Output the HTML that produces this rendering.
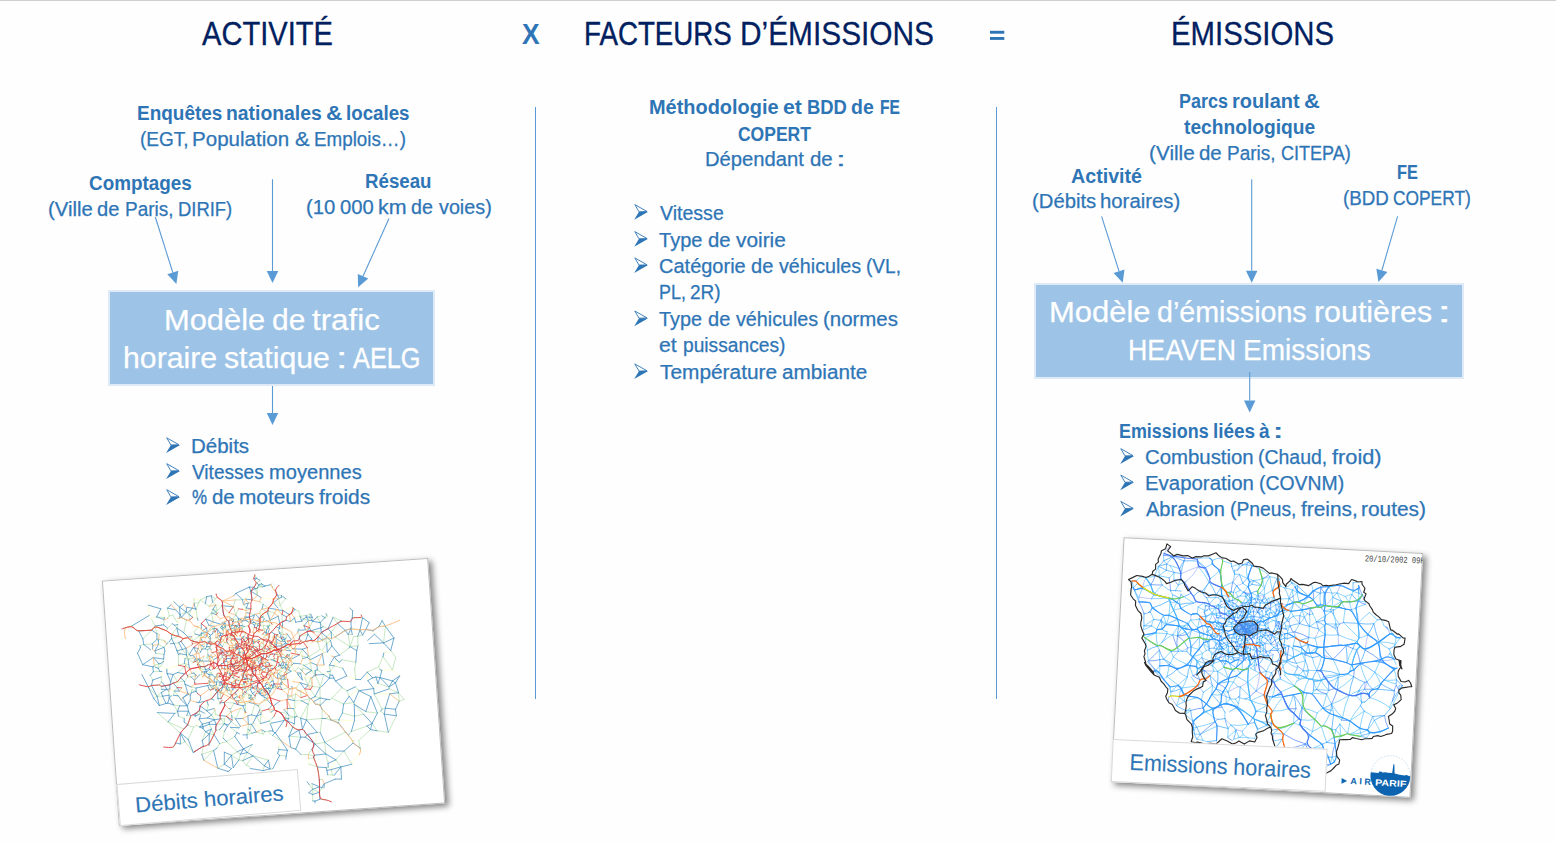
<!DOCTYPE html>
<html lang="fr"><head><meta charset="utf-8"><title>Activité x Facteurs d’émissions = Émissions</title>
<style>
html,body{margin:0;padding:0;}
body{width:1556px;height:844px;overflow:hidden;background:#fefefe;position:relative;font-family:"Liberation Sans",sans-serif;}
.t{position:absolute;white-space:nowrap;transform-origin:0 0;font-weight:400;-webkit-text-stroke:0.25px currentColor;}
.t.b{font-weight:700;-webkit-text-stroke:0;}
.box{position:absolute;background:#9dc3e6;border:2px solid #deebf7;}
.vl{position:absolute;width:1px;background:#5b9bd5;top:106.5px;height:592.5px;}
#topline{position:absolute;left:0;top:0;width:1556px;height:1px;background:#cfcfcf;}
svg.ov{position:absolute;left:0;top:0;}
</style></head><body>
<div id="topline"></div>
<div class="vl" style="left:535px"></div>
<div class="vl" style="left:996px"></div>
<style>
.card{position:absolute;background:#fff;box-sizing:border-box;outline:1px solid #bdbdbd;outline-offset:-1px;
 box-shadow:3.5px 3px 6px rgba(0,0,0,0.48);transform-origin:50% 50%;overflow:visible;}
.card svg{position:absolute;left:0;top:0;overflow:hidden;}
.lab{position:absolute;background:#fff;border:1px solid #d9d9d9;box-sizing:border-box;transform-origin:0 100%;}
.lab span{position:absolute;white-space:nowrap;color:#2e75b6;transform-origin:0 0;-webkit-text-stroke:0.12px #2e75b6;}
</style><div class="card" style="left:109.6px;top:569.0px;width:327.4px;height:246.1px;transform:rotate(-3.97deg);"><svg width="327.4" height="246.1" viewBox="0 0 327.4 246.1"><g fill="none" stroke-linecap="round" stroke-linejoin="round" opacity="0.85"><path d="M139.6,67.0L139.9,70.1M113.4,121.8L117.4,119.6M140.9,80.7L143.9,80.9M111.6,97.0L113.8,96.3M129.9,105.9L131.0,108.3M101.5,62.4L100.9,62.1M132.7,94.2L131.2,95.0M109.0,74.2L110.2,73.1M171.3,107.5L170.4,109.7M79.8,82.2L83.3,81.1M159.0,79.6L159.4,82.1M131.5,90.1L129.3,89.3M100.8,112.3L99.5,115.9M147.7,91.9L148.9,90.5M131.1,64.4L128.1,64.6M128.1,65.6L125.3,67.3M139.8,95.7L139.3,95.7M134.4,105.4L135.0,101.9M90.6,24.3L96.8,26.2M142.9,77.8L142.4,75.5M179.7,86.8L175.4,85.9M140.4,89.8L140.5,89.3M141.8,64.4L144.2,61.8M154.0,110.2L154.2,110.9M178.3,71.8L176.5,73.1M104.0,65.8L103.1,63.6M123.9,80.8L125.1,80.6M239.3,179.4L239.2,177.3M135.4,92.1L135.5,90.7M93.2,98.0L91.1,95.3M184.3,79.3L183.2,83.1M128.8,66.4L131.1,64.4M153.4,102.4L150.9,100.8M170.8,85.9L170.5,87.8M145.3,42.7L144.6,46.6M103.8,52.2L107.2,55.7M184.3,79.3L182.6,78.4M118.8,107.9L120.0,106.7M172.4,115.8L174.0,115.5M192.4,63.1L192.5,61.8M147.7,63.4L146.9,61.8M117.3,107.9L116.6,110.5M91.4,34.9L88.0,42.8M211.1,76.3L207.7,74.6M75.6,109.1L72.2,112.5M97.5,131.6L93.9,127.6M243.7,45.5L245.5,44.5M172.5,151.3L172.7,149.8M138.9,96.0L138.3,96.2M183.6,97.5L180.1,99.1M162.7,118.6L161.3,116.7M157.3,55.7L158.0,56.7M109.5,59.1L110.1,61.3M157.9,79.2L156.7,78.3M148.6,95.4L147.2,97.4M135.4,87.1L136.7,87.1M167.1,80.6L163.9,79.6M224.1,75.8L219.4,73.2M102.3,64.2L99.3,64.1M180.3,102.0L178.0,105.7M135.3,71.1L135.5,71.7M141.6,79.1L141.3,79.5M178.5,111.2L183.6,113.9M158.7,110.6L154.3,109.7M147.5,78.4L148.0,79.6M75.6,74.3L72.7,78.3M225.9,101.1L231.5,97.9M174.6,73.4L174.6,74.8M170.2,74.6L168.4,74.1M127.6,90.3L128.4,91.3M134.9,123.3L138.5,124.2M162.7,118.6L162.8,119.4M84.3,151.0L87.5,145.3M104.0,151.4L109.3,146.1M154.6,73.1L153.2,71.5M201.1,65.1L193.6,68.6M122.7,73.4L122.1,75.3M115.9,55.4L115.4,55.6M183.6,97.5L185.2,103.1M174.9,73.0L175.1,70.3M186.5,120.4L186.7,121.9M56.9,32.2L59.8,41.1M140.4,87.7L141.3,87.5M138.7,79.2L137.6,77.6M125.5,103.3L128.5,102.1M153.5,94.1L151.4,94.5M138.2,73.8L139.0,73.4M101.2,125.7L96.5,126.9M104.3,141.4L102.6,146.6M211.9,121.0L210.7,120.7M107.7,69.0L107.2,70.6M92.9,68.7L93.7,68.3M279.3,132.9L263.9,132.0M153.2,71.5L155.0,69.0M142.2,28.4L147.7,20.6M114.9,66.6L116.1,67.3M112.9,101.3L114.3,102.9M138.3,83.7L139.0,83.3M126.6,89.2L127.6,89.4M160.9,60.5L158.8,62.4M132.2,77.3L134.4,75.8M143.1,74.7L144.8,77.5M128.6,96.8L127.4,94.3M139.0,83.3L140.4,84.6M115.1,115.1L116.6,114.4M132.0,134.6L128.3,129.4M139.2,99.9L138.7,99.1M194.3,88.7L191.9,87.7M52.5,100.2L53.5,94.8M141.8,42.0L141.6,40.0M119.6,54.0L118.7,51.8M167.7,172.2L164.8,177.9M173.6,83.5L169.5,83.7M142.5,95.3L141.1,95.0M139.4,71.5L138.6,70.8M92.9,68.7L93.7,71.1M140.9,117.1L139.6,116.7M88.0,42.8L92.6,44.1M146.3,86.9L145.9,87.2M199.8,74.9L200.4,81.1M116.6,117.7L111.6,118.2M102.2,97.2L100.9,98.8M133.4,126.0L138.6,127.5M105.7,103.6L107.0,104.1M198.6,58.9L194.7,61.4M122.2,77.1L122.6,76.3M171.6,115.8L170.5,117.6M139.6,67.0L137.6,68.5M151.3,60.9L153.0,61.3M190.5,133.5L183.8,140.4M152.0,91.2L153.9,90.2M194.3,101.2L195.5,98.4M131.4,80.6L132.2,79.9M182.2,77.4L180.9,76.5M115.8,96.4L115.3,96.5M119.5,64.6L120.9,66.1M169.3,90.3L170.9,94.1M79.8,82.2L81.9,79.8M144.9,53.1L143.0,55.2M169.3,90.3L174.6,91.8M143.7,85.3L143.5,87.9M118.3,33.4L111.9,32.1M197.2,137.6L203.0,135.4M166.3,92.0L166.4,93.0M116.1,67.3L117.3,67.3M144.1,94.2L145.4,96.2M47.2,90.0L51.2,86.9M114.0,86.3L114.3,89.4M154.0,110.2L150.0,110.7M150.6,79.0L152.3,78.9M151.4,85.3L149.2,81.3M123.7,147.1L120.3,148.2M114.4,60.4L117.5,57.9M95.5,137.0L93.2,139.4M111.3,68.3L113.0,66.9M157.9,67.7L159.6,66.1M159.8,100.8L160.9,101.1M166.8,68.2L163.1,67.8M158.3,58.7L159.3,59.0M130.6,77.0L132.2,77.3M131.0,108.3L130.8,105.7M130.6,77.0L130.6,76.7M132.2,127.1L129.5,126.7M144.3,58.8L148.9,57.2M144.2,91.8L144.7,91.1M142.7,50.9L143.9,51.3M123.8,65.7L124.0,65.3M48.7,128.6L52.5,119.5M118.7,87.7L118.0,86.9M152.3,96.7L152.1,95.3M153.3,88.6L153.4,89.6M92.6,92.4L92.0,91.2M126.6,89.2L126.9,88.8M159.3,59.0L160.9,60.5M181.4,75.1L183.4,73.1M90.5,125.0L90.3,124.1M129.5,77.6L130.6,78.1M125.3,62.3L126.3,60.3M160.8,113.2L158.7,110.6M190.4,54.9L185.5,54.0M89.3,140.9L87.7,140.3M125.4,121.0L121.7,123.2M128.9,56.4L129.3,55.6M176.0,104.6L173.3,102.9M171.9,41.6L171.9,40.7M206.6,104.5L207.1,108.9M131.0,108.3L129.8,109.0M146.4,74.7L146.3,73.9M163.3,105.5L164.8,105.4M133.0,88.8L131.5,90.1M75.4,140.4L72.6,143.1M134.1,88.6L133.0,88.8M157.2,60.7L158.8,62.4M160.8,113.2L161.9,115.7M151.2,104.5L152.9,104.2M167.7,92.4L169.3,90.3M221.0,195.0L215.8,204.4M131.1,64.4L131.8,61.5M146.8,75.2L149.0,77.1M141.6,113.1L144.7,111.2M127.8,118.5L130.1,116.4M145.2,119.0L145.1,121.4M150.1,87.0L151.0,87.1M134.4,37.6L129.3,35.1M223.8,91.1L220.0,86.9M114.1,129.6L111.7,127.6M162.3,99.2L162.1,96.9M101.8,87.7L99.7,91.4M158.0,96.0L154.8,96.0M139.1,89.4L138.4,88.3M157.5,89.5L157.0,89.2M136.5,103.3L137.9,102.9M115.0,113.6L116.6,114.4M140.9,80.7L139.0,83.3M146.9,71.3L148.1,69.7M103.0,88.0L103.7,87.3M105.7,103.6L105.5,105.2M53.7,88.9L58.6,92.8M103.7,75.9L103.3,75.7M159.8,83.1L159.4,82.1M160.8,113.2L159.5,113.6M162.2,147.6L159.5,143.1M190.2,100.3L185.7,95.8M104.2,112.8L104.8,109.0M68.5,106.3L71.7,102.4M215.1,84.5L214.9,88.1M183.4,85.2L183.7,85.4M107.0,111.7L108.3,115.0M103.8,52.2L101.2,54.5M152.3,10.5L154.4,12.8M131.4,94.0L131.4,93.0M196.6,54.3L198.6,58.9M120.6,59.6L117.5,61.4M166.4,93.0L166.3,97.1M127.8,118.5L129.6,123.9M150.5,113.1L149.9,111.6M161.0,93.5L160.2,91.1M146.0,156.5L148.3,153.6M169.7,104.5L168.5,104.2M174.9,91.8L175.0,93.4M192.7,166.4L192.1,170.3M114.1,129.6L119.7,125.7M139.4,110.9L140.3,108.5M138.9,95.0L137.1,94.0M176.0,104.6L178.0,105.7M124.2,89.3L126.2,89.5M133.9,64.8L131.8,61.5M193.7,191.8L193.7,197.3M72.7,46.9L72.7,49.1M141.1,125.1L140.9,125.4M174.3,64.5L176.2,64.0M139.0,79.2L139.9,79.1M236.6,200.5L246.3,188.3M149.8,99.5L148.6,99.7M143.1,74.7L142.5,75.2M143.2,84.1L143.7,85.3M178.4,88.6L178.2,90.0M196.9,108.3L201.5,111.6M127.8,68.9L128.9,72.7M156.2,40.8L158.4,44.3M150.4,53.3L150.3,53.0M93.5,87.2L92.0,91.2M176.9,109.0L175.2,107.2M214.8,109.0L217.7,106.1M147.4,82.7L146.3,84.7M258.4,109.6L258.4,118.2M131.1,54.0L130.7,54.7M163.7,56.1L162.2,56.7M140.0,144.2L140.7,153.1M93.2,98.0L92.1,94.7M111.1,100.7L111.7,100.4M90.3,150.1L95.9,144.3M179.3,72.7L178.3,71.8M193.2,112.9L195.7,110.7M140.4,84.6L141.8,85.3M97.5,72.9L97.9,70.3M153.3,59.6L151.3,60.9M199.8,63.1L201.1,65.1M100.4,109.4L98.8,109.9M139.5,47.5L140.9,49.8M108.2,101.3L109.0,100.4M157.8,105.6L155.9,106.8M72.2,112.5L78.0,118.7M147.4,121.2L146.5,122.8M127.8,118.5L132.4,122.3M152.1,118.5L153.2,117.0M102.1,70.1L100.6,71.1M121.2,104.9L121.2,103.5M91.3,74.4L95.0,75.3M189.4,107.8L183.6,113.9M173.5,99.9L174.2,102.1M91.7,79.1L92.9,78.5M154.9,52.0L153.4,49.3M140.4,87.7L140.0,88.4M132.0,134.6L130.3,128.5M105.3,86.9L103.7,87.3M125.6,115.1L129.3,115.3M145.3,42.7L147.0,38.4M157.2,151.7L149.4,144.4M47.1,42.4L47.0,40.7M181.7,48.9L184.6,46.7M118.6,98.6L118.1,96.6M109.0,53.4L107.2,55.7M144.5,103.4L143.0,103.6M203.6,96.5L203.0,93.1M135.4,87.1L135.4,88.0M169.0,105.2L168.5,104.2M195.7,110.7L201.5,111.6M116.2,196.5L118.1,195.6M148.3,52.2L149.3,55.2M134.2,58.1L133.9,57.0M71.7,34.3L75.6,31.8M114.7,143.9L113.0,146.4M119.7,136.9L119.2,138.9M99.7,68.8L98.6,67.9M162.3,101.5L161.9,101.0M129.6,123.9L132.4,122.3M110.7,118.5L109.9,118.0M121.3,102.5L121.8,102.1M144.1,70.0L145.6,71.2M95.8,54.8L96.6,56.9M155.4,89.7L153.9,90.2M156.6,64.6L153.3,62.8M107.1,156.9L111.8,159.0M98.7,109.8L98.8,109.9M167.5,101.3L162.3,101.5M204.2,166.3L201.5,177.9M85.5,98.7L91.1,95.3M181.7,90.9L181.4,88.3M194.3,88.7L195.3,82.3M206.5,108.9L206.6,109.7M283.3,89.8L276.3,91.6M79.8,82.2L80.6,84.1M151.5,120.7L151.6,123.6M156.6,64.6L157.9,67.7M161.9,119.4L162.8,119.4M144.6,46.6L140.9,49.8M132.6,84.2L130.9,81.9M215.1,84.5L212.9,84.0M192.9,71.8L191.7,73.7M158.9,113.5L158.0,115.0M149.2,97.5L150.0,97.6M135.9,121.7L135.8,122.1M145.6,97.5L147.0,100.1M148.8,110.0L146.4,104.8M124.0,78.3L122.9,78.7M118.6,98.6L117.5,96.9M108.7,36.6L105.4,33.1M268.2,121.7L263.7,126.5M178.0,94.5L176.1,94.2M166.8,55.3L170.5,58.0M136.4,51.2L137.7,50.0M64.7,115.2L60.3,112.8M131.5,90.1L130.0,91.2M161.0,90.3L162.3,90.8M179.3,121.2L178.7,119.6M183.4,85.2L182.1,86.8M93.1,52.8L96.2,49.6M172.8,80.9L173.1,81.9M170.2,74.8L174.3,73.1M171.2,106.5L175.2,107.2M188.1,39.4L178.5,42.5M144.5,83.0L144.9,81.5M109.0,78.7L110.6,77.6M119.5,98.7L119.5,96.3M174.6,73.4L174.3,73.1M173.5,41.2L173.5,47.7M158.7,110.6L159.3,110.0M124.7,40.8L122.4,44.5M115.0,109.7L117.3,107.9M70.1,75.1L72.5,67.3M107.6,125.7L110.2,119.9M125.0,105.3L124.6,106.1M139.4,110.9L137.3,112.5M120.2,143.6L114.7,143.9M212.9,201.7L215.8,204.4M175.0,93.4L170.9,94.1M225.9,101.1L228.6,95.2M96.6,93.2L92.1,94.7M131.4,80.6L130.6,78.1M109.7,64.8L104.7,65.6M182.5,103.5L185.2,103.1M110.5,93.2L109.3,92.5M108.7,117.8L107.0,116.6M265.7,151.2L269.1,149.5M125.0,56.9L126.3,60.3M169.0,105.2L169.7,104.5M245.6,58.6L236.0,56.6M138.0,86.6L138.4,86.5M156.7,118.7L156.6,118.0M162.4,42.3L158.4,44.3M163.7,59.3L162.7,59.1M182.1,118.6L179.3,121.2M111.9,63.3L111.6,64.8M131.9,81.4L131.4,80.6M143.3,83.9L143.2,84.1M167.1,80.6L167.1,78.5M136.9,111.9L134.6,113.0M121.0,82.1L119.2,83.6M127.0,107.9L125.1,106.5M155.5,53.1L154.5,53.3M170.2,74.8L170.2,74.6M155.2,43.4L158.4,44.3M108.2,48.9L109.0,53.4M205.4,76.5L200.4,81.1M127.8,81.8L126.8,81.5M147.2,89.7L146.3,90.3M163.9,76.4L163.2,76.6M215.7,74.9L211.1,76.3M142.0,105.2L143.3,107.0M70.5,89.7L58.6,92.8M169.7,33.9L176.1,36.9M148.1,71.9L148.1,69.7M141.1,125.1L144.8,125.4M120.5,96.4L121.4,94.6M108.8,117.7L108.9,117.4M160.8,97.0L159.9,99.0M220.3,71.9L225.1,74.1M80.6,84.1L77.9,89.0M134.9,80.6L135.9,81.4M96.6,56.9L95.7,59.3M113.5,62.9L113.6,63.3M109.0,78.7L108.3,82.5M162.3,99.2L159.9,99.0M121.0,82.1L118.7,82.8M135.6,117.4L133.2,113.3M121.8,48.5L120.3,44.5M127.6,89.4L126.9,88.8M139.9,127.3L138.5,124.2M123.0,90.2L123.0,88.7M89.5,90.3L88.0,86.9M109.7,64.8L110.0,68.7M115.3,96.5L114.8,95.9M126.0,104.1L125.5,103.3M182.4,76.8L184.3,75.7M145.7,115.9L143.1,116.8M80.6,84.1L83.3,81.1M132.7,118.6L134.7,120.7M155.4,56.1L157.3,55.7M116.2,64.0L117.3,67.3M173.0,114.1L175.2,111.6M156.7,78.3L158.7,75.8M192.4,102.3L194.3,101.2M125.0,56.9L128.6,57.9M110.5,93.2L109.7,95.4M283.7,109.1L290.5,115.7M169.0,105.2L170.7,106.0M195.3,49.3L189.6,50.4M158.2,112.6L158.7,110.6M179.3,72.7L180.9,73.1M120.3,148.2L119.2,149.5M124.9,128.9L123.3,131.4M138.1,87.3L139.0,87.3M126.2,94.6L124.6,93.6M149.9,71.5L150.7,70.4M169.1,101.6L167.5,101.3M174.7,81.6L173.1,81.9M157.2,82.0L156.8,83.3M187.6,122.7L185.6,126.3M165.2,142.1L169.4,143.9M181.1,52.4L181.2,50.9M95.8,54.8L93.1,52.8M132.2,77.3L130.6,78.1M137.3,82.4L136.4,84.2M122.5,91.9L123.2,91.0M160.2,122.1L156.5,121.1M126.2,97.8L128.6,101.2M156.4,113.9L154.2,110.9M139.9,79.1L139.9,79.3M163.6,94.8L161.4,94.9M139.0,61.9L137.1,59.7M108.2,48.9L111.7,41.8M170.2,74.6L174.3,73.1M143.2,102.8L144.0,101.4M123.0,114.0L124.7,115.7M128.6,50.0L127.7,50.0M118.4,84.5L116.5,85.9M85.7,62.0L89.3,59.8M224.9,81.0L219.9,78.1M145.6,50.8L145.7,51.1M156.4,69.6L157.1,70.6M72.7,122.5L68.1,120.2M83.4,65.0L82.1,62.4M145.2,128.2L144.7,126.7M146.0,156.5L140.7,153.1M157.0,115.0L158.0,115.0M93.7,68.3L96.4,68.3M132.2,79.9L130.6,78.1M137.1,59.7L136.4,60.6M142.9,103.2L143.2,102.8M120.3,44.5L119.8,49.1M100.9,116.7L102.1,114.6M144.1,94.2L143.0,94.5M162.5,58.4L162.6,58.0M124.7,45.1L124.7,40.8M100.9,116.7L101.2,125.7M152.3,10.5L151.4,8.2M157.8,98.2L157.7,97.3M162.7,118.6L161.9,119.4M169.5,30.2L157.7,28.0M113.4,121.8L119.7,125.7M134.4,105.4L137.1,104.8M120.3,68.5L117.1,68.0M57.8,64.0L52.0,67.5M190.8,124.3L194.9,122.0M207.1,108.9L206.5,108.9M135.0,101.9L135.9,101.8M118.2,63.0L120.1,63.5M112.0,87.2L114.0,86.3M205.1,221.9L207.2,222.2M137.3,82.4L135.9,81.8M52.1,40.0L47.0,40.7M141.6,111.2L141.1,110.9M68.5,106.3L67.8,111.9M70.3,25.9L67.5,28.7M157.3,55.7L155.5,53.1M170.2,70.1L172.6,68.5M136.5,90.6L136.2,91.5M134.4,75.8L135.4,73.7M208.8,104.0L215.8,99.5M137.2,75.6L134.4,75.8M154.4,56.1L154.5,53.3M92.3,62.7L94.4,63.6M142.2,37.3L138.4,38.4M79.3,80.0L81.9,79.8M169.5,19.4L171.6,21.2M139.9,70.1L142.5,71.8M139.8,73.1L139.0,72.2M144.7,80.8L147.1,80.5M139.0,79.2L138.7,79.2M130.0,60.2L128.5,59.2M77.6,83.5L72.7,78.3M153.2,5.5L151.4,8.2M238.7,132.6L248.1,126.5M120.6,59.6L120.5,58.4M166.0,73.5L168.4,74.1M173.6,86.5L173.2,88.4M117.3,93.3L118.1,96.6M133.3,85.5L135.6,82.9M138.2,76.9L137.6,77.6M118.6,98.6L116.4,100.5M165.2,73.0L166.8,71.2M149.0,159.8L146.0,156.5M283.7,109.1L273.1,108.9M131.3,147.2L133.5,142.0M118.1,96.6L119.5,96.3M69.3,96.9L71.7,102.4M203.0,135.4L204.6,130.5M44.5,27.6L44.9,38.0M237.7,112.0L246.4,116.2M157.9,79.2L157.6,79.7M120.5,69.6L122.4,71.7M170.4,115.6L171.2,114.4M268.3,72.4L266.9,68.9M101.5,62.4L102.3,64.2M142.4,86.6L143.7,85.3M242.3,157.2L226.9,155.6M163.7,60.4L165.6,62.9M160.4,63.7L162.0,63.6M146.4,104.8L147.0,100.1M129.9,105.9L128.4,108.8M74.9,42.6L72.7,46.9M141.3,107.0L142.4,107.5M118.9,56.1L117.8,55.3M206.6,104.5L203.1,104.2M173.3,102.9L170.7,106.0" stroke="#ffffbf" stroke-width="0.75"/><path d="M154.4,119.5L156.5,121.1M158.3,55.9L162.2,56.7M126.8,48.6L125.1,48.4M128.0,189.4L124.3,188.3M113.0,146.4L112.3,151.2M259.7,161.2L264.2,168.9M150.5,118.8L148.3,118.0M176.1,36.9L175.2,30.1M134.9,123.3L133.4,126.0M185.6,126.3L181.3,128.4M176.4,98.7L174.9,97.1M156.2,46.2L155.2,43.4M119.4,79.6L116.4,76.5M129.7,113.4L129.8,109.0M172.5,151.3L176.8,150.4M124.5,63.3L124.0,65.3M175.1,70.3L174.0,68.7M135.1,77.0L136.1,78.7M210.2,121.5L202.6,120.1M85.5,87.9L80.6,84.1M135.6,117.4L139.6,116.7M137.3,53.3L136.5,54.5M232.2,59.1L225.2,67.4M176.1,36.9L178.5,42.5M56.1,52.3L61.2,54.3M130.0,60.2L130.9,57.9M99.5,83.9L101.8,87.7M140.4,87.7L140.5,88.6M163.7,56.1L163.7,56.8M137.1,94.0L135.9,93.5M75.2,164.5L81.4,152.6M71.5,52.4L69.4,49.6M268.2,121.7L279.2,125.9M108.7,117.8L108.8,117.7M220.2,52.6L219.9,52.3M159.5,75.1L160.8,72.5M183.6,97.5L181.3,100.3M127.8,125.9L123.6,126.8M283.3,89.8L287.9,97.1M109.0,53.4L109.3,55.4M103.1,63.6L102.3,64.2M131.3,194.2L134.9,196.2M195.3,49.3L201.3,48.9M185.2,103.1L186.7,103.6M71.5,52.4L72.7,49.1M221.4,106.2L221.2,100.0M99.7,177.2L87.7,180.1M224.1,75.8L219.9,78.1M137.7,65.5L139.5,63.0M183.2,83.1L185.8,81.1M153.8,121.0L151.6,123.6M177.7,97.3L176.4,98.7M113.3,40.3L111.9,39.5M137.1,77.8L136.1,78.7M202.1,93.1L202.1,89.8M134.4,37.6L131.2,43.7M142.2,28.4L138.9,28.8M147.3,89.8L148.9,90.5M75.6,74.3L79.3,80.0M134.4,105.4L136.2,108.0M120.6,59.6L122.4,59.8M126.6,89.2L126.2,89.5M118.3,33.4L112.9,37.8M56.9,77.8L48.7,76.3M78.5,119.4L80.3,120.5M145.3,42.7L150.0,44.8M140.2,77.4L139.9,79.1M61.2,54.3L62.3,52.1M154.8,199.5L157.4,199.6M98.6,67.9L97.9,70.3M182.2,77.4L184.4,77.4M136.8,110.7L135.9,108.4M134.5,90.8L132.0,92.2M91.0,100.8L93.0,100.5M134.1,163.8L137.2,159.7M121.8,164.6L117.9,166.8M99.1,75.5L100.6,76.2M138.4,104.0L137.9,102.9M163.9,76.4L164.7,74.8M132.8,97.1L133.2,98.1M149.7,142.3L151.4,141.0M150.7,70.4L148.1,69.7M184.4,76.7L184.4,77.4M198.9,191.4L193.7,191.8M177.3,99.0L180.1,99.1M139.2,91.8L139.2,90.7M115.9,55.4L116.5,53.6M195.3,49.3L194.3,44.1M101.1,73.2L102.0,73.3M136.4,51.2L137.3,53.3M113.5,112.7L114.5,111.5M96.8,26.2L101.7,30.0M138.9,95.0L139.5,93.9M70.3,43.5L68.5,39.3M148.0,79.6L150.3,80.5M122.8,126.3L123.6,126.8M51.8,112.6L51.8,109.7M154.6,73.1L157.1,70.6M125.0,56.9L127.4,59.3M166.8,55.3L164.8,56.7M178.4,101.6L178.0,105.7M144.6,79.1L147.1,80.5M119.6,54.0L117.8,55.3M111.0,102.9L108.2,101.3M149.2,195.9L147.7,200.7M165.3,186.6L171.7,187.8M220.3,71.9L225.2,67.4M196.9,108.3L203.1,104.2M118.1,114.2L116.9,111.8M128.8,53.7L130.1,54.2M45.8,66.7L37.4,66.7M107.1,119.0L108.1,118.6M160.6,104.4L162.4,103.0M164.0,104.2L165.8,103.9M132.2,127.1L130.3,128.5M194.7,61.4L193.4,62.5M183.6,97.5L179.3,96.8M135.4,88.0L136.7,87.1M63.3,42.4L63.1,41.4M177.2,147.6L176.8,150.4M147.3,73.4L148.1,71.9M151.3,60.9L149.5,62.4M183.0,93.0L181.3,91.3M109.0,117.2L108.9,117.4M152.4,50.8L150.3,53.0M156.7,128.9L157.0,129.6M128.0,47.0L128.4,47.9M217.1,150.7L211.0,143.9M100.8,112.3L100.4,111.3M149.0,159.8L150.3,164.3M156.3,15.3L157.7,17.1M99.7,68.8L102.1,68.5M103.6,157.2L107.1,156.9M169.1,101.6L173.3,102.9M206.4,213.7L203.2,213.4M95.5,171.8L101.1,161.1M272.5,152.7L269.1,149.5M175.9,168.2L187.6,169.9M100.4,109.4L100.4,111.3M101.5,59.1L96.6,56.9M190.8,115.6L190.4,115.5M104.3,141.4L107.9,142.6M155.8,32.0L159.3,34.8M246.1,105.7L247.7,99.0M78.1,57.7L81.7,45.3M206.6,104.5L205.8,108.7M225.5,202.4L221.0,195.0M163.7,56.1L164.0,56.8M146.6,87.4L145.9,87.2M97.5,72.9L95.0,75.3M161.3,116.7L160.5,119.1M162.4,42.3L157.7,39.5M138.3,110.4L138.0,108.6M124.3,160.8L118.0,155.3M222.3,63.6L217.5,61.3M127.4,94.3L128.9,91.6M153.2,5.5L154.3,8.3M170.8,85.9L172.9,86.5M129.9,105.9L127.0,107.9M165.7,75.3L164.7,74.8M159.9,128.6L158.1,124.2M142.6,79.0L141.6,79.1M134.4,105.4L136.5,103.3M129.6,85.8L133.0,88.8M92.1,35.0L95.3,28.4M135.5,158.5L134.1,163.8M109.3,146.1L112.3,151.2M80.8,89.8L77.9,89.0M169.7,104.5L173.3,102.9M103.0,74.8L102.0,73.3M98.9,155.7L97.2,150.7M107.0,39.9L101.0,45.6M265.7,151.2L254.3,149.0M112.9,37.8L111.9,39.5M178.5,111.2L177.3,110.6M186.5,187.1L193.9,187.8M115.9,55.4L116.3,56.0M118.4,84.5L116.4,83.0M100.1,141.6L102.6,146.6M148.5,51.7L148.3,52.1M159.4,17.4L157.7,17.1M211.8,50.3L212.6,51.1M141.3,107.0L142.0,105.2M198.9,191.4L202.4,200.9M79.3,177.8L71.7,166.4M163.2,76.6L162.4,79.8M176.4,98.7L177.3,99.0M264.2,168.9L275.3,171.2M65.8,58.9L71.5,52.4M65.5,62.6L72.9,61.0M112.2,79.6L110.6,77.6M142.9,129.2L145.2,128.2M126.0,54.2L123.8,53.6M130.6,77.0L129.5,77.6M166.2,90.1L166.4,91.6M104.3,141.4L103.8,137.0M132.9,108.6L131.9,109.2M134.2,58.1L136.3,57.0M125.0,105.3L122.8,103.5M139.1,162.7L134.1,163.8M132.8,97.1L131.2,97.9M178.1,29.0L179.6,28.5M147.6,135.9L148.7,137.4M107.6,109.2L110.6,109.5M248.1,126.5L249.0,127.6M283.7,109.1L287.9,97.1M131.3,194.2L128.0,189.4M156.6,64.6L159.6,66.1M88.4,136.5L87.7,140.3M110.6,109.5L111.5,109.4M86.2,66.7L92.3,62.7M115.0,109.7L116.6,110.5M155.7,162.2L156.6,161.4M139.2,91.8L141.4,93.7M151.7,119.6L151.5,120.7M176.2,111.2L177.3,110.6M94.7,86.8L95.1,87.3M128.6,57.9L128.9,56.4M199.8,74.9L198.9,74.3M246.1,71.1L242.1,70.8M139.9,127.3L140.0,128.9M142.5,75.2L142.4,75.5M96.8,26.2L103.4,23.3M198.6,52.2L195.3,49.3M78.9,102.1L75.4,106.3M51.2,86.9L50.1,91.3M208.6,234.1L202.3,233.3M208.8,104.0L214.8,109.0M64.8,40.1L68.5,39.3M219.4,73.2L219.9,78.1M214.8,109.0L210.7,120.7M137.0,88.6L137.4,88.1M75.4,140.4L79.2,140.9M112.1,26.0L109.0,29.1M139.1,162.7L137.2,159.7M154.3,18.4L157.7,17.1M137.0,99.6L136.6,98.7M155.5,122.8L156.5,121.1M135.5,90.7L134.8,90.7M99.7,73.4L98.8,75.2M202.6,120.1L201.5,111.6M232.2,123.2L236.8,126.9M119.8,117.4L117.6,117.7M172.3,87.8L172.9,86.5M108.7,117.8L108.8,118.1M128.4,47.9L133.9,47.4M128.8,76.5L129.5,77.6M87.0,85.8L88.0,86.9M178.1,80.9L181.2,79.9M155.7,162.2L158.3,165.6M130.9,57.9L128.9,56.4M153.0,93.1L152.0,91.2M107.0,111.7L110.6,112.8M170.4,109.7L171.0,110.4M167.1,78.5L164.2,77.1M220.2,52.6L222.7,51.2M143.8,97.9L143.7,98.3M288.3,140.9L293.2,139.5M180.1,128.2L177.6,126.8M195.5,217.1L195.8,222.7M159.0,14.2L157.7,17.1M147.5,78.4L146.2,75.9M103.9,81.9L103.2,81.8M176.2,111.2L175.2,111.6M191.9,87.7L195.3,82.3M152.3,96.7L154.8,96.0M165.0,180.8L164.8,177.9M64.7,115.2L67.8,111.9M175.0,65.8L177.6,66.2M176.0,145.3L176.2,140.5M136.3,57.0L139.1,55.8M182.2,77.4L182.4,76.8M102.9,99.5L103.4,101.5M109.3,146.1L107.9,142.6M175.0,65.8L174.3,64.5M163.7,56.1L165.5,53.3M142.2,93.2L143.7,92.1M141.5,89.1L140.5,89.3M75.6,109.1L76.0,109.2M149.4,144.4L148.3,153.6M70.1,75.1L72.7,78.3M150.7,70.4L151.5,70.1M112.2,79.6L114.1,80.3M207.3,166.6L204.2,166.3M90.4,29.0L95.3,28.4M102.2,97.2L102.8,96.9M141.0,127.6L139.9,127.3M167.0,99.5L170.3,97.9M119.4,79.6L122.9,78.7M77.4,90.8L77.9,89.0M232.6,139.9L242.9,139.0M159.2,117.9L160.1,116.4M117.2,183.2L123.1,180.1M133.2,113.3L134.6,113.0M165.7,75.3L163.9,76.4M111.8,159.0L110.0,165.4M124.0,78.3L125.4,75.8M130.3,96.0L131.2,97.9M202.4,226.2L205.1,221.9M100.9,98.8L102.9,99.5M142.2,37.3L141.6,40.0M119.2,118.6L121.7,119.2M145.3,94.2L144.1,94.2M52.7,62.5L50.9,62.4M153.7,81.5L157.2,82.0M156.7,78.3L156.4,74.1M238.7,132.6L236.8,126.9M159.0,14.2L159.4,17.4M41.6,98.0L43.9,102.7M142.4,86.6L141.5,86.3M49.9,49.0L46.5,52.7M121.7,123.2L121.7,119.2M86.2,66.7L85.7,62.0M245.6,123.5L248.1,126.5M135.9,92.8L137.4,91.9M147.1,50.4L145.7,51.1M112.1,26.0L113.4,24.6M283.7,109.1L275.2,95.3M230.1,138.5L221.3,133.3M120.3,63.4L120.1,63.5M242.1,70.8L243.0,83.0M126.2,182.8L123.1,180.1M135.6,117.4L134.6,113.0M171.6,66.5L171.3,66.2M118.7,87.7L118.7,89.0M184.0,133.1L183.8,140.4M158.3,58.7L158.0,56.7M100.9,103.2L103.4,101.5M100.9,108.7L99.5,107.5M163.8,96.4L166.3,97.1M177.0,59.4L173.9,59.8M175.0,77.6L177.7,78.6M229.8,186.8L236.6,200.5M139.5,153.7L137.2,159.7M119.8,55.3L121.7,58.1M107.0,39.9L111.9,39.5M218.8,154.9L226.8,155.2M81.7,117.9L81.9,115.6M118.7,51.8L120.1,53.8M75.8,150.1L81.4,152.6M129.9,83.2L130.9,81.9M166.7,118.3L167.4,119.7M148.8,88.4L148.9,90.5M173.0,114.1L174.0,115.5M131.0,70.8L135.2,68.1M143.3,83.9L144.5,83.0M125.3,62.3L129.2,62.5M109.2,70.0L107.7,69.0M211.3,188.4L213.0,197.9M131.2,43.7L128.0,47.0M125.3,109.2L125.1,106.5M39.1,109.6L42.2,107.9M71.4,153.6L56.2,145.6M120.1,122.5L117.4,119.6M178.4,88.6L175.4,85.9M111.7,41.8L111.9,39.5M115.4,79.9L114.1,80.3M50.5,107.9L47.6,108.2M148.8,110.0L150.0,110.7M104.8,79.6L108.3,82.5M211.2,176.7L201.5,177.9M109.9,118.0L108.9,117.4M167.1,78.5L163.9,79.6M163.2,64.6L163.1,67.8M143.8,90.3L144.9,90.5M245.3,105.6L246.1,105.7M180.1,128.2L181.3,128.4M112.9,37.8L111.9,32.1M242.9,139.0L243.2,140.8M132.2,124.5L133.4,126.0M95.5,137.0L97.5,131.6M157.2,82.0L159.4,82.1M197.4,183.2L193.9,187.8M251.8,151.4L243.2,140.8M247.4,73.1L243.0,83.0M166.7,118.3L163.7,116.2M228.1,52.6L232.2,59.1M121.1,101.6L121.2,100.5M187.6,122.7L186.7,121.9M279.2,125.9L279.1,127.8M129.6,85.8L133.3,85.5M82.0,37.2L83.2,38.1M275.3,171.2L284.4,155.2M115.9,55.4L115.3,54.8M113.1,113.0L113.1,114.4M171.3,107.5L171.2,106.5M154.4,119.5L152.4,119.8M126.3,123.0L127.1,124.7M47.0,119.2L51.6,115.7M103.4,175.0L106.2,170.7M182.8,90.6L184.7,91.0M138.7,91.3L139.2,90.7M52.7,62.5L57.8,64.0M159.7,101.2L160.9,101.1M144.9,146.0L148.3,153.6M138.5,185.2L153.8,190.7M104.9,84.0L105.0,85.6M288.2,132.4L293.2,139.5M53.7,88.9L50.1,91.3M81.7,117.9L78.5,119.4M141.0,127.6L140.9,125.4M239.2,177.3L240.7,177.1M145.6,50.8L143.9,51.3M163.7,41.9L165.1,51.1M118.8,115.5L119.8,117.4M215.3,50.6L212.6,51.1M154.9,52.0L155.5,53.1M99.7,177.2L89.2,186.3M84.7,138.8L87.7,140.3M146.8,32.4L144.6,32.4M202.4,226.2L195.8,222.7M226.2,158.2L226.9,155.6M216.5,209.9L215.8,204.4M119.6,93.2L119.7,89.9M127.1,124.7L127.8,125.9M115.0,113.6L113.1,114.4M142.6,109.5L144.7,111.2M173.2,62.5L173.3,63.1M111.6,97.0L109.7,95.4M136.2,108.0L138.0,108.6M137.0,99.6L138.7,101.3M211.2,176.7L211.3,188.4M177.4,46.3L177.3,53.4M209.6,132.2L204.6,130.5M171.6,66.5L173.5,64.9M202.3,96.7L195.5,98.4M143.1,74.7L146.2,75.9M139.0,73.4L137.7,72.7M203.6,96.5L202.3,96.7M89.0,166.4L92.9,157.9M186.5,120.4L190.4,115.5M159.8,115.6L158.2,115.1M213.9,153.2L218.8,154.9M154.3,18.4L154.3,25.5M153.3,86.8L153.3,88.6M184.0,133.1L190.5,133.5M238.4,167.9L236.2,170.4M128.8,66.4L128.1,65.6M137.9,102.8L137.9,102.9M152.9,75.7L149.0,77.1M232.2,123.2L221.3,133.3M115.6,74.2L118.0,70.3M156.2,46.2L155.0,48.4M65.8,58.9L72.9,61.0M150.3,164.3L143.7,161.6M123.9,57.9L123.5,57.8M119.7,136.9L123.3,131.4M137.0,88.8L136.8,89.0M132.6,84.2L133.5,81.1M144.3,133.5L140.0,144.2M221.5,194.3L221.0,195.0M166.7,118.3L163.4,118.8M180.2,159.6L175.5,153.0M159.8,115.6L161.9,115.7M123.8,65.7L125.3,67.3M206.0,47.9L204.5,50.9M201.9,68.0L193.6,68.6M56.2,145.6L67.7,157.5M138.1,87.7L138.4,88.3M137.7,65.5L137.6,68.5M205.8,108.7L206.5,108.9M242.7,152.8L251.8,151.4M89.8,172.0L87.7,180.1M136.6,119.9L135.6,117.4M59.0,118.9L61.3,119.9M228.7,72.4L243.0,83.0M163.0,73.6L162.1,70.4M68.5,106.3L64.5,98.6M124.9,68.8L124.6,70.0M288.2,132.4L288.3,140.9M168.3,66.5L168.4,65.3M82.0,102.0L86.8,101.5M134.5,90.8L132.1,90.6M190.2,100.3L186.7,103.6M69.5,115.5L72.2,112.5M127.4,94.3L126.2,94.6M279.7,65.3L276.7,81.6M133.3,85.5L132.6,84.2M93.6,61.3L94.4,63.6M245.1,177.4L246.3,185.1M170.8,85.9L169.6,85.8M251.4,73.3L251.0,82.8M140.1,46.0L140.1,47.1M190.8,124.3L190.5,130.5M120.2,143.6L123.7,147.1M160.6,83.9L162.5,83.3M193.7,197.3L202.4,200.9M52.3,63.5L50.9,62.4M162.1,70.4L163.1,67.8M158.7,75.8L156.4,74.1M120.2,143.6L119.9,140.0M113.5,112.7L115.0,113.6M177.0,69.0L179.6,70.2M144.4,105.5L144.5,105.1M186.2,81.2L191.9,87.7M204.6,130.5L200.6,123.0M134.4,105.4L133.3,104.8M125.8,74.4L127.1,73.6M80.6,84.1L77.6,83.5M192.4,96.7L195.5,98.4M144.1,70.0L142.5,71.8M88.0,86.9L92.4,86.1M156.7,78.3L152.9,75.7M123.4,105.7L122.8,103.5M172.4,115.8L173.0,114.1M154.3,48.4L153.4,49.3M46.3,88.1L51.2,86.9M275.2,95.3L270.1,105.1M150.3,164.3L152.3,161.9M113.4,169.2L117.9,166.8M132.7,94.2L135.5,92.6M146.5,52.9L145.7,51.1M156.7,78.3L154.8,79.8M212.9,84.0L211.1,76.3M109.3,146.1L113.0,146.4M160.5,119.1L161.9,119.4M93.2,98.0L93.0,100.5M47.0,119.2L52.5,119.5M131.7,54.5L131.7,54.9M159.8,115.6L159.5,113.6M174.5,79.4L173.4,77.5M88.0,86.9L90.3,89.8M124.5,95.6L124.7,95.6M95.3,61.3L94.5,61.2M132.7,118.6L133.2,113.3M233.9,95.5L247.7,99.0M178.0,94.5L178.2,90.0M129.3,35.1L131.2,43.7M180.2,159.6L182.1,156.2M173.6,83.5L175.7,82.2M53.7,88.9L55.9,85.0M210.7,202.0L212.9,201.7M94.7,86.8L96.7,82.3M112.1,26.0L108.2,22.7M66.5,135.5L63.1,129.0M156.2,46.2L157.6,47.4M133.3,181.5L138.7,173.9M142.0,89.1L143.5,87.9M128.1,64.6L124.0,65.3M157.6,52.6L155.5,53.1M129.5,77.6L127.6,78.6M172.8,80.9L174.5,79.4M182.2,77.4L182.6,78.4M151.7,119.6L152.4,119.8M176.3,68.6L177.6,66.2M166.2,90.1L163.1,90.5M178.5,73.4L178.3,71.8M154.4,99.6L152.5,100.0M246.3,185.1L246.3,188.3M180.3,102.0L181.3,100.3M215.3,66.8L204.8,64.5M102.8,106.6L100.9,108.7M94.3,101.7L95.3,101.8M182.1,30.6L183.3,31.1M180.2,159.6L186.1,162.9M113.5,62.9L114.5,62.8M258.4,109.6L270.1,105.1M153.8,121.0L152.4,119.8M124.7,85.5L126.7,83.8M105.4,33.1L109.0,29.1M124.5,95.6L124.6,93.6M185.7,95.8L183.0,93.0M153.3,88.6L151.0,87.1M167.1,80.6L169.0,78.7M52.1,40.0L59.8,41.1M86.3,117.0L82.4,115.1M118.7,82.8L119.2,83.6M117.2,183.2L124.3,188.3M167.9,15.7L169.8,18.1M151.2,104.5L152.0,106.9M138.5,124.2L138.6,127.5M214.9,57.0L212.6,51.1M131.4,94.0L132.7,94.2M43.5,121.1L47.0,119.2M206.0,47.9L201.3,48.9M119.8,81.3L118.7,82.8M171.6,115.8L170.4,115.6M63.9,107.1L68.5,106.3M147.3,73.4L146.3,73.9M110.6,126.1L110.2,119.9M55.9,85.0L56.2,82.5M210.0,152.7L211.0,143.9M134.4,105.4L132.9,108.6M206.7,54.3L204.5,50.9M139.8,73.1L139.9,73.2M141.1,125.1L140.9,124.9M246.1,105.7L246.4,116.2M184.0,133.1L181.3,128.4M217.5,61.3L214.9,57.0M84.6,39.6L83.2,38.1M64.8,40.1L63.1,41.4M121.2,104.9L122.8,103.5M95.3,61.3L95.1,61.9M157.3,55.7L158.3,55.9M96.8,26.2L95.3,28.4M177.7,78.6L174.5,79.4M153.3,59.6L150.9,57.6M104.2,112.8L103.9,115.7M36.8,60.9L46.4,52.9M147.7,63.4L147.6,65.0M84.3,151.0L81.4,152.6M137.9,88.2L137.4,88.1M145.6,97.5L144.8,97.9M160.5,148.9L157.2,151.7M160.4,63.7L161.5,64.8M123.8,53.6L120.1,53.8M198.6,52.2L203.2,54.0M195.1,234.4L195.5,228.0M132.2,79.9L133.5,81.1M33.2,52.8L30.7,51.8M126.2,182.8L124.3,188.3M230.1,138.5L232.6,139.9M46.2,88.8L47.2,90.0M138.1,87.7L137.0,87.2M143.7,85.3L141.8,85.3M188.8,151.0L197.2,137.6M162.2,56.7L163.7,56.8M115.0,109.7L114.0,108.2M146.7,117.7L145.2,119.0M203.2,213.4L202.4,200.9M123.9,80.1L122.9,78.7M96.6,160.4L101.1,161.1M115.3,54.8L115.4,55.6M114.1,70.9L116.1,67.3M132.2,127.1L131.9,124.7M144.7,104.2L144.5,103.4M78.8,100.7L83.2,98.6M182.4,76.8L184.4,77.4M279.7,65.3L273.5,64.7M173.5,99.9L174.9,97.1M139.9,79.3L141.3,79.5M103.9,63.0L104.5,62.0M142.9,77.8L142.6,79.0M146.8,67.3L145.9,68.3M113.4,169.2L123.1,180.1M121.3,102.5L121.1,101.6M163.6,111.7L164.8,105.4M230.8,148.7L242.7,152.8M102.9,99.5L100.2,101.0M100.6,80.8L100.6,76.2M132.2,77.3L130.6,76.7M157.6,79.7L154.8,79.8M42.2,107.9L47.6,108.2M134.7,73.1L135.4,73.7M134.0,140.5L129.9,136.8M184.4,76.7L184.3,75.7M210.0,152.7L194.5,153.2M121.7,123.2L119.7,125.7M165.5,53.3L165.1,51.1M221.1,110.0L218.6,106.4M79.2,73.3L81.9,79.8M95.1,61.9L99.3,64.1M89.3,59.8L88.6,57.5M154.8,79.8L152.9,79.6M159.9,128.6L159.3,123.8M91.1,95.3L90.8,93.2M154.4,119.5L154.3,121.1M84.3,151.0L87.6,152.8M39.1,109.6L47.0,119.2M109.4,130.2L108.5,131.7M46.2,135.5L56.2,145.6M76.5,88.5L77.9,89.0M199.7,90.8L194.8,89.1M159.6,166.4L167.7,172.2M195.7,110.7L198.6,118.7M135.5,158.5L136.2,153.5M271.4,108.2L270.1,105.1M158.3,58.7L157.2,60.7M238.4,167.9L254.6,163.4M135.9,99.3L136.6,98.7M104.2,76.3L104.1,77.2M198.6,118.7L201.5,111.6M191.5,163.6L189.8,162.1M157.5,89.5L159.9,87.3M112.9,37.8L108.7,36.6M175.5,153.0L172.1,152.2M98.9,155.7L101.1,161.1M47.1,42.4L49.9,49.0M164.1,38.9L159.3,34.8M133.3,181.5L128.0,189.4M190.5,133.5L199.5,132.2M193.8,104.5L191.8,106.1M95.7,59.3L100.9,62.1M194.5,153.2L197.2,137.6M138.3,110.4L140.3,108.5M273.9,146.8L270.6,147.5M144.2,96.8L145.2,97.1M81.8,112.3L86.5,113.7M105.0,69.1L104.0,67.7M159.3,59.0L158.8,62.4M203.1,104.2L205.8,108.7M67.1,47.8L62.3,52.1M106.3,95.6L109.7,95.4M109.0,117.2L113.1,114.4M156.8,130.6L153.5,129.7M26.9,47.2L18.3,49.1M30.7,51.8L26.9,47.2M148.7,137.4L148.5,139.8M107.6,125.7L109.4,130.2M131.3,194.2L138.5,185.2M92.0,91.2L90.8,93.2M118.8,115.5L117.6,117.7M190.2,100.3L192.4,102.3M219.9,78.1L215.1,84.5M67.7,67.7L72.5,67.3M57.3,70.8L52.0,67.5M154.5,53.3L152.6,55.5M150.9,100.8L151.1,98.7M129.3,55.6L130.7,54.7M131.4,94.0L130.8,94.0M166.8,68.2L168.3,66.5M101.7,30.0L105.4,33.1M103.8,137.0L100.1,141.6M84.6,39.6L84.8,45.4M183.1,149.4L177.2,147.6M239.2,177.3L235.2,171.7M117.5,57.9L117.8,55.3M112.8,112.4L110.6,112.8M107.6,109.2L108.1,106.6M90.6,24.3L90.4,29.0M193.8,104.5L194.3,101.2M102.7,195.2L109.4,191.7M50.5,107.9L52.5,105.2M82.0,37.2L75.6,39.3M64.7,115.2L68.1,120.2M124.9,68.8L127.8,68.9M151.4,141.0L148.5,139.8M80.6,84.1L85.7,83.4M228.7,72.4L225.2,67.4M71.2,79.1L70.5,89.7M75.4,106.3L68.5,106.3M157.8,10.8L154.4,12.8M189.4,107.8L191.8,106.1M141.8,113.5L141.2,113.5M143.0,94.5L142.0,93.7M247.3,54.0L257.5,55.1M144.7,104.2L146.4,104.8M170.9,94.1L174.6,91.8M79.8,82.2L77.6,83.5M251.4,73.3L247.4,73.1M59.7,171.9L62.3,167.0M191.9,65.0L193.6,68.6M241.9,84.3L232.0,90.8M196.8,75.6L198.9,74.3M119.6,93.2L122.5,91.9M153.8,121.0L154.4,119.5M171.7,110.2L171.0,110.4M113.5,130.0L114.1,129.6M146.5,122.8L149.2,123.7M202.6,120.1L198.6,118.7M162.8,85.4L162.5,83.3M219.1,134.6L221.3,133.3M136.5,79.3L136.1,78.7M163.3,105.5L160.6,104.4M199.8,74.9L203.4,74.0M130.1,54.2L130.7,54.7M158.1,154.5L159.6,153.9M134.5,90.8L133.0,88.8M51.2,56.8L49.9,49.0M139.1,55.8L143.0,55.2M173.5,99.9L176.9,100.9M181.7,48.9L181.2,50.9M141.6,111.2L141.3,112.6M288.2,132.4L279.1,127.8M159.3,49.0L161.3,51.5M107.1,119.0L106.1,117.6M92.1,94.7L97.2,96.1M195.0,91.6L194.8,89.1M121.0,82.1L122.0,82.3M123.7,147.1L129.9,136.8M176.0,145.3L169.4,143.9M57.3,70.8L60.1,68.0M118.6,98.6L119.1,99.3M174.3,64.5L173.3,63.1M184.0,133.1L185.6,126.3M135.6,48.1L132.9,50.6M99.5,83.9L100.6,80.8M108.2,106.3L108.1,106.6M207.3,166.6L210.0,152.7M148.4,84.9L146.3,84.7M138.2,84.7L140.4,84.6M156.0,115.3L157.0,115.0M142.2,37.3L139.6,33.7M153.9,101.1L152.5,100.0M49.9,49.0L56.1,52.3M63.5,32.0L64.8,40.1M138.7,123.6L135.8,122.1M57.8,64.0L61.3,66.7M126.4,156.3L119.2,149.5M107.0,39.9L108.2,48.9M121.0,82.1L119.8,81.3M138.5,131.7L134.3,132.4M113.4,169.2L106.2,170.7M202.8,111.6L206.6,109.7M118.9,56.1L117.5,57.9M86.8,101.5L85.5,98.7M108.6,56.8L109.3,55.4M157.2,151.7L159.6,153.9M81.9,115.6L82.4,115.1M104.9,84.0L105.5,83.8M153.8,109.4L150.4,108.8M257.7,167.2L245.1,177.4M119.2,70.4L120.5,69.6M179.3,72.7L178.5,73.4M225.9,101.1L221.4,106.2M157.3,92.9L157.5,89.5M256.3,72.3L251.4,73.3M191.7,76.2L193.2,77.0M178.2,27.2L174.4,26.7M155.7,116.6L156.6,118.0M151.4,17.2L147.7,20.6M128.1,64.6L128.1,65.6M121.8,83.7L122.0,82.3M169.3,90.3L170.5,87.8M160.6,148.7L162.2,147.6M174.9,73.0L176.5,73.1M51.2,56.8L53.4,57.8M59.0,118.9L59.2,115.0M145.9,87.2L143.7,85.3M200.7,89.3L202.1,89.8M163.1,67.8L160.3,66.0M97.7,99.2L96.3,98.1M207.2,55.2L203.9,61.2M79.2,140.9L75.8,150.1M216.5,209.9L218.3,210.2M197.2,137.6L199.5,132.2M121.8,83.7L123.2,83.2M109.7,104.1L108.5,104.1M140.9,124.9L138.7,123.6M107.0,39.9L108.7,36.6M108.0,70.8L107.7,69.0M124.2,101.2L121.8,102.1M199.4,189.6L193.9,187.8M182.1,86.8L179.7,86.8M142.4,107.5L143.3,107.0M119.1,99.3L121.2,100.5M66.5,135.5L63.5,137.5M152.9,98.1L152.5,100.0M107.8,119.5L108.1,118.6M181.2,79.9L183.2,83.1M110.2,119.7L110.7,118.5M129.4,83.4L129.3,83.9M211.8,209.3L216.5,209.9M139.4,71.5L139.0,72.2M130.6,92.5L130.0,91.2M154.2,128.0L154.5,126.0M134.5,134.0L134.0,140.5M58.5,48.4L59.4,43.2M158.2,47.3L158.4,44.3M155.7,162.2L152.3,161.9M67.0,140.5L72.6,143.1M98.6,67.9L98.2,67.7M144.7,80.8L144.6,79.1M125.1,80.6L123.9,80.1M145.4,84.6L145.8,84.3M144.5,103.4L144.0,101.4M203.2,54.0L204.5,50.9M125.0,56.9L126.0,54.2M202.1,93.1L203.0,93.1M212.9,84.0L202.1,89.8M148.3,52.2L150.3,53.0M168.3,66.5L169.7,67.8M127.4,59.3L128.5,59.2M194.3,44.1L190.6,42.0M156.7,128.9L158.1,124.2M159.2,117.9L160.5,119.1M174.2,111.2L175.2,110.6M204.6,138.4L206.1,138.1M183.1,149.4L182.6,141.0M68.8,130.3L63.1,129.0M203.1,104.2L202.3,96.7M93.1,52.8L88.6,57.5M146.9,71.3L148.1,71.9M91.3,74.4L93.4,78.2M210.2,121.5L209.6,132.2M131.7,54.5L132.8,53.6M181.7,90.9L181.3,91.3M76.6,91.4L69.3,96.9M107.5,58.5L108.9,58.9M133.9,140.7L133.5,142.0M104.0,151.4L112.3,151.2M172.1,121.2L178.7,119.6M131.7,28.5L138.9,28.8M225.9,101.1L234.2,104.1M92.3,62.7L93.6,61.3M123.3,131.4L114.1,129.6M192.8,217.9L195.8,222.7M108.6,56.8L107.2,55.7M245.3,65.1L254.1,67.1M157.6,52.6L161.3,51.5M92.4,85.0L92.3,84.7M111.3,85.4L114.0,86.3M103.1,90.7L99.7,91.4M151.9,54.1L152.6,55.5M137.4,74.2L136.6,73.9M114.7,85.0L116.5,85.9M176.1,36.9L182.1,30.6M157.3,68.1L156.4,69.6M175.2,110.6L175.2,111.6M71.7,166.4L67.0,168.4M37.4,66.7L33.5,67.5M156.2,46.2L158.4,44.3M214.9,88.1L218.2,86.6M210.7,120.7L206.6,109.7M140.9,124.9L142.4,123.0M111.1,100.7L111.4,102.1M170.1,44.3L163.7,41.9M119.2,70.4L118.0,70.3M111.9,32.1L109.0,29.1M119.2,105.0L120.0,104.9M119.2,118.6L117.6,117.7M178.1,80.9L177.7,78.6M251.0,82.8L243.0,83.0M211.2,176.7L232.7,168.1M121.8,102.1L122.8,103.5M213.9,153.2L217.1,150.7M134.5,134.0L134.3,132.4M188.1,39.4L189.1,40.8M72.7,46.9L70.3,43.5M125.9,92.9L126.4,92.6M151.4,17.2L154.4,12.8M143.0,103.6L142.4,104.0M263.9,132.0L270.6,147.5M131.7,54.5L131.1,54.0M176.0,145.3L172.7,149.8M215.3,66.8L216.4,74.2M129.7,72.3L127.8,68.9M122.8,126.3L119.7,125.7M131.7,28.5L129.3,35.1M176.2,64.0L177.6,66.2M221.5,194.3L229.8,186.8M45.0,94.4L51.6,94.6M136.6,119.9L140.6,118.7M254.1,67.1L260.1,66.9M236.0,56.6L228.1,52.6M52.5,105.2L52.5,100.2M155.2,43.4L156.2,40.8M134.3,132.4L130.3,128.5M135.9,81.4L135.9,81.8M219.9,52.3L221.9,50.0M130.0,60.2L129.3,61.6M70.5,89.7L76.5,88.5M101.5,59.1L107.2,55.7M64.7,115.2L63.4,119.3M147.6,135.9L153.5,129.7M166.9,89.3L169.3,90.3M122.1,58.8L123.5,57.8M87.0,85.8L85.5,87.9M185.3,149.0L182.6,141.0M130.9,57.9L130.9,56.2M157.6,79.7L157.2,82.0M128.4,47.9L127.7,50.0M158.0,56.7L158.3,55.9M128.6,50.0L132.9,50.6M203.1,104.2L194.3,101.2M143.6,74.0L144.0,73.6M177.0,59.4L176.2,64.0M178.5,73.4L179.0,74.6M183.1,149.4L176.8,150.4M128.9,72.7L128.4,73.8M107.0,111.7L105.5,115.7M209.6,132.2L209.2,139.5M152.4,18.7L154.3,25.5M84.6,39.6L88.4,33.7M219.9,78.1L216.4,74.2M141.0,127.6L140.0,128.9M156.7,118.7L156.5,121.1M129.5,67.6L129.1,67.5M165.5,53.3L163.2,52.0M128.2,108.8L127.1,108.4M173.6,86.5L175.0,86.2M163.6,111.7L159.3,110.0M188.8,151.0L185.3,149.0M153.7,81.5L154.8,79.8M124.2,101.2L125.0,102.1M117.0,50.9L116.1,51.4M100.8,112.3L102.1,114.6M221.1,110.0L221.4,106.2M181.1,66.0L179.6,70.2M173.5,99.9L170.3,97.9M195.8,222.7L195.5,228.0M104.2,112.8L102.1,114.6M222.7,51.2L221.9,50.0M140.4,129.2L140.0,128.9M159.3,49.0L158.2,47.3M136.3,57.0L136.5,54.5M127.8,118.5L125.4,116.1M177.7,97.3L174.9,97.1M92.1,35.0L92.6,44.1M158.0,96.0L160.8,97.0M99.5,83.9L101.9,83.3" stroke="#abdda4" stroke-width="0.75"/><path d="M128.8,76.5L128.4,73.8M119.4,95.2L119.5,96.3M112.9,81.5L111.7,80.6M276.3,91.6L275.2,95.3M56.2,127.0L57.2,126.7M84.7,138.8L81.8,140.1M288.2,132.4L279.3,132.9M144.3,133.5L147.3,136.0M247.3,54.0L248.1,47.4M226.2,158.2L232.7,168.1M154.3,8.3L157.8,10.8M90.3,150.1L87.5,145.3M62.3,167.0L67.0,168.4M141.8,68.5L139.6,67.0M200.4,81.1L195.3,82.3M87.8,144.6L87.5,145.3M161.2,136.1L157.5,139.7M146.7,117.7L148.1,115.3M192.9,71.8L193.6,68.6M221.4,186.2L211.2,176.7M183.6,97.5L185.7,95.8M162.4,102.5L162.4,103.0M143.7,51.9L142.7,50.9M162.6,58.0L163.7,56.8M122.3,110.9L120.0,109.6M55.5,127.0L48.7,128.6M26.9,47.2L44.9,38.0M108.6,56.8L108.9,58.9M96.6,93.2L99.7,91.4M129.6,177.7L126.2,182.8M104.0,65.8L104.0,67.7M164.1,38.9L171.9,40.7M63.5,32.0L67.5,28.7M145.6,50.8L145.2,49.5M177.6,126.8L177.6,129.8M165.3,186.6L157.4,199.6M133.3,85.5L133.0,88.8M125.6,115.1L125.4,116.1M115.4,111.7L114.9,111.8M146.9,71.3L146.2,68.9M171.6,115.8L172.4,115.8M144.9,146.0L149.4,144.4M163.0,140.8L165.2,142.1M162.7,118.6L163.7,116.2M177.3,99.0L178.1,100.7M162.6,58.0L162.2,56.7M58.6,94.5L58.6,97.2M103.0,88.0L101.8,87.7M113.5,112.7L112.8,112.4M124.7,95.6L124.6,93.6M49.9,49.0L56.3,48.5M259.7,161.2L254.6,163.4M159.6,166.4L162.0,163.8M163.7,60.4L162.0,63.6M169.8,18.1L169.6,18.6M101.2,125.7L107.1,119.0M138.2,73.8L137.4,74.2M114.9,66.6L113.4,63.6M178.5,42.5L184.6,46.7M116.4,83.0L114.5,81.3M158.1,119.2L156.7,118.7M163.2,64.6L165.6,62.9M175.2,107.2L175.2,110.6M215.7,74.9L216.4,74.2M124.3,160.8L121.8,164.6M75.6,39.3L75.6,31.8M179.7,86.8L181.4,88.3M176.2,111.2L175.2,110.6M175.9,168.2L176.9,179.6M152.9,98.1L154.8,96.0M93.9,127.6L88.2,128.4M124.2,101.2L124.5,99.5M245.3,65.1L245.5,63.9M173.4,182.1L165.0,180.8M108.2,101.3L107.0,104.1M285.8,122.3L279.2,125.9M194.3,167.8L201.5,177.9M69.3,96.9L64.5,98.6M219.9,52.3L214.9,57.0M119.3,49.7L119.9,51.3M197.2,137.6L190.5,133.5M215.3,66.8L215.2,62.3M152.3,10.5L154.3,8.3M100.4,109.4L100.9,108.7M109.4,191.7L110.3,179.7M104.0,151.4L97.2,150.7M158.2,47.3L157.6,47.4M221.1,110.0L223.7,110.3M128.2,155.0L126.4,156.3M114.0,108.2L111.5,109.4M134.0,167.7L134.1,163.8M165.0,180.8L163.3,184.6M34.9,86.6L30.5,74.8M124.3,93.1L124.6,93.6M95.8,54.8L96.2,49.6M156.8,130.6L161.2,136.1M126.0,54.2L127.5,52.5M156.3,15.3L154.4,12.8M46.5,68.2L45.7,71.7M181.3,91.3L179.5,89.0M112.3,199.0L113.5,198.9M131.9,81.4L133.5,81.1M74.1,66.2L72.5,67.3M75.9,98.8L69.3,96.9M114.9,66.6L113.0,66.9M114.4,60.4L112.1,56.9M140.9,117.1L143.1,116.8M171.6,115.8L171.2,114.4M141.6,109.4L140.3,108.5M139.5,47.5L137.7,50.0M273.1,108.9L270.8,116.0M139.4,110.9L138.3,110.4M153.3,88.6L154.0,88.9M225.3,214.5L225.5,202.4M186.1,162.9L187.6,169.9M89.8,172.0L79.3,177.8M103.0,75.2L100.6,76.2M154.3,25.5L147.7,20.6M109.4,191.7L117.2,183.2M68.1,120.2L63.4,119.3M93.4,78.2L95.0,75.3M113.9,81.0L114.1,80.3M137.7,65.5L135.5,66.4M134.5,134.0L132.0,134.6M137.3,82.4L135.6,82.9M205.1,221.9L207.8,218.0M95.5,137.0L103.5,135.3M117.2,183.2L118.1,195.6M46.5,52.7L46.4,52.9M74.9,42.6L76.8,42.1M201.1,65.1L201.9,68.0M124.7,45.1L126.9,47.2M182.1,30.6L179.6,28.5M58.6,94.5L58.6,92.8M132.9,21.9L146.7,16.6M221.4,48.5L221.9,50.0M76.8,42.1L81.7,45.3M144.9,146.0L140.0,144.2M203.2,54.0L201.5,50.5M182.5,103.5L178.0,105.7M154.3,8.3L151.4,8.2M104.9,84.0L101.9,83.3M104.0,151.4L103.3,155.8M162.7,118.6L163.4,118.8M147.6,135.9L147.3,136.0M162.7,136.8L169.3,132.5M174.7,81.6L174.5,79.4M171.7,110.2L175.2,107.2M192.5,61.8L193.4,62.5M125.1,48.4L124.1,48.6M189.8,162.1L194.5,153.2M113.1,113.0L112.8,112.4M44.9,89.6L34.9,86.6M265.7,151.2L260.3,134.3M135.9,99.3L135.9,101.8M181.2,79.9L177.7,78.6M113.5,91.0L116.2,90.6M242.3,157.2L242.7,152.8M169.0,77.6L173.4,77.5M230.8,148.7L232.6,139.9M154.3,18.4L156.3,15.3M147.3,89.8L147.2,89.7M163.9,111.9L164.6,114.9M176.8,150.4L172.7,149.8M125.1,92.5L125.9,92.9M225.5,202.4L215.8,204.4M71.5,52.4L72.9,61.0M157.8,98.2L159.9,99.0M48.0,73.8L48.7,76.3M119.7,136.9L117.9,136.5M59.1,121.8L61.3,119.9M263.4,115.7L258.4,118.2M199.8,63.1L194.1,63.3M85.7,80.9L83.3,81.1M149.2,123.7L151.6,123.6M129.6,85.8L129.3,83.9M138.6,70.7L138.6,70.8M72.7,122.5L78.5,119.4M144.6,46.6L145.2,48.9M173.5,64.9L173.3,63.1M167.9,15.7L162.4,16.7M88.4,33.7L83.2,38.1M130.9,56.2L131.7,54.9M100.9,108.7L100.0,107.0M219.0,214.2L207.8,218.0M141.5,89.1L140.5,88.6M107.0,39.9L111.7,41.8M167.1,85.3L169.6,85.8M74.9,42.6L75.6,39.3M136.2,153.5L136.3,145.0M151.1,125.4L154.5,126.0M176.1,94.2L174.9,97.1M67.7,157.5L67.0,168.4M272.5,152.7L273.9,146.8M119.1,42.9L120.3,44.5M125.2,80.8L125.1,80.6M83.3,81.1L81.9,79.8M130.9,57.9L129.2,58.4M219.1,134.6L215.9,133.9M175.1,76.4L173.4,77.5M158.4,92.8L161.0,93.5M214.8,109.0L220.2,113.1M116.1,152.8L112.3,151.2M85.5,98.7L83.2,98.6M89.5,90.3L90.3,89.8M147.4,82.7L145.1,83.5M98.4,112.0L99.5,115.9M117.6,117.7L116.6,114.4M90.5,125.0L88.2,128.4M155.5,122.8L158.1,124.2M66.5,135.5L77.4,136.3M206.6,104.5L206.5,108.9M181.1,52.4L185.5,54.0M149.2,81.3L147.1,80.5M140.4,89.8L140.6,89.8M65.8,58.9L65.5,62.6M222.3,63.6L225.2,67.4M51.6,115.7L57.2,113.0M139.1,162.7L143.7,161.6M92.6,92.4L92.1,94.7M236.0,56.6L232.2,59.1M119.0,86.4L118.7,87.7M95.3,61.3L95.7,59.3M163.7,116.2L163.4,118.8M142.7,96.2L143.0,97.3M134.4,105.4L135.6,108.5M242.7,152.8L243.2,140.8M170.5,117.6L167.4,119.7M133.3,181.5L138.5,185.2M154.2,128.0L151.1,125.4M116.2,196.5L113.5,198.9M147.3,73.4L146.9,71.3M102.6,68.2L103.2,68.8M194.5,153.2L188.8,151.0M219.9,78.1L220.0,86.9M138.1,108.0L136.2,108.0M138.8,107.5L140.3,108.5M118.3,33.4L129.3,35.1M167.3,75.7L168.4,74.1M139.6,33.7L138.9,28.8M171.7,110.2L173.0,114.1M140.2,77.4L141.6,79.1M72.7,122.5L78.0,118.7M67.7,157.5L71.7,166.4M189.8,162.1L186.1,162.9M75.8,150.1L71.4,153.6M126.0,79.9L126.8,81.5M108.7,36.6L111.9,39.5M215.9,133.9L209.2,139.5M219.9,52.3L216.9,50.3M283.3,89.8L276.7,81.6M149.0,77.1L146.2,75.9M135.1,77.0L132.2,77.3M190.8,115.6L194.9,122.0M114.4,60.4L117.5,61.4M174.0,68.7L173.2,68.9M153.2,117.0L152.6,114.7M159.2,117.9L158.1,119.2M154.5,53.3L151.9,54.1M125.4,75.8L126.4,76.2M147.7,100.2L147.0,100.1M202.9,220.7L205.1,221.9M177.8,96.4L178.0,94.5M137.0,87.2L137.4,88.1M75.4,140.4L77.4,136.3M90.7,154.6L90.8,152.8M132.9,50.6L133.8,52.2M160.9,60.5L162.7,59.1M176.4,131.4L177.2,131.1M132.4,122.3L133.4,122.7M115.4,79.9L114.5,81.3M79.9,125.5L80.3,120.5M170.2,74.8L167.7,77.0M120.5,69.6L121.8,72.2M145.3,94.2L145.4,96.2M273.5,64.7L276.8,59.3M149.9,71.5L151.7,72.3M109.3,55.4L107.2,55.7M159.0,79.6L162.4,79.8M137.0,87.2L136.7,87.1M163.2,52.0L161.3,51.5M266.9,68.9L260.1,66.9M101.9,83.0L100.6,80.8M160.2,122.1L159.3,123.8M78.1,57.7L82.1,62.4M238.4,167.9L242.3,157.2M142.7,50.9L140.9,49.8M60.6,108.8L63.9,107.1M100.8,112.3L104.2,112.8M144.9,146.0L140.7,153.1M179.3,140.5L182.6,141.0M181.1,52.4L177.3,53.4M142.0,93.7L141.4,93.7M211.8,209.3L211.4,204.9M131.5,98.4L131.2,97.9M71.2,79.1L72.7,78.3M162.5,163.9L172.1,152.2M192.4,96.7L185.7,95.8M103.7,75.9L104.2,76.3M193.2,112.9L189.4,107.8M102.1,70.1L104.9,71.1M114.4,60.4L114.5,62.8M108.2,48.9L101.0,45.6M149.7,142.3L149.4,144.4M132.2,79.9L132.2,77.3M103.4,23.3L101.7,30.0M132.7,118.6L135.6,117.4M168.4,68.6L170.2,70.1M150.5,113.1L148.3,112.8M153.0,93.1L153.9,90.2M146.7,16.6L147.7,20.6M154.8,199.5L149.2,195.9M116.3,56.0L117.5,57.9M169.4,143.9L172.7,149.8M162.3,99.2L166.7,99.5M144.8,125.4L142.4,123.0M160.2,105.6L157.8,105.6M185.5,54.0L189.6,50.4M177.2,147.6L176.0,145.3M190.8,214.9L192.8,217.9M137.7,65.5L136.1,67.3M275.3,171.2L272.5,152.7M86.0,69.4L85.1,70.7M133.3,181.5L126.2,182.8M116.3,101.9L114.3,102.9M290.5,115.7L283.0,120.2M100.9,95.0L97.2,96.1M226.6,92.3L228.6,95.2M92.1,35.0L91.4,34.9M119.7,89.9L118.7,89.0M79.2,73.3L79.3,80.0M64.1,67.7L67.7,67.7M139.9,127.3L138.6,127.5M100.9,103.2L100.2,101.0M90.8,152.8L87.6,152.8M107.1,156.9L112.3,151.2M88.4,136.5L93.2,139.4M101.5,59.1L101.2,54.5M39.1,109.6L43.5,121.1M72.3,146.7L75.8,150.1M86.8,82.1L87.7,83.7M122.5,91.9L122.7,94.9M114.5,62.8L113.6,63.3M191.5,163.6L192.7,166.4M98.4,112.0L100.4,111.3M110.6,84.7L109.4,84.8M172.7,61.8L173.9,59.8M121.7,58.1L123.5,57.8M124.3,160.8L126.7,162.4M128.8,76.5L126.4,76.2M235.1,171.2L236.2,170.4M152.4,119.8L151.5,120.7M90.3,150.1L90.8,152.8M61.7,105.4L58.6,97.2M154.8,199.5L153.8,190.7M211.3,188.4L201.5,177.9M115.2,153.8L112.3,151.2M220.3,71.9L215.3,66.8M207.2,55.2L212.6,51.1M155.0,48.4L154.3,48.4M251.4,73.3L254.1,67.1M105.7,103.6L103.4,101.5M183.1,149.4L185.3,149.0M103.9,63.0L104.7,65.6M104.8,109.0L107.6,109.2M100.9,62.1L99.3,64.1M151.5,96.2L152.3,96.7M263.7,60.3L260.1,66.9M249.4,87.5L247.7,99.0M215.8,99.5L214.9,88.1M195.0,91.6L199.7,90.8M285.8,122.3L283.0,120.2M127.0,133.1L123.3,131.4M270.8,116.0L283.0,120.2M283.3,89.8L287.4,77.5M202.4,226.2L195.5,228.0M222.3,63.6L228.1,52.6M202.3,233.3L197.2,234.7M136.3,57.0L137.1,59.7M146.5,52.9L149.3,55.2M208.8,104.0L208.7,99.2M140.6,118.7L143.1,117.7M179.3,140.5L176.2,140.5M207.2,55.2L214.9,57.0M56.2,145.6L63.5,137.5M207.2,51.0L204.5,50.9M193.2,77.0L196.5,75.2M47.2,90.0L50.1,91.3M175.2,30.1L174.4,26.7M64.7,115.2L69.5,115.5M52.0,67.5L48.0,73.8M224.7,113.3L223.7,110.3M108.3,115.0L107.0,116.6M129.7,72.3L130.2,74.9M101.9,83.3L101.9,83.0M157.2,151.7L148.3,153.6M99.7,68.8L100.6,71.1M119.8,55.3L118.9,56.1M177.8,96.4L179.3,96.8M166.3,92.0L167.7,92.4M153.4,89.6L154.0,88.9M103.2,73.5L104.9,71.1M136.2,108.0L137.9,105.9M160.3,162.0L159.9,160.1M144.8,125.4L144.7,126.7M114.9,111.8L115.0,113.6M147.7,63.4L149.5,62.4M175.9,168.2L180.2,159.6M178.1,29.0L178.2,27.2M72.7,122.5L76.5,130.8M95.5,171.8L96.6,160.4M99.7,177.2L103.4,175.0M149.1,122.1L151.6,123.6M200.7,89.3L199.7,90.8M155.4,56.1L154.5,53.3M206.7,54.3L207.2,55.2M162.5,163.9L162.0,163.8M101.5,59.1L104.5,62.0M111.9,61.0L112.1,56.9M124.2,89.3L123.0,90.2M102.1,70.1L102.1,68.5M170.4,109.7L168.5,109.7M239.3,179.4L229.8,186.8M80.6,84.1L80.9,89.5M118.2,50.7L117.6,50.1M77.4,136.3L76.5,130.8M95.1,87.3L101.8,87.7M144.9,53.1L145.7,51.1M124.9,128.9L128.3,129.4M203.0,93.1L214.9,88.1M87.7,101.0L85.5,98.7M151.1,125.4L149.2,123.7M202.9,220.7L195.8,222.7M142.1,127.7L141.0,127.6M201.3,48.9L201.5,50.5M91.4,34.9L90.4,29.0M161.0,90.3L160.2,91.1M86.9,73.1L91.3,74.4M251.3,116.6L246.4,116.2M175.1,70.3L176.5,73.1M180.3,102.0L178.4,101.6M150.6,79.0L150.3,80.5M148.7,29.7L147.7,20.6M180.9,76.5L182.4,76.8M151.4,17.2L146.7,16.6M85.5,108.2L85.6,105.8M143.1,116.8L143.1,117.7M207.2,51.0L206.7,54.3M57.3,70.8L48.0,73.8M105.5,115.7L106.1,117.6M196.8,75.6L196.5,75.2M121.8,48.5L120.8,49.6M206.7,54.3L203.2,54.0M184.8,72.0L183.4,73.1M150.6,91.3L151.4,94.5M130.1,54.2L131.1,54.0M90.4,121.7L90.3,124.1M268.2,121.7L270.8,116.0M174.4,55.0L173.5,47.7M166.4,91.6L163.1,90.5M204.6,130.5L200.2,132.3M135.9,81.4L137.4,81.0M151.0,44.1L154.3,48.4M205.3,72.6L205.6,74.5M192.4,63.1L191.9,65.0M142.2,37.3L144.6,32.4M123.4,105.7L124.6,106.1M119.2,138.9L119.9,140.0M158.2,115.1L158.0,115.0M153.2,117.0L155.7,116.6M144.5,89.1L144.8,88.3M75.9,98.8L71.7,102.4M75.6,39.3L76.8,42.1M102.2,97.2L101.4,96.0M101.1,73.2L99.7,73.4M123.8,53.6L124.1,48.6M138.7,173.9L129.6,177.7M192.1,170.3L187.6,169.9M145.7,115.9L148.1,115.3M68.8,130.3L76.5,130.8M55.9,85.0L52.5,86.9M79.2,140.9L77.4,136.3M259.7,161.2L265.7,151.2M113.5,93.0L110.5,93.2M165.1,84.9L167.1,85.3M198.9,74.3L201.9,68.0M118.7,89.0L115.8,89.9M42.2,107.9L43.9,102.7M129.7,113.4L129.3,115.3M140.6,118.7L142.4,123.0M172.2,96.8L175.0,93.4M105.7,86.9L109.4,84.8M124.8,81.3L125.2,80.8M203.9,61.2L204.8,64.5M238.7,132.6L232.6,139.9M94.4,63.6L96.4,68.3M128.6,96.8L130.1,98.7M158.1,124.2L156.5,121.1M167.4,109.8L168.5,109.7M212.9,201.7L213.0,197.9M86.9,73.1L81.9,79.8M119.6,54.0L120.1,53.8M254.3,149.0L243.2,140.8M173.2,88.4L174.6,91.8M263.9,132.0L263.7,126.5M158.1,119.2L160.5,119.1M134.1,88.6L134.8,90.7M98.3,98.0L97.2,96.1M124.6,115.9L122.9,118.4M271.4,108.2L273.1,108.9M132.9,50.6L133.9,47.4M170.5,58.0L173.9,59.8M141.8,68.5L142.5,71.8M118.4,84.5L119.1,84.4M138.3,83.7L137.3,82.4M107.6,125.7L107.8,119.5M94.5,61.2L93.6,61.3M128.6,68.1L127.8,68.9M98.3,98.0L101.4,96.0M108.7,36.6L111.9,32.1M175.5,153.0L182.1,156.2M88.4,33.7L82.7,32.5M59.1,121.8L63.1,129.0M100.9,103.2L98.3,103.9M97.7,99.2L100.2,101.0M110.6,109.5L110.6,112.8M181.7,181.6L187.6,169.9M75.4,106.3L71.7,102.4M104.0,151.4L102.6,146.6M139.1,55.8L136.5,54.5M245.6,58.6L245.5,63.9M204.6,138.4L203.0,135.4M174.4,55.0L173.9,59.8M117.2,183.2L110.3,179.7M219.4,73.2L216.4,74.2M107.0,111.7L107.6,109.2M182.1,86.8L181.4,88.3M45.8,66.7L46.5,68.2M127.0,133.1L132.0,134.6M160.4,63.7L160.9,60.5M177.7,78.6L179.0,74.6M121.1,101.6L121.8,102.1M117.3,93.3L115.8,96.4M121.3,102.5L121.2,103.5M98.3,103.9L101.6,105.7M131.2,95.0L130.8,94.0M175.1,70.3L178.3,71.8M142.1,127.7L141.7,129.3M144.3,133.5L138.5,131.7M122.9,118.4L122.1,115.2M261.1,78.0L268.3,72.4M154.9,52.0L152.4,50.8M116.3,56.0L117.8,55.3M203.2,54.0L198.6,58.9M118.3,33.4L119.1,42.9M107.1,119.0L107.8,119.5M202.4,226.2L202.3,233.3M162.4,79.8L163.4,83.1M158.1,154.5L159.9,160.1M135.4,92.1L134.8,90.7M56.9,32.2L44.5,27.6M77.4,90.8L76.6,91.4M137.6,68.5L138.6,70.7M55.5,127.0L52.5,119.5M116.6,117.7L116.6,114.4M119.0,86.4L124.1,86.5M151.5,96.2L148.6,95.4M89.3,59.8L93.6,61.3M91.3,74.4L89.6,78.9M287.4,77.5L276.7,81.6M139.0,87.3L138.4,88.3M116.1,152.8L119.2,149.5M226.8,155.2L226.9,155.6M249.4,87.5L243.0,83.0M203.1,104.2L195.5,98.4M86.5,113.7L86.3,117.0M109.7,64.8L111.6,64.8M135.2,68.1L129.5,67.6M178.5,73.4L176.5,73.1M51.6,94.6L50.1,91.3M173.4,182.1L167.7,172.2M131.3,147.2L123.7,147.1M87.6,119.2L86.3,117.0M52.5,119.5L51.6,115.7M156.0,115.3L155.7,116.6M140.9,80.7L141.3,79.5M90.7,154.6L87.6,152.8M171.1,96.4L170.3,97.9M195.1,234.4L197.2,234.7M159.7,101.2L159.0,103.4M256.3,72.3L260.1,66.9M144.3,105.6L143.3,107.0M242.9,139.0L249.0,127.6M198.6,118.7L194.9,122.0M191.9,87.7L184.7,91.0M196.9,108.3L196.5,107.7M46.0,80.3L56.2,82.5M165.3,186.6L163.3,184.6M115.4,79.9L113.7,76.7M116.6,117.7L117.6,117.7M232.7,168.1L235.1,171.2M121.4,94.6L119.4,95.2M128.8,76.5L130.1,75.7M60.1,68.0L61.3,66.7M103.8,52.2L109.0,53.4M92.4,86.1L90.3,89.8M136.3,145.0L140.0,144.2M198.6,52.2L201.5,50.5M82.1,62.4L85.7,62.0M246.1,71.1L245.3,65.1M221.0,195.0L211.3,188.4M237.7,112.0L234.2,104.1M199.8,63.1L198.6,58.9M83.8,141.6L81.8,140.1M81.8,112.3L76.0,109.2M221.0,195.0L213.0,197.9M180.9,76.5L181.4,75.1M59.0,118.9L59.1,121.8M151.4,17.2L152.4,18.7M101.2,125.7L103.7,127.0M134.9,111.0L134.6,113.0M55.5,127.0L56.2,127.0M104.0,67.7L102.6,68.2M193.2,112.9L191.8,106.1M127.8,118.5L125.4,121.0M175.0,77.6L175.1,76.4M114.7,143.9L119.2,149.5M56.9,32.2L52.1,40.0M144.0,117.6L145.7,115.9M162.0,163.8L160.3,162.0M131.2,43.7L133.9,47.4M71.7,34.3L75.6,39.3M175.1,70.3L174.7,68.5M58.5,48.4L62.3,52.1M132.9,21.9L138.9,28.8M46.2,135.5L63.5,137.5M211.9,121.0L220.2,113.1M47.0,119.2L48.7,128.6M160.8,97.0L161.4,94.9M88.0,42.8L84.6,39.6M118.7,51.8L119.9,51.3M125.5,103.3L125.0,102.1M110.2,119.9L112.8,121.1M171.7,187.8L171.2,190.9M201.5,177.9L192.1,170.3M51.2,56.8L50.9,62.4M66.5,135.5L68.8,130.3M89.0,166.4L89.8,172.0M257.7,167.2L254.6,163.4M148.9,57.2L149.3,55.2M81.7,117.9L80.3,120.5M98.4,112.0L86.5,113.7M103.9,63.0L103.1,63.6M144.7,104.2L144.5,105.1M44.9,89.6L46.2,88.8M163.0,140.8L159.5,143.1M171.3,107.5L175.2,107.2M60.6,108.8L55.6,109.1M158.1,119.2L160.2,122.1M97.3,148.8L102.6,146.6M140.0,128.9L138.6,127.5M204.5,50.9L201.5,50.5M112.8,112.4L111.5,109.4M74.8,66.1L74.1,66.2M78.9,102.1L78.8,100.7M64.5,98.6L58.6,97.2M210.7,202.0L211.4,204.9M82.0,102.0L85.6,105.8M105.5,105.2L107.0,104.1M145.6,97.5L147.2,97.4M138.2,84.7L138.4,86.5M162.5,163.9L167.7,172.2M204.2,166.3L194.5,153.2M149.9,90.1L151.0,87.1M203.0,135.4L200.2,132.3M241.9,84.3L243.0,83.0M95.9,144.3L102.6,146.6M90.3,150.1L87.6,152.8M202.1,93.1L199.7,90.8M132.8,53.6L134.3,54.6M118.2,50.7L117.0,50.9M149.9,111.6L148.3,112.8M247.3,54.0L245.6,58.6M120.1,53.8L119.9,51.3M182.8,90.6L181.7,90.9M86.9,73.1L89.6,78.9M226.1,116.3L224.7,113.3M44.9,89.6L45.0,94.4M148.7,29.7L142.2,28.4M94.2,60.6L95.7,59.3M124.9,128.9L123.6,126.8M154.8,199.5L147.7,200.7M92.4,86.1L93.5,87.2M263.4,115.7L258.4,109.6M177.7,97.3L177.8,96.4M187.6,122.7L190.8,124.3M115.4,79.9L116.4,76.5M103.6,157.2L103.3,155.8M159.4,17.4L162.4,16.7M118.8,101.1L119.1,99.3M142.1,67.4L143.9,68.0M126.9,47.2L126.8,48.6M81.7,117.9L86.3,117.0M225.3,214.5L219.0,214.2M59.1,121.8L57.2,126.7M146.1,92.1L147.7,91.9M89.0,102.5L85.6,105.8M181.1,66.0L184.8,72.0M210.7,143.5L209.2,139.5M225.5,202.4L218.3,210.2M96.6,93.2L97.2,96.1M164.1,38.9L163.7,41.9M75.2,164.5L79.3,177.8M117.9,111.6L118.1,114.2M115.3,54.8L116.5,53.6M148.3,52.1L148.3,52.2M86.2,66.7L92.9,68.7M67.0,140.5L66.5,135.5M259.7,161.2L251.8,151.4M203.6,96.5L208.7,99.2M95.3,101.8L96.3,98.1M112.3,66.5L113.0,66.9M188.6,105.6L189.4,107.8M266.7,115.2L270.8,116.0M100.1,141.6L95.9,144.3M110.7,118.5L111.6,118.2M158.1,124.2L154.5,126.0M69.4,49.6L72.7,49.1M115.2,153.8L111.8,159.0M147.6,141.9L148.5,139.8M159.0,14.2L156.3,15.3M92.4,86.1L92.4,85.0M135.0,101.9L133.3,104.8M202.8,111.6L205.8,108.7M129.6,177.7L123.1,180.1M131.9,81.4L132.6,84.2M157.0,115.0L156.4,113.9M279.7,65.3L287.4,77.5M126.3,123.0L125.4,121.0M78.1,57.7L71.5,52.4M139.8,89.2L139.9,89.9M172.2,96.8L174.9,97.1M276.7,81.6L262.4,81.4M172.6,141.1L176.0,145.3M97.3,148.8L97.2,150.7M75.6,74.3L79.2,73.3M126.8,49.1L127.7,50.0M144.0,101.4L147.0,100.1M197.3,236.5L197.2,234.7M173.6,83.5L173.1,81.9M149.0,159.8L152.3,161.9M52.5,86.9L51.2,86.9M173.5,47.7L165.1,51.1M63.9,107.1L67.8,111.9M163.0,73.6L165.2,73.0M152.4,18.7L147.7,20.6M59.0,118.9L52.5,119.5M163.7,116.2L161.9,115.7M146.1,92.1L145.8,92.1M107.0,111.7L104.2,112.8M135.6,48.1L137.7,50.0M128.9,91.6L128.4,91.3M175.5,153.0L176.8,150.4M100.1,141.6L95.5,137.0M140.9,49.8L137.7,50.0M118.3,33.4L119.3,28.7M57.3,70.8L58.0,74.5M231.5,97.9L228.6,95.2M180.9,76.5L179.0,74.6M126.2,97.8L124.5,99.5M171.7,187.8L173.4,182.1M103.8,52.2L101.0,45.6M207.3,166.6L211.2,176.7M90.7,154.6L92.9,157.9M95.5,137.0L89.2,131.6M33.9,69.5L30.5,74.8M150.0,44.8L147.1,50.4M136.0,96.0L136.5,96.8M109.3,55.4L111.2,56.0M142.5,75.2L140.1,73.4M135.5,158.5L137.2,159.7M136.5,96.8L136.6,98.7M131.7,54.9L133.9,57.0M97.3,148.8L90.3,150.1M266.7,115.2L268.2,121.7M197.4,183.2L201.5,177.9M104.0,65.8L102.3,64.2M89.0,166.4L96.6,160.4M52.5,105.2L55.6,109.1M132.2,124.5L133.4,122.7M260.3,134.3L249.0,127.6M151.7,119.6L150.5,118.8M59.2,115.0L57.2,113.0M162.4,79.8L163.9,79.6M101.5,59.1L95.7,59.3M105.5,105.2L104.8,109.0M157.7,39.5L159.3,34.8M106.8,60.6L104.5,62.0M119.2,118.6L119.8,117.4M159.0,14.2L162.4,16.7M162.8,85.4L161.0,88.5M96.6,160.4L92.9,157.9M132.8,97.1L133.0,95.3M192.4,102.3L193.8,104.5M202.9,220.7L195.5,217.1M141.6,97.1L139.6,99.7M51.2,56.8L46.4,52.9M125.1,92.5L124.3,93.1M144.9,90.5L144.5,89.1M146.5,52.9L148.3,52.2M221.4,106.2L218.6,106.4M151.6,72.7L151.7,72.3M120.2,143.6L120.3,148.2M140.4,129.2L141.7,129.3M162.4,42.3L165.1,51.1M61.7,105.4L64.5,98.6M114.4,132.8L113.5,130.0M127.6,90.3L126.9,91.7M152.6,55.5L150.9,57.6M142.7,96.2L144.2,96.8M198.6,52.2L196.6,54.3M251.3,116.6L258.4,109.6M43.5,121.1L48.7,128.6M139.9,127.3L140.9,125.4M82.0,37.2L82.7,32.5M158.0,96.0L157.4,93.3M149.1,122.1L149.2,123.7M263.7,126.5L249.0,127.6M257.7,167.2L259.7,161.2M132.9,72.6L131.7,72.7M105.0,69.1L107.2,70.6M284.4,155.2L284.0,148.7M88.4,136.5L89.2,131.6M60.3,112.8L57.2,113.0M169.7,104.5L170.7,106.0M115.1,115.1L113.1,114.4M173.5,41.2L178.5,42.5M87.8,144.6L89.3,140.9M68.1,120.2L70.6,124.1M80.8,89.8L81.5,94.0M268.3,72.4L276.7,81.6M209.6,132.2L203.0,135.4M191.8,225.9L195.8,222.7M65.5,62.6L62.7,65.9M173.5,99.9L176.4,98.7M106.1,117.6L107.0,116.6M182.1,118.6L182.6,120.7M169.5,83.7L168.2,81.4M41.6,98.0L45.0,94.4M279.7,65.3L276.8,59.3M176.0,104.6L178.4,101.6M163.6,111.7L163.9,111.9M239.3,179.4L246.3,185.1M173.0,114.1L171.2,114.4M169.7,33.9L173.7,39.4M182.5,103.5L180.3,102.0M213.9,153.2L210.0,152.7M159.6,153.9L172.1,152.2M225.2,67.4L225.1,74.1M113.5,130.0L109.4,130.2M224.9,81.0L232.0,90.8M136.6,119.9L135.9,121.7M36.8,60.9L37.4,66.7M173.5,64.9L174.3,64.5M132.9,21.9L130.9,24.1M138.4,86.5L139.0,87.3M55.6,109.1L51.8,109.7M118.1,195.6L124.3,188.3M168.4,65.3L165.9,63.1M98.8,75.2L95.0,75.3M245.6,123.5L236.8,126.9M102.0,73.3L103.2,73.5M125.3,109.2L126.3,110.5M82.0,37.2L76.8,42.1M109.3,146.1L102.6,146.6M266.7,115.2L263.4,115.7M98.3,98.0L97.7,99.2M176.9,179.6L181.7,181.6M269.1,149.5L270.6,147.5M108.2,48.9L115.6,51.8M156.9,84.0L156.8,83.3M221.1,110.0L220.2,113.1M98.9,155.7L92.9,157.9M128.8,66.4L128.5,67.2M108.2,22.7L109.0,29.1M233.9,95.5L231.5,97.9M136.0,96.0L137.1,94.0M139.6,67.0L141.7,66.9M207.2,222.2L207.8,218.0M130.8,94.0L131.4,93.0M200.7,89.3L195.3,82.3M59.8,41.1L59.4,43.2M76.0,109.2L78.0,118.7M150.4,53.3L149.3,55.2M107.6,125.7L110.6,126.1M130.0,163.7L134.1,163.8M69.5,115.5L67.8,111.9M172.1,121.2L170.5,117.6M89.0,102.5L91.0,100.8M135.0,101.9L134.1,99.2M175.8,76.6L179.0,74.6M127.4,94.3L126.4,92.6M88.0,86.9L91.9,84.8M33.2,52.8L46.4,52.9M154.3,25.5L157.7,28.0M177.0,69.0L178.3,71.8M129.6,177.7L121.8,164.6M47.0,119.2L42.2,107.9M144.8,77.5L144.6,79.1M150.3,80.5L152.6,80.1M199.4,189.6L200.3,188.9M33.2,52.8L36.8,60.9M228.7,72.4L239.3,66.5M114.7,143.9L107.9,142.6M79.9,125.5L76.5,130.8M39.1,109.6L33.4,96.5M131.4,74.6L130.2,74.9M145.8,84.3L146.3,84.7M181.7,48.9L177.4,46.3M155.0,48.4L157.6,47.4M150.1,87.0L150.8,85.7M160.1,65.5L160.4,63.7M154.3,18.4L152.4,18.7M142.2,37.3L147.0,38.4M174.9,73.0L174.6,73.4M137.3,82.4L137.4,81.0M139.3,88.2L138.4,88.3M189.1,40.8L190.6,42.0M130.0,98.8L130.1,98.7M115.6,74.2L114.1,72.1M52.7,62.5L52.3,63.5M239.3,66.5L232.2,59.1M106.2,170.7L101.1,161.1M115.3,63.3L117.5,61.4M248.1,47.4L245.5,44.5M134.7,120.7L133.4,122.7M125.0,56.9L128.9,56.4M186.4,73.2L184.3,75.7M70.3,25.9L75.6,31.8M133.3,181.5L129.6,177.7M136.2,108.0L135.9,108.4M114.9,83.4L114.7,85.0M144.6,46.6L140.1,46.0M172.2,96.8L173.5,99.9M284.0,148.7L288.3,140.9M215.9,133.9L209.6,132.2M285.8,122.3L290.5,115.7M124.7,85.5L125.0,82.3M182.6,120.7L179.3,121.2M135.6,48.1L136.4,51.2M157.8,98.2L154.4,99.6M105.8,89.2L109.0,91.0M211.4,204.9L215.8,204.4M198.9,191.4L199.4,189.6M239.3,66.5L242.1,70.8M226.2,158.2L218.8,154.9M196.6,54.3L190.4,54.9M103.4,101.5L100.2,101.0M164.6,114.9L163.7,116.2M126.3,110.5L126.2,111.6M108.3,115.0L109.0,117.2M116.5,53.6L117.8,55.3M183.1,149.4L182.1,156.2M148.5,51.7L150.3,53.0M194.3,167.8L192.1,170.3M136.2,153.5L139.5,153.7M206.1,138.1L209.2,139.5M169.7,67.8L171.3,66.2M238.7,132.6L242.9,139.0M70.1,75.1L67.7,67.7M97.5,131.6L96.5,126.9M207.2,51.0L206.0,47.9M206.6,104.5L208.8,104.0M119.4,79.6L119.8,81.3M115.3,63.3L114.5,62.8M150.5,113.1L152.6,114.7M210.7,202.0L202.4,200.9M145.1,121.4L142.4,123.0M75.4,106.3L75.6,109.1M131.7,54.5L130.7,54.7M130.1,100.8L128.6,101.2M226.1,116.3L237.7,112.0M222.3,63.6L215.3,66.8M273.5,64.7L266.9,68.9M128.2,155.0L123.7,147.1M226.1,116.3L232.2,123.2M220.3,71.9L224.1,75.8M256.3,72.3L254.1,67.1M149.2,195.9L138.5,185.2M125.9,92.9L124.6,93.6M58.0,74.5L56.9,77.8M148.4,113.8L148.3,112.8M82.0,37.2L75.6,31.8M131.9,81.4L130.9,81.9M257.5,55.1L263.7,60.3M156.7,128.9L154.2,128.0M92.6,92.4L96.6,93.2M225.5,202.4L236.6,200.5M58.5,48.4L56.3,48.5M214.8,109.0L207.1,108.9M288.2,132.4L285.8,122.3M215.7,74.9L211.9,71.1M170.2,74.8L169.0,77.6M179.6,88.8L179.5,89.0M91.4,34.9L88.4,33.7M56.9,77.8L56.2,82.5M67.7,157.5L75.2,164.5M249.4,87.5L251.0,82.8M210.2,121.5L204.6,130.5M119.0,86.4L118.0,86.9M175.0,77.6L174.5,79.4M186.5,187.1L181.7,181.6M188.6,105.6L191.8,106.1M125.8,96.7L126.2,94.6M144.6,46.6L150.0,44.8M142.9,129.2L142.1,127.7M190.4,54.9L189.6,50.4M224.1,75.8L224.9,81.0M129.4,83.4L127.8,81.8M196.6,54.3L195.3,49.3M90.3,89.8L92.0,91.2M96.6,160.4L98.9,155.7M218.8,154.9L217.1,150.7M260.3,134.3L254.3,149.0M112.1,97.7L111.6,97.0M279.1,127.8L263.9,132.0M79.7,29.3L75.6,31.8M99.1,75.5L98.8,75.2M245.3,65.1L242.1,70.8M170.2,74.6L170.2,70.1M138.5,185.2L128.0,189.4M46.0,80.3L51.2,86.9M52.1,40.0L59.4,43.2M118.8,115.5L119.9,115.6M136.3,93.2L135.9,92.8M86.8,101.5L87.7,101.0M148.5,99.8L147.7,100.2M147.6,141.9L144.9,146.0M99.7,73.4L100.6,71.1M76.5,88.5L77.6,83.5M189.8,162.1L188.8,151.0M224.9,81.0L220.0,86.9M160.3,162.0L156.6,161.4M111.9,63.3L113.5,62.9M113.9,81.0L112.9,81.5M87.0,85.8L87.7,84.7M154.4,56.1L152.6,55.5M70.1,75.1L75.6,74.3M174.2,111.2L171.7,110.2M205.6,74.5L207.7,74.6M160.4,63.7L158.8,62.4M72.7,78.3L79.3,80.0M230.8,148.7L226.8,155.2M110.6,109.5L108.1,106.6M134.4,111.0L134.6,113.0M134.3,54.6L136.5,54.5M129.8,109.0L128.4,108.8M130.6,77.0L130.6,78.1M33.5,67.5L33.9,69.5M141.8,113.5L143.1,116.8M119.6,54.0L119.8,55.3M114.3,102.9L114.9,103.7M229.8,186.8L221.4,186.2M122.5,91.9L124.3,93.1M84.7,138.8L88.4,136.5M79.8,82.2L79.3,80.0M149.2,195.9L153.8,190.7M154.4,119.5L156.7,118.7M146.7,117.7L147.4,121.2M127.0,133.1L128.3,129.4M126.2,94.6L125.9,92.9M171.6,66.5L169.7,67.8M102.7,195.2L99.7,177.2M43.9,102.7L52.5,100.2M145.4,84.6L145.1,83.5M179.3,96.8L180.1,99.1M111.3,104.0L109.7,104.1M220.3,71.9L219.4,73.2M136.3,93.2L137.3,93.6M221.2,100.0L226.6,92.3M140.9,124.9L138.5,124.2M141.6,111.2L144.7,111.2M134.4,98.8L134.1,99.2M102.1,114.6L103.9,115.7M146.2,68.9L145.6,71.2M109.4,191.7L116.2,196.5M134.3,54.6L133.9,57.0M211.9,71.1L211.1,76.3M279.2,125.9L283.0,120.2M107.5,58.5L106.8,60.6M186.9,46.0L190.6,42.0M138.2,73.8L137.7,72.7M61.7,105.4L60.6,108.8M225.9,101.1L221.2,100.0M100.9,116.7L99.5,115.9M139.5,153.7L143.7,161.6M257.7,167.2L264.2,168.9M110.2,73.1L114.1,72.1M71.2,79.1L70.1,75.1M51.6,94.6L53.5,94.8M127.1,124.7L123.6,126.8M75.6,74.3L72.5,67.3M129.9,83.2L129.4,83.4M67.7,67.7L65.5,62.6M204.8,64.5L215.2,62.3M166.3,92.0L166.4,91.6M175.0,65.8L174.7,68.5M60.6,108.8L60.3,112.8M181.3,100.3L180.1,99.1M87.8,144.6L95.9,144.3M45.8,66.7L50.9,62.4M83.8,141.6L87.7,140.3M90.8,152.8L97.2,150.7M173.2,88.4L178.2,90.0M159.3,86.8L159.9,87.3M34.9,86.6L46.0,80.3M204.2,166.3L194.3,167.8M136.5,103.3L137.1,104.8M156.9,84.0L155.5,88.1M153.9,101.1L154.4,99.6M51.8,112.6L57.2,113.0M186.2,81.2L195.3,82.3M184.0,133.1L177.2,131.1M93.3,46.4L92.6,44.1M202.9,220.7L203.2,213.4M55.6,109.1L57.2,113.0M284.4,155.2L272.5,152.7M72.3,146.7L72.6,143.1M178.3,71.8L179.6,70.2M74.8,66.1L79.2,73.3M52.3,63.5L52.0,67.5M171.1,96.4L170.9,94.1M143.9,89.0L143.8,90.3M132.0,134.6L134.0,140.5M84.7,138.8L83.8,141.6M160.2,122.1L161.9,119.4M203.1,104.2L196.5,107.7M144.6,32.4L139.6,33.7M120.1,122.5L121.7,123.2M156.3,102.6L159.0,103.4M121.6,63.9L121.0,66.1M152.0,91.2L153.4,89.6M149.1,122.1L151.5,120.7M144.6,46.6L140.1,47.1M131.4,74.6L131.7,72.7M169.7,33.9L175.2,30.1M163.9,76.4L164.2,77.1M263.7,126.5L258.4,118.2M139.6,86.6L141.5,86.3M211.3,188.4L200.3,188.9M144.5,103.4L143.2,102.8M140.1,47.1L140.9,49.8M160.8,113.2L163.6,111.7M115.6,74.2L114.5,75.4M224.7,113.3L220.2,113.1M159.3,49.0L157.6,52.6M202.9,220.7L202.4,226.2M179.2,82.4L183.2,83.1M164.7,74.8L163.0,73.6M257.5,55.1L254.1,67.1M97.5,72.9L93.7,71.1M85.7,80.9L86.8,82.1M174.3,73.1L170.2,70.1M111.6,118.2L113.1,114.4M102.7,195.2L112.3,199.0M205.3,72.6L203.4,74.0M154.3,121.1L156.5,121.1M135.6,48.1L133.9,47.4M160.5,148.9L160.6,148.7M151.5,70.1L155.0,69.0M113.4,169.2L110.0,165.4M122.4,112.5L126.2,111.6M210.7,143.5L211.0,143.9M63.1,129.0L57.2,126.7M93.2,98.0L96.3,98.1M190.8,115.6L198.6,118.7M108.8,117.7L109.9,118.0M169.0,105.2L168.5,109.7M143.7,100.8L143.7,98.3M118.7,51.8L116.5,53.6M135.9,93.5L133.3,95.1M226.6,92.3L232.0,90.8M154.9,52.0L154.5,53.3M144.8,97.9L145.2,97.1M175.9,168.2L186.1,162.9M141.6,97.1L143.0,97.3M174.8,75.3L175.1,76.4M162.5,58.4L162.7,59.1M111.3,68.3L114.1,70.9M130.3,96.0L131.2,95.0M126.0,54.2L128.8,53.7M128.5,67.2L128.6,68.1M191.8,225.9L195.5,228.0M85.9,127.8L88.2,128.4M37.4,66.7L43.8,72.3M92.9,78.5L93.4,78.2M171.6,21.2L174.4,26.7M145.3,42.7L141.8,42.0M118.0,155.3L126.4,156.3M143.9,80.9L144.7,80.8M214.9,57.0L215.2,62.3M178.1,29.0L175.2,30.1M192.9,71.8L194.6,74.0M177.0,59.4L177.3,53.4M217.5,61.3L215.2,62.3M98.3,98.0L96.3,98.1M279.2,125.9L270.8,116.0M63.5,32.0L71.7,34.3M155.5,88.1L154.0,88.9M201.1,65.1L203.9,61.2M127.4,59.3L126.3,60.3M87.7,84.7L91.9,84.8M96.6,56.9L101.2,54.5M120.7,67.4L120.3,68.5M279.3,132.9L273.9,146.8M121.1,101.6L120.4,101.6M177.3,99.0L176.9,100.9M284.0,148.7L273.9,146.8M166.7,118.3L164.6,114.9M70.6,124.1L76.5,130.8M147.4,121.2L150.5,118.8M169.7,67.8L170.2,70.1M199.5,132.2L197.2,128.7M205.3,72.6L201.9,68.0M135.1,197.7L147.7,200.7M94.7,86.8L93.5,87.2M89.2,186.3L87.7,180.1M128.6,50.0L128.4,47.9M178.2,90.0L179.5,89.0M245.3,65.1L239.3,66.5M103.4,23.3L108.2,22.7M69.4,49.6L67.1,47.8" stroke="#2b83ba" stroke-width="0.75"/><path d="M119.2,105.0L117.1,106.5M131.0,70.8L129.5,67.6M168.4,68.6L166.8,68.2M137.2,75.6L137.4,74.2M163.0,73.6L163.2,76.6M100.9,103.2L101.6,105.7M115.0,113.6L115.1,115.1M157.0,129.6L159.9,128.6M157.5,139.7L159.5,143.1M93.7,71.1L95.0,75.3M162.4,79.8L162.5,83.3M128.0,86.5L127.4,87.3M208.7,99.2L215.8,99.5M138.0,93.2L137.4,91.9M124.6,115.9L124.7,115.7M148.0,79.6L147.1,80.5M166.8,71.2L170.2,70.1M141.6,109.4L141.1,110.9M136.5,90.6L135.5,90.7M157.3,68.1L157.9,67.7M108.5,104.1L107.0,104.1M136.3,57.0L133.9,57.0M117.9,111.6L120.0,109.6M104.2,112.8L105.5,115.7M134.9,80.6L133.5,81.1M138.3,96.4L138.3,96.2M119.8,117.4L121.7,119.2M156.9,84.0L159.3,84.2M128.6,57.9L128.5,59.2M139.4,71.5L142.4,72.2M132.0,60.7L133.5,60.4M119.6,93.2L117.6,93.2M112.3,66.5L111.3,68.3M160.6,83.9L162.8,85.4M153.7,81.5L152.8,83.1M144.6,32.4L142.2,28.4M102.1,70.1L103.2,68.8M162.0,63.6L161.5,64.8M135.9,90.1L135.4,88.0M174.4,55.0L177.3,53.4M135.9,90.1L136.5,90.6M144.8,97.9L143.8,97.9M140.5,89.3L140.6,89.8M116.5,85.9L118.0,86.9M158.7,110.6L154.2,110.9M124.2,89.3L123.3,88.4M175.7,82.2L174.7,81.6M174.9,73.0L174.3,73.1M95.1,87.3L96.6,93.2M116.4,100.5L119.1,99.3M195.0,91.6L192.4,96.7M143.7,100.8L139.6,99.7M181.4,88.3L179.6,88.8M127.4,94.3L125.9,92.9M124.5,63.3L122.0,62.9M158.2,112.6L157.5,112.9M148.8,88.4L148.9,86.1M147.3,93.0L148.6,95.4M175.0,93.4L174.6,91.8M136.6,98.7L137.9,98.4M112.3,66.5L111.6,64.8M123.8,65.7L121.0,66.1M183.4,73.1L184.3,75.7M124.5,99.5L121.2,100.5M119.7,89.9L119.9,89.4M125.0,82.3L123.2,83.2M118.0,70.3L117.1,68.0M108.8,117.7L107.0,116.6M117.6,102.2L118.8,101.1M121.9,97.7L121.2,100.5M189.6,50.4L186.9,46.0M154.0,110.2L154.3,109.7M83.2,98.6L81.5,94.0M79.7,29.3L82.7,32.5M122.3,60.6L125.3,62.3M194.3,88.7L194.8,89.1M158.4,92.8L157.5,89.5M155.5,122.8L151.6,123.6M155.8,32.0L157.7,28.0M102.8,106.6L101.6,105.7M160.1,65.5L160.3,66.0M162.7,136.8L161.2,136.1M157.3,92.9L156.0,93.6M148.0,79.6L149.2,81.3M164.1,38.9L169.7,33.9M165.7,75.3L167.3,75.7M129.7,113.4L131.9,109.2M134.1,88.6L134.5,90.8M130.6,92.5L131.4,93.0M159.8,83.1L159.3,84.2M134.1,88.6L135.4,88.0M131.5,98.4L133.2,98.1M144.0,117.6L143.1,117.7M128.6,57.9L129.2,58.4M157.7,108.1L159.3,110.0M163.1,67.8L161.5,64.8M138.1,87.7L138.1,87.3M175.8,76.6L175.1,76.4M122.8,103.5L125.0,102.1M111.0,102.9L109.7,104.1M139.3,76.8L138.2,76.9M139.0,73.4L139.0,72.2M142.0,89.1L143.2,90.5M91.7,79.1L92.3,84.7M98.7,109.8L99.5,107.5M148.1,97.9L147.2,97.4M142.5,71.8L142.4,72.2M140.9,117.1L141.8,113.5M117.6,93.2L119.4,95.2M154.4,106.7L155.9,106.8M163.0,140.8L157.5,139.7M152.1,95.3L153.5,94.1M186.2,81.2L191.7,76.2M135.1,77.0L134.4,75.8M151.0,44.1L150.0,44.8M114.5,75.4L113.7,76.7M143.9,89.0L143.5,87.9M165.1,51.1L163.2,52.0M141.3,107.0L140.3,108.5M142.9,77.8L144.8,77.5M150.5,118.8L151.9,118.5M130.0,60.2L132.0,60.7M117.3,104.6L117.1,106.5M193.7,191.8L193.9,187.8M137.1,77.8L137.6,77.6M157.7,108.1L154.3,109.7M166.8,68.2L166.8,71.2M118.6,98.6L119.5,96.3M129.1,54.8L128.8,53.7M128.4,73.8L130.0,75.0M119.3,49.7L119.8,49.1M165.7,75.3L166.0,73.5M164.7,74.8L166.0,73.5M72.7,122.5L70.6,124.1M162.8,85.4L159.9,87.3M130.9,24.1L119.3,28.7M177.6,126.8L172.1,121.2M137.1,94.0L137.3,93.6M127.4,94.3L130.3,96.0M139.8,89.2L140.0,88.4M101.9,83.3L103.7,87.3M115.3,46.5L120.3,44.5M124.8,81.3L125.0,82.3M120.5,58.4L118.9,56.1M149.9,71.5L149.9,71.5M124.7,45.1L122.4,44.5M113.4,63.6L111.9,63.3M153.3,62.8L153.0,61.3M154.6,73.1L156.4,74.1M124.9,68.8L125.3,67.3M154.5,126.0L151.6,123.6M223.8,91.1L226.6,92.3M178.0,94.5L181.3,91.3M128.6,101.2L128.5,102.1M122.3,60.6L122.0,62.9M96.7,82.3L92.3,84.7M151.5,70.1L151.7,72.3M124.2,101.2L122.8,103.5M105.5,115.7L103.9,115.7M127.4,87.3L126.9,88.8M126.2,97.8L125.8,96.7M125.0,56.9L123.9,57.9M186.5,120.4L182.6,120.7M176.4,131.4L169.3,132.5M120.5,58.4L121.7,58.1M181.1,66.0L177.6,66.2M148.8,88.4L149.9,90.1M107.2,70.6L104.9,71.1M114.9,83.4L114.5,81.3M170.1,44.3L173.5,47.7M134.2,58.1L137.1,59.7M211.9,71.1L204.8,64.5M103.8,52.2L108.2,48.9M145.4,72.9L144.0,73.6M108.3,82.5L109.4,84.8M122.6,110.7L126.2,111.6M152.8,83.1L153.8,84.1M141.4,93.7L141.1,95.0M130.6,92.5L128.9,91.6M136.4,60.6L133.5,60.4M167.1,78.5L169.0,78.7M108.2,106.3L108.5,104.1M141.6,97.1L142.7,96.2M125.4,80.8L125.2,80.8M141.5,89.1L141.3,87.5M125.0,82.3L126.7,83.8M126.9,91.7L126.4,92.6M193.8,104.5L196.5,107.7M150.0,98.3L151.1,98.7M149.8,99.5L150.0,98.3M165.8,103.9L168.5,104.2M194.6,74.0L196.5,75.2M137.9,102.8L138.7,101.3M119.9,140.0L129.9,136.8M125.8,96.7L124.7,95.6M122.1,58.8L121.7,58.1M190.8,124.3L197.2,128.7M156.9,84.0L153.8,84.1M150.4,53.3L151.9,54.1M173.2,68.9L172.6,68.5M122.1,75.3L122.6,76.3M95.3,101.8L97.7,99.2M108.0,70.8L110.2,73.1M146.6,87.4L147.2,89.7M124.7,40.8L131.2,43.7M135.5,90.7L136.2,91.5M139.5,47.5L136.3,47.2M203.2,54.0L203.9,61.2M184.3,79.3L185.8,81.1M101.9,83.3L101.8,87.7M141.6,97.1L139.8,95.7M125.8,74.4L122.7,73.4M176.9,109.0L175.2,110.6M155.4,89.7L155.5,88.1M117.1,68.0L117.3,67.3M167.7,77.0L167.3,75.7M166.8,71.2L168.4,74.1M129.3,89.3L127.6,89.4M63.3,42.4L59.4,43.2M162.3,90.8L163.1,90.5M139.6,116.5L137.3,112.5M153.1,84.7L153.8,84.1M90.3,89.8L93.5,87.2M122.8,75.4L122.1,75.3M178.7,119.6L174.0,115.5M145.4,84.6L143.7,85.3M129.6,85.8L128.0,86.5M125.4,75.8L123.1,75.4M136.4,84.2L136.7,87.1M113.3,91.8L113.5,93.0M112.1,97.7L113.8,96.3M149.1,122.1L150.5,118.8M162.1,70.4L160.8,72.5M157.7,39.5L156.2,40.8M183.0,93.0L184.7,91.0M138.3,96.4L136.5,96.8M173.9,84.0L175.4,85.9M94.4,63.6L99.3,64.1M46.3,88.1L46.0,80.3M144.7,91.1L145.8,92.1M199.8,63.1L203.9,61.2M135.9,90.1L135.5,90.7M128.3,129.4L130.3,128.5M158.9,113.5L159.5,113.6M178.1,80.9L177.9,81.4M206.4,213.7L207.8,218.0M146.8,75.2L146.4,74.7M118.2,63.0L119.5,64.6M158.0,96.0L157.7,97.3M93.7,71.1L97.9,70.3M180.1,128.2L177.6,129.8M174.9,91.8L178.2,90.0M153.8,109.4L154.3,109.7M153.0,93.1L153.5,94.1M198.6,118.7L200.6,123.0M156.4,69.6L155.0,69.0M138.7,123.6L138.5,124.2M151.5,96.2L151.3,97.2M139.8,89.2L139.1,89.4M130.1,116.4L129.3,115.3M129.0,125.4L129.6,123.9M126.9,47.2L125.1,48.4M173.5,41.2L171.9,40.7M180.9,73.1L181.4,75.1M112.1,97.7L111.7,100.4M130.9,56.2L129.3,55.6M146.7,117.7L145.7,115.9M133.3,104.8L132.4,103.1M138.0,86.6L138.1,87.3M151.1,98.7L152.5,100.0M142.7,91.1L142.2,93.2M125.3,109.2L126.6,109.0M139.8,103.9L138.7,101.3M141.2,113.5L137.3,112.5M77.5,98.0L81.5,94.0M118.2,63.0L116.2,64.0M161.8,106.4L160.2,105.6M158.0,96.0L161.4,94.9M129.0,125.4L127.8,125.9M148.8,88.4L150.1,87.0M125.3,109.2L122.6,110.7M123.3,88.4L124.4,87.0M168.4,74.1L170.2,70.1M137.9,98.4L138.7,99.1M117.3,93.3L117.6,93.2M162.3,101.5L166.7,99.5M160.1,65.5L161.5,64.8M129.7,113.4L133.2,113.3M173.5,41.2L177.4,46.3M131.0,108.3L131.9,109.2M139.5,47.5L140.1,47.1M139.6,86.6L140.4,84.6M117.9,111.6L116.9,111.8M117.3,104.6L119.2,105.0M171.6,66.5L172.0,67.5M126.3,77.8L126.4,76.2M139.5,93.9L139.2,91.8M162.3,99.2L161.9,101.0M143.8,90.3L144.7,91.1M45.7,71.7L48.0,73.8M82.1,62.4L76.5,63.9M183.6,97.5L183.0,93.0M139.5,93.9L141.1,95.0M103.0,74.8L103.2,73.5M117.6,50.1L117.0,50.9M178.4,88.6L179.5,89.0M140.1,73.4L139.3,76.8M138.5,131.7L140.0,128.9M172.6,141.1L176.2,140.5M113.8,96.3L114.8,95.9M176.5,81.8L177.1,82.0M125.0,82.3L126.8,81.5M166.2,87.7L166.9,89.3M151.5,70.1L153.2,71.5M125.4,80.8L126.0,79.9M159.9,128.6L161.2,136.1M142.0,89.1L143.9,89.0M181.2,79.9L182.6,78.4M126.3,77.8L127.6,78.6M142.9,129.2L144.3,133.5M145.4,96.2L144.2,96.8M132.2,127.1L133.4,126.0M142.9,103.2L143.0,103.6M178.0,105.7L176.9,109.0M131.3,147.2L136.3,145.0M160.2,91.1L159.9,90.9M167.5,101.3L165.8,103.9M113.0,66.9L114.1,70.9M167.4,81.1L163.4,83.1M104.8,109.0L102.8,106.6M128.5,59.2L129.2,58.4M116.2,90.6L115.8,89.9M131.5,98.4L132.8,97.1M149.9,90.1L150.6,91.3M141.8,68.5L144.1,70.0M140.9,80.7L142.4,84.0M148.4,84.9L148.9,86.1M170.1,44.3L165.1,51.1M174.4,55.0L170.5,58.0M108.5,104.1L108.2,101.3M144.9,81.5L144.7,80.8M169.5,83.7L169.6,85.8M146.6,87.4L146.3,86.9M157.0,129.6L156.8,130.6M114.4,132.8L117.9,136.5M135.5,66.4L136.1,67.3M124.7,85.5L124.1,86.5M156.3,102.6L157.8,98.2M139.6,86.6L139.0,87.3M129.3,83.9L126.7,83.8M147.0,38.4L141.6,40.0M152.1,118.5L151.9,118.5M124.5,95.6L121.9,97.7M197.2,128.7L194.9,122.0M138.4,104.0L139.8,103.9M152.4,50.8L153.4,49.3M120.1,122.5L121.7,119.2M173.6,86.5L173.9,84.0M79.9,125.5L85.9,127.8M175.0,77.6L173.4,77.5M154.5,94.0L156.0,93.6M126.3,123.0L121.7,123.2M132.1,57.8L133.5,60.4M125.8,74.4L124.6,70.0M170.2,74.8L174.6,74.8M139.9,89.9L139.2,90.7M120.7,67.4L124.9,68.8M157.4,93.3L156.0,93.6M164.0,104.2L162.4,103.0M152.8,74.8L152.9,75.7M143.9,89.0L144.5,89.1M75.5,62.2L72.9,61.0M117.5,57.9L117.5,61.4M104.8,79.6L104.1,77.2M158.7,75.8L160.6,77.1M132.7,118.6L132.4,122.3M152.9,98.1L151.6,98.2M154.2,110.9L152.6,114.7M129.3,61.6L131.8,61.5M116.6,117.7L115.1,115.1M157.1,70.6L156.4,74.1M155.4,89.7L156.0,93.6M102.7,195.2L89.2,186.3M142.9,84.0L142.4,84.0M142.4,86.6L141.8,85.3M69.5,115.5L78.0,118.7M121.8,83.7L124.1,86.5M143.7,51.9L143.9,51.3M138.8,107.5L137.9,105.9M143.2,73.5L143.6,74.0M118.8,107.9L120.0,109.6M158.4,92.8L159.9,90.9M139.0,73.4L139.8,73.1M109.0,78.7L111.7,80.6M167.4,109.8L164.8,105.4M85.7,83.4L87.7,83.7M144.8,88.3L143.5,87.9M162.1,96.9L160.8,97.0M57.8,64.0L60.1,68.0M132.0,92.2L131.4,93.0M140.5,88.6L140.0,88.4M139.6,86.6L138.4,86.5M103.9,81.9L104.9,84.0M173.5,41.2L171.9,41.6M144.5,68.5L143.9,68.0M117.9,111.6L122.4,112.5M142.4,107.5L141.6,109.4M143.0,97.3L144.2,96.8M173.2,88.4L172.3,87.8M146.9,61.8L148.9,57.2M168.4,68.6L169.7,67.8M124.6,70.0L127.1,73.6M123.1,75.4L122.8,75.4M145.3,94.2L148.6,95.4M115.0,109.7L114.5,111.5M142.4,86.6L143.5,87.9M170.1,44.3L171.9,41.6M142.4,84.0L141.8,85.3M132.2,127.1L134.3,132.4M142.5,95.3L142.7,96.2M142.0,89.1L141.5,89.1M184.3,79.3L184.4,77.4M142.7,91.1L140.6,89.8M200.7,89.3L200.4,81.1M111.0,102.9L111.4,102.1M147.4,82.7L145.8,84.3M135.0,101.9L132.4,103.1M142.7,91.1L143.2,90.5M136.2,153.5L131.3,147.2M133.9,64.8L135.5,66.4M157.7,108.1L157.8,105.6M129.6,123.9L131.9,124.7M148.7,29.7L155.8,32.0M136.6,119.9L139.6,116.7M147.5,78.4L149.0,77.1M120.5,96.4L121.9,97.7M124.7,45.1L125.1,48.4M116.6,117.7L112.8,121.1M136.2,153.5L128.2,155.0M134.4,111.0L132.9,108.6M173.2,62.5L172.7,61.8M108.3,82.5L105.5,83.8M149.7,142.3L147.6,141.9M91.7,79.1L89.6,78.9M111.9,63.3L112.2,62.4M155.4,89.7L157.0,89.2M132.8,97.1L130.3,96.0M158.2,112.6L158.9,113.5M179.2,82.4L177.9,81.4M120.5,96.4L119.5,98.7M144.5,83.0L145.1,83.5M167.7,77.0L169.0,77.6M119.2,70.4L121.8,72.2M164.1,38.9L157.7,39.5M132.0,60.7L132.1,57.8M138.4,104.0L137.1,104.8M103.1,90.7L104.4,96.2M160.1,116.4L161.3,116.7M110.6,84.7L111.7,80.6M139.3,88.2L139.0,87.3M151.7,119.6L151.9,118.5M52.7,62.5L53.4,57.8M135.5,71.7L137.7,72.7M159.7,101.2L159.8,100.8M126.9,47.2L128.0,47.0M88.4,33.7L90.4,29.0M137.0,88.8L137.0,88.6M139.1,70.6L139.9,70.1M139.3,76.8L139.6,77.5M129.3,61.6L126.3,60.3M138.7,79.2L137.0,79.8M105.8,89.2L105.7,86.9M138.2,84.7L137.4,84.2M108.9,58.9L109.5,59.1M139.0,61.9L136.4,60.6M148.8,88.4L147.7,86.9M86.8,101.5L85.6,105.8M145.1,83.5L145.8,84.3M134.9,123.3L133.4,122.7M122.5,91.9L119.7,89.9M127.8,68.9L125.3,67.3M149.5,62.4L146.9,61.8M134.2,58.1L136.4,60.6M128.2,108.8L128.4,108.8M126.0,79.9L127.6,78.6M121.4,94.6L122.5,91.9M151.2,104.5L146.4,104.8M138.3,83.7L138.2,84.7M157.9,67.7L162.1,70.4M136.0,96.0L132.8,97.1M112.8,121.1L111.6,118.2M85.1,70.7L79.2,73.3M88.6,51.8L93.1,52.8M151.0,44.1L155.2,43.4M145.6,97.5L145.2,97.1M95.3,101.8L98.3,103.9M123.9,80.8L123.9,80.1M185.5,54.0L184.6,46.7M116.4,100.5L115.8,96.4M152.8,74.8L154.6,73.1M136.3,93.2L137.4,91.9M142.4,104.0L139.8,103.9M108.6,56.8L107.5,58.5M130.1,75.7L130.6,76.7M122.3,60.6L122.4,59.8M71.7,34.3L67.5,28.7M105.9,95.3L106.3,95.6M140.1,46.0L141.8,42.0M111.9,61.0L112.2,62.4M137.9,88.2L138.1,87.7M147.7,91.9L147.3,93.0M162.4,102.5L162.3,101.5M125.2,103.5L122.8,103.5M144.9,90.5L144.7,91.1M140.4,84.6L142.4,84.0M116.6,117.7L117.4,119.6M139.3,88.2L140.0,88.4M153.7,81.5L152.6,80.1M120.0,106.7L120.0,104.9M126.1,113.7L129.3,115.3M148.7,29.7L154.3,25.5M172.3,87.8L170.5,87.8M148.5,99.8L148.6,99.7M139.6,116.5L139.6,116.7M142.9,77.8L144.6,79.1M174.8,75.3L174.6,74.8M89.0,102.5L87.7,101.0M149.2,71.8L149.9,71.5M142.1,66.1L141.7,66.9M124.0,78.3L126.3,77.8M101.6,105.7L100.0,107.0M121.8,48.5L122.4,44.5M128.8,76.5L127.6,78.6M140.2,77.4L139.6,77.5M147.7,91.9L146.3,90.3M139.2,99.9L138.7,101.3M135.9,92.8L135.9,93.5M142.5,95.3L143.0,94.5M125.6,115.1L124.7,115.7M177.2,131.1L177.6,129.8M136.3,57.0L134.3,54.6M114.4,60.4L111.9,61.0M279.3,132.9L288.3,140.9M86.0,69.4L92.9,68.7M176.4,131.4L179.3,140.5M120.8,49.6L119.8,49.1M131.7,28.5L119.3,28.7M202.8,111.6L201.5,111.6M190.4,115.5L183.6,113.9M191.9,65.0L184.8,72.0M122.1,58.8L120.6,59.6M119.9,115.6L122.1,115.2M145.1,62.0L144.2,61.8M134.4,98.8L135.9,99.3M52.0,67.5L46.5,68.2M94.2,103.0L93.5,103.0M202.1,93.1L202.3,96.7M128.5,67.2L129.1,67.5M77.4,90.8L81.5,94.0M136.4,51.2L133.8,52.2M142.2,28.4L139.6,33.7M163.6,111.7L161.8,106.4M188.6,105.6L186.7,103.6M60.3,112.8L59.2,115.0M143.9,80.9L142.6,79.0M179.3,96.8L183.0,93.0M125.4,86.8L126.9,88.8M81.7,45.3L84.8,45.4M153.3,86.8L151.0,87.1M185.6,126.3L190.5,130.5M135.6,48.1L136.3,47.2M125.8,74.4L125.4,75.8M137.3,112.5L135.6,117.4M111.3,85.4L112.0,87.2M153.8,121.0L154.3,121.1M138.9,95.0L139.3,95.7M176.0,104.6L175.2,107.2M132.1,57.8L133.9,57.0M146.4,104.8L144.5,105.1M132.1,90.6L133.0,88.8M115.4,111.7L116.6,110.5M131.4,94.0L131.2,95.0M126.6,109.0L127.1,108.4M116.3,101.9L117.6,102.2M175.2,30.1L169.5,30.2M103.2,81.8L101.9,83.0M155.5,122.8L154.5,126.0M119.5,98.7L118.6,98.6M169.7,33.9L169.5,30.2M170.5,87.8L169.6,85.8M136.5,103.3L135.9,101.8M133.8,52.2L132.8,53.6M134.2,58.1L132.1,57.8M114.5,75.4L110.2,73.1M136.0,96.0L135.9,93.5M92.1,94.7L90.8,93.2M149.2,97.5L148.6,95.4M182.6,120.7L181.3,128.4M147.4,121.2L148.3,118.0M119.3,28.7L129.3,35.1M138.0,86.6L137.0,87.2M142.1,127.7L144.7,126.7M150.8,85.7L151.0,87.1M137.0,99.6L138.7,99.1M176.9,179.6L167.7,172.2M145.2,48.9L145.2,49.5M128.8,76.5L130.6,77.0M143.1,74.7L143.6,74.0M134.6,141.7L133.5,142.0M169.7,67.8L172.0,67.5M140.4,87.7L139.0,87.3M99.5,115.9L90.4,121.7M122.3,60.6L120.6,59.6M132.0,60.7L130.9,57.9M148.3,112.8L144.7,111.2M208.7,99.2L214.9,88.1M125.0,56.9L123.8,53.6M167.0,99.5L167.1,97.5M138.3,110.4L136.8,110.7M152.3,78.9L152.9,79.6M157.3,92.9L157.4,93.3M148.1,97.9L148.6,99.7M104.8,109.0L100.9,108.7M182.8,90.6L181.4,88.3M137.4,91.9L136.5,90.6M139.1,89.4L139.3,88.2M144.2,91.8L145.8,92.1M153.0,61.3L157.2,60.7M122.0,62.9L121.5,63.7M131.0,70.8L129.7,72.3M114.9,66.6L116.2,64.0M142.9,129.2L141.7,129.3M160.6,104.4L160.2,105.6M94.2,60.6L94.5,61.2M116.9,111.8L116.6,114.4M163.3,105.5L161.8,106.4M126.8,48.6L128.4,47.9M141.6,111.2L142.6,109.5M131.2,95.0L133.0,95.3M93.7,68.3L94.4,63.6M141.5,86.3L141.8,85.3M81.8,112.3L85.7,109.7M114.1,70.9L117.1,68.0M194.6,74.0L191.7,73.7M105.8,89.2L103.7,87.3M85.7,80.9L89.6,78.9M137.1,94.0L138.3,96.2M118.2,50.7L119.3,49.7M175.4,85.9L175.0,86.2M151.2,104.5L150.9,100.8M119.9,89.4L123.0,90.2M83.4,65.0L85.7,62.0M130.0,60.2L131.8,61.5M140.9,80.7L139.9,79.3M163.9,79.6L163.4,83.1M136.5,79.3L134.9,80.6M109.7,64.8L110.1,61.3M138.7,91.3L137.4,91.9M141.7,129.3L141.0,127.6M150.4,108.8L152.0,106.9M128.1,64.6L129.2,62.5M131.9,124.7L129.5,126.7M111.9,32.1L105.4,33.1M129.7,72.3L131.7,72.7M118.3,33.4L124.7,40.8M167.1,80.6L163.4,83.1M173.6,83.5L173.9,84.0M136.9,111.9L136.8,110.7M128.6,96.8L125.8,96.7M173.5,99.9L169.1,101.6M189.1,40.8L186.9,46.0M163.3,105.5L164.0,104.2M157.9,79.2L159.0,79.6M146.5,52.9L144.9,53.1M177.3,110.6L176.9,109.0M141.5,86.3L141.3,87.5M137.7,65.5L139.6,67.0M94.3,101.8L94.2,103.0M128.6,68.1L129.1,67.5M146.2,68.9L148.1,69.7M166.7,118.3L170.5,117.6M119.5,64.6L117.3,67.3M126.0,104.1L128.5,102.1M126.1,113.7L126.2,111.6M103.8,137.0L103.5,135.3M153.3,86.8L151.4,85.3M128.4,73.8L127.1,73.6M149.0,159.8L143.7,161.6M169.5,83.7L167.1,85.3M146.2,68.9L145.9,68.3M121.8,72.2L122.4,71.7M113.4,24.6L119.3,28.7M205.6,74.5L205.4,76.5M169.1,101.6L168.5,104.2M163.9,79.6L164.2,77.1M130.1,100.8L130.0,98.8M111.7,41.8L115.3,46.5M135.4,88.0L136.8,89.0M178.4,101.6L178.1,100.7M177.6,126.8L179.3,121.2M202.8,111.6L202.6,120.1M134.4,111.0L131.9,109.2M122.0,82.3L123.2,83.2M143.7,51.9L144.9,53.1M163.7,60.4L163.7,59.3M105.5,105.2L108.2,106.3M160.1,65.5L159.6,66.1M146.8,75.2L146.2,75.9M99.7,68.8L102.1,70.1M118.1,96.6L117.5,96.9M136.9,111.9L137.3,112.5M114.7,143.9L119.9,140.0M121.8,72.2L122.7,73.4M131.0,70.8L131.7,72.7M122.9,118.4L121.7,119.2M130.9,56.2L132.1,57.8M159.5,75.1L160.6,77.1M143.2,90.5L144.2,91.8M110.6,77.6L113.7,76.7M152.1,118.5L152.4,119.8M140.9,117.1L141.2,113.5M78.9,102.1L82.0,102.0M139.5,63.0L139.0,61.9M163.2,76.6L160.6,77.1M163.8,96.1L163.8,96.4M137.4,84.2L136.4,84.2M141.6,40.0L138.4,38.4" stroke="#fdae61" stroke-width="0.75"/><path d="M152.8,74.8L151.6,72.7M160.9,101.1L161.9,101.0M78.5,119.4L78.0,118.7M180.9,73.1L183.4,73.1M141.6,109.4L142.6,109.5M109.0,91.0L109.3,92.5M164.8,105.4L165.8,103.9M138.8,107.5L138.1,108.0M122.1,58.8L122.4,59.8M122.8,126.3L121.7,123.2M100.9,116.7L103.9,115.7M90.4,121.7L87.6,119.2M159.9,128.6L169.3,132.5M151.4,141.0L157.5,139.7M144.8,97.9L144.2,96.8M146.3,93.0L145.3,94.2M139.1,70.6L138.6,70.7M112.9,101.3L111.7,100.4M77.5,98.0L76.6,91.4M137.2,75.6L138.2,76.9M137.9,105.9L138.4,104.0M136.4,84.2L135.6,82.9M137.6,68.5L136.1,67.3M85.5,108.2L85.7,109.7M154.5,94.0L153.5,94.1M142.4,107.5L142.6,109.5M146.1,92.1L146.3,90.3M125.4,86.8L127.4,87.3M172.2,96.8L171.1,96.4M115.8,96.4L117.5,96.9M151.6,98.2L151.1,98.7M144.5,68.5L145.9,68.3M169.5,83.7L173.1,81.9M105.9,95.3L104.4,96.2M166.2,90.1L166.9,89.3M162.4,42.3L163.7,41.9M155.4,89.7L154.0,88.9M109.0,91.0L112.0,87.2M165.1,84.9L163.4,83.1M207.1,108.9L206.6,109.7M116.5,85.9L115.8,89.9M101.2,54.5L96.2,49.6M146.6,87.4L147.7,86.9M130.0,75.0L130.1,75.7M114.9,103.7L112.4,107.1M172.1,121.2L167.4,119.7M137.9,105.9L137.1,104.8M131.4,80.6L130.9,81.9M154.2,110.9L150.5,113.1M115.4,79.9L117.8,82.3M136.3,93.2L135.9,93.5M125.4,86.8L124.4,87.0M164.6,114.9L170.4,115.6M120.3,63.4L121.5,63.7M114.7,143.9L120.3,148.2M137.3,82.4L137.4,84.2M101.0,45.6L96.2,49.6M109.2,70.0L108.0,70.8M153.3,86.8L155.5,88.1M137.0,99.6L137.9,98.4M134.9,111.0L136.8,110.7M129.9,83.2L132.6,84.2M112.9,81.5L110.6,84.7M123.9,80.8L123.2,83.2M134.4,37.6L138.4,38.4M144.0,117.6L145.2,119.0M119.8,81.3L122.9,78.7M119.6,93.2L119.4,95.2M103.1,90.7L100.9,95.0M196.8,75.6L200.4,81.1M151.3,60.9L150.7,57.7M124.6,115.9L122.1,115.2M119.0,86.4L118.4,84.5M167.1,85.3L166.2,87.7M147.4,82.7L144.9,81.5M120.5,106.7L120.0,106.7M148.4,84.9L147.4,82.7M140.5,88.6L140.5,89.3M117.3,104.6L114.9,103.7M167.4,81.1L167.1,80.6M127.5,52.5L127.7,50.0M159.8,100.8L159.9,99.0M86.9,73.1L92.9,68.7M203.9,61.2L198.6,58.9M128.6,96.8L130.3,96.0M123.3,88.4L123.0,88.7M150.6,79.0L148.0,79.6M109.0,74.2L109.5,75.1M124.0,78.3L123.9,80.1M162.4,79.8L160.6,77.1M186.2,81.2L185.8,81.1M135.1,77.0L137.2,75.6M153.8,109.4L152.0,106.9M165.1,84.9L162.8,85.4M172.8,80.9L168.2,81.4M88.0,42.8L84.8,45.4M116.3,101.9L116.4,100.5M138.6,70.7L135.3,71.1M130.1,116.4L132.7,118.6M148.4,113.8L148.1,115.3M101.5,59.1L100.9,62.1M131.4,74.6L134.4,75.8M167.7,92.4L170.9,94.1M142.2,93.2L142.0,93.7M67.8,111.9L72.2,112.5M136.1,67.3L135.2,68.1M142.4,104.0L142.0,105.2M134.1,99.2L133.2,98.1M141.6,113.1L141.3,112.6M149.1,122.1L147.4,121.2M139.1,89.4L139.2,90.7M150.7,57.7L148.9,57.2M178.5,42.5L177.4,46.3M153.8,109.4L154.4,106.7M134.2,58.1L133.5,60.4M149.2,81.3L150.3,80.5M166.8,55.3L165.5,53.3M115.4,111.7L116.9,111.8M114.3,102.9L111.3,104.0M134.9,111.0L134.4,111.0M123.2,91.0L124.3,93.1M127.0,133.1L124.9,128.9M153.3,59.6L153.0,61.3M132.0,92.2L132.1,90.6M142.0,105.2L144.3,105.6M141.6,97.1L141.1,95.0M124.7,115.7L125.4,116.1M129.6,85.8L129.3,89.3M120.5,96.4L119.5,96.3M184.4,76.7L182.4,76.8M156.6,64.6L158.8,62.4M124.6,115.9L125.4,116.1M157.0,89.2L155.5,88.1M163.2,64.6L161.5,64.8M131.0,70.8L128.6,68.1M122.2,77.1L122.9,78.7M142.9,77.8L140.2,77.4M150.9,100.8L152.5,100.0M128.8,76.5L130.6,76.7M201.1,65.1L204.8,64.5M133.9,140.7L134.6,141.7M169.0,77.6L169.0,78.7M126.6,109.0L126.3,110.5M142.7,91.1L143.7,92.1M117.3,104.6L117.6,102.2M157.9,79.2L158.7,75.8M141.8,68.5L139.9,70.1M114.9,111.8L114.5,111.5M132.0,60.7L131.8,61.5M120.6,59.6L120.3,63.4M202.6,120.1L200.6,123.0M146.3,93.0L147.3,93.0M123.9,80.8L124.8,81.3M178.0,105.7L175.2,107.2M125.2,103.5L125.4,104.2M116.4,83.0L117.8,82.3M122.8,75.4L122.6,76.3M153.9,101.1L156.3,102.6M152.1,95.3L151.4,94.5M119.5,64.6L120.1,63.5M145.3,94.2L144.2,91.8M77.5,98.0L78.8,100.7M139.9,79.1L139.6,77.5M124.5,63.3L125.3,62.3M121.4,94.6L122.7,94.9M105.8,89.2L103.1,90.7M142.1,67.4L141.8,68.5M107.0,116.6L108.1,118.6M109.2,70.0L110.2,73.1M110.2,119.9L110.2,119.7M130.1,98.7L131.2,97.9M128.0,86.5L126.7,83.8M119.2,83.6L119.1,84.4M159.3,86.8L159.3,84.2M128.5,102.1L125.0,102.1M111.1,100.7L109.0,100.4M153.2,71.5L151.7,72.3M157.5,89.5L159.9,90.9M156.4,113.9L157.5,112.9M136.5,79.3L137.0,79.8M141.5,89.1L140.6,89.8M168.4,68.6L166.8,71.2M153.3,59.6L157.2,60.7M172.8,80.9L169.0,78.7M178.5,111.2L178.7,119.6M138.9,96.0L139.3,95.7M152.8,83.1L153.1,84.7M121.9,97.7L122.7,94.9M132.9,108.6L135.6,108.5M117.3,107.9L117.1,106.5M120.0,106.7L119.2,105.0M173.6,83.5L174.7,81.6M153.4,102.4L152.9,104.2M160.8,97.0L157.7,97.3M118.7,82.8L117.8,82.3M111.3,68.3L110.0,68.7M157.5,89.5L159.3,86.8M148.4,113.8L150.5,113.1M111.0,102.9L111.3,104.0M114.5,111.5L111.5,109.4M159.0,103.4L157.8,105.6M112.9,101.3L111.4,102.1M129.1,54.8L130.1,54.2M113.3,91.8L110.5,93.2M135.4,92.1L136.2,91.5M162.1,96.9L163.8,96.4M128.4,91.3L126.9,91.7M144.6,79.1L142.6,79.0M191.9,87.7L183.7,85.4M137.9,88.2L138.4,88.3M155.0,48.4L154.9,52.0M127.6,90.3L127.6,89.4M131.1,64.4L129.2,62.5M135.9,92.8L135.5,92.6M197.2,128.7L190.5,130.5M161.8,106.4L159.3,110.0M81.5,94.0L90.8,93.2M135.4,87.1L133.3,85.5M161.3,116.7L161.9,115.7M127.0,107.9L127.1,108.4M130.0,75.0L130.2,74.9M145.9,87.2L144.8,88.3M122.3,110.9L122.4,112.5M117.3,93.3L116.2,90.6M105.8,89.2L105.9,95.3M129.3,35.1L124.7,40.8M128.5,67.2L125.3,67.3M142.1,66.1L141.8,64.4M134.9,111.0L136.9,111.9M123.0,114.0L122.1,115.2M153.0,93.1L151.4,94.5M109.0,78.7L104.8,79.6M154.8,96.0L157.7,97.3M142.4,86.6L141.3,87.5M156.3,102.6L153.4,102.4M157.2,82.0L154.8,79.8M137.6,68.5L135.3,71.1M125.1,92.5L123.2,91.0M113.9,81.0L114.1,80.3M85.7,109.7L98.7,109.8M89.5,90.3L90.8,93.2M124.7,85.5L125.4,86.8M124.6,106.1L125.1,106.5M113.5,93.0L113.8,96.3M113.7,76.7L114.1,80.3M86.0,69.4L85.8,68.2M141.8,68.5L143.9,68.0M129.7,72.3L128.9,72.7M135.9,108.4L135.6,108.5M130.0,60.2L129.2,58.4M160.8,72.5L157.1,70.6M147.7,86.9L148.9,86.1M125.4,80.8L126.8,81.5M129.7,113.4L126.2,111.6M137.4,91.9L136.2,91.5M167.0,99.5L167.5,101.3M144.3,58.8L143.0,55.2M120.5,69.6L120.3,68.5M140.2,77.4L142.4,75.5M129.9,105.9L126.0,104.1M142.9,84.0L143.2,84.1M74.8,66.1L76.5,63.9M175.0,93.4L176.1,94.2M115.8,89.9L118.0,86.9M133.3,85.5L136.4,84.2M134.4,98.8L133.2,98.1M128.6,101.2L124.5,99.5M111.3,85.4L110.6,84.7M147.0,100.1L147.2,97.4M161.2,94.3L161.4,94.9M167.1,78.5L169.0,77.6M137.0,88.6L135.4,88.0M112.2,79.6L111.7,80.6M151.4,85.3L153.1,84.7M137.0,99.6L135.9,101.8M130.0,91.2L129.3,89.3M114.4,132.8L107.9,142.6M116.3,101.9L114.9,103.7M133.3,95.1L133.0,95.3M211.9,71.1L207.7,74.6M120.5,106.7L121.2,104.9M152.6,80.1L152.9,79.6M150.6,79.0L149.0,77.1M182.6,78.4L184.4,77.4M145.4,72.9L146.3,73.9M119.4,79.6L115.4,79.9M118.8,101.1L116.4,100.5M129.3,61.6L129.2,62.5M143.8,97.9L144.2,96.8M129.0,125.4L129.5,126.7M194.9,122.0L200.6,123.0M176.3,68.6L175.1,70.3M148.3,118.0L148.1,115.3M109.5,59.1L111.2,56.0M146.2,75.9L145.2,77.3M133.8,52.2L134.3,54.6M121.6,63.9L121.5,63.7M121.8,83.7L119.2,83.6M146.4,104.8L147.7,100.2M145.4,96.2L148.6,95.4M126.2,94.6L124.7,95.6M162.4,79.8L159.4,82.1M126.1,113.7L123.0,114.0M129.9,105.9L130.8,105.7M150.0,110.7L149.9,111.6M150.1,87.0L148.9,86.1M132.1,90.6L131.5,90.1M151.3,97.2L150.0,97.6M123.0,114.0L122.4,112.5M140.4,89.8L139.9,89.9M120.7,67.4L120.9,66.1M134.7,73.1L135.5,71.7M105.0,69.1L103.2,68.8M157.7,108.1L155.9,106.8M135.3,71.1L135.2,68.1M115.4,111.7L115.0,109.7M160.6,83.9L159.8,83.1M164.7,74.8L165.2,73.0M149.2,71.8L148.1,71.9M135.1,77.0L137.1,77.8M178.4,88.6L179.7,86.8M114.0,108.2L117.1,106.5M184.6,46.7L186.9,46.0M88.0,86.9L85.5,87.9M109.4,130.2L111.7,127.6M103.0,88.0L103.1,90.7M105.9,95.3L103.1,90.7M124.0,78.3L126.0,79.9M114.0,108.2L114.9,103.7M166.0,73.5L166.8,71.2M135.4,92.1L135.5,92.6M113.3,40.3L111.7,41.8M125.3,62.3L128.1,64.6M144.1,94.2L144.2,96.8M144.3,58.8L144.2,61.8M113.9,81.0L114.5,81.3M131.5,98.4L130.1,98.7M174.4,55.0L177.0,59.4M110.6,77.6L109.5,75.1M135.9,90.1L136.8,89.0M114.0,108.2L117.3,107.9M139.8,95.7L141.1,95.0M122.8,103.5L121.2,103.5M155.5,122.8L154.3,121.1M191.7,76.2L194.6,74.0M150.8,85.7L148.9,86.1M143.7,100.8L144.0,101.4M138.1,108.0L138.0,108.6M140.1,73.4L139.9,73.2M132.9,72.6L134.7,73.1M142.0,105.2L139.8,103.9M146.8,67.3L147.6,65.0M124.5,63.3L128.1,64.6M162.2,147.6L165.2,142.1M148.8,110.0L144.7,111.2M122.7,94.9L124.6,93.6M146.5,122.8L144.8,125.4M168.4,65.3L171.3,66.2M120.7,67.4L121.0,66.1M144.9,81.5L147.1,80.5M117.3,93.3L113.5,93.0M149.8,99.5L151.1,98.7M138.3,96.4L137.9,98.4M127.4,94.3L130.8,94.0M176.4,131.4L176.2,140.5M118.8,107.9L117.3,107.9M137.7,72.7L139.0,72.2M151.5,96.2L152.1,95.3M132.7,94.2L133.3,95.1M167.7,77.0L167.1,78.5M109.2,70.0L110.0,68.7M144.0,117.6L143.1,116.8M126.0,79.9L126.3,77.8M121.9,97.7L124.5,99.5M134.4,98.8L136.5,96.8M162.1,96.9L161.4,94.9M70.5,89.7L76.6,91.4M135.4,87.1L136.4,84.2M178.1,100.7L180.1,99.1M113.9,81.0L113.9,81.0M162.1,70.4L165.2,73.0M151.3,97.2L151.6,98.2M154.4,106.7L152.9,104.2M138.0,93.2L139.5,93.9M133.9,64.8L136.4,60.6M154.5,94.0L154.8,96.0M168.4,68.6L168.3,66.5M139.4,71.5L139.1,70.6M134.7,120.7L135.9,121.7M126.1,113.7L129.7,113.4M152.8,83.1L150.3,80.5M146.4,104.8L150.4,108.8M152.9,75.7L152.3,78.9M110.6,126.1L113.4,121.8M143.8,90.3L143.2,90.5M128.8,66.4L129.1,67.5M106.3,95.6L109.3,92.5" stroke="#d7191c" stroke-width="0.75"/><path d="M138.1,87.7Q137.0,87.2 136.8,87.2Q136.7,87.1 136.0,87.1Q135.4,87.1 134.3,86.3Q133.3,85.5 132.9,84.9Q132.6,84.2 131.2,83.7Q129.9,83.2 129.7,83.3Q129.4,83.4 128.6,82.6Q127.8,81.8 127.3,81.7Q126.8,81.5 126.1,81.2Q125.4,80.8 125.3,80.8Q125.2,80.8 125.1,80.7Q125.1,80.6 124.5,80.3Q123.9,80.1 123.4,79.4Q122.9,78.7 121.1,79.1Q119.4,79.6 117.9,78.1Q116.4,76.5 115.9,76.1Q115.5,75.8 115.0,75.6Q114.5,75.4 112.3,74.3Q110.2,73.1 109.1,72.0Q108.0,70.8 107.6,70.7Q107.2,70.6 106.1,70.9Q104.9,71.1 103.5,70.6Q102.1,70.1 100.9,69.5Q99.7,68.8 99.2,68.4Q98.6,67.9 98.4,67.8Q98.2,67.7 97.3,68.0Q96.4,68.3 95.1,68.3Q93.7,68.3 93.3,68.5Q92.9,68.7 89.5,67.7Q86.2,66.7 84.8,65.9Q83.4,65.0 82.7,63.7Q82.1,62.4 79.3,63.1Q76.5,63.9 76.0,63.0Q75.5,62.2 74.2,61.6Q72.9,61.0 69.3,59.9Q65.8,58.9 63.5,56.6Q61.2,54.3 58.6,53.3Q56.1,52.3 53.0,50.6Q49.9,49.0 48.2,50.8Q46.5,52.7 46.5,52.8Q46.4,52.9 39.8,52.8Q33.2,52.8 31.9,52.3Q30.7,51.8 28.8,49.5Q26.9,47.2 22.6,48.1Q18.3,49.1 18.9,54.3L19.4,59.5M138.1,87.7Q138.4,88.3 138.9,88.2Q139.3,88.2 139.7,88.3Q140.0,88.4 140.3,88.5Q140.5,88.6 141.0,88.9Q141.5,89.1 141.8,89.1Q142.0,89.1 142.6,89.8Q143.2,90.5 143.7,91.2Q144.2,91.8 144.8,93.0Q145.3,94.2 146.9,94.8Q148.6,95.4 148.9,96.4Q149.2,97.5 149.6,97.6Q150.0,97.6 150.0,98.0Q150.0,98.3 150.5,98.5Q151.1,98.7 151.8,99.3Q152.5,100.0 153.2,100.5Q153.9,101.1 155.1,101.9Q156.3,102.6 157.7,103.0Q159.0,103.4 159.8,103.9Q160.6,104.4 162.0,105.0Q163.3,105.5 164.0,105.4Q164.8,105.4 166.1,107.6Q167.4,109.8 168.0,109.7Q168.5,109.7 169.5,109.7Q170.4,109.7 170.7,110.0Q171.0,110.4 171.3,110.3Q171.7,110.2 172.3,112.2Q173.0,114.1 173.5,114.8Q174.0,115.5 176.3,117.5Q178.7,119.6 179.0,120.4Q179.3,121.2 180.9,121.0Q182.6,120.7 184.6,120.5Q186.5,120.4 186.6,121.1Q186.7,121.9 187.1,122.3Q187.6,122.7 189.2,123.5Q190.8,124.3 194.0,126.5Q197.2,128.7 198.4,130.4Q199.5,132.2 199.9,132.2Q200.2,132.3 201.6,133.8Q203.0,135.4 203.8,136.9Q204.6,138.4 205.4,138.3Q206.1,138.1 207.7,138.8Q209.2,139.5 210.0,141.5Q210.7,143.5 210.9,143.7Q211.0,143.9 214.1,147.3Q217.1,150.7 218.0,152.8Q218.8,154.9 222.5,156.5Q226.2,158.2 229.4,163.2Q232.7,168.1 233.9,169.7Q235.1,171.2 235.1,171.5Q235.2,171.7 237.2,174.5Q239.2,177.3 239.2,178.3Q239.3,179.4 242.8,182.3Q246.3,185.1 246.3,186.7Q246.3,188.3 245.6,189.9L244.9,191.5M138.1,87.7Q138.1,87.3 138.1,86.9Q138.0,86.6 138.2,86.5Q138.4,86.5 138.3,85.6Q138.2,84.7 138.2,84.2Q138.3,83.7 138.6,83.5Q139.0,83.3 139.9,82.0Q140.9,80.7 141.1,80.1Q141.3,79.5 141.4,79.3Q141.6,79.1 142.1,79.1Q142.6,79.0 142.8,78.4Q142.9,77.8 142.7,76.6Q142.4,75.5 142.4,75.3Q142.5,75.2 142.8,74.9Q143.1,74.7 143.4,74.4Q143.6,74.0 143.8,73.8Q144.0,73.6 144.7,73.3Q145.4,72.9 145.5,72.1Q145.6,71.2 145.9,70.0Q146.2,68.9 146.0,68.6Q145.9,68.3 146.3,67.8Q146.8,67.3 147.2,66.1Q147.6,65.0 147.7,64.2Q147.7,63.4 148.6,62.9Q149.5,62.4 150.4,61.7Q151.3,60.9 152.3,60.3Q153.3,59.6 153.8,57.8Q154.4,56.1 154.4,54.7Q154.5,53.3 154.7,52.7Q154.9,52.0 155.0,50.2Q155.0,48.4 155.6,47.3Q156.2,46.2 157.3,45.3Q158.4,44.3 160.4,43.3Q162.4,42.3 163.1,42.1Q163.7,41.9 163.9,40.4Q164.1,38.9 166.9,36.4Q169.7,33.9 169.6,32.1Q169.5,30.2 171.9,28.4Q174.4,26.7 173.0,23.9Q171.6,21.2 170.6,20.3Q169.5,19.4 169.6,19.0Q169.6,18.6 169.7,18.4Q169.8,18.1 168.9,16.9Q167.9,15.7 168.8,15.2L169.6,14.6M138.1,87.7Q138.1,87.3 138.6,87.3Q139.0,87.3 139.7,87.5Q140.4,87.7 140.9,87.6Q141.3,87.5 142.4,87.7Q143.5,87.9 144.2,88.1Q144.8,88.3 145.3,87.7Q145.9,87.2 146.2,87.3Q146.6,87.4 147.2,87.1Q147.7,86.9 148.3,86.5Q148.9,86.1 149.8,85.9Q150.8,85.7 151.1,85.5Q151.4,85.3 152.3,85.0Q153.1,84.7 153.4,84.4Q153.8,84.1 155.3,84.0Q156.9,84.0 158.1,84.1Q159.3,84.2 159.9,84.0Q160.6,83.9 161.5,83.6Q162.5,83.3 162.9,83.2Q163.4,83.1 165.4,82.1Q167.4,81.1 167.8,81.3Q168.2,81.4 170.5,81.2Q172.8,80.9 173.7,80.1Q174.5,79.4 176.1,79.0Q177.7,78.6 179.3,77.5Q180.9,76.5 181.6,76.6Q182.4,76.8 183.4,76.8Q184.4,76.7 188.1,76.5Q191.7,76.2 192.4,76.6Q193.2,77.0 194.8,76.1Q196.5,75.2 196.7,75.4Q196.8,75.6 197.8,75.0Q198.9,74.3 199.3,74.6Q199.8,74.9 201.6,74.5Q203.4,74.0 204.5,74.2Q205.6,74.5 206.7,74.6Q207.7,74.6 209.4,75.5Q211.1,76.3 213.4,75.6Q215.7,74.9 216.0,74.5Q216.4,74.2 217.9,73.7Q219.4,73.2 219.9,72.6Q220.3,71.9 222.7,73.0Q225.1,74.1 226.9,73.2Q228.7,72.4 234.0,69.5Q239.3,66.5 242.3,65.8Q245.3,65.1 249.7,66.1Q254.1,67.1 257.1,67.0Q260.1,66.9 263.5,67.9Q266.9,68.9 270.2,66.8Q273.5,64.7 276.6,65.0Q279.7,65.3 287.0,62.7L294.3,60.1M138.1,87.7Q137.0,87.2 136.8,87.2Q136.7,87.1 136.0,87.1Q135.4,87.1 134.3,86.3Q133.3,85.5 132.9,84.9Q132.6,84.2 131.2,83.7Q129.9,83.2 129.7,83.3Q129.4,83.4 128.6,82.6Q127.8,81.8 127.3,81.7Q126.8,81.5 126.1,81.2Q125.4,80.8 125.3,80.8Q125.2,80.8 125.1,80.7Q125.1,80.6 124.5,80.3Q123.9,80.1 123.4,79.4Q122.9,78.7 121.1,79.1Q119.4,79.6 117.9,78.1Q116.4,76.5 115.9,76.1Q115.5,75.8 115.0,75.6Q114.5,75.4 112.3,74.3Q110.2,73.1 109.1,72.0Q108.0,70.8 107.6,70.7Q107.2,70.6 106.1,69.8Q105.0,69.1 104.5,68.4Q104.0,67.7 104.0,66.7Q104.0,65.8 103.2,65.0Q102.3,64.2 101.9,63.3Q101.5,62.4 101.2,62.2Q100.9,62.1 101.2,60.6Q101.5,59.1 99.1,58.0Q96.6,56.9 96.2,55.9Q95.8,54.8 94.4,53.8Q93.1,52.8 90.8,52.3Q88.6,51.8 86.7,48.6Q84.8,45.4 83.3,45.3Q81.7,45.3 79.3,43.7Q76.8,42.1 75.8,42.4Q74.9,42.6 74.0,42.8L73.1,43.0M185.3,87.8 L180.5,94.2 L179.2,100.7 L175.1,106.3 L169.4,110.5 L167.3,117.8 L162.8,124.7 L156.0,130.1 L147.7,134.2 L138.3,130.4 L129.4,131.3 L121.8,127.1 L115.2,122.5 L108.7,118.4 L105.8,111.5 L101.3,106.3 L96.0,101.1 L91.4,94.9 L89.9,87.8 L88.8,80.2 L91.9,73.1 L94.0,65.5 L100.7,60.3 L105.9,54.2 L114.6,52.1 L123.9,53.3 L130.8,50.8 L138.3,49.0 L146.2,48.8 L153.6,51.2 L161.8,52.3 L170.6,54.3 L177.4,59.2 L185.5,64.1 L187.9,72.1 L188.5,80.1 L187.5,87.8" stroke="#fdae61" stroke-width="0.85"/><path d="M138.1,87.7Q137.0,87.2 136.8,87.2Q136.7,87.1 136.0,87.1Q135.4,87.1 134.3,86.3Q133.3,85.5 132.9,84.9Q132.6,84.2 131.2,83.7Q129.9,83.2 129.7,83.3Q129.4,83.4 128.6,82.6Q127.8,81.8 127.3,81.7Q126.8,81.5 126.1,81.2Q125.4,80.8 125.3,80.8Q125.2,80.8 125.1,80.7Q125.1,80.6 124.5,80.3Q123.9,80.1 123.4,79.4Q122.9,78.7 121.1,79.1Q119.4,79.6 117.9,78.1Q116.4,76.5 115.9,76.1Q115.5,75.8 115.0,75.6Q114.5,75.4 112.3,74.3Q110.2,73.1 109.1,72.0Q108.0,70.8 107.6,70.7Q107.2,70.6 106.1,70.9Q104.9,71.1 103.5,70.6Q102.1,70.1 100.9,69.5Q99.7,68.8 99.2,68.4Q98.6,67.9 98.4,67.8Q98.2,67.7 97.3,68.0Q96.4,68.3 95.1,68.3Q93.7,68.3 93.3,68.5Q92.9,68.7 89.5,67.7Q86.2,66.7 84.8,65.9Q83.4,65.0 82.7,63.7Q82.1,62.4 79.3,63.1Q76.5,63.9 76.0,63.0Q75.5,62.2 74.2,61.6Q72.9,61.0 69.3,59.9Q65.8,58.9 63.5,56.6Q61.2,54.3 58.6,53.3Q56.1,52.3 53.0,50.6Q49.9,49.0 48.2,50.8Q46.5,52.7 46.5,52.8Q46.4,52.9 39.8,52.8Q33.2,52.8 31.9,52.3Q30.7,51.8 28.8,49.5Q26.9,47.2 22.6,48.1Q18.3,49.1 17.4,49.3L16.6,49.5M138.1,87.7Q137.0,87.2 136.8,87.2Q136.7,87.1 136.0,87.6Q135.4,88.0 134.8,88.3Q134.1,88.6 133.6,88.7Q133.0,88.8 132.3,89.5Q131.5,90.1 130.8,90.6Q130.0,91.2 129.5,91.4Q128.9,91.6 128.7,91.5Q128.4,91.3 127.7,91.5Q126.9,91.7 126.6,92.2Q126.4,92.6 126.1,92.8Q125.9,92.9 125.5,92.7Q125.1,92.5 124.7,92.8Q124.3,93.1 123.4,92.5Q122.5,91.9 121.1,92.6Q119.6,93.2 118.6,93.2Q117.6,93.2 117.4,93.3Q117.3,93.3 115.4,93.1Q113.5,93.0 112.0,93.1Q110.5,93.2 109.9,92.9Q109.3,92.5 109.1,91.8Q109.0,91.0 107.4,90.1Q105.8,89.2 104.5,90.0Q103.1,90.7 101.4,91.1Q99.7,91.4 98.2,92.3Q96.6,93.2 94.6,92.8Q92.6,92.4 91.7,92.8Q90.8,93.2 86.2,93.6Q81.5,94.0 79.5,96.0Q77.5,98.0 76.7,98.4Q75.9,98.8 73.8,100.6Q71.7,102.4 70.1,104.4Q68.5,106.3 66.2,106.7Q63.9,107.1 62.3,108.0Q60.6,108.8 58.1,108.9Q55.6,109.1 53.7,109.4Q51.8,109.7 51.2,108.8Q50.5,107.9 49.1,108.0Q47.6,108.2 44.9,108.0Q42.2,107.9 40.6,108.7Q39.1,109.6 34.6,108.0L30.1,106.5M138.1,87.7Q137.9,88.2 137.6,88.1Q137.4,88.1 137.2,88.3Q137.0,88.6 137.0,88.7Q137.0,88.8 136.9,88.9Q136.8,89.0 136.4,89.6Q135.9,90.1 135.7,90.4Q135.5,90.7 135.4,91.4Q135.4,92.1 135.5,92.4Q135.5,92.6 134.1,93.4Q132.7,94.2 132.0,94.6Q131.2,95.0 130.8,95.5Q130.3,96.0 129.5,96.4Q128.6,96.8 127.4,97.3Q126.2,97.8 125.3,98.7Q124.5,99.5 124.3,100.3Q124.2,101.2 123.5,102.4Q122.8,103.5 122.0,104.2Q121.2,104.9 120.8,105.8Q120.5,106.7 120.2,106.7Q120.0,106.7 119.4,107.3Q118.8,107.9 118.1,107.9Q117.3,107.9 116.1,108.8Q115.0,109.7 114.7,110.6Q114.5,111.5 114.0,112.1Q113.5,112.7 113.3,112.8Q113.1,113.0 113.1,113.7Q113.1,114.4 111.1,115.8Q109.0,117.2 109.0,117.3Q108.9,117.4 108.8,117.5Q108.8,117.7 108.7,117.7Q108.7,117.8 108.7,117.9Q108.8,118.1 108.4,118.3Q108.1,118.6 107.6,118.8Q107.1,119.0 104.2,122.3Q101.2,125.7 98.9,126.3Q96.5,126.9 95.2,127.2Q93.9,127.6 91.5,129.6Q89.2,131.6 88.8,134.0Q88.4,136.5 86.6,137.6Q84.7,138.8 83.3,139.5Q81.8,140.1 80.5,140.5Q79.2,140.9 77.5,145.5Q75.8,150.1 73.6,151.8Q71.4,153.6 69.5,155.6Q67.7,157.5 65.0,162.3Q62.3,167.0 61.0,169.5Q59.7,171.9 55.0,171.1L50.2,170.3M138.1,87.7Q138.4,88.3 138.8,88.8Q139.1,89.4 139.2,90.0Q139.2,90.7 139.2,91.2Q139.2,91.8 139.3,92.8Q139.5,93.9 139.2,94.4Q138.9,95.0 139.1,95.4Q139.3,95.7 139.1,95.8Q138.9,96.0 138.6,96.1Q138.3,96.2 138.3,96.3Q138.3,96.4 138.1,97.4Q137.9,98.4 137.4,99.0Q137.0,99.6 136.5,100.7Q135.9,101.8 135.5,101.9Q135.0,101.9 134.7,103.7Q134.4,105.4 133.6,107.0Q132.9,108.6 132.4,108.9Q131.9,109.2 130.8,111.3Q129.7,113.4 129.5,114.3Q129.3,115.3 129.7,115.9Q130.1,116.4 129.0,117.5Q127.8,118.5 126.6,119.7Q125.4,121.0 123.5,122.1Q121.7,123.2 120.7,124.4Q119.7,125.7 116.9,127.6Q114.1,129.6 113.8,129.8Q113.5,130.0 114.0,131.4Q114.4,132.8 111.2,137.7Q107.9,142.6 108.6,144.4Q109.3,146.1 106.6,148.8Q104.0,151.4 103.6,153.6Q103.3,155.8 103.4,156.5Q103.6,157.2 102.4,159.2Q101.1,161.1 98.3,166.4Q95.5,171.8 92.6,171.9Q89.8,172.0 84.5,174.9Q79.3,177.8 80.3,177.2L81.3,176.6M138.1,87.7Q138.1,87.3 138.6,87.3Q139.0,87.3 139.7,87.5Q140.4,87.7 140.9,87.6Q141.3,87.5 142.4,87.7Q143.5,87.9 144.2,88.1Q144.8,88.3 145.3,87.7Q145.9,87.2 146.2,87.3Q146.6,87.4 147.2,87.1Q147.7,86.9 148.3,86.5Q148.9,86.1 149.8,85.9Q150.8,85.7 151.1,85.5Q151.4,85.3 152.3,85.0Q153.1,84.7 153.4,84.4Q153.8,84.1 155.3,84.0Q156.9,84.0 158.1,84.1Q159.3,84.2 159.9,84.0Q160.6,83.9 161.5,83.6Q162.5,83.3 162.9,83.2Q163.4,83.1 165.4,82.1Q167.4,81.1 167.8,81.3Q168.2,81.4 170.5,81.2Q172.8,80.9 173.7,80.1Q174.5,79.4 176.1,79.0Q177.7,78.6 179.3,77.5Q180.9,76.5 181.6,76.6Q182.4,76.8 183.4,76.8Q184.4,76.7 188.1,76.5Q191.7,76.2 192.4,76.6Q193.2,77.0 194.8,76.1Q196.5,75.2 196.7,75.4Q196.8,75.6 197.8,75.0Q198.9,74.3 199.3,74.6Q199.8,74.9 201.6,74.5Q203.4,74.0 204.5,74.2Q205.6,74.5 206.7,74.6Q207.7,74.6 209.8,72.9Q211.9,71.1 213.6,69.0Q215.3,66.8 218.8,65.2Q222.3,63.6 227.3,61.3Q232.2,59.1 234.1,57.8Q236.0,56.6 240.8,57.6Q245.6,58.6 246.4,56.3Q247.3,54.0 252.4,54.6Q257.5,55.1 256.9,53.6L256.3,52.2M138.1,87.7Q138.4,88.3 138.8,88.8Q139.1,89.4 139.2,90.0Q139.2,90.7 139.2,91.2Q139.2,91.8 139.3,92.8Q139.5,93.9 140.3,94.4Q141.1,95.0 141.3,96.0Q141.6,97.1 142.3,97.2Q143.0,97.3 143.4,97.6Q143.8,97.9 143.7,98.1Q143.7,98.3 143.7,99.6Q143.7,100.8 143.8,101.1Q144.0,101.4 144.3,102.4Q144.5,103.4 144.6,103.8Q144.7,104.2 145.6,104.5Q146.4,104.8 147.6,107.4Q148.8,110.0 149.4,110.3Q150.0,110.7 149.9,111.1Q149.9,111.6 150.2,112.4Q150.5,113.1 151.6,113.9Q152.6,114.7 152.9,115.9Q153.2,117.0 153.8,118.3Q154.4,119.5 155.5,120.3Q156.5,121.1 157.3,122.7Q158.1,124.2 159.0,126.4Q159.9,128.6 160.5,132.3Q161.2,136.1 162.0,136.5Q162.7,136.8 162.9,138.8Q163.0,140.8 164.1,141.5Q165.2,142.1 167.3,143.0Q169.4,143.9 171.0,146.9Q172.7,149.8 172.6,150.5Q172.5,151.3 174.0,152.1Q175.5,153.0 177.9,156.3Q180.2,159.6 183.1,161.3Q186.1,162.9 187.9,162.5Q189.8,162.1 190.6,162.8Q191.5,163.6 192.1,165.0Q192.7,166.4 193.5,167.1Q194.3,167.8 197.9,172.9Q201.5,177.9 199.4,180.6Q197.4,183.2 198.8,186.1Q200.3,188.9 199.8,189.2Q199.4,189.6 199.1,190.5Q198.9,191.4 200.6,196.2Q202.4,200.9 202.8,207.2Q203.2,213.4 203.1,217.0Q202.9,220.7 202.6,223.4Q202.4,226.2 202.4,229.7Q202.3,233.3 205.5,233.7Q208.6,234.1 211.2,235.3L213.7,236.6M138.1,87.7Q138.1,87.3 138.1,86.9Q138.0,86.6 138.2,86.5Q138.4,86.5 138.3,85.6Q138.2,84.7 138.2,84.2Q138.3,83.7 138.6,83.5Q139.0,83.3 139.9,82.0Q140.9,80.7 140.4,80.0Q139.9,79.3 139.9,79.2Q139.9,79.1 139.7,78.3Q139.6,77.5 139.4,77.1Q139.3,76.8 139.7,75.1Q140.1,73.4 141.2,72.8Q142.4,72.2 142.4,72.0Q142.5,71.8 142.1,70.1Q141.8,68.5 141.9,68.0Q142.1,67.4 141.9,67.1Q141.7,66.9 141.9,66.5Q142.1,66.1 142.0,65.3Q141.8,64.4 143.0,63.1Q144.2,61.8 144.2,60.3Q144.3,58.8 143.6,57.0Q143.0,55.2 143.9,54.2Q144.9,53.1 145.3,52.1Q145.7,51.1 145.7,51.0Q145.6,50.8 145.4,50.2Q145.2,49.5 145.2,49.2Q145.2,48.9 144.9,47.7Q144.6,46.6 144.9,44.6Q145.3,42.7 146.2,40.5Q147.0,38.4 146.9,35.4Q146.8,32.4 147.8,31.0Q148.7,29.7 148.2,25.1Q147.7,20.6 149.5,18.9Q151.4,17.2 152.9,15.0Q154.4,12.8 153.4,11.7Q152.3,10.5 151.9,9.4Q151.4,8.2 152.3,6.8Q153.2,5.5 153.0,5.1L152.8,4.7M138.1,87.7Q138.1,87.3 138.6,87.3Q139.0,87.3 139.3,86.9Q139.6,86.6 140.5,86.4Q141.5,86.3 141.9,86.4Q142.4,86.6 143.1,86.0Q143.7,85.3 144.6,85.0Q145.4,84.6 145.6,84.5Q145.8,84.3 146.6,83.5Q147.4,82.7 148.3,82.0Q149.2,81.3 149.8,80.9Q150.3,80.5 151.4,80.3Q152.6,80.1 152.8,79.9Q152.9,79.6 153.9,79.7Q154.8,79.8 155.8,79.0Q156.7,78.3 157.7,77.1Q158.7,75.8 159.1,75.5Q159.5,75.1 160.1,73.8Q160.8,72.5 161.4,71.5Q162.1,70.4 162.6,69.1Q163.1,67.8 163.2,66.2Q163.2,64.6 164.4,63.8Q165.6,62.9 165.7,63.0Q165.9,63.1 168.2,60.5Q170.5,58.0 172.5,56.5Q174.4,55.0 175.9,54.2Q177.3,53.4 179.2,52.9Q181.1,52.4 181.1,51.6Q181.2,50.9 181.5,49.9Q181.7,48.9 183.1,47.8Q184.6,46.7 185.7,46.4Q186.9,46.0 188.0,43.4Q189.1,40.8 189.0,40.6L188.8,40.5M138.1,87.7Q138.1,87.3 138.1,86.9Q138.0,86.6 138.2,86.5Q138.4,86.5 138.3,85.6Q138.2,84.7 138.2,84.2Q138.3,83.7 137.8,83.1Q137.3,82.4 137.3,81.7Q137.4,81.0 137.2,80.4Q137.0,79.8 136.8,79.6Q136.5,79.3 136.3,79.0Q136.1,78.7 135.6,77.9Q135.1,77.0 134.8,76.4Q134.4,75.8 132.9,75.2Q131.4,74.6 131.5,73.6Q131.7,72.7 131.3,71.7Q131.0,70.8 130.3,69.2Q129.5,67.6 129.3,67.5Q129.1,67.5 129.0,66.9Q128.8,66.4 128.5,66.0Q128.1,65.6 128.1,65.1Q128.1,64.6 126.7,63.4Q125.3,62.3 125.8,61.3Q126.3,60.3 125.6,58.6Q125.0,56.9 124.4,55.3Q123.8,53.6 123.9,51.1Q124.1,48.6 122.9,48.6Q121.8,48.5 121.0,46.5Q120.3,44.5 119.7,43.7Q119.1,42.9 118.7,38.1Q118.3,33.4 118.8,31.1Q119.3,28.7 116.4,26.6Q113.4,24.6 113.3,22.9L113.1,21.2M138.1,87.7Q138.1,87.3 138.1,86.9Q138.0,86.6 138.2,86.5Q138.4,86.5 138.3,85.6Q138.2,84.7 138.2,84.2Q138.3,83.7 138.6,83.5Q139.0,83.3 139.9,82.0Q140.9,80.7 141.1,80.1Q141.3,79.5 141.4,79.3Q141.6,79.1 142.1,79.1Q142.6,79.0 142.8,78.4Q142.9,77.8 142.7,76.6Q142.4,75.5 142.4,75.3Q142.5,75.2 142.8,74.9Q143.1,74.7 143.4,74.4Q143.6,74.0 143.8,73.8Q144.0,73.6 144.7,73.3Q145.4,72.9 145.5,72.1Q145.6,71.2 145.9,70.0Q146.2,68.9 146.0,68.6Q145.9,68.3 146.3,67.8Q146.8,67.3 147.2,66.1Q147.6,65.0 147.7,64.2Q147.7,63.4 148.6,62.9Q149.5,62.4 150.4,61.7Q151.3,60.9 152.3,60.3Q153.3,59.6 153.8,57.8Q154.4,56.1 154.4,54.7Q154.5,53.3 154.7,52.7Q154.9,52.0 155.0,50.2Q155.0,48.4 155.6,47.3Q156.2,46.2 157.3,45.3Q158.4,44.3 160.4,43.3Q162.4,42.3 163.1,42.1Q163.7,41.9 163.9,40.4Q164.1,38.9 166.9,36.4Q169.7,33.9 169.6,32.1Q169.5,30.2 171.9,28.4Q174.4,26.7 173.0,23.9Q171.6,21.2 174.1,19.0L176.5,16.9M138.1,87.7Q138.4,88.3 138.8,88.8Q139.1,89.4 139.2,90.0Q139.2,90.7 139.2,91.2Q139.2,91.8 139.3,92.8Q139.5,93.9 140.3,94.4Q141.1,95.0 141.3,96.0Q141.6,97.1 142.3,97.2Q143.0,97.3 143.4,97.6Q143.8,97.9 143.7,98.1Q143.7,98.3 143.7,99.6Q143.7,100.8 143.8,101.1Q144.0,101.4 144.3,102.4Q144.5,103.4 144.6,103.8Q144.7,104.2 145.6,104.5Q146.4,104.8 147.6,107.4Q148.8,110.0 149.4,110.3Q150.0,110.7 149.9,111.1Q149.9,111.6 150.2,112.4Q150.5,113.1 151.6,113.9Q152.6,114.7 152.9,115.9Q153.2,117.0 153.8,118.3Q154.4,119.5 155.5,120.3Q156.5,121.1 157.3,122.7Q158.1,124.2 159.0,126.4Q159.9,128.6 160.5,132.3Q161.2,136.1 162.0,136.5Q162.7,136.8 162.9,138.8Q163.0,140.8 164.1,141.5Q165.2,142.1 167.3,143.0Q169.4,143.9 171.0,146.9Q172.7,149.8 172.6,150.5Q172.5,151.3 174.0,152.1Q175.5,153.0 174.6,155.8L173.6,158.5M138.1,87.7Q138.1,87.3 138.6,87.3Q139.0,87.3 139.7,87.5Q140.4,87.7 140.9,87.6Q141.3,87.5 142.4,87.7Q143.5,87.9 144.2,88.1Q144.8,88.3 145.3,87.7Q145.9,87.2 146.2,87.3Q146.6,87.4 147.2,87.1Q147.7,86.9 148.3,86.5Q148.9,86.1 149.8,85.9Q150.8,85.7 151.1,85.5Q151.4,85.3 152.3,85.0Q153.1,84.7 153.4,84.4Q153.8,84.1 155.3,84.0Q156.9,84.0 158.1,84.1Q159.3,84.2 159.9,84.0Q160.6,83.9 161.5,83.6Q162.5,83.3 162.9,83.2Q163.4,83.1 165.4,82.1Q167.4,81.1 167.8,81.3Q168.2,81.4 170.5,81.2Q172.8,80.9 173.7,80.1Q174.5,79.4 176.1,79.0Q177.7,78.6 179.3,77.5Q180.9,76.5 181.6,76.6Q182.4,76.8 183.3,76.2Q184.3,75.7 185.4,74.5Q186.4,73.2 189.0,73.4Q191.7,73.7 192.3,72.7Q192.9,71.8 193.3,70.2Q193.6,68.6 197.3,66.9Q201.1,65.1 202.9,64.8Q204.8,64.5 206.4,65.4L208.1,66.3M154.4,87.8 L154.0,90.2 L154.2,92.8 L152.6,94.9 L149.7,96.1 L147.8,97.6 L145.5,98.7 L142.8,98.6 L140.5,98.7 L138.3,100.4 L135.9,99.6 L133.1,100.1 L130.5,99.4 L127.3,99.1 L126.0,96.7 L124.9,94.5 L123.2,92.5 L123.1,90.1 L123.3,87.8 L125.4,85.8 L126.2,83.9 L126.5,81.9 L127.8,80.1 L129.2,78.3 L130.8,76.5 L133.0,75.2 L135.4,73.8 L138.3,74.2 L140.9,74.9 L143.2,76.0 L145.6,76.7 L147.3,78.4 L148.4,80.4 L150.5,81.6 L150.7,83.8 L152.7,85.5 L154.6,87.8M170.6,87.8 L169.6,92.6 L168.0,97.2 L163.9,100.6 L159.1,102.9 L157.1,107.3 L152.8,109.7 L148.3,111.7 L143.5,113.5 L138.3,115.7 L132.5,116.3 L126.5,115.8 L121.6,112.9 L116.2,110.6 L113.9,105.5 L113.0,100.4 L110.9,96.4 L109.6,92.1 L110.2,87.8 L110.4,83.5 L109.6,78.7 L110.0,73.6 L113.6,69.8 L115.4,64.1 L121.4,62.4 L127.0,60.9 L132.7,60.5 L138.3,60.7 L143.1,64.2 L147.4,65.8 L152.3,66.6 L155.7,69.7 L161.3,70.9 L164.7,74.5 L168.5,78.2 L171.3,82.7 L173.8,87.8" stroke="#d7191c" stroke-width="0.85"/></g></svg><div class="lab" style="left:1.4px;top:204.4px;width:182px;height:41.7px;transform:rotate(-0.8deg);"><span style="left:16.16px;top:12.40px;font-size:21.5px;line-height:21.5px;transform:scaleX(1.0289)">Débits horaires</span></div></div><div class="card" style="left:1117.0px;top:544.7px;width:300.2px;height:244.8px;transform:rotate(3.0deg);"><svg width="300.2" height="244.8" viewBox="0 0 300.2 244.8"><clipPath id="idf"><path d="M7.1,41.9 L15.1,37.4 L24.4,38.9 L30.4,35.5 L36.0,22.9 L38.5,11.4 L43.6,4.3 L47.5,6.8 L44.6,11.1 L51.0,15.9 L60.3,15.4 L69.6,17.0 L78.8,15.5 L93.0,10.6 L99.4,15.4 L110.9,17.9 L116.2,20.7 L124.1,15.2 L131.7,22.0 L141.0,23.5 L147.5,28.4 L155.7,29.0 L161.3,36.9 L164.6,40.8 L169.3,32.4 L177.8,38.1 L187.1,38.6 L192.1,35.3 L201.5,37.9 L214.8,36.2 L227.1,34.5 L229.9,30.2 L240.3,31.7 L245.1,43.8 L243.3,49.1 L252.0,58.9 L261.8,68.7 L269.1,70.4 L271.6,78.5 L286.4,85.9 L285.7,92.2 L276.6,95.7 L276.0,103.0 L283.5,108.8 L284.9,116.9 L281.5,108.4 L283.9,114.6 L281.1,121.2 L284.7,129.5 L292.1,128.0 L295.6,134.2 L283.0,138.1 L285.7,147.5 L278.5,153.2 L279.9,159.5 L273.8,165.1 L278.6,174.4 L277.9,181.9 L264.2,184.7 L251.7,188.5 L238.9,188.1 L226.3,190.9 L223.8,202.7 L227.4,211.1 L221.5,219.9 L215.4,224.4 L200.9,231.6 L179.2,224.2 L163.6,210.1 L156.8,181.8 L153.7,183.1 L144.4,187.8 L141.7,197.5 L136.4,196.7 L131.3,200.2 L125.8,197.3 L119.6,200.8 L114.1,197.9 L108.7,196.0 L102.7,201.7 L93.2,203.2 L78.2,200.8 L78.8,191.2 L77.3,182.8 L72.8,178.8 L70.3,172.6 L65.1,172.8 L59.5,167.8 L53.9,162.8 L50.4,156.6 L52.1,149.1 L47.6,144.0 L43.0,137.9 L37.6,136.0 L33.1,131.0 L27.4,123.8 L37.8,136.0 L29.0,126.2 L26.5,118.1 L28.1,107.7 L23.5,99.7 L25.4,95.5 L21.8,87.5 L22.4,79.2 L18.0,72.2 L15.4,63.1 L10.0,57.2 L10.6,48.9 Z"/></clipPath><g clip-path="url(#idf)" fill="none" stroke-linecap="round" stroke-linejoin="round"><path d="M91.4,82.7Q90.5,82.4 89.7,82.0M134.0,91.7Q135.0,90.9 136.2,90.2M111.7,135.3Q115.8,133.7 120.1,132.8M105.9,49.5Q105.5,49.9 105.4,50.3M145.7,66.5Q145.7,64.5 145.4,62.6M212.1,49.0Q208.8,53.4 205.2,57.5M151.4,111.1Q153.5,110.3 155.5,109.3M95.5,79.6Q95.5,79.5 95.6,79.5M125.7,92.8Q126.7,90.7 128.0,88.8M105.7,110.9Q105.7,108.4 105.4,106.0M117.9,64.8Q117.3,67.0 117.1,69.4M88.9,167.2Q89.6,168.8 89.6,170.5M137.2,54.4Q137.2,52.9 136.8,51.4M146.9,93.5Q145.4,93.0 144.1,92.4M188.7,96.3Q186.0,98.3 183.3,100.3M55.2,155.5Q58.1,160.6 61.5,165.3M286.1,133.4Q284.6,135.7 282.7,137.6M140.7,72.7Q142.0,71.9 143.4,71.5M141.2,76.2Q140.9,76.5 140.7,76.9M158.8,60.8Q157.0,60.1 155.2,59.3M125.7,98.8Q126.2,99.9 126.9,100.9M171.4,43.8Q172.7,42.0 173.8,40.2M139.8,64.1Q139.3,66.3 138.6,68.4M119.0,103.1Q119.6,104.1 120.2,105.1M237.9,37.7Q237.7,36.8 237.2,36.0M85.3,101.0Q83.1,104.4 81.1,107.9M145.3,106.2Q145.6,105.3 146.2,104.6M136.5,88.2Q137.5,88.1 138.4,88.0M101.9,115.5Q102.7,113.3 103.3,111.0M142.7,97.8Q144.8,97.8 146.8,98.5M146.8,98.5Q148.1,97.0 149.0,95.1M93.1,81.0Q94.5,83.7 96.1,86.2M130.7,68.2Q130.6,68.0 130.5,67.8M158.5,57.8Q157.0,56.3 155.1,55.2M90.8,169.9Q90.0,168.5 88.9,167.2M185.3,178.2Q190.0,184.5 196.6,188.6M145.9,112.8Q143.4,114.0 140.7,114.2M158.8,123.6Q157.0,125.6 154.9,127.4M159.1,140.2Q158.8,138.6 158.1,137.0M64.7,110.7Q67.4,109.0 69.9,107.0M112.1,80.9Q112.0,80.3 111.7,79.6M83.2,84.1Q84.0,88.2 85.3,92.1M163.0,89.0Q164.5,88.8 165.8,88.2M142.2,66.4Q144.0,64.7 145.4,62.6M107.8,112.7Q109.2,113.3 110.6,113.4M102.0,105.8Q101.5,106.5 101.1,107.2M119.9,63.9Q121.2,65.9 121.8,68.3M142.4,76.9Q142.7,76.9 142.9,76.7M126.6,86.9Q126.9,86.7 127.1,86.4M87.0,149.7Q85.0,146.7 82.3,144.4M118.0,62.9Q119.5,62.3 121.0,62.0M248.5,139.0Q246.5,140.9 245.1,143.3M118.4,74.5Q119.6,75.5 120.9,76.3M99.9,70.5Q99.8,69.8 99.6,69.0M166.3,59.3Q163.9,58.9 161.6,57.9M98.7,106.7Q97.0,108.9 95.2,111.0M165.7,98.5Q165.2,100.2 164.7,102.0M68.6,154.8Q75.5,149.6 82.3,144.4M128.3,50.7Q130.0,51.9 131.3,53.5M104.3,80.8Q103.4,81.1 102.4,81.2M136.5,88.2Q135.9,87.2 135.3,86.1M133.3,120.9Q132.6,121.3 132.0,121.8M76.3,25.5Q67.4,28.8 59.2,33.4M120.0,87.1Q119.0,86.7 118.0,86.5M88.9,93.3Q90.5,93.6 92.0,93.4M152.9,90.0Q152.8,91.0 152.9,92.1M200.1,82.5Q198.2,86.6 196.4,90.8M112.6,69.3Q111.0,68.3 109.2,67.8M242.8,113.3Q252.8,111.3 262.8,109.5M144.3,100.2Q143.1,100.6 141.8,101.0M122.7,186.4Q125.6,187.2 128.7,187.3M160.2,57.7Q160.6,58.8 161.0,60.0M100.8,73.6Q102.9,72.3 105.0,71.3M207.7,160.3Q201.9,153.3 196.6,145.9M218.9,58.5Q215.4,59.0 211.9,58.3M90.2,84.4Q92.1,86.3 94.6,87.3M176.0,88.8Q176.2,87.1 176.0,85.5M105.7,110.9Q106.8,111.7 107.8,112.7M115.4,42.4Q118.6,41.6 121.5,39.8M101.8,117.3Q100.0,116.9 98.3,116.2M148.5,78.3Q147.3,78.4 146.2,78.1M160.9,92.9Q161.4,93.3 161.7,93.9M93.7,97.4Q93.1,95.3 92.0,93.4M220.8,188.5Q220.9,191.8 222.0,194.9M136.2,90.2Q135.9,91.2 135.8,92.1M102.2,83.9Q102.6,82.6 102.4,81.2M148.2,150.0Q144.2,148.5 140.4,146.6M71.5,74.1Q71.1,76.6 71.4,79.0M152.2,107.2Q153.7,108.5 155.5,109.3M135.1,62.7Q134.4,65.0 133.6,67.3M47.7,25.8Q46.1,25.1 44.5,24.4M146.8,98.5Q147.9,101.9 147.8,105.5M148.6,132.5Q150.8,132.6 152.7,133.3M113.7,69.3Q113.4,69.8 112.9,70.3M143.1,128.2Q142.9,137.6 140.4,146.6M121.4,116.0Q123.1,117.3 124.9,118.6M171.0,79.8Q170.0,77.8 169.5,75.6M92.8,72.0Q94.5,74.9 95.9,77.9M166.3,59.3Q165.9,61.4 165.5,63.5M128.4,37.6Q126.8,36.2 125.8,34.4M218.1,79.2Q217.0,79.4 215.9,79.7M125.7,98.8Q124.8,97.4 123.7,96.3M81.1,95.6Q82.8,96.7 84.7,97.5M150.1,63.8Q148.6,61.8 147.3,59.7M96.9,75.0Q96.5,76.4 95.9,77.9M103.4,176.9Q101.5,176.3 99.7,175.7M69.9,107.0Q71.6,106.5 73.2,106.0M18.4,59.0Q18.5,61.4 18.8,63.7M126.4,115.8Q124.1,114.7 121.5,114.4M136.1,80.3Q136.5,81.0 136.5,81.8M136.0,94.1Q135.9,93.1 135.8,92.1M97.0,128.9Q92.3,129.2 87.6,128.9M168.1,108.7Q165.5,110.0 162.7,110.7M88.7,36.8Q88.0,38.5 87.8,40.4M182.5,57.8Q186.4,58.8 189.7,61.1M145.6,110.8Q147.2,109.3 148.2,107.3M127.0,72.9Q128.0,71.9 128.5,70.6M163.8,61.7Q162.4,60.9 161.0,60.0M116.9,89.6Q118.3,90.3 119.8,90.6M130.1,49.1Q129.3,50.0 128.3,50.7M110.7,66.0Q111.7,64.7 112.6,63.3M247.2,100.1Q247.4,92.4 248.8,84.8M127.9,100.4Q128.1,100.6 128.3,100.8M98.8,79.2Q98.1,79.9 97.3,80.5M117.0,181.9Q113.2,179.3 110.6,175.6M37.5,129.6Q34.1,126.1 31.4,122.0M108.9,93.1Q108.7,91.8 108.7,90.5M21.7,48.8Q22.2,43.9 24.2,39.4M157.0,64.3Q158.2,62.6 158.8,60.8M124.8,59.7Q123.6,59.8 122.4,59.4M90.7,99.3Q90.7,98.6 90.8,97.9M145.6,110.8Q148.1,110.7 150.7,110.5M114.4,67.2Q114.6,66.2 114.4,65.2M170.3,72.6Q170.0,74.1 169.5,75.6M145.3,106.2Q146.8,106.6 148.2,107.3M148.5,106.5Q150.4,106.9 152.2,107.2M159.9,87.8Q156.7,88.4 153.8,89.9M139.2,89.6Q138.3,90.4 137.2,91.0M210.9,63.5Q210.7,62.4 210.6,61.3M247.2,100.1Q244.5,98.5 242.1,96.5M122.7,186.4Q120.2,183.7 117.0,181.9M248.4,132.2Q249.0,135.6 248.5,139.0M95.3,55.2Q96.6,55.2 97.8,55.5M120.3,95.3Q119.2,95.6 118.2,96.1M215.6,110.8Q210.9,108.8 206.1,107.3M115.6,127.0Q114.0,131.3 111.7,135.3M216.4,208.9Q212.2,213.2 207.9,217.4M101.0,61.9Q103.9,60.9 106.9,60.5M270.8,82.1Q269.8,79.6 268.2,77.4M151.5,87.2Q149.0,87.4 146.6,88.2M220.4,96.4Q212.8,97.5 205.5,99.6M118.1,56.6Q115.9,56.9 113.8,56.7M98.3,101.6Q99.8,100.8 101.5,100.4M159.1,140.2Q154.2,145.8 148.2,150.0M99.6,16.8Q98.4,16.1 97.1,15.7M117.9,64.8Q116.0,65.8 114.4,67.2M112.3,149.3Q116.8,145.7 122.0,143.2M83.2,84.1Q81.3,81.0 79.9,77.6M132.7,117.6Q132.8,119.3 133.3,120.9M220.4,96.4Q219.6,91.4 219.5,86.2M114.8,105.4Q116.5,105.6 118.1,105.9M76.3,25.5Q72.2,34.1 65.2,40.5M144.7,105.8Q142.9,104.1 141.7,102.0M91.4,82.7Q90.8,83.6 90.2,84.4M89.2,64.5Q88.8,66.3 87.8,68.0M106.3,80.3Q105.3,80.5 104.3,80.8M286.1,133.4Q284.5,133.4 283.0,133.9M143.4,51.3Q140.6,51.2 137.8,51.3M18.4,59.0Q15.6,56.1 13.7,52.6M126.8,51.7Q126.0,52.1 125.2,52.5M250.5,131.6Q250.2,135.5 248.5,139.0M104.2,57.9Q102.5,58.7 100.6,59.1M128.4,84.7Q128.5,84.8 128.6,85.0M188.1,105.9Q186.1,106.5 184.1,106.4M103.7,183.4Q102.2,190.7 103.4,198.2M141.1,96.3Q141.4,97.3 142.0,98.2M121.2,93.4Q121.3,94.1 121.6,94.6M100.9,44.7Q103.5,47.0 105.9,49.5M127.9,102.3Q127.2,102.1 126.6,101.9M111.7,135.3Q112.3,137.0 112.6,138.7M203.3,44.6Q207.1,44.1 210.8,44.7M142.4,86.5Q142.4,86.1 142.4,85.6M124.9,118.6Q121.6,121.0 119.2,124.3M141.4,87.6Q142.9,88.9 144.6,89.9M124.3,143.4Q128.0,141.1 131.3,138.3M159.4,65.4Q157.9,65.5 156.4,65.6M148.2,150.0Q150.2,143.3 152.0,136.6M99.2,105.7Q100.1,106.5 101.1,107.2M118.1,56.6Q117.5,55.0 117.5,53.3M41.3,14.0Q43.3,10.1 46.1,6.8M111.3,39.2Q113.9,34.7 117.5,30.9M31.1,59.9Q24.8,59.5 18.4,59.0M123.2,112.3Q123.6,112.2 124.0,112.3M216.5,75.5Q215.1,77.1 213.6,78.6M131.5,86.9Q131.2,87.0 130.9,87.1M148.5,78.3Q149.1,75.6 149.8,73.0M105.8,152.2Q108.4,152.8 110.8,153.9M262.8,109.5Q270.0,109.7 276.8,107.7M135.1,62.7Q135.4,60.7 135.3,58.6M187.2,107.9Q189.6,107.3 191.9,106.1M117.6,20.9Q118.8,21.4 120.0,21.5M71.5,74.1Q72.2,73.3 73.2,72.7M128.6,94.5Q127.0,93.9 125.7,92.8M136.5,88.2Q136.3,89.2 136.2,90.2M96.5,143.4Q93.0,140.4 89.2,137.9M138.1,126.2Q138.3,123.2 139.4,120.4M164.7,102.0Q163.8,103.5 163.2,105.2M175.6,210.9Q175.8,214.6 176.0,218.2M144.9,53.5Q144.8,53.1 144.7,52.6M111.0,66.5Q112.7,67.0 114.4,67.2M106.9,87.8Q108.5,87.8 109.9,88.4M81.1,49.8Q81.9,50.8 82.5,52.1M124.5,85.4Q124.4,85.3 124.3,85.3M108.8,118.0Q109.9,116.4 111.3,115.0M216.2,44.3Q217.3,39.9 219.3,35.9M152.9,98.9Q156.1,99.1 159.2,100.1M120.1,68.2Q120.9,68.1 121.8,68.3M136.3,82.9Q136.5,82.4 136.5,81.8" stroke="#9fb0ff" stroke-width="0.75" opacity="0.9"/><path d="M136.1,80.3Q135.2,77.9 135.1,75.4M112.3,79.6Q112.0,79.6 111.7,79.6M114.5,76.2Q112.2,76.1 110.1,75.2M169.5,115.9Q174.5,119.6 180.4,121.3M96.7,71.7Q98.2,70.5 99.6,69.0M237.8,43.6Q234.9,42.8 232.0,41.9M69.2,83.3Q68.3,85.8 67.5,88.4M53.2,111.5Q55.0,114.0 55.9,116.9M148.5,78.3Q151.2,76.6 154.0,75.2M142.9,91.5Q142.4,91.4 141.8,91.4M138.1,78.1Q138.1,77.1 137.8,76.2M138.9,88.7Q139.5,88.0 140.2,87.4M137.8,76.2Q136.5,75.7 135.1,75.4M89.2,89.8Q88.3,90.1 87.6,90.6M118.7,82.5Q120.7,82.5 122.7,82.4M102.1,93.6Q101.7,96.0 100.8,98.3M112.5,120.6Q112.0,119.9 111.4,119.2M125.6,84.5Q125.9,85.2 126.0,86.1M215.9,79.7Q215.9,77.5 216.5,75.5M101.7,102.1Q102.0,101.3 102.1,100.5M123.5,77.4Q122.8,76.8 122.1,76.1M132.2,85.8Q133.4,86.6 134.6,87.6M207.5,178.7Q203.3,181.6 198.8,184.0M104.2,57.9Q106.4,58.0 108.5,58.6M127.6,107.2Q128.7,105.3 130.1,103.6M136.1,80.3Q137.0,80.4 137.9,80.7M105.8,152.2Q101.0,153.1 96.1,152.2M124.2,108.3Q122.3,107.1 120.1,106.5M112.1,80.9Q114.3,80.8 116.4,81.2M189.7,61.1Q185.9,62.3 182.0,63.3M147.5,57.4Q146.5,58.4 145.9,59.7M224.4,47.5Q227.5,45.7 230.9,45.1M105.6,71.2Q107.3,70.0 108.5,68.3M211.7,133.7Q217.1,132.0 221.5,128.5M57.6,28.7Q53.4,22.7 50.6,16.0M134.1,93.2Q133.5,93.7 133.0,94.2M216.2,162.0Q215.9,163.7 215.1,165.2M124.1,82.3Q124.4,82.7 124.8,83.1M179.5,176.9Q182.5,177.0 185.3,178.2M138.8,86.5Q138.8,86.7 138.9,87.0M102.0,105.8Q100.6,105.7 99.2,105.7M123.5,103.4Q121.6,103.9 120.2,105.1M155.3,33.0Q151.7,31.9 148.0,31.7M91.4,106.8Q89.9,103.3 88.9,99.6M105.4,50.3Q106.3,52.1 107.9,53.5M165.9,147.7Q161.3,149.8 156.7,151.8M215.6,110.8Q219.7,118.1 223.2,125.7M160.9,92.9Q162.3,91.1 163.0,89.0M121.2,93.4Q120.9,94.4 120.3,95.3M63.4,41.9Q60.0,42.8 57.2,44.8M122.6,72.8Q122.4,73.6 122.0,74.3M246.8,186.4Q247.4,185.9 248.0,185.4M171.4,43.8Q167.5,42.5 163.5,42.2M165.8,119.7Q164.7,118.1 163.8,116.4M84.0,125.8Q82.3,122.6 80.3,119.6M55.2,151.8Q54.9,149.5 54.4,147.2M95.5,94.2Q97.1,93.6 98.9,93.6M97.3,80.5Q96.5,80.0 95.6,79.5M123.7,96.3Q121.5,97.3 119.2,98.1M118.7,82.5Q117.7,83.0 116.7,83.4M108.2,102.2Q108.5,103.4 108.5,104.6M175.1,99.7Q175.6,95.5 176.7,91.3M233.4,146.3Q237.0,146.5 240.5,146.1M107.8,112.7Q106.2,115.3 104.8,118.1M117.2,138.8Q119.8,140.8 122.0,143.2M138.1,126.2Q140.4,127.7 143.1,128.2M128.0,68.3Q128.5,69.4 128.5,70.6M145.4,62.6Q145.4,61.1 145.9,59.7M180.9,93.9Q178.4,91.4 176.0,88.8M91.2,108.2Q92.9,110.0 94.1,112.2M154.2,86.6Q155.9,86.1 157.3,85.2M125.6,87.9Q125.8,88.6 126.1,89.4M130.0,89.4Q130.2,90.5 130.7,91.7M188.0,49.3Q182.0,47.8 176.2,46.0M134.7,87.8Q135.6,88.1 136.5,88.2M274.4,155.9Q274.8,156.6 275.3,157.2M168.9,193.2Q164.7,194.8 160.2,195.5M89.7,79.6Q87.8,79.7 85.9,79.6M157.4,80.0Q157.0,80.2 156.6,80.5M105.7,110.9Q104.5,110.9 103.3,111.0M144.6,76.4Q147.3,74.9 149.8,73.0M149.4,83.0Q151.0,85.4 153.1,87.1M169.5,75.6Q168.5,74.9 167.7,74.0M204.7,132.7Q208.0,138.0 212.9,142.1M118.1,56.6Q116.9,58.9 115.0,60.7M264.6,74.6Q265.4,75.3 266.3,75.8M59.3,57.8Q55.5,58.9 51.6,59.1M145.7,66.5Q145.9,66.7 146.0,67.0M154.1,116.6Q151.9,115.0 149.3,114.2M114.8,49.2Q116.0,51.4 117.5,53.3M199.1,201.2Q195.8,199.2 192.6,196.9M233.4,146.3Q229.2,157.2 228.0,168.7M187.1,161.0Q186.4,153.1 188.1,145.4M57.6,28.7Q58.3,31.1 59.2,33.4M68.6,154.8Q69.3,157.8 69.5,160.9M168.7,64.4Q171.9,60.6 173.5,56.0M245.9,178.8Q241.2,182.8 235.6,185.1M156.6,80.5Q157.6,82.1 158.5,83.7M157.6,69.9Q157.7,70.1 157.8,70.3M89.7,198.5Q86.7,198.2 83.7,197.8M207.5,178.7Q208.5,178.1 209.4,177.4M99.9,63.3Q99.2,64.8 98.6,66.4M233.4,146.3Q237.7,142.9 242.9,141.0M227.8,96.5Q232.3,94.8 236.9,93.5M153.3,57.2Q154.1,58.4 155.2,59.3M82.7,156.1Q84.3,157.2 86.0,158.2M85.8,55.8Q90.6,56.0 95.3,55.2M224.4,47.5Q226.2,50.5 228.9,52.8M92.0,64.0Q92.8,64.1 93.7,64.1M161.6,57.9Q160.9,57.9 160.2,57.7M171.2,37.6Q172.5,39.0 173.8,40.2M109.6,145.2Q108.6,146.7 107.8,148.2M132.2,63.3Q131.1,65.5 130.5,67.8M94.1,119.6Q89.3,117.8 84.4,116.1M235.5,58.4Q240.0,56.0 244.8,54.4M98.2,62.1Q99.5,60.6 100.6,59.1M120.0,47.0Q121.0,48.0 122.2,48.9M112.6,86.9Q112.4,85.2 112.3,83.5M112.7,103.2Q111.5,103.0 110.3,103.3M216.2,44.3Q213.5,44.6 210.8,44.7M87.8,150.6Q92.3,147.2 96.5,143.4M14.8,42.7Q12.8,43.3 10.7,43.2M127.1,50.6Q127.7,50.7 128.3,50.7M140.7,76.9Q139.2,76.6 137.8,76.2M89.4,67.4Q92.3,66.2 95.3,65.5M137.1,121.0Q137.0,118.3 137.7,115.7M88.0,166.3Q89.6,164.1 91.6,162.2M37.6,93.9Q37.6,92.0 37.8,90.1M104.7,87.4Q105.1,86.6 105.2,85.8M125.2,52.5Q122.3,52.4 119.3,52.6M123.5,103.4Q124.2,105.8 124.2,108.3M137.7,115.7Q136.7,115.2 135.6,114.9M97.0,128.9Q96.2,126.3 95.7,123.7M148.0,93.8Q148.6,94.4 149.0,95.1M112.3,149.3Q110.0,148.8 107.8,148.2M138.1,78.1Q139.3,79.1 140.4,80.3M148.5,78.3Q147.1,79.4 146.0,80.8M257.9,121.6Q263.2,124.7 267.6,128.9M171.4,43.8Q173.8,44.8 176.2,46.0M131.5,124.6Q131.3,131.5 131.3,138.3M155.7,102.1Q157.8,103.2 159.5,105.0M216.5,75.5Q215.8,70.2 213.4,65.4M69.5,160.9Q75.9,158.0 82.7,156.1M78.7,86.5Q79.5,82.1 79.9,77.6M205.3,77.5Q205.9,76.6 206.5,75.7M188.1,105.9Q189.6,101.7 189.9,97.3M127.2,87.3Q127.1,86.9 127.1,86.4M116.8,118.0Q117.2,117.6 117.6,117.2M253.8,179.5Q257.7,175.1 260.0,169.7M115.7,83.8Q114.4,83.4 113.2,83.1M126.2,70.9Q124.8,71.5 123.3,72.0M99.0,81.7Q98.9,81.3 98.9,80.9M210.9,63.5Q208.4,65.7 205.7,67.6M157.5,36.2Q157.7,34.7 157.9,33.1M37.6,36.8Q37.6,31.9 36.2,27.2M31.1,59.9Q39.6,59.5 48.0,58.2M97.2,100.7Q97.5,100.8 97.9,101.0M43.2,90.0Q44.8,88.3 45.9,86.3M59.0,95.7Q56.7,94.8 54.1,94.7M199.9,122.9Q202.7,116.1 203.9,108.9M132.7,117.6Q134.2,116.3 135.6,114.9M135.0,193.8Q138.2,193.3 141.3,194.1M127.1,86.4Q128.2,86.6 129.3,86.9M225.8,175.1Q229.5,180.0 234.0,184.1M121.7,76.3Q121.3,76.3 120.9,76.3M146.9,93.5Q148.1,94.1 149.0,95.1M63.3,132.4Q62.0,130.5 60.1,129.2M140.9,100.9Q141.3,99.5 142.0,98.2M103.0,106.5Q103.4,106.5 103.7,106.6M111.7,135.3Q109.7,129.7 107.1,124.4M122.3,112.2Q120.6,111.5 119.2,110.2M186.3,123.7Q187.5,118.8 187.9,113.7M88.4,108.8Q89.8,108.3 91.2,108.2M120.5,195.9Q123.2,195.1 125.8,193.9M142.2,66.4Q143.3,68.8 143.4,71.5M85.3,64.1Q87.2,63.0 89.3,62.1M144.7,105.8Q145.0,106.0 145.3,106.2M142.9,76.7Q143.4,77.0 144.0,77.3M59.4,107.5Q63.3,104.7 66.1,100.9M118.4,74.5Q116.9,74.0 115.3,73.9M115.6,127.0Q113.6,124.0 112.5,120.6M33.1,55.8Q36.8,50.5 41.0,45.6M120.1,68.2Q118.5,68.6 117.1,69.4M129.9,85.9Q129.9,85.8 130.0,85.7M43.0,133.4Q41.1,132.2 39.3,130.9M156.1,168.7Q155.2,173.0 153.0,176.6M168.7,64.4Q167.1,64.1 165.5,63.5M105.1,76.0Q104.8,73.6 105.0,71.3M286.1,133.4Q281.3,145.6 275.3,157.2M171.0,65.2Q170.3,68.2 169.1,71.1M126.8,96.0Q126.1,94.4 125.7,92.8M130.5,93.5Q129.5,93.9 128.6,94.5M199.9,122.9Q196.4,117.0 194.8,110.3M112.8,59.8Q112.4,58.6 112.0,57.3M126.9,100.9Q124.8,100.4 122.6,100.6M143.4,43.4Q143.3,46.8 143.5,50.2M137.9,80.7Q137.1,81.2 136.5,81.8M218.9,58.5Q220.1,55.5 221.0,52.4M238.3,91.8Q238.9,93.2 239.9,94.3M200.2,56.8Q198.8,51.3 199.3,45.6M150.1,63.8Q152.3,65.2 154.4,66.8M59.4,107.5Q61.7,109.6 64.7,110.7M228.0,168.7Q223.4,167.6 219.0,166.3M89.3,62.1Q89.9,62.7 90.3,63.5M134.4,152.5Q132.9,145.4 131.3,138.3M139.9,58.5Q140.3,61.3 139.8,64.1M141.4,87.6Q141.7,87.0 142.1,86.5M137.5,106.4Q137.5,108.4 136.8,110.3M33.3,37.0Q34.1,31.9 36.2,27.2M126.8,96.0Q125.2,95.9 123.7,96.3M102.2,83.9Q100.8,84.0 99.6,84.5M260.9,91.1Q268.8,90.3 276.4,92.4M110.1,75.2Q110.0,74.4 109.6,73.8M159.9,87.8Q161.4,88.6 163.0,89.0M103.0,106.5Q102.0,106.7 101.1,107.2M204.8,72.3Q205.6,74.0 206.5,75.7M210.9,63.5Q207.4,63.7 203.8,63.2M274.4,155.9Q275.6,152.7 277.0,149.5M43.7,102.9Q48.5,98.3 54.1,94.7M134.9,156.1Q134.8,154.3 134.4,152.5M154.5,91.1Q153.7,91.6 152.9,92.1M126.9,100.9Q127.4,100.7 127.9,100.4M233.0,121.8Q235.1,121.3 237.2,120.6M128.7,187.3Q131.9,184.0 134.2,180.0M114.3,185.4Q114.7,189.9 114.5,194.5M83.5,138.1Q85.4,137.8 87.2,136.9M223.2,125.7Q215.2,126.8 207.3,128.4M267.6,128.9Q273.8,129.3 280.0,128.1M94.6,87.3Q91.9,87.5 89.4,88.7M128.4,82.0Q129.1,81.1 129.6,80.0M73.4,61.9Q74.4,61.3 75.5,61.0M169.5,115.9Q166.4,115.5 163.6,114.1M117.5,98.4Q118.0,97.3 118.2,96.1M97.2,113.2Q97.6,113.6 98.0,114.1M138.8,86.5Q138.2,85.4 137.5,84.3M228.0,168.7Q221.3,163.0 216.4,155.7M149.7,67.9Q149.6,70.4 149.9,72.8M117.2,99.4Q117.4,98.9 117.5,98.4M228.9,52.8Q229.9,56.7 231.4,60.4M149.5,126.4Q152.2,126.9 154.9,127.4M152.3,105.4Q152.4,106.3 152.2,107.2M121.0,77.4Q121.3,77.5 121.7,77.5M117.1,81.6Q116.7,81.5 116.4,81.2M149.8,73.0Q152.0,73.8 154.0,75.2M126.1,58.5Q124.5,58.9 122.9,58.9M146.1,69.8Q144.9,70.9 143.4,71.5M168.7,64.4Q166.0,66.2 163.1,67.6M90.8,169.9Q94.0,168.2 97.5,167.0M29.7,45.8Q27.2,42.4 24.2,39.4M108.9,49.8Q108.7,51.8 107.9,53.5M133.3,88.9Q134.8,89.4 136.2,90.2M159.6,96.8Q159.2,98.4 159.2,100.1M130.5,88.2Q130.5,88.3 130.5,88.3M111.3,39.2Q105.8,41.6 100.9,44.7M130.5,88.3Q130.3,88.9 130.0,89.4M92.3,70.8Q94.5,71.4 96.7,71.7M30.7,73.4Q33.1,76.6 34.3,80.4M113.0,99.7Q113.5,101.3 113.8,102.9M177.5,128.4Q180.0,128.1 182.4,128.2M88.7,36.8Q94.0,32.8 98.2,27.6M95.4,52.4Q98.1,52.3 100.8,52.8M190.2,90.3Q190.5,84.7 190.1,79.1M86.0,158.2Q88.7,160.3 91.6,162.2M138.6,93.9Q139.7,94.8 141.0,95.2M126.9,100.9Q127.6,100.8 128.3,100.8M144.6,76.4Q143.3,74.7 141.6,73.2M155.7,102.1Q154.1,100.6 152.9,98.9M84.8,111.9Q84.5,114.0 84.4,116.1M121.7,102.8Q120.7,103.8 120.2,105.1M47.7,25.8Q52.9,26.6 57.6,28.7M183.3,100.3Q186.5,98.5 189.9,97.3M105.2,89.2Q106.0,88.4 106.9,87.8M177.8,148.2Q183.2,147.6 188.1,145.4M84.8,68.7Q84.7,69.6 84.4,70.5M110.3,169.3Q110.5,172.4 110.6,175.6M129.2,59.4Q128.1,58.4 127.2,57.2M119.1,109.1Q119.2,109.6 119.2,110.2M211.7,133.7Q215.6,136.3 218.3,140.1M154.9,71.1Q156.2,70.4 157.6,69.9M95.3,55.2Q95.3,53.8 95.4,52.4M128.0,68.3Q126.9,68.9 125.6,69.0M212.9,142.1Q206.7,142.0 200.6,141.9M123.7,96.3Q122.9,98.4 122.6,100.6M96.6,97.1Q96.6,96.4 96.8,95.8M106.8,83.8Q105.0,83.7 103.2,84.1M62.3,144.7Q56.4,140.9 50.6,136.7M146.0,80.8Q143.2,80.7 140.4,80.3M99.9,70.5Q102.5,71.1 105.0,71.3M210.6,61.3Q207.1,62.0 203.8,63.2M131.5,71.0Q130.7,70.5 129.9,70.1M140.0,111.7Q141.8,109.8 142.7,107.4M48.3,94.0Q51.2,94.8 54.1,94.7M115.5,98.3Q114.3,97.8 113.2,97.3M137.1,121.0Q138.2,120.7 139.4,120.4M132.0,36.6Q131.5,38.5 130.7,40.3M97.0,91.0Q96.0,92.5 95.5,94.2M130.9,87.1Q131.2,86.9 131.5,86.7M165.9,147.7Q166.8,149.3 167.5,150.9M158.1,137.0Q155.1,136.7 152.0,136.6M128.3,100.8Q130.4,100.7 132.4,100.2M97.2,100.7Q95.2,99.3 93.7,97.4M155.7,102.1Q157.6,101.3 159.2,100.1M216.5,75.5Q218.2,75.5 220.0,75.5M179.5,176.9Q175.0,182.5 170.4,188.1M144.6,76.4Q145.3,77.3 146.2,78.1M114.0,73.9Q113.4,72.1 112.9,70.3M78.7,87.7Q80.0,89.3 81.0,91.1M75.2,115.5Q74.0,114.7 72.7,113.9M97.2,113.2Q97.1,112.6 97.1,112.1M150.1,63.8Q152.3,61.1 155.2,59.3M77.5,72.3Q75.6,72.7 73.7,73.1M132.6,81.1Q131.3,81.2 130.0,81.7M119.7,90.8Q118.7,91.8 117.9,93.0M128.6,85.0Q129.3,85.4 129.9,85.9M118.6,88.1Q118.0,87.4 117.3,86.9M246.8,183.1Q250.4,181.5 253.8,179.5M145.9,112.8Q145.8,112.0 145.7,111.2M167.7,74.0Q168.2,72.4 169.1,71.1M128.6,85.0Q129.0,85.9 129.3,86.9M135.9,94.3Q135.1,93.7 134.1,93.2M76.6,134.7Q74.3,129.9 72.9,124.8M78.7,87.7Q79.6,89.7 80.9,91.4M188.0,49.3Q184.5,53.1 182.5,57.8M157.8,70.3Q157.0,72.8 157.2,75.5M107.1,124.4Q107.3,122.8 107.8,121.2M141.1,96.3Q141.0,95.7 141.0,95.2M222.3,213.6Q220.4,214.5 218.6,215.8M111.3,109.6Q109.4,110.9 107.8,112.7M274.3,176.7Q270.7,179.2 266.7,181.0M115.5,114.3Q114.4,115.1 113.6,116.2M168.7,87.1Q168.6,90.0 168.6,92.9M113.6,116.2Q115.4,116.8 116.8,118.0M134.1,93.2Q134.9,92.6 135.8,92.1M139.9,58.5Q141.5,58.4 143.0,58.2M142.1,86.5Q142.2,86.0 142.4,85.6M84.8,111.9Q80.3,114.6 75.2,115.5M125.4,77.4Q127.1,78.1 128.6,79.0M131.5,86.9Q133.0,87.5 134.6,87.6M127.3,80.4Q127.6,80.3 127.9,80.2M141.1,96.3Q142.0,96.1 143.0,96.2M246.8,183.1Q247.5,184.2 248.0,185.4M34.3,80.4Q32.8,83.5 32.6,87.0M149.8,73.0Q149.9,72.9 149.9,72.8M127.0,72.9Q129.1,73.8 131.3,74.1M92.8,72.0Q94.8,72.6 96.8,73.3M115.7,83.8Q115.8,84.9 115.5,85.9M88.4,97.3Q88.9,98.4 88.9,99.6M159.8,40.6Q155.2,42.3 151.3,45.2M188.1,145.4Q189.1,138.3 192.5,131.9M105.2,89.2Q105.0,88.3 104.7,87.4M180.4,134.5Q179.7,137.1 178.3,139.4M199.1,99.6Q198.3,95.0 196.4,90.8M124.8,59.7Q123.5,60.8 122.2,61.8M127.1,50.6Q126.9,51.2 126.8,51.7M126.8,88.4Q127.0,88.1 127.2,87.9M130.6,87.2Q130.2,87.2 129.9,87.2M160.1,103.6Q157.9,102.8 155.7,102.1M43.0,105.9Q41.2,106.2 39.6,107.0M224.4,47.5Q220.3,46.0 216.2,44.3M120.1,106.5Q119.1,106.2 118.3,105.6M115.4,42.4Q117.7,44.7 120.0,47.0M89.7,79.6Q90.4,79.9 91.2,79.9M118.1,56.6Q116.3,55.7 114.3,55.3M109.2,70.6Q107.4,70.8 105.6,71.2M43.0,133.4Q40.2,133.1 37.6,131.8M248.5,139.0Q245.8,140.2 242.9,141.0M97.8,55.5Q99.1,53.9 100.8,52.8M100.4,91.4Q100.9,92.5 101.7,93.5M192.8,52.6Q195.5,48.5 199.3,45.6M130.5,88.2Q130.1,87.8 129.9,87.2M47.6,38.1Q42.7,36.8 37.6,36.8M42.8,126.5Q41.2,128.8 39.3,130.9M101.7,93.5Q100.3,93.5 98.9,93.6M97.8,55.5Q99.5,57.1 100.6,59.1M257.9,121.6Q260.4,115.5 262.8,109.5M114.0,73.9Q111.8,74.1 109.6,73.8M63.3,132.4Q66.9,134.7 70.9,136.1M123.8,68.2Q123.8,70.1 123.3,72.0M168.4,108.0Q165.9,106.4 163.2,105.2M81.1,95.6Q76.1,96.5 71.0,97.6M171.0,79.8Q168.7,79.9 166.4,80.1M213.4,65.4Q215.7,71.1 220.0,75.5M112.6,63.3Q113.4,64.4 114.4,65.2M87.6,128.9Q84.2,128.1 80.7,127.4M196.1,131.7Q200.4,132.4 204.7,132.7M129.5,63.0Q130.8,63.4 132.2,63.3M114.5,76.2Q114.8,75.7 115.0,75.1M123.5,103.4Q121.7,104.9 120.1,106.5M281.6,85.9Q278.2,89.8 276.2,94.6M63.9,156.2Q63.5,161.0 61.5,165.3M60.5,68.2Q56.9,68.8 53.7,70.3M97.8,102.3Q98.3,104.1 99.2,105.7M137.1,24.3Q142.5,26.2 146.8,30.1M142.9,91.5Q142.9,91.4 142.9,91.3M141.5,120.3Q140.5,117.4 140.7,114.2M81.0,91.1Q83.1,92.0 85.3,92.1M165.5,63.5Q163.3,64.3 161.6,65.9M270.8,82.1Q274.4,83.5 277.3,86.1M104.7,81.8Q105.6,81.1 106.3,80.3M122.1,76.1Q121.9,76.3 121.7,76.3M115.5,85.9Q113.9,84.8 112.3,83.5M149.5,126.4Q146.3,127.3 143.1,128.2M124.3,143.4Q129.6,147.7 134.4,152.5M207.9,217.4Q203.9,215.8 200.5,213.2M142.4,85.6Q144.6,84.9 146.8,84.2M182.4,128.2Q182.1,130.2 182.1,132.2M90.8,169.9Q90.2,170.3 89.6,170.5M63.4,41.9Q64.2,41.1 65.2,40.5M152.1,94.5Q150.6,95.0 149.0,95.1M141.5,120.3Q140.4,120.2 139.4,120.4M122.3,112.2Q121.8,113.3 121.5,114.4M142.7,97.8Q142.4,98.1 142.0,98.2M124.1,82.3Q123.4,81.7 122.7,81.1M87.8,40.4Q82.9,32.3 76.3,25.5M89.6,22.2Q86.4,23.8 83.5,25.9M96.5,121.2Q96.1,122.4 95.7,123.7M148.8,57.5Q149.3,57.4 149.8,57.0M136.8,85.1Q136.1,85.7 135.3,86.1M120.2,155.8Q117.6,156.0 114.9,155.6M79.5,186.8Q81.1,186.0 83.0,185.8M96.5,143.4Q96.7,147.8 96.1,152.2M37.8,90.1Q35.3,88.4 32.6,87.0M277.3,86.1Q277.3,89.3 276.4,92.4M109.2,70.6Q108.8,69.5 108.5,68.3M235.7,171.4Q240.5,175.5 245.9,178.8M124.5,20.9Q123.8,27.8 125.8,34.4M89.2,137.9Q85.8,141.2 82.3,144.4M116.8,118.0Q114.8,119.5 112.5,120.6M115.5,114.3Q116.3,116.1 116.8,118.0M140.0,40.7Q138.3,43.9 136.3,46.9M126.4,115.8Q126.1,116.7 125.6,117.6M49.3,75.0Q51.7,72.8 53.7,70.3M152.1,160.1Q143.8,159.6 136.0,156.6M161.8,81.3Q160.5,81.3 159.3,80.7M125.1,102.9Q125.0,103.4 125.0,103.8M83.0,185.8Q81.5,187.2 80.2,188.7M143.4,43.4Q140.9,45.8 139.1,48.7M119.7,90.8Q120.0,90.8 120.3,90.7M117.9,64.8Q116.2,65.3 114.4,65.2M109.7,76.5Q108.0,77.4 106.7,78.8M100.9,44.7Q103.2,47.4 105.4,50.3M78.7,86.5Q74.4,83.4 71.4,79.0M125.8,34.4Q129.1,34.9 132.0,36.6M160.1,103.6Q159.8,104.3 159.5,105.0M156.6,76.2Q156.6,78.1 157.4,80.0M101.0,129.0Q106.5,131.9 111.7,135.3M89.7,79.6Q88.2,80.5 87.2,82.0M18.8,63.7Q15.9,58.3 13.7,52.6M117.9,64.8Q119.0,66.5 120.1,68.2M98.8,79.2Q98.7,77.4 98.6,75.5M200.2,56.8Q200.5,58.4 201.0,59.9M115.6,127.0Q117.3,125.5 119.2,124.3M56.6,62.2Q53.2,62.3 49.9,62.3M154.4,66.8Q152.8,66.9 151.3,67.6M60.5,68.2Q66.1,70.9 71.5,74.1M173.8,40.2Q175.1,39.8 176.3,39.5M134.4,72.3Q133.0,71.6 131.5,71.0M178.7,55.2Q176.8,50.8 176.2,46.0M71.0,124.0Q72.8,119.6 75.2,115.5M52.3,125.0Q52.9,124.2 53.3,123.2M220.8,188.5Q224.1,188.0 227.5,187.3M154.1,116.6Q155.1,113.0 155.5,109.3M104.7,64.2Q106.3,66.5 108.5,68.3M184.8,70.3Q186.3,68.5 187.5,66.6M200.7,172.0Q193.9,173.8 186.8,172.9M101.5,64.7Q100.0,65.4 98.6,66.4M108.5,58.6Q108.6,57.9 108.8,57.3M134.0,91.7Q134.9,91.9 135.8,92.1M198.8,184.0Q192.4,180.3 185.3,178.2M91.4,82.7Q93.1,84.9 94.6,87.3M222.3,213.6Q222.9,210.3 224.4,207.3M100.8,108.9Q102.1,109.8 103.3,111.0M91.2,79.9Q93.3,79.4 95.5,79.6M228.0,168.7Q232.0,169.5 235.7,171.4M128.4,37.6Q129.8,38.7 130.7,40.3M24.2,39.4Q28.9,38.7 33.3,37.0M240.7,88.2Q239.8,90.2 238.3,91.8M131.3,138.3Q136.4,141.9 140.4,146.6M168.7,87.1Q171.4,86.4 174.3,85.8M103.7,104.0Q102.7,104.8 102.0,105.8M122.3,186.8Q124.2,190.3 125.8,193.9M172.3,202.7Q167.2,202.5 162.0,202.8M144.1,58.2Q145.7,57.5 147.5,57.4M110.5,71.0Q112.3,72.4 114.0,73.9M137.5,106.4Q138.2,106.4 138.8,106.6M87.5,85.1Q88.1,86.2 88.7,87.2M135.0,193.8Q130.4,193.1 125.8,193.9M152.1,160.1Q154.7,156.1 156.7,151.8M170.8,99.9Q168.9,100.6 167.2,101.8M141.6,56.2Q142.3,57.2 143.0,58.2M142.4,76.9Q141.5,78.6 140.4,80.3M86.0,158.2Q87.4,154.5 87.8,150.6M158.9,58.7Q159.5,58.1 160.2,57.7M90.8,169.9Q95.7,172.1 99.7,175.7M153.3,51.6Q151.5,54.3 149.8,57.0M122.7,163.4Q118.1,160.2 114.9,155.6M87.2,74.4Q85.5,72.6 84.4,70.5M139.8,83.5Q140.4,84.0 141.1,84.4M122.7,163.4Q131.2,167.6 138.4,173.6M145.6,110.8Q145.4,108.5 145.3,106.2M100.8,18.6Q104.9,19.7 109.1,20.6M139.9,58.5Q138.1,58.7 136.4,58.3M162.3,93.9Q162.5,91.5 163.0,89.0M141.2,33.9Q136.7,35.7 132.0,36.6M113.8,102.9Q113.7,101.3 113.6,99.7M43.7,102.9Q42.1,105.3 39.6,107.0M182.1,132.2Q185.9,130.8 189.9,130.7M254.4,73.3Q256.1,71.3 257.8,69.2M21.7,48.8Q27.2,52.6 33.1,55.8M125.1,102.9Q125.9,102.5 126.6,101.9M122.4,133.8Q126.8,136.2 131.3,138.3M237.8,43.6Q238.2,47.5 237.7,51.3M202.6,165.3Q195.2,161.8 187.1,161.0M131.2,72.4Q131.3,71.6 131.5,71.0M71.0,124.0Q62.9,121.5 55.9,116.9M128.6,85.0Q129.3,85.4 130.0,85.7M212.1,49.0Q213.9,46.4 216.2,44.3M105.1,76.0Q107.4,75.1 109.6,73.8M117.9,93.0Q117.2,91.7 116.6,90.3M153.3,57.2Q151.8,57.9 150.4,58.9M164.8,183.4Q162.2,186.2 159.2,188.4M39.3,130.9Q38.5,130.2 37.5,129.6M168.7,87.1Q172.1,88.3 175.1,90.4M197.0,74.2Q195.3,70.3 193.0,66.6M90.2,84.4Q88.8,84.9 87.5,85.1M95.5,94.2Q94.3,93.4 93.4,92.2M140.0,111.7Q141.7,110.4 143.6,109.4M127.6,88.2Q127.9,88.5 128.0,88.8M103.3,111.0Q103.6,108.8 103.7,106.6M140.7,72.7Q141.1,73.0 141.6,73.2M30.9,65.7Q31.4,67.5 32.2,69.1M124.5,85.4Q124.4,86.4 124.4,87.4M253.8,179.5Q254.6,181.2 255.8,182.8M129.1,96.7Q129.0,97.7 129.0,98.8M119.4,98.9Q120.5,99.5 121.2,100.5M128.5,70.6Q129.2,70.4 129.9,70.1M213.6,61.6Q212.1,61.4 210.6,61.3M166.0,72.6Q167.6,72.0 169.1,71.1M118.0,62.9Q117.3,62.6 116.8,62.2M206.5,86.8Q201.2,88.2 196.4,90.8M112.8,59.8Q110.7,58.9 108.5,58.6M100.8,102.6Q100.9,103.3 100.8,103.9M111.3,109.6Q109.5,107.3 108.5,104.6M128.4,82.0Q129.3,81.9 130.0,81.7M127.9,80.2Q128.2,79.6 128.6,79.0M220.8,188.5Q219.6,184.5 217.9,180.7M99.9,63.3Q99.0,62.7 98.2,62.1M141.7,102.0Q144.0,103.2 146.2,104.6M78.0,65.7Q81.4,67.3 84.8,68.7M227.3,171.1Q223.4,168.2 219.0,166.3M218.1,79.2Q219.0,77.3 220.0,75.5M53.2,111.5Q50.0,115.7 46.3,119.6M103.7,86.1Q104.4,85.9 105.2,85.8M158.9,58.7Q157.0,58.9 155.2,59.3M83.2,84.1Q81.5,85.2 79.9,86.2M104.2,57.9Q106.5,57.6 108.8,57.3M195.7,229.1Q194.2,227.9 193.0,226.3M146.9,93.5Q147.4,93.7 148.0,93.8M136.1,80.3Q134.7,79.8 133.2,79.3M73.2,106.0Q77.0,107.6 81.1,107.9M258.1,166.0Q259.3,167.7 260.0,169.7M276.9,117.6Q279.3,122.6 280.0,128.1M62.7,87.3Q64.1,86.3 65.4,85.3M71.0,124.0Q65.5,126.6 60.1,129.2M101.0,129.0Q104.2,126.9 107.1,124.4M75.2,115.5Q78.4,111.9 81.1,107.9M135.6,114.9Q135.7,113.8 135.6,112.8M124.4,154.1Q127.0,155.1 129.7,155.1M175.1,99.7Q174.9,100.9 174.6,102.1M168.4,52.7Q162.3,52.7 156.4,54.1M107.4,149.2Q107.5,148.7 107.8,148.2M54.4,50.6Q55.6,47.7 57.2,44.8M101.9,115.5Q100.2,116.0 98.3,116.2M122.4,59.4Q122.7,59.2 122.9,58.9M149.9,57.3Q149.9,57.1 149.8,57.0M238.5,100.1Q236.7,99.4 234.8,99.1M95.9,117.6Q96.0,119.4 96.5,121.2M129.5,63.0Q128.3,62.0 127.0,61.1M162.3,93.9Q162.0,93.9 161.7,93.9M242.1,96.5Q240.2,98.2 238.5,100.1M84.8,111.9Q86.5,110.2 88.4,108.8M134.4,72.3Q134.8,73.8 135.1,75.4M64.7,110.7Q62.7,111.1 60.8,111.0M120.3,90.7Q120.4,89.6 120.9,88.6M104.5,101.6Q103.8,101.2 103.1,100.9M121.7,102.8Q122.6,103.1 123.5,103.4M126.0,86.1Q126.5,85.5 127.0,85.0M141.2,76.2Q142.1,76.3 142.9,76.7M134.6,120.3Q133.6,119.0 132.7,117.6M188.7,96.3Q189.2,96.9 189.9,97.3M173.4,162.7Q176.0,165.3 179.3,166.7M136.8,85.1Q137.7,86.0 138.8,86.5M166.4,80.1Q167.0,81.5 167.0,83.0M148.6,132.5Q145.7,130.6 143.1,128.2M150.4,58.9Q150.1,58.1 149.9,57.3M120.1,106.5Q119.1,106.1 118.1,105.9M125.6,84.5Q124.7,84.5 123.9,84.5M187.9,113.7Q185.7,110.2 184.1,106.4M112.8,31.0Q112.5,35.2 111.3,39.2M250.5,131.6Q254.9,127.2 257.9,121.6M68.6,154.8Q66.3,155.5 63.9,156.2M158.9,58.7Q158.9,59.7 158.8,60.8M138.6,68.4Q138.9,68.5 139.1,68.6M204.0,211.4Q202.3,212.4 200.5,213.2M129.3,53.8Q128.9,52.2 128.3,50.7M114.5,76.2Q113.1,77.7 112.3,79.6M166.2,121.3Q165.9,120.6 165.8,119.7M98.1,116.6Q98.2,116.4 98.3,116.2M95.2,111.0Q96.2,111.5 97.1,112.1M121.4,116.0Q123.7,116.4 125.6,117.6M156.4,54.1Q155.7,54.6 155.1,55.2M146.3,54.6Q145.5,56.6 144.1,58.2M124.8,59.7Q125.4,59.0 126.1,58.5M207.9,217.4Q203.7,219.6 199.4,221.4M134.7,87.8Q134.7,87.7 134.6,87.6M102.8,87.1Q103.3,86.6 103.7,86.1M187.5,66.6Q184.9,64.8 182.0,63.3M170.8,99.9Q172.8,100.9 174.6,102.1M37.6,93.9Q43.0,93.7 48.3,94.0M207.5,178.7Q204.8,174.7 200.7,172.0M52.5,40.0Q51.8,36.3 52.4,32.5M207.9,217.4Q204.6,221.2 201.4,225.0M112.8,31.0Q115.1,31.3 117.5,30.9M172.4,50.0Q171.5,47.0 171.4,43.8M163.9,131.8Q160.5,133.8 158.1,137.0M60.5,68.2Q66.5,64.1 73.4,61.9M163.8,123.8Q162.9,124.9 161.7,125.6M276.4,92.4Q276.1,93.5 276.2,94.6M153.3,57.2Q153.7,54.4 153.3,51.6M110.7,66.0Q108.5,63.5 106.9,60.5M188.0,49.3Q190.0,46.4 192.1,43.4M250.5,131.6Q245.6,122.9 242.8,113.3M117.1,81.6Q116.8,82.5 116.7,83.4M170.4,37.0Q170.3,36.6 170.4,36.3M190.2,90.3Q193.3,90.9 196.4,90.8M253.3,187.5Q254.7,185.2 255.8,182.8M137.9,80.7Q137.8,81.2 137.7,81.8M56.6,62.2Q58.2,62.9 59.6,64.0M173.6,70.0Q177.2,73.2 180.3,76.9M137.7,68.0Q135.9,70.0 134.4,72.3M62.3,144.7Q64.4,146.3 66.7,147.3M96.1,152.2Q98.7,149.7 100.5,146.6M42.8,126.5Q43.3,129.9 43.0,133.4M145.9,90.7Q147.6,90.8 149.4,90.5M270.8,82.1Q272.5,82.6 274.2,82.5M111.3,109.6Q108.8,109.9 106.5,111.0M249.5,151.9Q247.8,151.9 246.2,152.0M134.3,54.6Q135.4,53.0 136.8,51.4M238.3,91.8Q228.6,89.8 219.5,86.2M94.1,119.6Q94.9,121.7 95.7,123.7M123.3,160.0Q124.1,157.1 124.4,154.1M85.4,101.8Q88.7,104.0 91.4,106.8M118.0,62.9Q118.7,63.4 119.5,63.7M75.0,167.3Q73.7,168.9 72.0,169.9M187.2,107.9Q187.4,110.8 187.9,113.7M138.5,63.9Q139.2,63.9 139.8,64.1M135.0,193.8Q132.1,192.6 129.6,190.7M125.7,98.8Q124.3,99.9 122.6,100.6M170.4,188.1Q164.8,188.0 159.2,188.4M18.9,38.6Q17.2,41.1 14.8,42.7M257.9,121.6Q261.7,126.9 264.4,132.9M115.0,76.6Q115.6,77.0 116.2,77.3M89.2,89.8Q90.7,91.2 92.1,92.7M152.9,90.0Q152.7,88.6 153.1,87.1M146.6,88.2Q146.3,86.2 146.8,84.2M154.9,71.1Q154.6,69.0 154.4,66.8M145.7,111.2Q148.2,110.6 150.7,110.5M132.7,117.6Q131.9,119.6 132.0,121.8M165.2,146.2Q171.7,142.8 178.3,139.4M199.4,221.4Q196.6,224.4 193.0,226.3M119.0,103.1Q119.1,101.0 119.4,98.9M101.7,102.1Q103.1,102.0 104.5,101.6M215.1,165.2Q217.0,165.8 219.0,166.3M110.5,71.0Q110.2,72.4 109.6,73.8M152.9,90.0Q153.3,90.0 153.8,89.9M137.3,49.4Q136.8,48.1 136.3,46.9M80.3,119.6Q84.7,120.6 88.8,122.2M122.7,186.4Q122.5,186.6 122.3,186.8M222.0,194.9Q221.9,195.3 221.9,195.7M184.6,172.2Q182.1,169.3 179.3,166.7M261.2,68.3Q263.5,71.2 264.6,74.6M39.3,130.9Q38.5,131.4 37.6,131.8M131.9,89.1Q131.1,90.3 130.7,91.7M232.0,41.9Q225.5,39.2 219.3,35.9M69.5,160.9Q65.3,162.8 61.5,165.3M141.8,91.4Q142.3,91.2 142.9,91.3M115.7,83.8Q116.2,83.6 116.7,83.4M122.7,81.1Q124.4,80.8 126.1,80.2M252.7,143.3Q253.5,145.2 254.1,147.2M148.8,57.5Q148.2,57.4 147.5,57.4M138.9,88.7Q137.5,89.4 136.2,90.2M279.7,132.2Q273.6,130.8 267.6,128.9M80.9,75.5Q83.4,77.5 85.9,79.6M246.8,183.1Q241.2,184.2 235.6,185.1M169.8,108.4Q173.1,109.3 176.1,110.9M49.6,50.9Q50.7,53.0 52.1,54.9M18.9,38.6Q21.6,38.6 24.2,39.4M184.6,221.3Q184.8,215.2 185.1,209.2M142.3,84.0Q141.7,84.3 141.1,84.4M115.5,85.9Q116.5,86.2 117.3,86.9M130.6,87.2Q130.1,86.6 129.9,85.9M93.7,64.1Q94.5,64.8 95.3,65.5M114.7,110.1Q116.7,108.2 118.1,105.9M86.8,192.8Q85.2,195.3 83.7,197.8M173.6,70.0Q172.4,67.5 171.0,65.2M117.5,53.3Q118.4,53.0 119.3,52.6M132.7,117.6Q132.2,116.8 131.7,116.0M194.3,60.1Q195.6,59.8 196.6,59.1M55.2,155.5Q59.6,155.4 63.9,156.2M129.3,107.8Q129.3,105.6 130.1,103.6M240.7,88.2Q232.1,81.1 224.0,73.6M123.8,68.2Q122.0,65.9 119.9,63.9M212.1,49.0Q211.2,46.9 210.8,44.7M108.5,68.3Q106.6,69.6 105.0,71.3M195.7,229.1Q198.7,227.2 201.4,225.0M153.3,57.2Q154.2,56.2 155.1,55.2M144.1,92.4Q142.6,93.9 141.0,95.2M88.9,167.2Q88.5,166.7 88.0,166.3M94.7,96.6Q93.2,95.2 92.0,93.4M184.8,70.3Q182.5,69.5 180.1,69.0M112.2,53.5Q110.0,53.5 107.9,53.5M62.3,144.7Q66.5,140.3 70.9,136.1M96.8,73.3Q96.7,72.5 96.7,71.7M125.6,87.9Q125.0,87.7 124.4,87.4M59.0,38.8Q58.2,41.9 57.2,44.8M141.9,166.8Q139.7,161.2 136.0,156.6M204.0,211.4Q200.4,207.8 195.8,205.8M149.5,126.4Q151.5,121.3 154.1,116.6M128.4,37.6Q127.3,40.1 126.6,42.8M209.3,196.2Q203.3,191.8 196.6,188.6M110.9,160.5Q108.5,161.3 106.1,162.2M77.5,72.3Q78.9,73.6 80.4,74.8M218.3,140.1Q219.5,134.2 221.5,128.5M112.6,69.3Q113.4,68.2 114.4,67.2M93.7,97.4Q94.3,97.0 94.7,96.6M97.2,100.7Q96.8,98.9 96.6,97.1M81.1,95.6Q83.6,94.2 85.3,92.1M145.7,66.5Q146.9,66.0 148.1,65.6M134.1,124.4Q133.1,123.0 132.0,121.8M98.6,66.4Q96.9,66.0 95.3,65.5M105.9,49.5Q105.9,49.7 105.9,49.8M157.6,178.1Q155.4,179.5 152.9,180.1M47.2,84.6Q45.6,80.4 43.9,76.3M141.1,96.3Q139.8,97.3 138.6,98.4M144.7,105.8Q143.7,106.6 142.7,107.4M186.3,123.7Q184.7,126.3 182.4,128.2M74.9,136.0Q78.0,140.7 82.3,144.4M131.0,82.1Q130.8,82.6 130.4,83.1M97.5,167.0Q94.9,164.2 91.6,162.2M130.9,57.7Q133.0,58.6 135.3,58.6M47.7,25.8Q50.2,29.1 52.4,32.5M184.9,206.0Q190.3,205.5 195.8,205.8M205.3,77.5Q206.4,82.1 206.5,86.8M179.5,176.9Q179.9,171.8 179.3,166.7M245.5,51.7Q241.6,51.6 237.7,51.3M142.4,86.5Q143.6,88.2 144.6,89.9M117.2,138.8Q118.5,135.7 120.1,132.8M245.1,143.3Q244.2,142.0 242.9,141.0M189.8,67.6Q191.1,73.3 190.1,79.1M97.0,91.0Q95.7,89.2 94.6,87.3M122.5,85.6Q123.6,86.3 124.4,87.4M130.1,49.1Q133.6,49.8 136.8,51.4M136.1,103.3Q135.0,102.1 134.3,100.7M108.2,102.2Q109.1,102.5 110.0,103.0M47.6,38.1Q50.4,35.7 52.4,32.5M110.8,153.9Q109.3,151.4 107.4,149.2M120.2,155.8Q121.8,154.9 122.9,153.4M151.2,89.6Q151.8,91.0 152.9,92.1M111.0,66.5Q112.8,66.1 114.4,65.2M110.9,160.5Q111.1,157.2 110.8,153.9M112.4,54.0Q112.2,55.7 112.0,57.3M126.6,42.8Q124.0,41.3 121.5,39.8M145.6,110.8Q145.7,111.0 145.7,111.2M133.0,94.2Q131.6,93.1 130.7,91.7M115.5,85.9Q116.2,84.7 116.7,83.4M207.9,217.4Q208.9,220.0 209.7,222.6M152.3,105.4Q150.4,105.8 148.5,106.5M98.8,79.2Q97.2,78.8 95.9,77.9M151.5,87.2Q152.3,87.2 153.1,87.1M32.2,69.1Q38.3,72.4 43.9,76.3M101.7,102.1Q102.5,101.5 103.1,100.9M105.1,76.0Q105.2,76.7 105.2,77.5M98.7,106.7Q98.9,106.2 99.2,105.7M108.5,104.6Q109.4,103.9 110.0,103.0M116.6,62.8Q115.6,64.0 114.4,65.2M151.3,45.2Q149.6,38.5 148.0,31.7M98.2,62.1Q96.8,63.8 95.3,65.5M166.2,121.3Q166.9,124.0 168.3,126.4M157.0,64.3Q158.3,64.7 159.4,65.4M92.1,92.7Q92.1,93.1 92.0,93.4M84.0,125.8Q86.1,123.6 88.8,122.2M152.1,160.1Q155.6,162.4 158.2,165.7M92.8,72.0Q91.7,76.0 89.7,79.6M126.8,88.4Q126.7,87.6 126.6,86.9M50.6,16.0Q56.6,15.8 62.3,17.5M37.8,90.1Q40.5,90.2 43.2,90.0M145.9,112.8Q147.7,113.3 149.3,114.2M118.4,74.5Q120.2,74.3 122.0,74.3M85.4,101.8Q86.2,105.6 88.4,108.8M49.6,50.9Q45.0,48.6 41.0,45.6M153.0,176.6Q150.7,177.1 148.3,177.3M129.2,59.4Q128.6,57.9 128.5,56.3M98.2,62.1Q96.0,63.3 93.7,64.1M137.7,115.7Q135.9,117.9 134.6,120.3M66.7,147.3Q74.5,145.9 82.3,144.4M105.7,95.5Q104.8,96.5 103.6,97.2M107.8,121.2Q109.7,120.4 111.4,119.2M88.7,36.8Q85.4,31.7 83.5,25.9M110.7,95.1Q110.5,97.5 109.4,99.6M128.6,85.0Q127.8,85.1 127.0,85.0M207.5,178.7Q210.4,186.5 213.5,194.2M76.1,169.4Q75.5,168.4 75.0,167.3M186.3,123.7Q188.3,127.1 189.9,130.7M131.3,74.1Q130.9,75.8 130.1,77.3M37.6,93.9Q31.4,95.0 25.3,96.2M100.1,87.0Q99.9,85.7 99.6,84.5M96.7,71.7Q96.2,68.6 95.3,65.5M137.3,112.3Q136.5,112.7 135.6,112.8M72.9,88.9Q75.8,88.1 78.7,87.7M110.3,103.3Q110.1,103.1 110.0,103.0M158.9,58.7Q158.7,58.2 158.5,57.8M210.8,44.7Q209.5,41.5 207.9,38.5M211.9,58.3Q216.8,55.8 221.0,52.4M77.5,72.3Q78.0,69.1 78.0,65.7M143.4,43.4Q141.7,42.1 140.0,40.7M151.2,89.6Q150.4,90.2 149.4,90.5M204.7,132.7Q203.0,127.5 199.9,122.9M197.4,133.8Q198.4,138.1 200.6,141.9M176.2,46.0Q175.0,43.1 173.8,40.2M104.2,57.9Q106.0,55.7 107.9,53.5M216.5,75.5Q211.5,75.9 206.5,75.7M222.0,194.9Q224.9,191.2 227.5,187.3M59.0,95.7Q63.1,93.9 66.7,91.0M132.5,112.6Q132.4,109.5 132.2,106.4M122.3,186.8Q118.1,190.4 114.5,194.5M134.9,156.1Q135.4,156.4 136.0,156.6M41.7,80.9Q43.8,83.6 45.9,86.3M50.6,136.7Q51.7,130.9 52.3,125.0M216.2,44.3Q217.9,48.7 221.0,52.4M133.6,67.3Q135.6,67.8 137.7,68.0M170.3,72.6Q169.1,73.4 167.7,74.0M158.2,165.7Q162.1,157.8 167.5,150.9M128.8,87.8Q129.3,88.6 130.0,89.4M44.5,24.4Q47.5,20.1 50.6,16.0M81.0,91.1Q80.9,91.3 80.9,91.4M127.0,72.9Q129.1,72.7 131.2,72.4M132.2,85.8Q131.9,86.3 131.5,86.7M144.7,52.6Q143.0,54.3 141.6,56.2M231.5,124.9Q234.3,126.1 237.0,127.2M129.3,53.8Q128.0,52.8 126.8,51.7M176.0,218.2Q179.6,219.2 182.8,221.1M147.3,59.7Q146.6,59.7 145.9,59.7M162.5,98.4Q162.2,98.9 161.9,99.4M211.7,133.7Q210.8,131.7 209.4,130.0M271.0,97.6Q265.5,95.2 260.9,91.1M193.0,66.6Q191.5,67.2 189.8,67.6M198.8,184.0Q198.0,186.4 196.6,188.6M148.0,31.7Q144.6,33.0 141.2,33.9M121.7,85.3Q122.1,85.6 122.5,85.6M106.9,87.8Q105.9,87.4 104.7,87.4M55.2,155.5Q55.6,153.6 55.2,151.8M51.6,59.1Q51.9,57.0 52.1,54.9M252.7,143.3Q248.9,143.2 245.1,143.3M100.8,108.9Q100.8,108.0 101.1,107.2M74.9,17.5Q80.8,15.9 87.0,16.2M146.2,104.6Q147.1,104.9 147.8,105.5M100.9,179.5Q102.3,178.3 103.4,176.9M123.3,160.0Q121.6,158.0 120.2,155.8M157.4,80.0Q157.9,78.3 158.7,76.8M58.3,79.0Q56.7,74.3 53.7,70.3M164.8,183.4Q168.0,185.3 170.4,188.1M119.7,90.8Q119.7,90.7 119.8,90.6M98.9,80.9Q98.0,80.8 97.3,80.5M113.5,94.9Q114.6,94.8 115.7,94.9M67.9,82.4Q68.6,82.8 69.2,83.3M175.6,210.9Q173.0,210.6 170.6,209.6M160.9,92.9Q158.0,92.5 155.2,91.6M83.5,138.1Q83.5,141.3 82.3,144.4M112.0,57.3Q110.4,57.5 108.8,57.3M237.9,37.7Q237.5,38.3 236.9,38.8M71.4,79.0Q75.8,79.2 79.9,77.6M129.5,63.0Q129.4,61.2 129.2,59.4M159.3,80.7Q159.2,82.3 158.5,83.7M115.3,73.9Q115.9,71.5 117.1,69.4M91.2,79.9Q90.6,81.1 89.7,82.0M66.0,147.8Q67.7,151.1 68.6,154.8M277.3,86.1Q279.5,86.4 281.6,85.9M197.0,74.2Q194.0,77.3 190.1,79.1M134.1,124.4Q135.7,122.8 137.1,121.0M108.5,104.6Q107.0,105.3 105.4,106.0M112.4,54.0Q113.3,54.7 114.3,55.3M130.1,92.3Q130.4,91.9 130.7,91.7M112.2,53.5Q110.4,51.7 108.9,49.8M123.5,77.4Q123.5,75.7 123.8,74.0M101.4,110.4Q102.4,110.6 103.3,111.0M191.4,146.1Q194.0,145.8 196.6,145.9M139.8,83.5Q140.3,81.9 140.4,80.3M197.6,142.6Q197.3,144.3 196.6,145.9M203.3,44.6Q201.2,44.7 199.3,45.6M115.6,127.0Q116.9,127.4 118.1,128.1M120.0,87.1Q120.5,87.8 120.9,88.6M132.5,104.7Q132.4,102.4 132.4,100.2M105.7,110.9Q106.1,111.0 106.5,111.0M98.3,101.6Q98.0,101.3 97.9,101.0M108.8,118.0Q110.0,118.8 111.4,119.2M122.7,78.4Q124.2,79.6 126.1,80.2M199.3,81.1Q199.6,81.9 200.1,82.5M127.0,80.4Q126.7,81.3 126.3,82.2M137.2,101.2Q136.9,102.4 136.1,103.3M221.9,181.1Q224.7,184.2 227.5,187.3M164.7,102.0Q166.0,102.1 167.2,101.8M137.7,81.8Q137.6,83.0 137.5,84.3M65.4,148.0Q63.9,152.0 63.9,156.2M175.1,99.7Q179.1,100.6 183.3,100.3M145.4,62.6Q147.0,63.9 148.1,65.6M172.4,50.0Q173.1,53.0 173.5,56.0M130.1,103.6Q131.0,101.7 132.4,100.2M144.1,58.2Q143.6,58.2 143.0,58.2M93.1,81.0Q95.4,82.4 97.8,83.6M126.1,58.5Q126.7,57.9 127.2,57.2M83.0,185.8Q92.3,183.5 100.9,179.5M211.0,145.9Q203.8,146.0 196.6,145.9M100.9,179.5Q100.4,177.5 99.7,175.7M80.3,119.6Q80.3,122.4 79.3,125.0M146.8,98.5Q144.9,97.3 143.0,96.2M31.4,122.0Q29.8,116.9 29.7,111.6M152.1,94.5Q152.6,94.1 153.0,93.5M119.9,63.9Q120.6,63.0 121.0,62.0M171.0,65.2Q176.5,63.9 182.0,63.3M34.3,80.4Q29.8,84.2 25.0,87.4M184.6,221.3Q189.2,223.1 193.0,226.3M262.2,138.4Q259.3,138.1 256.5,138.6M101.9,115.5Q100.1,114.5 98.0,114.1M125.6,84.5Q126.2,84.9 127.0,85.0M200.5,213.2Q199.8,217.2 199.4,221.4M93.4,133.6Q91.1,135.6 89.2,137.9M137.7,115.7Q139.1,114.8 140.7,114.2M114.8,113.1Q117.0,111.7 119.2,110.2M246.8,183.1Q246.7,180.9 245.9,178.8M146.2,104.6Q146.0,102.5 145.4,100.4M139.3,105.0Q137.5,104.4 136.1,103.3M70.5,97.1Q69.3,95.5 68.5,93.7M140.0,111.7Q139.9,109.1 138.8,106.6M108.2,102.2Q108.8,101.5 109.6,101.1M121.2,92.4Q119.6,92.9 117.9,93.0M130.4,56.3Q130.6,57.0 130.9,57.7M262.8,109.5Q261.4,100.3 260.9,91.1M129.5,21.7Q129.8,21.9 130.1,21.9M37.6,36.8Q40.4,33.1 44.3,30.7M126.4,111.4Q127.3,112.8 128.7,113.9M134.2,180.0Q125.8,182.6 117.0,181.9M135.3,99.7Q136.2,100.5 137.2,101.2M88.9,93.3Q89.0,95.3 88.4,97.3M131.5,86.9Q132.5,87.8 133.3,88.9M125.2,52.5Q126.2,54.9 127.2,57.2M125.8,34.4Q121.4,33.3 117.5,30.9M162.5,98.4Q164.1,98.2 165.7,98.5M270.8,82.1Q266.3,87.1 260.9,91.1M171.0,79.8Q169.3,81.8 167.0,83.0M233.0,121.8Q233.1,118.7 234.2,115.9M161.7,118.7Q160.6,117.3 159.5,116.0M128.0,68.3Q129.1,69.0 129.9,70.1M158.7,76.8Q159.0,76.4 159.3,76.0M105.1,76.0Q107.4,76.3 109.7,76.5M209.4,177.4Q213.0,171.7 215.1,165.2M71.5,74.1Q72.5,73.5 73.7,73.1M111.3,109.6Q111.7,109.7 112.2,109.7M69.2,83.3Q67.5,84.6 65.4,85.3M120.9,81.1Q121.8,81.1 122.7,81.1M114.6,154.8Q112.7,154.3 110.8,153.9M111.3,115.0Q111.1,117.1 111.4,119.2M138.9,87.0Q139.6,87.1 140.2,87.4M165.3,77.3Q162.4,76.4 159.3,76.0M159.5,105.0Q161.3,105.3 163.2,105.2M97.3,73.3Q97.0,72.5 96.7,71.7M215.9,79.7Q218.3,82.6 219.5,86.2M131.0,112.9Q131.4,114.4 131.7,116.0M148.5,78.3Q148.6,80.7 149.4,83.0M112.1,80.9Q109.2,81.7 106.9,83.5M170.4,36.3Q169.3,35.0 168.0,33.9M89.6,170.5Q83.9,174.9 78.7,179.9M120.7,58.7Q119.4,57.7 118.1,56.6M167.7,74.0Q166.9,73.3 166.0,72.6M228.9,52.8Q229.3,48.8 230.9,45.1M100.8,98.3Q100.9,99.4 101.5,100.4M131.5,86.9Q131.7,88.0 131.9,89.1M105.2,89.2Q103.5,91.3 102.1,93.6M100.0,45.0Q100.8,48.8 100.8,52.8M106.1,162.2Q106.6,163.2 107.0,164.2M95.2,111.0Q93.3,109.4 91.2,108.2M130.1,21.9Q133.8,22.4 137.1,24.3M216.4,155.7Q213.4,151.0 211.0,145.9M114.8,74.6Q114.4,74.2 114.0,73.9M119.0,103.1Q118.7,104.3 118.3,105.6M140.9,100.9Q141.3,100.9 141.8,101.0M206.5,86.8Q203.6,84.3 200.1,82.5M97.0,128.9Q95.4,131.4 93.4,133.6M191.3,124.7Q188.8,124.4 186.3,123.7M62.3,144.7Q58.7,148.2 55.2,151.8M136.0,156.6Q141.8,152.8 148.2,150.0M155.3,33.0Q156.4,34.6 157.5,36.2M120.3,90.7Q120.8,91.2 121.3,91.8M67.9,82.4Q66.7,83.9 65.4,85.3M29.7,111.6Q27.9,105.5 26.6,99.3M246.5,152.9Q247.9,152.2 249.5,151.9M148.2,107.3Q148.0,106.4 147.8,105.5M221.9,181.1Q219.9,181.0 217.9,180.7M101.4,110.4Q101.1,109.7 100.8,108.9M209.3,196.2Q204.2,198.6 199.1,201.2M71.1,174.0Q75.1,176.7 78.7,179.9M192.1,43.4Q191.3,40.0 190.1,36.8M131.3,74.1Q132.2,74.7 133.1,75.1M97.5,167.0Q98.2,171.5 99.7,175.7M236.9,93.5Q238.4,93.7 239.9,94.3M60.0,85.5Q61.3,86.6 62.7,87.3M206.1,107.3Q206.6,108.9 207.2,110.3M120.8,58.5Q120.7,58.6 120.7,58.7M175.1,90.4Q175.6,89.6 176.0,88.8M137.5,106.4Q136.8,106.0 136.2,105.5M144.3,100.2Q143.0,101.1 141.7,102.0M30.7,73.4Q31.6,71.3 32.2,69.1M96.5,143.4Q98.7,144.8 100.5,146.6M129.6,190.7Q127.8,192.4 125.8,193.9M63.1,56.0Q68.2,59.0 73.4,61.9M125.6,82.5Q126.0,82.3 126.3,82.2M202.6,165.3Q204.7,162.4 207.7,160.3M113.7,69.3Q114.1,68.2 114.4,67.2M119.7,90.8Q118.2,90.4 116.6,90.3M168.7,87.1Q167.3,87.6 165.8,88.2M235.0,33.0Q233.3,33.0 231.6,33.2M92.3,70.8Q93.7,68.1 95.3,65.5M157.0,64.3Q156.8,64.4 156.6,64.6M233.4,146.3Q225.3,151.8 216.4,155.7M102.1,100.5Q103.2,99.0 103.6,97.2M109.7,76.5Q109.8,77.7 109.8,79.0M103.2,85.2Q103.4,85.7 103.7,86.1M141.1,84.4Q141.7,85.0 142.4,85.6M115.5,26.7Q117.0,24.0 117.6,20.9M267.5,76.1Q271.3,78.8 274.2,82.5M160.9,92.9Q160.0,90.4 159.9,87.8M111.7,135.3Q106.1,137.3 101.5,141.2M124.0,92.2Q125.1,90.8 126.1,89.4M49.3,75.0Q53.7,77.2 58.3,79.0M167.5,150.9Q162.2,152.3 156.7,151.8M115.0,75.1Q114.9,75.9 115.0,76.6M97.2,113.2Q95.7,112.4 94.1,112.2M127.9,100.4Q128.5,99.6 129.0,98.8M123.5,103.4Q123.3,101.9 122.6,100.6M218.9,58.5Q216.3,60.1 213.6,61.6M143.4,43.4Q141.4,38.9 141.2,33.9M187.9,113.7Q183.6,115.5 179.2,116.8M168.1,108.7Q168.3,108.4 168.4,108.0M120.9,88.6Q122.7,88.0 124.4,87.4M158.9,58.7Q159.9,59.4 161.0,60.0M138.9,88.7Q138.7,88.3 138.4,88.0M108.8,118.0Q108.1,115.4 107.8,112.7M138.5,63.9Q136.9,63.2 135.1,62.7M144.6,76.4Q143.9,74.3 142.9,72.2M169.9,114.5Q169.4,111.5 168.1,108.7M146.3,54.6Q147.0,53.9 147.8,53.4M151.3,67.6Q150.5,67.8 149.7,67.9M113.0,99.7Q113.3,98.5 113.2,97.3M178.3,139.4Q173.0,134.7 168.2,129.6M252.7,143.3Q250.6,141.2 248.5,139.0M48.3,92.1Q48.3,93.1 48.3,94.0M139.3,105.0Q140.4,103.4 141.7,102.0M262.2,138.4Q263.4,135.7 264.4,132.9M86.8,192.8Q83.8,193.1 80.9,192.5M120.4,72.1Q121.9,72.0 123.3,72.0M97.0,91.0Q95.2,91.6 93.4,92.2M197.4,133.8Q196.8,132.7 196.1,131.7M101.0,129.0Q98.6,126.1 95.7,123.7M161.7,118.7Q163.0,117.7 163.8,116.4M100.8,52.8Q104.3,53.1 107.9,53.5M109.2,67.8Q109.7,69.5 110.5,71.0M159.9,87.8Q157.9,90.2 155.2,91.6M182.4,128.2Q186.0,130.1 189.9,130.7M104.8,118.1Q104.0,118.2 103.4,118.5M158.5,83.7Q157.9,84.4 157.3,85.2M151.3,45.2Q147.3,47.5 143.5,50.2M116.8,62.2Q116.7,62.5 116.6,62.8M67.5,88.4Q65.1,87.9 62.7,87.3M125.6,84.5Q125.0,83.8 124.8,83.1M238.8,73.6Q243.8,79.2 248.8,84.8M249.4,161.0Q242.5,166.1 235.7,171.4M110.2,48.9Q108.0,48.9 105.9,49.5M238.8,73.6Q235.6,66.7 231.4,60.4M123.9,84.5Q123.1,84.9 122.5,85.6M146.6,88.2Q145.6,89.0 144.6,89.9M225.8,175.1Q226.3,181.3 227.5,187.3M131.4,59.8Q131.0,58.8 130.9,57.7M184.8,70.3Q183.2,74.0 180.3,76.9M146.0,80.8Q146.6,82.5 146.8,84.2M117.2,138.8Q113.8,143.6 112.3,149.3M164.1,133.3Q161.2,135.3 158.1,137.0M123.3,160.0Q123.3,161.8 122.7,163.4M112.6,63.3Q110.9,60.7 108.5,58.6M110.5,71.0Q111.8,70.8 112.9,70.3M130.5,93.5Q130.4,92.9 130.1,92.3M84.8,68.7Q86.2,68.1 87.8,68.0M49.3,75.0Q49.1,80.0 47.2,84.6M78.7,86.5Q79.3,86.4 79.9,86.2M108.7,90.5Q109.5,89.6 109.9,88.4M159.8,40.6Q161.5,41.8 163.5,42.2M152.1,160.1Q147.0,163.4 141.9,166.8M161.7,93.9Q160.8,95.5 159.6,96.8M147.8,53.4Q148.6,55.3 149.8,57.0M148.3,177.3Q150.5,178.9 152.9,180.1M247.2,100.1Q254.7,96.7 260.9,91.1M125.7,76.0Q125.6,76.7 125.4,77.4M109.6,145.2Q111.3,147.0 112.3,149.3M62.7,87.3Q64.5,89.4 66.7,91.0M234.0,184.1Q231.0,186.1 227.5,187.3M105.8,152.2Q106.4,150.6 107.4,149.2M147.7,69.8Q146.9,68.4 146.0,67.0M114.8,74.6Q115.0,74.3 115.3,73.9M146.8,98.5Q149.8,98.8 152.9,98.9M120.1,106.5Q120.2,105.8 120.2,105.1M96.1,86.2Q95.3,86.7 94.6,87.3M203.3,57.6Q201.8,57.1 200.2,56.8M106.9,83.5Q109.6,83.7 112.3,83.5M164.1,133.3Q171.0,136.7 178.3,139.4M158.5,57.8Q159.4,57.9 160.2,57.7M80.2,188.7Q80.7,190.6 80.9,192.5M126.6,86.9Q126.4,86.9 126.2,86.9M240.5,146.1Q243.1,145.1 245.1,143.3M235.5,58.4Q233.5,59.6 231.4,60.4M191.9,106.1Q193.0,108.4 194.8,110.3M142.4,86.5Q144.7,87.1 146.6,88.2M104.3,106.1Q104.0,106.3 103.7,106.6M158.8,123.6Q160.1,124.9 161.7,125.6M234.8,99.1Q231.1,105.9 229.8,113.6M112.6,86.9Q114.0,87.9 115.6,88.7M237.8,43.6Q239.5,44.7 241.5,45.1M98.7,106.7Q99.8,107.2 101.1,107.2M37.6,36.8Q38.8,41.4 41.0,45.6M139.1,48.7Q138.2,49.0 137.3,49.4M144.3,100.2Q144.8,100.3 145.4,100.4M87.2,74.4Q89.8,72.9 92.8,72.0M146.3,54.6Q145.5,54.1 144.9,53.5M49.9,62.3Q49.5,61.5 49.2,60.7M130.5,88.2Q130.6,87.7 130.9,87.1M102.1,100.5Q101.8,100.4 101.5,100.4M66.0,147.8Q66.3,147.5 66.7,147.3M94.1,119.6Q91.6,121.2 88.8,122.2M75.2,115.5Q78.1,117.1 80.3,119.6M129.9,85.9Q130.0,86.5 129.9,87.2M129.1,96.7Q131.1,98.1 132.4,100.2M149.5,126.4Q149.5,129.5 148.6,132.5M163.8,123.8Q166.1,125.0 168.3,126.4M137.7,115.7Q137.5,114.0 137.3,112.3M95.9,77.9Q95.7,78.7 95.6,79.5M119.4,98.9Q119.3,98.5 119.2,98.1M215.9,79.7Q214.7,79.3 213.6,78.6M80.3,119.6Q82.5,118.0 84.4,116.1M175.6,210.9Q180.4,210.1 185.1,209.2M140.4,178.1Q140.5,176.5 140.3,174.9M141.4,87.6Q141.3,89.5 141.8,91.4M129.5,21.7Q128.1,19.7 126.0,18.2M103.2,84.1Q104.2,84.9 105.2,85.8M129.6,80.0Q129.7,80.9 130.0,81.7M122.3,90.6Q122.1,90.9 122.1,91.3M180.1,118.9Q180.1,120.1 180.4,121.3M137.3,49.4Q137.7,50.3 137.8,51.3M142.2,66.4Q140.6,67.4 139.1,68.6M143.4,51.3Q144.1,51.9 144.7,52.6M256.5,138.6Q260.4,135.7 264.4,132.9M204.5,122.6Q205.7,125.6 207.3,128.4M106.7,78.8Q108.3,78.9 109.8,79.0M88.8,122.2Q92.4,122.4 95.7,123.7M191.4,146.1Q189.2,153.6 187.1,161.0M103.7,183.4Q102.7,181.2 100.9,179.5M151.4,111.1Q150.6,112.8 149.3,114.2M156.1,168.7Q156.9,167.0 158.2,165.7M171.2,127.8Q174.3,128.4 177.5,128.4M114.3,185.4Q115.5,183.5 117.0,181.9M138.6,93.9Q138.5,96.2 138.6,98.4M169.8,108.4Q169.0,108.5 168.1,108.7M158.5,57.8Q156.9,58.7 155.2,59.3M145.9,90.7Q145.2,90.4 144.6,89.9M89.7,79.6Q89.9,80.8 89.7,82.0M188.1,145.4Q183.3,142.1 178.3,139.4M104.2,57.9Q102.1,55.6 100.8,52.8M147.8,53.4Q150.6,52.6 153.3,51.6M100.0,80.0Q99.4,80.4 98.9,80.9M165.7,98.5Q165.9,97.3 166.1,96.1M169.9,114.5Q166.7,114.9 163.6,114.1M266.7,181.0Q261.3,182.1 255.8,182.8M112.3,79.6Q114.2,80.7 116.4,81.2M84.0,125.8Q82.2,126.4 80.7,127.4M115.6,88.7Q116.2,89.4 116.6,90.3M41.3,14.0Q45.9,15.4 50.6,16.0M138.6,98.4Q139.8,99.6 140.9,100.9M41.4,21.3Q42.7,23.1 44.5,24.4M177.5,128.4Q179.4,130.7 182.1,132.2M125.7,92.8Q126.2,91.1 126.1,89.4M210.4,199.9Q204.6,199.5 199.1,201.2M106.9,87.8Q106.0,86.8 105.2,85.8M109.6,101.1Q109.5,100.3 109.4,99.6M111.3,109.6Q110.9,111.5 110.6,113.4M144.3,100.2Q145.4,102.4 146.2,104.6M149.4,83.0Q148.7,84.3 147.6,85.3M98.8,79.2Q98.8,80.1 98.9,80.9M115.6,88.7Q115.4,89.8 115.2,90.8M49.3,75.0Q49.6,68.7 49.9,62.3M128.7,187.3Q128.9,189.1 129.6,190.7M156.6,76.2Q155.3,75.7 154.0,75.2M115.7,94.9Q117.0,95.6 118.2,96.1M24.4,91.4Q28.8,89.7 32.6,87.0M96.5,121.2Q100.0,120.0 103.4,118.5M144.6,76.4Q144.3,76.9 144.0,77.3M94.1,119.6Q93.4,115.9 94.1,112.2M97.3,80.5Q97.4,82.1 97.8,83.6M127.6,107.2Q127.3,108.9 127.0,110.7M126.8,88.4Q126.4,88.8 126.1,89.4M64.7,110.7Q66.8,111.1 69.0,110.6M204.7,132.7Q206.2,130.7 207.3,128.4M59.3,57.8Q59.0,60.9 59.6,64.0M141.6,56.2Q139.9,53.6 137.8,51.3M138.5,63.9Q139.6,61.3 139.9,58.5M127.0,72.9Q126.4,72.0 126.2,70.9M212.9,142.1Q212.0,144.0 211.0,145.9M125.7,98.8Q126.0,97.3 126.8,96.0M144.1,92.4Q143.6,91.8 142.9,91.3M245.5,51.7Q245.2,53.1 244.8,54.4M245.9,178.8Q249.8,179.5 253.8,179.5M56.6,62.2Q54.4,66.0 53.7,70.3M137.2,101.2Q138.4,103.0 139.3,105.0M128.5,56.3Q127.8,56.8 127.2,57.2M84.7,97.5Q84.9,94.8 85.3,92.1M85.3,101.0Q85.3,99.2 84.7,97.5M131.5,124.6Q131.8,123.2 132.0,121.8M220.8,188.5Q221.7,184.9 221.9,181.1M118.4,79.6Q117.1,78.7 116.2,77.3M114.8,49.2Q116.9,48.0 119.2,47.1M278.7,112.6Q277.4,110.3 276.8,107.7M100.8,102.6Q99.6,101.9 98.3,101.6M240.5,146.1Q243.6,148.8 246.2,152.0M114.5,76.2Q114.8,76.4 115.0,76.6M37.6,93.9Q32.0,96.3 26.6,99.3M160.1,103.6Q162.3,102.3 164.7,102.0M156.2,64.0Q156.4,64.2 156.6,64.6M154.7,151.4Q152.1,151.9 149.5,152.1M16.3,45.3Q15.7,43.9 14.8,42.7M171.2,127.8Q169.8,127.1 168.3,126.4M92.8,72.0Q94.7,71.7 96.7,71.7M144.1,92.4Q143.3,94.3 143.0,96.2M100.9,44.7Q101.1,48.8 100.8,52.8M272.7,101.4Q272.2,102.0 271.5,102.4M165.3,77.3Q163.9,79.6 162.0,81.3M219.7,208.6Q218.8,212.2 218.6,215.8M201.0,59.9Q198.7,60.0 196.6,59.1M103.0,106.5Q102.5,106.2 102.0,105.8M203.3,44.6Q205.1,41.2 207.9,38.5M175.1,90.4Q175.9,90.8 176.7,91.3M177.8,148.2Q176.4,155.7 173.4,162.7M168.7,87.1Q168.5,85.9 168.8,84.8M60.0,85.5Q56.5,89.8 54.1,94.7M135.1,62.7Q134.5,61.2 133.6,59.9M141.8,101.0Q141.7,101.5 141.7,102.0M202.6,165.3Q201.6,168.6 200.7,172.0M87.8,40.4Q93.9,42.6 100.0,45.0M69.2,83.3Q70.3,81.2 71.4,79.0M165.5,63.5Q164.2,65.5 163.1,67.6M124.4,87.4Q124.3,86.4 124.3,85.3M142.9,91.5Q143.6,91.9 144.1,92.4M171.4,43.8Q169.0,47.9 168.4,52.7M206.5,86.8Q213.1,87.3 219.5,86.2M89.7,198.5Q91.9,199.3 94.2,199.7M141.4,87.6Q140.8,87.5 140.2,87.4M205.3,77.5Q202.5,79.8 200.1,82.5M180.4,134.5Q184.8,131.8 189.9,130.7M76.1,169.4Q73.2,171.3 71.1,174.0M123.4,129.6Q121.5,126.8 119.2,124.3M90.2,84.4Q89.4,85.8 88.7,87.2M162.5,98.4Q162.5,96.1 162.3,93.9M187.2,107.9Q185.5,107.4 184.1,106.4M101.5,64.7Q103.1,64.5 104.7,64.2M146.8,98.5Q145.7,99.6 144.3,100.2M112.6,63.3Q114.6,63.1 116.6,62.8M207.2,110.3Q205.5,109.8 203.9,108.9M138.1,126.2Q137.3,123.7 137.1,121.0M196.6,145.9Q198.4,143.7 200.6,141.9M100.4,91.4Q102.5,90.2 104.4,88.8M249.4,161.0Q246.8,169.7 245.9,178.8M238.5,100.1Q235.8,107.8 234.2,115.9M137.7,81.8Q137.1,81.9 136.5,81.8M106.5,95.3Q108.1,97.3 109.4,99.6M271.0,97.6Q271.6,99.6 272.7,101.4M128.0,68.3Q127.3,65.4 125.8,62.9M184.6,221.3Q183.7,221.1 182.8,221.1M240.7,88.2Q244.9,86.9 248.8,84.8M134.1,124.4Q136.0,125.5 138.1,126.2M204.7,132.7Q202.9,137.4 200.6,141.9M24.4,91.4Q25.1,89.5 25.0,87.4M67.9,82.4Q69.6,80.7 71.4,79.0M150.1,63.8Q150.4,65.8 151.3,67.6M184.8,70.3Q183.3,66.9 182.0,63.3M130.5,93.5Q131.8,93.7 133.0,94.2M120.0,87.1Q120.6,86.4 121.4,85.9M100.8,73.6Q99.1,73.3 97.3,73.3M55.9,116.9Q58.3,113.9 60.8,111.0M199.1,99.6Q195.3,102.7 191.9,106.1M165.9,147.7Q165.5,147.0 165.2,146.2M166.3,59.3Q167.9,56.1 168.4,52.7M120.4,72.1Q118.5,71.0 117.1,69.4M131.1,84.5Q131.3,84.8 131.5,85.0M89.2,137.9Q88.2,137.4 87.2,136.9M197.6,142.6Q199.1,142.5 200.6,141.9M95.3,55.2Q91.7,58.2 89.3,62.1M224.0,73.6Q224.1,66.9 225.1,60.2M234.0,184.1Q235.0,177.8 235.7,171.4M132.2,63.3Q133.0,61.7 133.6,59.9M87.8,40.4Q84.0,45.7 82.5,52.1M207.9,38.5Q213.4,36.4 219.3,35.9M42.5,120.3Q41.3,115.7 41.6,110.8M93.1,81.0Q94.2,80.1 95.5,79.6M167.5,74.9Q167.6,74.4 167.7,74.0M145.9,90.7Q144.8,91.4 144.1,92.4M126.8,88.4Q126.2,88.2 125.6,87.9M85.3,101.0Q87.2,100.5 88.9,99.6M159.8,40.6Q158.9,38.3 157.5,36.2M98.7,95.1Q98.7,94.4 98.9,93.6M81.1,95.6Q81.4,101.7 81.1,107.9M131.3,74.1Q131.3,73.2 131.2,72.4M127.6,88.2Q127.4,88.1 127.2,87.9M79.5,186.8Q79.5,187.3 79.4,187.7M144.9,53.5Q143.2,54.8 141.6,56.2M117.0,181.9Q119.9,184.0 122.3,186.8M124.0,92.2Q124.8,92.5 125.7,92.8M160.4,83.0Q162.7,86.0 165.8,88.2M63.4,41.9Q65.8,47.7 70.2,52.4M170.4,188.1Q169.7,190.7 168.9,193.2M63.4,41.9Q61.3,40.2 59.0,38.8M21.7,48.8Q25.6,46.9 29.7,45.8M123.9,84.5Q124.4,83.8 124.8,83.1M260.0,169.7Q263.5,175.2 266.7,181.0M100.2,87.4Q100.7,89.4 100.4,91.4M113.2,83.1Q112.7,83.2 112.3,83.5M97.0,91.0Q98.5,91.3 100.0,91.7M90.8,97.9Q91.7,95.8 92.0,93.4M246.5,152.9Q246.3,152.5 246.2,152.0M120.0,87.1Q119.7,87.8 119.1,88.3M134.3,54.6Q132.7,54.1 131.3,53.5M168.4,52.7Q166.7,47.1 163.5,42.2M123.4,129.6Q121.7,131.2 120.1,132.8M80.9,91.4Q83.1,91.9 85.3,92.1M144.7,105.8Q145.5,105.3 146.2,104.6M105.8,152.2Q106.4,157.2 106.1,162.2M108.2,102.2Q106.0,103.5 103.7,104.0M158.2,165.7Q166.1,165.7 173.4,162.7M103.7,183.4Q95.1,187.8 86.8,192.8M170.4,36.3Q173.5,37.6 176.3,39.5M150.1,63.8Q149.2,64.7 148.1,65.6M185.1,209.2Q185.0,215.4 182.8,221.1M114.8,113.1Q114.8,111.6 114.7,110.1M115.5,98.3Q116.5,98.4 117.5,98.4M107.8,112.7Q107.2,111.8 106.5,111.0M124.0,92.2Q123.6,94.2 123.7,96.3M99.6,84.5Q98.7,84.1 97.8,83.6M197.0,74.2Q201.1,70.6 205.7,67.6M59.3,57.8Q61.1,57.2 62.6,56.3M154.7,151.4Q155.7,151.7 156.7,151.8M249.4,62.3Q253.2,66.3 257.8,69.2M180.1,69.0Q176.8,69.0 173.6,70.0M39.6,107.0Q40.6,108.9 41.6,110.8M105.7,100.3Q107.6,100.3 109.4,99.6M183.3,100.3Q183.8,103.4 184.1,106.4M108.9,93.1Q109.7,94.2 110.7,95.1M106.9,83.5Q108.1,81.1 109.8,79.0M111.3,109.6Q108.5,107.6 105.4,106.0M156.6,184.8Q154.8,182.4 152.9,180.1M223.2,125.7Q222.4,127.1 221.5,128.5M53.1,145.6Q54.0,148.8 55.2,151.8M147.5,57.4Q147.2,58.5 147.3,59.7M99.2,105.7Q99.9,104.7 100.8,103.9M70.9,136.1Q69.4,141.9 66.7,147.3M43.0,133.4Q44.8,137.0 47.5,140.1M157.6,69.9Q158.7,67.8 159.9,65.9M143.1,128.2Q136.8,132.8 131.3,138.3M133.2,79.3Q133.0,80.2 132.6,81.1M222.3,213.6Q221.3,210.9 219.7,208.6M63.1,56.0Q62.9,56.2 62.6,56.3M98.6,63.1Q96.9,64.3 95.3,65.5M204.0,211.4Q210.0,209.0 216.4,208.9M125.7,98.8Q127.3,99.0 129.0,98.8M86.8,192.8Q88.6,195.5 89.7,198.5M157.2,75.5Q155.6,75.0 154.0,75.2M149.4,83.0Q147.6,82.2 146.0,80.8M87.2,74.4Q86.5,77.0 85.9,79.6M112.1,80.9Q112.8,81.9 113.2,83.1M207.7,160.3Q209.6,153.2 211.0,145.9M131.7,116.0Q131.5,116.1 131.3,116.2M200.7,172.0Q199.1,177.9 198.8,184.0M123.5,77.4Q124.5,77.4 125.4,77.4M274.4,155.9Q265.2,149.5 254.1,147.2M170.4,37.0Q167.4,40.2 163.5,42.2M125.7,126.7Q125.1,122.6 124.9,118.6M91.6,162.2Q94.7,157.6 96.1,152.2M130.0,89.4Q129.0,88.9 128.0,88.8M180.3,76.9Q178.3,81.3 176.0,85.5M37.6,93.9Q37.9,100.5 39.6,107.0M136.1,103.3Q136.4,104.4 136.2,105.5M119.1,88.3Q119.5,89.4 119.8,90.6M90.3,18.1Q93.5,16.2 97.1,15.7M219.7,208.6Q222.0,207.8 224.4,207.3M231.5,124.9Q232.5,123.5 233.0,121.8M60.1,129.2Q57.3,125.5 53.3,123.2M246.8,186.4Q241.2,185.8 235.6,185.1M102.0,105.8Q101.5,104.8 100.8,103.9M131.0,82.1Q131.0,82.8 131.0,83.5M131.3,74.1Q132.8,73.1 134.4,72.3M136.5,111.7Q136.0,112.2 135.6,112.8M143.4,51.3Q143.4,50.7 143.5,50.2M60.0,85.5Q62.7,85.2 65.4,85.3M41.4,21.3Q41.0,18.7 40.9,16.0M154.5,91.1Q154.3,90.4 153.8,89.9M182.5,57.8Q187.5,54.8 192.8,52.6M137.2,54.4Q137.1,56.4 136.4,58.3M160.9,92.9Q158.6,93.5 156.5,94.8M174.6,102.1Q179.7,103.6 184.1,106.4M231.5,124.9Q226.7,127.3 221.5,128.5M134.9,156.1Q132.4,155.2 129.7,155.1M122.9,58.9Q124.3,55.8 125.2,52.5M126.6,42.8Q125.4,45.7 123.2,47.8M114.8,105.4Q114.9,107.7 114.7,110.1M83.8,60.9Q81.0,63.4 78.0,65.7M55.9,116.9Q54.8,120.2 53.3,123.2M49.9,62.3Q51.5,66.4 53.7,70.3M121.7,77.5Q121.8,76.9 121.7,76.3M171.0,79.8Q169.4,82.1 168.8,84.8M152.1,160.1Q151.4,155.9 149.5,152.1M211.9,58.3Q212.1,53.6 212.1,49.0M115.5,26.7Q114.0,26.8 112.6,27.1M157.6,69.9Q156.6,68.8 155.7,67.6M238.8,73.6Q243.4,67.3 249.4,62.3M98.7,95.1Q97.8,95.5 96.8,95.8M88.9,93.3Q87.2,92.6 85.3,92.1M87.2,82.0Q86.5,80.8 85.9,79.6M88.4,97.3Q89.6,97.6 90.8,97.9M131.0,83.5Q130.7,83.3 130.4,83.1M151.5,87.2Q150.5,85.1 149.4,83.0M249.4,161.0Q254.2,162.8 258.1,166.0M210.4,199.9Q214.2,203.8 216.4,208.9M143.4,43.4Q144.6,37.1 148.0,31.7M73.2,72.7Q73.4,72.9 73.7,73.1M99.0,81.7Q99.4,80.8 100.0,80.0M143.9,184.7Q142.6,189.4 141.3,194.1M79.4,187.7Q79.7,188.3 80.2,188.7M92.3,70.8Q91.0,69.0 89.4,67.4M119.1,109.1Q120.7,109.8 121.9,110.9M112.1,80.9Q112.2,80.2 112.3,79.6M100.8,52.8Q100.3,55.9 100.6,59.1M129.3,107.8Q130.8,107.2 132.2,106.4M237.0,127.2Q230.0,134.9 221.5,141.0M102.8,87.1Q103.8,87.2 104.7,87.4M12.2,50.0Q16.8,56.3 18.8,63.7M117.6,20.9Q113.4,22.0 109.4,23.5M99.0,81.7Q100.8,81.8 102.4,81.2M139.9,58.5Q140.8,57.4 141.6,56.2M272.7,101.4Q274.5,104.7 276.8,107.7M159.1,140.2Q158.7,146.1 156.7,151.8M134.3,54.6Q135.7,54.7 137.2,54.4M114.8,113.1Q112.9,113.8 111.3,115.0M191.4,123.1Q195.7,123.3 199.9,122.9M162.0,81.3Q164.4,82.6 167.0,83.0M122.6,72.8Q123.1,73.5 123.8,74.0M139.1,48.7Q141.2,49.7 143.5,50.2M148.0,93.8Q148.7,92.2 149.4,90.5M106.9,60.5Q105.8,62.3 104.7,64.2M211.9,58.3Q208.5,58.3 205.2,57.5M165.3,77.3Q166.0,78.7 166.4,80.1M109.6,101.1Q109.9,102.0 110.0,103.0M135.3,99.7Q134.7,100.1 134.3,100.7M131.1,84.5Q131.1,84.0 131.0,83.5M144.1,58.2Q145.0,58.9 145.9,59.7M131.5,124.6Q128.6,125.5 125.7,126.7M124.1,82.3Q125.1,81.3 126.1,80.2M191.4,123.1Q191.2,123.9 191.3,124.7M113.5,94.9Q114.4,92.9 115.2,90.8M110.9,160.5Q113.3,158.4 114.9,155.6M86.0,83.8Q86.0,81.7 85.9,79.6M215.1,165.2Q211.0,163.4 207.7,160.3M50.6,136.7Q49.2,138.6 47.5,140.1M67.5,88.4Q66.5,86.8 65.4,85.3M152.2,107.2Q151.4,108.9 150.7,110.5M113.5,94.9Q113.5,96.1 113.2,97.3M230.9,45.1Q231.7,43.6 232.0,41.9M162.7,110.7Q162.5,107.9 163.2,105.2M130.5,88.3Q131.3,88.6 131.9,89.1M109.2,67.8Q110.2,67.2 111.0,66.5M49.3,75.0Q46.6,75.5 43.9,76.3M101.8,117.3Q102.7,117.8 103.4,118.5M204.8,72.3Q205.1,69.9 205.7,67.6M123.3,72.0Q122.5,70.1 121.8,68.3M79.4,187.7Q80.3,190.1 80.9,192.5M196.6,188.6Q194.4,192.6 192.6,196.9M118.4,74.5Q117.8,71.9 117.1,69.4M225.1,60.2Q222.3,56.7 221.0,52.4M21.7,48.8Q20.0,53.9 18.4,59.0M153.0,176.6Q152.7,178.4 152.9,180.1M156.1,168.7Q149.1,166.7 141.9,166.8M172.4,50.0Q174.2,47.9 176.2,46.0M125.2,52.5Q126.9,54.3 128.5,56.3M191.4,123.1Q188.9,123.6 186.3,123.7M112.6,86.9Q114.1,86.6 115.5,85.9M180.1,69.0Q180.9,66.1 182.0,63.3M140.9,100.9Q141.4,101.3 141.7,102.0M132.5,112.6Q132.0,114.3 131.7,116.0M121.9,110.9Q120.5,110.8 119.2,110.2M101.0,129.0Q99.0,129.3 97.0,128.9M98.3,101.6Q98.0,101.9 97.8,102.3M140.0,111.7Q140.5,112.9 140.7,114.2M117.2,138.8Q114.9,138.3 112.6,138.7M169.5,115.9Q167.7,117.9 165.8,119.7M168.2,129.6Q168.4,128.0 168.3,126.4M111.7,79.6Q110.7,79.4 109.8,79.0M83.8,60.9Q84.4,62.6 85.3,64.1M125.7,92.8Q124.7,94.6 123.7,96.3M163.0,89.0Q164.9,90.4 166.3,92.2M99.9,70.5Q98.3,71.2 96.7,71.7M122.9,153.4Q123.7,153.7 124.4,154.1M123.2,112.3Q122.7,112.2 122.3,112.2M154.1,116.6Q153.1,113.7 151.4,111.1M121.2,92.4Q121.2,92.9 121.2,93.4M204.0,211.4Q205.7,214.5 207.9,217.4M240.7,88.2Q239.2,81.0 238.8,73.6M126.1,58.5Q126.7,59.8 127.0,61.1M76.1,169.4Q74.1,169.5 72.0,169.9M131.0,82.1Q131.8,81.7 132.6,81.1M55.2,155.5Q54.6,156.4 53.7,157.0M245.4,155.8Q239.6,163.0 235.7,171.4M159.9,87.8Q158.7,86.4 157.3,85.2M84.8,111.9Q83.0,109.8 81.1,107.9" stroke="#5cc2ff" stroke-width="0.75" opacity="0.9"/><path d="M103.2,84.1Q102.7,82.6 102.4,81.2M130.0,85.7Q130.7,86.3 131.5,86.7M89.2,89.8Q89.2,89.2 89.4,88.7M60.1,129.2Q56.0,133.9 50.6,136.7M124.3,143.4Q123.9,148.0 124.3,152.5M72.9,88.9Q76.8,90.4 80.9,91.4M104.7,87.4Q104.3,86.6 103.7,86.1M182.5,57.8Q182.0,60.6 182.0,63.3M87.2,82.0Q88.5,81.8 89.7,82.0M121.3,91.8Q121.7,91.6 122.1,91.3M149.4,90.5Q147.8,89.6 146.6,88.2M43.9,76.3Q42.4,78.4 41.7,80.9M100.0,45.0Q97.9,48.8 95.4,52.4M81.1,49.8Q84.8,45.3 87.8,40.4M121.6,94.6Q121.0,95.0 120.3,95.3M136.1,80.3Q136.9,79.0 138.1,78.1M130.4,56.3Q131.0,54.9 131.3,53.5M145.9,90.7Q146.5,89.5 146.6,88.2M124.1,82.3Q123.4,82.3 122.7,82.4M138.8,86.5Q139.9,85.4 141.1,84.4M72.0,169.9Q66.4,168.5 61.5,165.3M128.8,87.8Q129.0,87.4 129.3,86.9M211.9,58.3Q211.2,59.8 210.6,61.3M41.4,21.3Q39.2,24.7 36.2,27.2M110.3,169.3Q108.5,166.9 107.0,164.2M134.3,54.6Q132.4,55.7 130.4,56.3M94.6,87.3Q93.6,89.7 93.4,92.2M121.4,116.0Q120.6,120.2 119.2,124.3M112.6,138.7Q107.0,139.7 101.5,141.2M65.4,148.0Q60.7,150.9 55.2,151.8M134.8,98.6Q133.8,99.6 132.4,100.2M220.8,188.5Q216.9,191.0 213.5,194.2M154.9,127.4Q156.1,132.3 158.1,137.0M157.6,69.9Q158.9,67.8 159.4,65.4M146.1,69.8Q146.9,69.8 147.7,69.8M128.4,37.6Q130.2,37.2 132.0,36.6M114.0,73.9Q112.0,74.2 110.1,75.2M117.9,93.0Q117.9,94.6 118.2,96.1M105.7,110.9Q104.7,108.7 103.7,106.6M104.7,64.2Q104.6,67.8 105.0,71.3M100.0,91.7Q100.8,92.6 101.7,93.5M117.5,53.3Q115.9,54.3 114.3,55.3M108.8,118.0Q106.8,117.9 104.8,118.1M41.4,21.3Q46.3,19.2 50.6,16.0M159.4,65.4Q160.2,62.7 161.0,60.0M97.3,73.3Q97.0,73.3 96.8,73.3M210.9,63.5Q212.3,62.6 213.6,61.6M130.6,87.2Q130.7,87.2 130.9,87.1M115.6,88.7Q116.3,87.7 117.3,86.9M158.8,60.8Q159.2,63.1 159.4,65.4M162.0,202.8Q160.7,199.3 160.2,195.5M188.0,49.3Q190.5,50.8 192.8,52.6M112.6,69.3Q111.8,67.9 111.0,66.5M175.1,90.4Q171.8,91.4 168.6,92.9M173.5,56.0Q172.7,60.7 171.0,65.2M143.4,71.5Q143.2,71.9 142.9,72.2M252.7,143.3Q254.6,141.0 256.5,138.6M279.7,132.2Q280.1,130.2 280.0,128.1M124.5,20.9Q127.0,21.2 129.5,21.7M188.7,96.3Q185.0,94.3 180.9,93.9M164.1,133.3Q163.8,132.5 163.9,131.8M134.6,120.3Q134.0,120.7 133.3,120.9M112.3,79.6Q114.4,78.6 116.2,77.3M119.1,88.3Q120.0,88.4 120.9,88.6M118.0,86.5Q117.4,84.9 116.7,83.4M159.9,65.9Q160.8,66.0 161.6,65.9M112.8,31.0Q111.3,27.2 109.4,23.5M76.1,169.4Q76.7,174.9 78.7,179.9M127.9,102.3Q127.9,101.5 128.3,100.8M126.0,86.1Q126.6,86.2 127.1,86.4M204.7,132.7Q207.3,131.7 209.4,130.0M138.8,106.6Q140.8,107.0 142.7,107.4M123.7,96.3Q122.7,95.4 121.6,94.6M81.1,95.6Q80.9,93.5 80.9,91.4M115.7,94.9Q115.1,92.9 115.2,90.8M188.1,105.9Q185.6,103.2 183.3,100.3M135.5,46.9Q135.9,46.8 136.3,46.9M154.9,71.1Q156.1,73.2 157.2,75.5M188.0,49.3Q182.2,44.3 176.3,39.5M128.0,68.3Q129.3,68.1 130.5,67.8M130.0,85.7Q130.4,86.4 130.9,87.1M134.0,91.7Q133.4,90.3 133.3,88.9M248.8,84.8Q254.8,88.0 260.9,91.1M135.3,58.6Q134.5,59.4 133.6,59.9M196.1,131.7Q194.3,132.0 192.5,131.9M167.2,101.8Q165.1,103.4 163.2,105.2M152.9,180.1Q148.4,182.5 143.9,184.7M87.8,40.4Q92.5,45.8 95.4,52.4M216.2,162.0Q216.1,158.9 216.4,155.7M61.6,20.4Q68.4,19.5 75.1,19.9M199.3,81.1Q198.1,77.7 197.0,74.2M141.8,91.4Q141.1,93.2 141.0,95.2M81.1,95.6Q77.2,100.8 73.2,106.0M130.0,89.4Q130.9,89.2 131.9,89.1M85.4,101.8Q83.2,104.8 81.1,107.9M87.6,128.9Q88.1,132.9 87.2,136.9M122.4,133.8Q121.3,133.2 120.1,132.8M108.8,118.0Q108.1,119.6 107.8,121.2M124.5,20.9Q122.3,21.2 120.0,21.5M184.9,206.0Q189.1,201.8 192.6,196.9M12.2,50.0Q11.9,46.5 10.7,43.2M194.3,60.1Q192.1,60.9 189.7,61.1M168.9,193.2Q166.1,198.4 162.0,202.8M205.5,99.6Q206.3,103.4 206.1,107.3M30.7,73.4Q29.9,73.7 29.0,73.8M101.7,93.5Q101.9,93.5 102.1,93.6M83.7,197.8Q82.1,195.2 80.9,192.5M83.5,138.1Q81.9,135.1 80.4,132.1M59.4,107.5Q60.3,109.1 60.8,111.0M118.0,86.5Q117.7,86.7 117.3,86.9M29.0,73.8Q26.8,74.9 24.4,75.5M146.8,98.5Q146.2,99.5 145.4,100.4M156.1,168.7Q157.3,173.4 157.6,178.1M114.8,74.6Q114.9,74.9 115.0,75.1M121.0,77.4Q118.6,77.2 116.2,77.3M112.6,63.3Q112.7,61.6 112.8,59.8M92.1,92.7Q92.8,92.6 93.4,92.2M129.1,96.7Q128.8,95.6 128.6,94.5M250.5,131.6Q252.8,135.7 256.5,138.6M152.1,94.5Q152.8,96.6 152.9,98.9M165.7,98.5Q166.7,100.0 167.2,101.8M134.8,98.6Q134.3,96.2 133.0,94.2M173.5,56.0Q177.4,60.1 182.0,63.3M146.2,78.1Q146.2,79.5 146.0,80.8M84.7,97.5Q86.5,97.1 88.4,97.3M75.2,115.5Q74.8,120.3 72.9,124.8M175.6,210.9Q174.7,206.5 172.3,202.7M178.7,55.2Q183.9,53.2 188.0,49.3M177.8,148.2Q172.6,149.2 167.5,150.9M123.5,77.4Q122.6,77.5 121.7,77.5M122.2,61.8Q123.7,62.4 125.3,62.6M48.3,92.1Q45.6,91.5 43.2,90.0M156.2,64.0Q156.2,64.8 156.4,65.6M161.9,99.4Q163.3,100.7 164.7,102.0M133.1,75.1Q131.7,76.4 130.1,77.3M48.0,58.2Q48.6,59.4 49.2,60.7M204.0,211.4Q208.1,206.2 210.4,199.9M12.2,50.0Q14.4,47.8 16.3,45.3M177.8,148.2Q183.1,154.1 187.1,161.0M37.6,36.8Q35.5,36.6 33.3,37.0M130.5,88.2Q130.4,87.7 130.6,87.2M44.5,24.4Q40.3,25.6 36.2,27.2M189.9,130.7Q191.3,131.1 192.5,131.9M123.2,47.8Q122.8,48.5 122.2,48.9M105.4,50.3Q105.7,50.1 105.9,49.8M166.3,92.2Q165.9,94.2 166.1,96.1M120.4,72.1Q121.5,72.5 122.6,72.8M159.5,116.0Q161.5,113.6 162.7,110.7M163.8,61.7Q162.5,63.7 161.6,65.9M120.8,58.5Q119.4,57.6 118.1,56.6M152.7,133.3Q152.5,135.0 152.0,136.6M123.8,74.0Q123.7,73.0 123.3,72.0M245.4,155.8Q245.8,154.3 246.5,152.9M126.4,111.4Q126.7,113.6 126.4,115.8M54.4,50.6Q51.9,50.3 49.6,50.9M87.2,74.4Q89.7,72.6 92.3,70.8M149.8,73.0Q148.3,75.8 146.2,78.1M176.1,110.9Q177.1,114.2 179.2,116.8M271.5,102.4Q274.5,104.8 276.8,107.7M137.3,49.4Q137.1,50.4 136.8,51.4M188.7,96.3Q189.0,95.4 189.3,94.5M97.9,101.0Q99.3,99.7 100.8,98.3M83.0,185.8Q80.8,182.8 78.7,179.9M80.4,74.8Q80.7,75.1 80.9,75.5M138.6,93.9Q140.1,92.5 141.8,91.4M184.6,172.2Q181.8,174.3 179.5,176.9M127.0,72.9Q128.5,75.2 130.1,77.3M126.9,100.9Q126.7,101.4 126.6,101.9M128.6,85.0Q128.0,85.8 127.1,86.4M249.4,161.0Q247.5,158.4 245.4,155.8M90.3,18.1Q89.6,20.1 89.6,22.2M116.8,62.2Q115.7,61.6 115.0,60.7M113.5,94.9Q112.1,95.2 110.7,95.1M131.0,83.5Q130.6,83.4 130.3,83.3M145.9,112.8Q144.4,116.9 141.5,120.3M100.8,98.3Q102.3,98.0 103.6,97.2M85.8,55.8Q87.7,58.9 89.3,62.1M96.5,121.2Q97.5,118.9 98.1,116.6M142.7,97.8Q143.7,98.9 144.3,100.2M138.6,98.4Q138.2,100.0 137.2,101.2M100.9,44.7Q99.0,36.2 98.2,27.6M105.7,95.5Q104.1,94.3 102.1,93.6M132.5,104.7Q132.7,105.5 132.6,106.3M233.4,146.3Q234.1,136.5 237.0,127.2M126.4,115.8Q127.4,114.7 128.7,113.9M129.3,107.8Q128.0,109.1 127.0,110.7M220.4,96.4Q224.1,96.1 227.8,96.5M112.6,69.3Q112.7,69.8 112.9,70.3M108.7,90.5Q109.5,91.3 110.4,92.0M129.1,96.7Q127.9,96.2 126.8,96.0M119.2,124.3Q116.0,122.3 112.5,120.6M105.7,100.3Q105.2,101.1 104.5,101.6M245.1,143.3Q245.2,147.7 246.2,152.0M93.1,81.0Q92.1,80.6 91.2,79.9M106.1,162.2Q102.1,165.1 97.5,167.0M132.4,100.2Q130.8,99.2 129.0,98.8M145.4,62.6Q142.7,63.6 139.8,64.1M187.2,107.9Q191.1,108.8 194.8,110.3M255.8,182.8Q252.0,184.5 248.0,185.4M42.5,120.3Q44.4,120.2 46.3,119.6M70.9,136.1Q71.0,130.3 72.9,124.8M103.0,106.5Q103.7,106.3 104.3,106.1M96.9,75.0Q97.0,74.1 96.8,73.3M222.0,194.9Q217.7,194.4 213.5,194.2M216.4,155.7Q212.4,158.7 207.7,160.3M126.2,70.9Q126.0,69.9 125.6,69.0M205.2,57.5Q204.5,60.4 203.8,63.2M258.1,166.0Q263.9,164.8 269.9,164.3M115.4,42.4Q117.1,45.0 119.2,47.1M237.0,127.2Q242.3,130.6 248.4,132.2M121.7,102.8Q121.5,101.6 121.2,100.5M221.9,181.1Q223.9,178.2 225.8,175.1M118.0,86.5Q118.5,84.5 118.7,82.5M238.8,73.6Q246.6,74.5 254.4,73.3M100.1,87.0Q101.3,85.5 102.2,83.9M140.3,174.9Q144.5,175.6 148.3,177.3M202.3,107.7Q200.3,106.0 197.9,105.0M87.6,90.6Q88.5,89.0 88.7,87.2M29.7,63.6Q24.2,63.1 18.8,63.7M80.9,75.5Q83.5,75.2 85.9,74.5M218.9,58.5Q222.1,58.9 225.1,60.2M111.3,115.0Q110.9,114.3 110.6,113.4M59.0,38.8Q58.7,36.1 59.2,33.4M184.9,206.0Q185.1,207.6 185.1,209.2M230.9,45.1Q233.8,48.8 237.7,51.3M105.6,71.2Q107.5,72.7 109.6,73.8M66.1,100.9Q67.7,104.1 69.9,107.0M218.1,79.2Q217.1,77.4 216.5,75.5M158.5,57.8Q157.6,55.8 156.4,54.1M133.6,67.3Q132.1,67.6 130.7,68.2M145.9,112.8Q148.4,111.9 150.7,110.5M146.1,69.8Q146.2,68.4 146.0,67.0M44.3,30.7Q44.4,27.6 44.5,24.4M159.5,116.0Q156.9,116.7 154.1,116.6M132.4,89.3Q133.0,90.6 134.0,91.7M32.2,69.1Q41.2,65.8 49.2,60.7M125.1,108.1Q126.4,107.7 127.6,107.2M124.2,49.2Q123.2,49.2 122.2,48.9M144.1,58.2Q142.9,57.2 141.6,56.2M124.8,59.7Q125.1,61.2 125.3,62.6M238.8,73.6Q231.4,73.8 224.0,73.6M123.2,112.3Q122.6,111.6 121.9,110.9M69.0,110.6Q70.7,112.4 72.7,113.9M75.1,19.9Q75.2,18.7 74.9,17.5M135.6,114.9Q133.7,115.6 131.7,116.0M197.4,133.8Q197.7,138.2 197.6,142.6M106.9,83.5Q106.7,81.9 106.3,80.3M126.8,51.7Q125.7,50.2 124.2,49.2M242.8,113.3Q250.8,116.7 257.9,121.6M163.1,67.6Q164.3,70.3 166.0,72.6M52.5,40.0Q55.8,39.5 59.0,38.8M79.4,49.3Q80.9,50.6 82.5,52.1M117.2,99.4Q118.3,101.1 119.0,103.1M151.3,45.2Q152.8,48.2 153.3,51.6M232.0,41.9Q231.5,37.6 231.6,33.2M205.3,77.5Q201.4,75.2 197.0,74.2M173.6,70.0Q171.8,71.1 170.3,72.6M123.9,84.5Q124.1,84.9 124.3,85.3M166.3,92.2Q166.3,90.2 165.8,88.2M105.1,76.0Q101.8,75.3 98.6,75.5M237.8,43.6Q237.4,40.7 237.9,37.7M69.0,110.6Q69.2,108.7 69.9,107.0M108.8,57.3Q108.0,55.5 107.9,53.5M105.7,100.3Q104.4,99.0 103.6,97.2M96.5,143.4Q94.6,138.6 93.4,133.6M134.1,93.2Q135.1,93.5 136.0,94.1M205.5,99.6Q202.3,99.8 199.1,99.6M142.2,66.4Q141.1,65.2 139.8,64.1M130.4,56.3Q129.8,55.1 129.3,53.8M128.6,79.0Q129.1,79.5 129.6,80.0M114.4,67.2Q115.7,68.3 117.1,69.4M127.2,87.3Q127.2,87.6 127.2,87.9M98.2,62.1Q98.5,62.6 98.6,63.1M70.5,97.1Q70.7,97.4 71.0,97.6M170.4,210.0Q169.4,211.1 168.5,212.1M103.2,85.2Q103.2,84.6 103.2,84.1M114.6,154.8Q113.3,152.1 112.3,149.3M120.4,72.1Q121.1,70.2 121.8,68.3M215.6,110.8Q211.4,109.9 207.2,110.3M112.8,31.0Q112.6,29.1 112.6,27.1M151.3,45.2Q153.1,39.0 155.3,33.0M117.5,98.4Q118.4,98.4 119.2,98.1M83.2,84.1Q84.6,83.9 86.0,83.8M104.3,106.1Q103.8,105.1 103.7,104.0M125.7,76.0Q126.1,74.3 127.0,72.9M138.9,88.7Q139.1,89.1 139.2,89.6M275.3,157.2Q272.5,160.7 269.9,164.3M136.1,80.3Q134.4,81.0 132.6,81.1M97.0,91.0Q98.6,89.2 100.2,87.4M120.4,72.1Q119.3,73.2 118.4,74.5M140.7,72.7Q137.5,72.9 134.4,72.3M122.3,112.2Q122.1,111.6 121.9,110.9M137.7,68.0Q138.5,65.9 139.8,64.1M142.4,86.5Q141.9,87.1 141.4,87.6M88.9,93.3Q89.2,91.6 89.2,89.8M204.8,72.3Q201.0,73.7 197.0,74.2M125.7,76.0Q124.9,74.8 123.8,74.0M146.3,54.6Q146.9,56.0 147.5,57.4M166.3,59.3Q170.1,58.0 173.5,56.0M78.7,86.5Q78.7,87.1 78.7,87.7M109.4,23.5Q109.1,22.1 109.1,20.6M173.4,162.7Q169.7,157.2 167.5,150.9M21.7,48.8Q17.4,50.1 13.7,52.6M166.3,59.3Q165.3,60.7 163.8,61.7M169.5,115.9Q169.6,115.2 169.9,114.5M133.2,79.3Q131.4,79.8 129.6,80.0M123.5,103.4Q124.2,103.5 125.0,103.8M105.9,49.5Q107.4,49.5 108.9,49.8M161.6,57.9Q161.3,58.9 161.0,60.0M238.3,91.8Q237.7,92.8 236.9,93.5M126.6,42.8Q128.9,45.6 130.1,49.1M209.3,196.2Q209.6,198.1 210.4,199.9M141.2,33.9Q138.6,29.4 137.1,24.3M227.3,171.1Q227.4,169.9 228.0,168.7M200.5,213.2Q192.9,218.0 184.6,221.3M264.4,132.9Q271.2,136.3 278.2,139.1M153.3,51.6Q154.1,53.4 155.1,55.2M59.3,57.8Q57.6,59.8 56.6,62.2M79.4,49.3Q75.8,51.7 73.0,55.1M120.0,21.5Q123.1,19.9 126.0,18.2M123.8,68.2Q124.7,68.7 125.6,69.0M157.4,80.0Q158.3,80.4 159.3,80.7M140.0,111.7Q138.7,112.2 137.3,112.3M128.4,82.0Q128.5,83.4 128.4,84.7M91.4,82.7Q91.5,81.3 91.2,79.9M120.9,81.1Q119.6,80.5 118.4,79.6M141.2,76.2Q141.6,74.7 141.6,73.2M132.2,106.4Q132.4,106.4 132.6,106.3M129.5,63.0Q130.2,65.4 130.5,67.8M144.3,100.2Q143.1,99.3 142.0,98.2M176.0,218.2Q175.5,218.6 175.0,218.9M132.2,63.3Q133.1,65.3 133.6,67.3M96.6,97.1Q98.8,97.3 100.8,98.3M154.9,71.1Q156.3,70.6 157.8,70.3M103.2,85.2Q102.6,84.6 102.2,83.9M61.6,20.4Q55.8,19.0 50.6,16.0M104.2,57.9Q105.7,59.1 106.9,60.5M43.2,90.0Q42.9,85.4 41.7,80.9M114.8,105.4Q114.1,104.2 113.8,102.9M85.3,101.0Q85.3,101.4 85.4,101.8M116.2,77.3Q116.4,79.3 116.4,81.2M173.5,56.0Q170.7,54.8 168.4,52.7M146.9,93.5Q146.5,92.0 145.9,90.7M123.5,77.4Q123.1,77.9 122.7,78.4M25.0,87.4Q24.4,81.5 24.4,75.5M51.6,59.1Q50.4,59.8 49.2,60.7M179.3,166.7Q179.9,164.4 181.1,162.2M87.0,149.7Q87.4,150.2 87.8,150.6M124.2,49.2Q125.0,50.8 125.2,52.5M77.5,72.3Q75.3,72.5 73.2,72.7M72.9,88.9Q71.4,93.1 71.0,97.6M184.6,172.2Q184.9,166.4 187.1,161.0M126.4,115.8Q127.1,116.2 127.8,116.7M271.0,97.6Q273.6,96.1 276.2,94.6M122.7,163.4Q118.9,166.0 115.1,168.6M75.1,19.9Q75.5,22.7 76.3,25.5M168.6,92.9Q167.5,92.7 166.3,92.2M100.8,108.9Q98.9,110.4 97.1,112.1M132.4,89.3Q132.8,89.1 133.3,88.9M125.1,108.1Q124.7,108.3 124.2,108.3M209.4,177.4Q213.9,178.6 217.9,180.7M177.5,128.4Q178.7,124.8 180.4,121.3M144.0,77.3Q144.9,79.1 146.0,80.8M119.3,52.6Q120.7,50.7 122.2,48.9M142.3,84.0Q142.5,84.8 142.4,85.6M61.6,20.4Q59.8,26.8 59.2,33.4M112.6,63.3Q109.6,62.3 106.9,60.5M124.2,108.3Q123.8,110.3 124.0,112.3M114.7,110.1Q113.5,109.7 112.2,109.7M170.8,99.9Q168.2,99.4 165.7,98.5M211.7,133.7Q212.9,137.8 212.9,142.1M110.7,66.0Q110.8,66.3 111.0,66.5M124.0,92.2Q123.0,91.8 122.1,91.3M140.3,174.9Q139.3,174.3 138.4,173.6M248.4,132.2Q244.8,136.1 242.9,141.0M82.5,52.1Q88.9,53.1 95.4,52.4M258.1,166.0Q255.5,172.6 253.8,179.5M137.9,80.7Q138.2,80.9 138.6,81.0M209.4,130.0Q216.7,129.2 223.2,125.7M136.8,85.1Q137.1,84.7 137.5,84.3M94.7,96.6Q95.8,96.1 96.8,95.8M92.0,64.0Q91.2,63.6 90.3,63.5M119.1,109.1Q119.7,107.9 120.1,106.5M209.7,222.6Q205.6,224.1 201.4,225.0M53.1,145.6Q53.7,146.4 54.4,147.2M137.2,54.4Q139.3,55.4 141.6,56.2M125.8,34.4Q123.1,36.7 121.5,39.8M126.6,42.8Q128.6,41.5 130.7,40.3M148.5,106.5Q148.1,106.0 147.8,105.5M44.3,30.7Q40.5,28.4 36.2,27.2M85.3,64.1Q87.3,64.0 89.2,64.5M137.5,84.3Q138.6,83.9 139.8,83.5M107.1,124.4Q105.7,121.2 103.4,118.5M189.7,61.1Q191.8,63.6 193.0,66.6M39.6,107.0Q34.2,108.3 29.7,111.6M192.1,43.4Q195.3,40.7 199.3,39.3M131.0,112.9Q131.8,112.9 132.5,112.6M60.0,85.5Q59.5,82.2 58.3,79.0M164.8,183.4Q160.8,184.5 156.6,184.8M131.1,84.5Q130.6,85.1 130.0,85.7M122.4,59.4Q122.5,60.6 122.2,61.8M132.5,104.7Q133.9,105.0 135.1,105.8M114.8,113.1Q112.7,113.3 110.6,113.4M75.5,61.0Q74.1,58.1 73.0,55.1M120.9,79.1Q121.7,78.7 122.7,78.4M165.3,77.3Q166.2,75.9 167.5,74.9M132.2,63.3Q133.7,63.1 135.1,62.7M109.7,76.5Q110.0,75.8 110.1,75.2M109.2,70.6Q109.5,72.2 109.6,73.8M191.9,106.1Q191.5,101.6 189.9,97.3M151.5,87.2Q149.6,86.1 147.6,85.3M157.6,178.1Q157.3,181.5 156.6,184.8M99.9,63.3Q100.8,63.9 101.5,64.7M169.9,114.5Q174.3,116.5 179.2,116.8M148.2,107.3Q149.1,109.1 150.7,110.5M128.4,82.0Q128.3,81.0 127.9,80.2M83.8,60.9Q86.6,61.3 89.3,62.1M100.8,73.6Q99.9,74.8 98.6,75.5M167.5,74.9Q168.5,75.3 169.5,75.6M155.7,67.6Q156.2,66.7 156.4,65.6M60.0,85.5Q53.6,85.3 47.2,84.6M278.6,143.0Q278.7,141.0 278.2,139.1M152.7,133.3Q155.8,134.7 158.1,137.0M126.6,86.9Q126.3,86.4 126.0,86.1M68.6,154.8Q66.7,151.5 65.4,148.0M137.2,54.4Q137.7,52.9 137.8,51.3M60.3,50.7Q57.4,50.3 54.4,50.6M140.4,178.1Q137.1,178.6 134.2,180.0M185.3,178.2Q185.9,175.5 186.8,172.9M141.8,101.0Q141.7,99.6 142.0,98.2M164.8,183.4Q161.5,180.3 157.6,178.1M215.6,110.8Q209.5,106.1 205.5,99.6M169.5,115.9Q166.6,116.4 163.8,116.4M212.1,49.0Q216.4,51.0 221.0,52.4M61.6,20.4Q58.8,24.2 57.6,28.7M110.2,48.9Q111.4,49.2 112.6,49.2M137.7,115.7Q138.8,117.9 139.4,120.4M113.8,56.7Q112.9,57.0 112.0,57.3M96.1,86.2Q98.2,86.7 100.2,87.4M282.7,137.6Q282.7,135.8 283.0,133.9M199.1,99.6Q198.6,102.3 197.9,105.0M286.1,133.4Q283.0,130.8 280.0,128.1M168.8,84.8Q167.8,84.1 167.0,83.0M118.4,79.6Q119.6,79.4 120.9,79.1M115.7,94.9Q116.6,93.8 117.9,93.0M219.7,208.6Q218.1,208.6 216.4,208.9M73.0,55.1Q71.7,53.7 70.2,52.4M114.3,185.4Q111.8,180.7 110.6,175.6M156.6,64.6Q156.5,65.1 156.4,65.6M161.8,81.3Q161.2,82.2 160.4,83.0M143.4,71.5Q141.1,70.2 139.1,68.6M204.5,122.6Q214.1,122.4 223.2,125.7M131.0,112.9Q130.3,110.3 129.3,107.8M68.6,154.8Q75.7,155.2 82.7,156.1M106.8,83.8Q106.8,83.7 106.9,83.5M134.4,152.5Q132.3,154.3 129.7,155.1M154.7,151.4Q151.4,150.7 148.2,150.0M153.0,93.5Q153.1,92.8 152.9,92.1M127.3,80.4Q127.2,80.4 127.0,80.4M147.6,85.3Q147.4,86.8 146.6,88.2M98.7,106.7Q97.4,109.2 97.1,112.1M100.5,146.6Q104.1,147.4 107.4,149.2M197.9,105.0Q195.0,106.0 191.9,106.1M190.1,79.1Q185.1,78.6 180.3,76.9M171.2,37.6Q170.8,37.3 170.4,37.0M254.4,73.3Q256.7,82.6 260.9,91.1M125.6,87.9Q125.9,87.4 126.2,86.9M160.4,83.0Q161.2,86.2 163.0,89.0M98.6,63.1Q98.5,64.7 98.6,66.4M232.0,41.9Q234.2,40.0 236.9,38.8M46.3,119.6Q50.0,121.0 53.3,123.2M104.8,118.1Q106.2,119.7 107.8,121.2M30.4,122.7Q33.6,126.5 37.5,129.6M203.3,57.6Q202.8,51.1 203.3,44.6M52.4,32.5Q55.9,32.5 59.2,33.4M129.5,21.7Q127.6,28.0 125.8,34.4M185.1,209.2Q190.7,208.3 195.8,205.8M176.1,110.9Q176.1,106.3 174.6,102.1M172.3,202.7Q178.9,203.2 184.9,206.0M209.3,196.2Q211.3,195.0 213.5,194.2M148.1,65.6Q146.9,66.1 146.0,67.0M60.3,53.7Q61.4,55.0 62.6,56.3M177.8,148.2Q180.8,154.9 181.1,162.2M204.5,122.6Q205.5,116.4 207.2,110.3M97.0,91.0Q97.9,92.3 98.9,93.6M133.2,79.3Q132.7,77.2 133.1,75.1M153.1,87.1Q153.7,88.5 153.8,89.9M46.3,119.6Q49.5,122.0 52.3,125.0M120.9,81.1Q121.7,81.8 122.7,82.4M122.7,163.4Q129.2,171.1 134.2,180.0M161.7,118.7Q160.4,120.1 159.3,121.5M121.7,77.5Q121.4,78.4 120.9,79.1M165.6,210.1Q164.3,206.2 162.0,202.8M196.1,131.7Q197.5,127.1 199.9,122.9M126.0,86.1Q125.1,86.6 124.4,87.4M83.0,185.8Q84.7,189.4 86.8,192.8M130.7,68.2Q130.4,69.2 129.9,70.1M101.4,110.4Q99.4,112.0 98.0,114.1M152.1,160.1Q152.7,155.6 154.7,151.4M137.2,91.0Q136.4,91.5 135.8,92.1M247.2,100.1Q245.6,106.9 242.8,113.3M68.5,93.7Q67.8,92.3 66.7,91.0M105.8,152.2Q103.4,149.2 100.5,146.6M240.5,146.1Q242.2,143.7 242.9,141.0M203.3,44.6Q204.0,51.1 205.2,57.5M199.3,81.1Q194.5,80.7 190.1,79.1M137.2,91.0Q136.8,90.5 136.2,90.2M141.6,73.2Q142.2,72.6 142.9,72.2M156.2,64.0Q155.8,61.6 155.2,59.3M72.9,88.9Q70.5,91.2 68.5,93.7M96.1,105.9Q97.3,106.5 98.7,106.7M127.1,50.6Q125.6,49.9 124.2,49.2M213.4,65.4Q213.2,63.5 213.6,61.6M34.3,80.4Q38.0,80.8 41.7,80.9M159.3,76.0Q160.9,78.5 162.0,81.3M191.4,123.1Q190.5,118.1 187.9,113.7M138.1,78.1Q139.3,77.2 140.7,76.9M93.4,133.6Q98.0,136.8 101.5,141.2M270.6,103.9Q271.1,103.2 271.5,102.4M150.1,63.8Q147.7,63.3 145.4,62.6M260.0,169.7Q264.5,166.1 269.9,164.3M152.7,133.3Q153.5,130.2 154.9,127.4M130.3,83.3Q130.4,83.2 130.4,83.1M122.2,61.8Q121.6,61.8 121.0,62.0M115.4,42.4Q113.6,45.7 112.6,49.2M118.6,88.1Q118.4,87.3 118.0,86.5M204.0,211.4Q201.5,206.4 199.1,201.2M149.7,67.9Q148.6,68.8 147.7,69.8M242.1,96.5Q240.9,95.5 239.9,94.3M53.2,111.5Q57.0,110.9 60.8,111.0M129.3,53.8Q130.3,53.5 131.3,53.5M130.1,21.9Q128.2,19.9 126.0,18.2M51.6,59.1Q49.8,58.6 48.0,58.2M136.3,82.9Q136.8,83.7 137.5,84.3M189.3,94.5Q189.6,92.3 190.2,90.3M106.9,60.5Q107.7,59.6 108.5,58.6M128.7,113.9Q130.0,115.0 131.3,116.2M191.4,146.1Q189.7,145.9 188.1,145.4M59.3,57.8Q55.8,56.2 52.1,54.9M114.5,76.2Q114.4,75.0 114.0,73.9M139.3,105.0Q140.9,106.2 142.7,107.4M99.0,81.7Q100.5,82.9 102.2,83.9M82.0,26.4Q84.8,31.9 88.7,36.8M120.5,195.9Q121.8,191.4 122.3,186.8M132.5,104.7Q132.2,105.5 132.2,106.4M85.9,74.5Q86.1,77.1 85.9,79.6M100.0,91.7Q100.2,91.5 100.4,91.4M168.7,64.4Q169.9,64.8 171.0,65.2M75.1,19.9Q79.5,22.6 83.5,25.9M115.6,127.0Q111.5,125.2 107.1,124.4M216.4,155.7Q218.2,160.9 219.0,166.3M80.4,132.1Q80.8,129.8 80.7,127.4M140.7,72.7Q139.8,70.7 139.1,68.6M158.8,60.8Q159.8,60.1 161.0,60.0M73.2,106.0Q72.5,101.7 71.0,97.6M133.1,75.1Q134.1,75.1 135.1,75.4M125.7,126.7Q129.2,124.7 132.0,121.8M159.1,140.2Q161.8,143.5 165.2,146.2M168.1,108.7Q165.6,107.0 163.2,105.2M125.7,76.0Q128.0,76.3 130.1,77.3M37.8,90.1Q39.9,85.6 41.7,80.9M156.6,80.5Q155.7,83.6 154.2,86.6M115.4,42.4Q113.6,40.5 111.3,39.2M206.5,86.8Q204.8,93.1 205.5,99.6M39.6,107.0Q32.8,103.6 26.6,99.3M96.1,105.9Q96.7,104.0 97.8,102.3M114.8,105.4Q113.7,107.7 112.2,109.7M112.6,69.3Q111.7,70.3 110.5,71.0M82.0,26.4Q82.7,26.0 83.5,25.9M197.4,133.8Q201.1,133.1 204.7,132.7M218.6,215.8Q213.6,218.4 209.7,222.6M170.4,37.0Q169.2,35.5 168.0,33.9M130.5,88.2Q129.6,88.1 128.8,87.8M103.4,198.2Q98.8,198.8 94.2,199.7M187.5,66.6Q188.7,66.9 189.8,67.6M115.5,98.3Q114.5,98.9 113.6,99.7M221.5,128.5Q222.2,134.7 221.5,141.0M132.0,36.6Q136.3,37.9 140.0,40.7M46.3,119.6Q43.4,115.5 41.6,110.8M106.1,162.2Q101.6,156.7 96.1,152.2M103.7,183.4Q109.0,184.6 114.3,185.4M52.4,32.5Q48.5,31.2 44.3,30.7M112.7,103.2Q113.2,103.0 113.8,102.9M163.1,67.6Q160.4,68.8 157.8,70.3M60.3,53.7Q59.7,55.8 59.3,57.8M125.6,69.0Q126.0,66.0 125.8,62.9M154.9,71.1Q152.8,69.7 151.3,67.6M80.9,75.5Q80.6,76.6 79.9,77.6M69.5,160.9Q66.4,159.0 63.9,156.2M43.7,102.9Q46.8,98.8 48.3,94.0M253.3,187.5Q250.1,186.7 246.8,186.4M200.7,172.0Q193.1,167.5 187.1,161.0M90.7,99.3Q90.7,103.1 91.4,106.8M191.3,124.7Q191.0,127.8 189.9,130.7M100.0,91.7Q99.5,92.6 98.9,93.6M122.7,81.1Q122.7,81.8 122.7,82.4M121.7,77.5Q122.3,77.9 122.7,78.4M204.5,122.6Q202.2,122.9 199.9,122.9M228.9,52.8Q233.2,51.5 237.7,51.3M127.0,72.9Q125.4,73.5 123.8,74.0M159.3,76.0Q158.9,76.1 158.5,76.2M156.5,94.8Q154.4,96.6 152.9,98.9M202.3,107.7Q203.1,108.3 203.9,108.9M126.3,82.2Q126.1,81.2 126.1,80.2M131.9,89.1Q132.6,89.1 133.3,88.9M163.6,114.1Q163.1,112.4 162.7,110.7M42.5,120.3Q43.0,123.4 42.8,126.5M147.7,69.8Q149.1,71.1 149.9,72.8M121.5,39.8Q119.8,35.2 117.5,30.9M180.9,93.9Q178.7,92.8 176.7,91.3M100.2,87.4Q101.5,87.3 102.8,87.1M117.9,64.8Q117.1,63.9 116.6,62.8M124.3,143.4Q123.2,143.5 122.0,143.2M196.8,58.3Q196.7,58.7 196.6,59.1M47.5,140.1Q42.3,136.2 37.6,131.8M120.7,58.7Q121.6,59.1 122.4,59.4M33.1,55.8Q31.9,57.8 31.1,59.9M183.3,100.3Q181.9,97.2 180.9,93.9M71.0,124.0Q72.0,124.3 72.9,124.8M159.4,65.4Q159.7,65.6 159.9,65.9M234.8,99.1Q235.8,96.3 236.9,93.5M123.9,84.5Q123.5,83.3 122.7,82.4M47.2,84.6Q52.7,81.6 58.3,79.0M53.2,111.5Q48.0,108.9 43.0,105.9M202.3,107.7Q198.8,109.7 194.8,110.3M122.7,81.1Q123.0,79.7 122.7,78.4M145.6,110.8Q144.5,110.2 143.6,109.4M124.9,118.6Q125.2,118.0 125.6,117.6M254.4,73.3Q252.2,79.4 248.8,84.8M105.2,89.2Q104.8,89.0 104.4,88.8M179.5,176.9Q172.6,181.2 164.8,183.4M254.1,147.2Q251.6,149.3 249.5,151.9M127.6,88.2Q128.2,88.1 128.8,87.8M60.5,68.2Q60.3,66.0 59.6,64.0M96.1,86.2Q96.7,84.8 97.8,83.6M129.1,96.7Q131.1,95.6 133.0,94.2M140.4,146.6Q145.5,140.8 152.0,136.6M176.2,46.0Q176.8,42.7 176.3,39.5M196.8,58.3Q194.9,55.4 192.8,52.6M126.4,115.8Q125.5,113.8 124.0,112.3M111.3,109.6Q110.3,106.5 110.3,103.3M71.1,174.0Q71.9,172.0 72.0,169.9M192.1,43.4Q195.6,44.8 199.3,45.6M286.1,133.4Q280.9,141.1 277.0,149.5M103.4,176.9Q107.1,176.8 110.6,175.6M140.0,40.7Q135.3,41.2 130.7,40.3M82.0,26.4Q78.5,23.2 75.1,19.9M213.4,65.4Q212.3,64.3 210.9,63.5M135.1,105.8Q135.6,105.6 136.2,105.5M152.9,90.0Q152.1,89.7 151.2,89.6M141.2,33.9Q141.2,37.4 140.0,40.7M110.7,95.1Q110.3,93.6 110.4,92.0M159.3,121.5Q159.2,122.6 158.8,123.6M261.2,68.3Q259.5,68.9 257.8,69.2M47.2,84.6Q44.5,82.8 41.7,80.9M137.7,81.8Q138.2,81.4 138.6,81.0M85.3,64.1Q85.4,66.4 84.8,68.7M115.5,114.3Q118.5,114.9 121.5,114.4M142.3,84.0Q144.5,83.8 146.8,84.2M90.7,99.3Q89.9,99.6 88.9,99.6M175.0,218.9Q172.2,215.0 168.5,212.1M129.3,53.8Q129.1,55.1 128.5,56.3M96.1,105.9Q93.7,106.0 91.4,106.8M135.5,46.9Q132.6,47.5 130.1,49.1M33.1,55.8Q31.0,50.9 29.7,45.8M122.3,90.6Q124.3,90.2 126.1,89.4M138.1,78.1Q138.5,79.5 138.6,81.0M118.0,62.9Q117.9,63.8 117.9,64.8M227.8,96.5Q229.6,105.0 229.8,113.6M118.7,82.5Q117.9,82.1 117.1,81.6M168.4,108.0Q167.7,104.9 167.2,101.8M119.2,98.1Q119.6,96.7 120.3,95.3M93.4,133.6Q90.4,135.4 87.2,136.9M176.1,110.9Q180.4,109.2 184.1,106.4M79.9,77.6Q83.0,78.3 85.9,79.6M178.7,55.2Q176.1,55.4 173.5,56.0M63.1,56.0Q66.9,54.7 70.2,52.4M103.7,104.0Q104.7,104.9 105.4,106.0M89.2,64.5Q89.3,65.9 89.4,67.4M138.6,98.4Q140.3,98.3 142.0,98.2M162.3,93.9Q164.3,93.1 166.3,92.2M190.2,90.3Q185.7,92.5 180.9,93.9M59.0,95.7Q60.5,91.4 62.7,87.3M149.8,73.0Q146.6,72.4 143.4,71.5M115.5,85.9Q115.7,87.3 115.6,88.7M216.2,162.0Q212.0,160.9 207.7,160.3M237.8,43.6Q237.3,41.2 236.9,38.8M130.4,83.1Q130.2,82.3 130.0,81.7M130.1,49.1Q131.1,51.2 131.3,53.5M42.8,126.5Q47.7,126.7 52.3,125.0M161.9,99.4Q160.6,98.3 159.6,96.8M98.6,66.4Q99.0,67.7 99.6,69.0M125.8,62.9Q125.6,62.8 125.3,62.6M73.4,61.9Q66.4,62.0 59.6,64.0M32.6,87.0Q28.8,87.0 25.0,87.4M101.0,129.0Q101.9,135.0 101.5,141.2M119.9,63.9Q119.6,66.1 120.1,68.2M101.7,102.1Q101.7,101.2 101.5,100.4M196.8,58.3Q198.5,57.7 200.2,56.8M184.6,172.2Q185.7,172.5 186.8,172.9M112.2,53.5Q112.6,51.4 112.6,49.2M184.8,70.3Q186.6,75.2 190.1,79.1M132.5,104.7Q131.3,104.1 130.1,103.6M98.8,79.2Q99.4,79.7 100.0,80.0M87.2,82.0Q86.5,82.8 86.0,83.8M135.3,99.7Q135.1,99.1 134.8,98.6M217.9,180.7Q218.5,173.5 219.0,166.3M121.4,116.0Q119.6,116.9 117.6,117.2M118.6,88.1Q117.8,89.0 116.9,89.6M171.0,79.8Q175.4,77.7 180.3,76.9M98.3,116.2Q97.9,115.2 98.0,114.1M59.0,95.7Q58.5,90.5 60.0,85.5M138.1,78.1Q136.4,76.9 135.1,75.4M131.0,112.9Q129.7,113.2 128.7,113.9M118.4,79.6Q118.8,81.0 118.7,82.5M213.6,78.6Q210.2,76.7 206.5,75.7M138.9,88.7Q137.8,89.7 137.2,91.0M84.4,70.5Q86.3,69.4 87.8,68.0M141.7,102.0Q142.1,104.7 142.7,107.4M155.7,102.1Q154.2,103.9 152.3,105.4M262.2,138.4Q258.9,143.4 254.1,147.2M262.2,138.4Q270.2,138.7 278.2,139.1M121.0,77.4Q120.9,78.3 120.9,79.1" stroke="#3aa2ff" stroke-width="0.75" opacity="0.9"/><path d="M139.9,58.5Q138.8,56.3 137.2,54.4M84.0,125.8Q86.0,127.1 87.6,128.9M112.8,59.8Q113.8,60.4 115.0,60.7M280.1,133.4Q278.8,136.1 278.2,139.1M238.5,100.1Q241.5,106.4 242.8,113.3M154.9,71.1Q155.6,69.4 155.7,67.6M105.1,76.0Q102.8,75.0 100.8,73.6M169.9,114.5Q169.6,111.5 169.8,108.4M122.9,153.4Q123.6,153.0 124.3,152.5M141.9,166.8Q140.8,170.6 138.4,173.6M136.8,110.3Q136.7,111.0 136.5,111.7M187.2,107.9Q187.7,106.9 188.1,105.9M201.0,59.9Q202.1,61.8 203.8,63.2M172.4,50.0Q170.6,51.7 168.4,52.7M212.9,142.1Q215.6,141.1 218.3,140.1M105.7,100.3Q106.9,101.3 108.2,102.2M149.4,83.0Q148.0,83.4 146.8,84.2M24.2,74.4Q21.8,68.9 18.8,63.7M199.1,99.6Q194.6,98.2 189.9,97.3M250.5,131.6Q249.5,132.0 248.4,132.2M88.8,122.2Q86.0,119.5 84.4,116.1M105.6,71.2Q105.3,71.3 105.0,71.3M189.7,61.1Q190.1,64.3 189.8,67.6M163.9,131.8Q162.4,128.8 161.7,125.6M40.9,16.0Q45.8,16.2 50.6,16.0M76.1,169.4Q81.9,167.3 88.0,166.3M83.0,53.9Q84.3,55.0 85.8,55.8M29.0,73.8Q30.9,71.7 32.2,69.1M127.0,85.0Q127.1,85.7 127.1,86.4M139.8,83.5Q139.0,82.3 138.6,81.0M134.1,93.2Q134.1,92.4 134.0,91.7M125.1,102.9Q124.3,103.3 123.5,103.4M130.9,57.7Q130.7,58.0 130.5,58.3M227.8,96.5Q222.0,103.9 215.6,110.8M148.5,106.5Q148.5,106.9 148.2,107.3M156.6,76.2Q156.3,78.3 156.6,80.5M87.6,128.9Q84.3,131.1 80.4,132.1M159.2,188.4Q160.0,191.9 160.2,195.5M121.2,92.4Q122.6,92.4 124.0,92.2M152.1,94.5Q150.7,92.5 149.4,90.5M128.8,87.8Q128.5,88.4 128.0,88.8M140.7,76.9Q140.4,78.6 140.4,80.3M105.0,71.3Q102.2,70.4 99.6,69.0M160.4,83.0Q159.4,83.2 158.5,83.7M238.8,73.6Q238.6,65.7 235.5,58.4M100.8,102.6Q101.2,102.3 101.7,102.1M59.4,107.5Q56.4,101.2 54.1,94.7M12.2,50.0Q12.8,51.4 13.7,52.6M131.4,59.8Q130.3,59.5 129.2,59.4M84.4,70.5Q84.9,72.6 85.9,74.5M242.8,113.3Q238.4,114.2 234.2,115.9M103.7,104.0Q102.2,104.1 100.8,103.9M82.0,26.4Q79.1,26.1 76.3,25.5M96.6,97.1Q95.7,96.8 94.7,96.6M53.2,161.3Q53.2,159.1 53.7,157.0M120.3,90.7Q120.0,90.7 119.8,90.6M131.2,72.4Q132.8,72.3 134.4,72.3M227.3,171.1Q231.5,171.2 235.7,171.4M115.5,114.3Q116.7,115.6 117.6,117.2M33.1,55.8Q40.7,56.1 48.0,58.2M237.7,51.3Q241.0,53.4 244.8,54.4M162.7,110.7Q161.6,107.5 159.5,105.0M130.1,49.1Q127.1,49.7 124.2,49.2M89.6,22.2Q93.5,25.5 98.2,27.6M119.0,103.1Q120.3,102.0 121.2,100.5M126.4,111.4Q125.3,112.0 124.0,112.3M152.3,105.4Q155.9,104.7 159.5,105.0M37.6,131.8Q37.7,130.7 37.5,129.6M88.0,166.3Q87.6,162.1 86.0,158.2M148.8,57.5Q149.5,58.4 150.4,58.9M180.1,118.9Q183.1,121.5 186.3,123.7M207.9,217.4Q213.2,216.2 218.6,215.8M125.4,77.4Q125.5,78.8 126.1,80.2M166.2,121.3Q165.1,122.6 163.8,123.8M125.7,126.7Q124.8,128.3 123.4,129.6M267.5,76.1Q268.0,76.7 268.2,77.4M134.3,54.6Q135.4,56.4 136.4,58.3M135.1,62.7Q136.6,65.3 137.7,68.0M96.9,75.0Q97.8,75.2 98.6,75.5M102.1,100.5Q102.7,100.6 103.1,100.9M72.7,113.9Q73.7,110.0 73.2,106.0M59.4,107.5Q58.1,101.7 59.0,95.7M91.4,106.8Q91.3,107.5 91.2,108.2M132.4,100.2Q133.3,100.5 134.3,100.7M108.9,49.8Q107.4,49.6 105.9,49.8M66.1,100.9Q68.1,98.8 70.5,97.1M132.2,85.8Q133.0,85.3 133.6,84.7M72.9,124.8Q76.1,125.2 79.3,125.0M79.5,186.8Q78.8,183.4 78.7,179.9M124.5,20.9Q125.3,19.6 126.0,18.2M61.6,20.4Q62.2,19.0 62.3,17.5M29.7,45.8Q32.3,41.7 33.3,37.0M199.3,45.6Q199.9,42.4 199.3,39.3M152.9,98.9Q150.8,97.1 149.0,95.1M160.4,83.0Q163.7,83.0 167.0,83.0M129.5,63.0Q128.6,65.6 128.0,68.3M119.5,63.7Q119.7,63.8 119.9,63.9M121.0,77.4Q120.9,76.9 120.9,76.3M269.9,164.3Q270.9,170.9 274.3,176.7M129.2,59.4Q127.6,59.0 126.1,58.5M160.1,103.6Q159.3,101.9 159.2,100.1M76.6,134.7Q78.5,133.5 80.4,132.1M129.9,87.2Q129.6,87.1 129.3,86.9M103.2,85.2Q104.3,85.3 105.2,85.8M171.0,79.8Q172.2,83.0 174.3,85.8M192.8,52.6Q192.9,48.0 192.1,43.4M111.3,39.2Q110.4,44.0 110.2,48.9M53.1,145.6Q50.5,142.7 47.5,140.1M115.5,98.3Q116.3,99.0 117.2,99.4M224.0,73.6Q222.0,74.5 220.0,75.5M138.5,63.9Q138.2,65.9 137.7,68.0M122.2,61.8Q123.6,64.9 123.8,68.2M248.5,139.0Q252.5,139.2 256.5,138.6M267.5,76.1Q266.9,76.0 266.3,75.8M100.9,179.5Q93.7,186.0 86.8,192.8M125.7,98.8Q126.9,99.4 127.9,100.4M137.7,68.0Q138.2,68.1 138.6,68.4M120.7,58.7Q121.0,60.3 121.0,62.0M119.1,88.3Q118.9,88.2 118.6,88.1M112.2,53.5Q112.3,53.8 112.4,54.0M102.1,93.6Q103.0,95.4 103.6,97.2M150.1,63.8Q150.7,61.4 150.4,58.9M234.0,184.1Q234.8,184.6 235.6,185.1M101.9,115.5Q105.0,114.4 107.8,112.7M112.6,69.3Q113.1,69.3 113.7,69.3M153.3,57.2Q151.6,57.2 149.9,57.3M87.5,85.1Q86.8,84.3 86.0,83.8M215.6,110.8Q222.7,112.1 229.8,113.6M127.6,107.2Q126.6,105.3 125.0,103.8M180.1,69.0Q180.0,73.0 180.3,76.9M136.4,58.3Q135.9,58.4 135.3,58.6M134.2,180.0Q136.8,177.1 138.4,173.6M121.7,102.8Q122.2,101.7 122.6,100.6M139.3,105.0Q139.1,105.8 138.8,106.6M132.4,89.3Q132.1,89.2 131.9,89.1M47.2,84.6Q46.6,85.5 45.9,86.3M112.2,109.7Q111.1,111.4 110.6,113.4M136.3,82.9Q135.1,84.1 133.6,84.7M199.3,39.3Q203.5,38.8 207.9,38.5M149.5,126.4Q145.8,122.9 141.5,120.3M119.0,103.1Q116.4,103.4 113.8,102.9M117.2,99.4Q118.3,99.0 119.4,98.9M79.4,49.3Q80.2,49.6 81.1,49.8M187.1,161.0Q187.5,167.0 186.8,172.9M109.6,101.1Q111.3,100.5 113.0,99.7M211.0,145.9Q205.5,144.9 200.6,141.9M118.1,105.9Q118.2,105.7 118.3,105.6M107.4,89.9Q108.1,90.1 108.7,90.5M169.8,108.4Q170.3,104.2 170.8,99.9M129.2,59.4Q128.2,60.4 127.0,61.1M84.7,97.5Q86.7,98.8 88.9,99.6M128.6,94.5Q127.7,95.3 126.8,96.0M151.4,111.1Q151.0,110.9 150.7,110.5M133.6,67.3Q133.5,69.9 134.4,72.3M133.1,75.1Q133.5,73.6 134.4,72.3M279.9,116.3Q278.5,117.2 276.9,117.6M110.2,48.9Q109.5,49.3 108.9,49.8M115.6,88.7Q116.2,89.1 116.9,89.6M192.6,196.9Q194.4,201.3 195.8,205.8M69.2,83.3Q70.7,86.3 72.9,88.9M109.2,67.8Q108.9,68.0 108.5,68.3M87.6,128.9Q91.0,130.7 93.4,133.6M123.8,74.0Q122.9,74.0 122.0,74.3M203.3,44.6Q200.8,42.3 199.3,39.3M115.5,26.7Q117.8,24.1 120.0,21.5M120.9,81.1Q120.7,80.1 120.9,79.1M158.7,76.8Q158.6,76.5 158.5,76.2M123.2,47.8Q123.7,48.5 124.2,49.2M173.4,162.7Q177.2,162.1 181.1,162.2M144.1,92.4Q144.3,91.2 144.6,89.9M101.7,93.5Q100.9,95.9 100.8,98.3M170.4,188.1Q180.7,194.4 192.6,196.9M99.9,63.3Q100.5,62.6 101.0,61.9M161.8,81.3Q160.1,78.9 159.3,76.0M116.9,89.6Q117.0,88.2 117.3,86.9M100.0,80.0Q101.3,80.4 102.4,81.2M42.5,120.3Q37.1,122.1 31.4,122.0M122.6,72.8Q123.0,72.4 123.3,72.0M137.2,101.2Q139.0,101.1 140.9,100.9M151.5,87.2Q151.6,88.4 151.2,89.6M115.3,73.9Q114.6,74.0 114.0,73.9M225.1,60.2Q228.2,60.2 231.4,60.4M209.4,130.0Q208.3,129.4 207.3,128.4M41.3,14.0Q41.1,15.0 40.9,16.0M128.4,82.0Q127.9,81.2 127.3,80.4M135.3,99.7Q136.9,98.9 138.6,98.4M141.2,33.9Q144.1,32.1 146.8,30.1M118.4,79.6Q117.8,80.6 117.1,81.6M154.2,86.6Q153.6,86.8 153.1,87.1M59.0,95.7Q63.8,95.1 68.5,93.7M219.7,208.6Q219.8,202.0 221.9,195.7M132.5,112.6Q134.0,112.7 135.6,112.8M170.4,210.0Q170.5,209.8 170.6,209.6M143.4,51.3Q142.5,53.7 141.6,56.2M138.6,93.9Q138.6,91.7 139.2,89.6M140.4,178.1Q142.8,181.1 143.9,184.7M122.3,90.6Q123.5,89.1 124.4,87.4M154.2,86.6Q153.9,88.2 153.8,89.9M247.2,100.1Q255.5,103.9 262.8,109.5M237.7,51.3Q236.9,55.0 235.5,58.4M169.9,114.5Q173.2,113.0 176.1,110.9M160.4,83.0Q159.8,81.8 159.3,80.7M134.4,152.5Q137.1,149.2 140.4,146.6M119.2,197.3Q116.6,196.3 114.5,194.5M108.5,58.6Q110.4,58.2 112.0,57.3M95.5,94.2Q93.7,94.0 92.0,93.4M136.8,85.1Q136.7,84.0 136.3,82.9M100.5,146.6Q100.8,143.9 101.5,141.2M128.7,113.9Q128.2,115.3 127.8,116.7M176.0,85.5Q175.1,85.6 174.3,85.8M131.0,82.1Q130.5,81.9 130.0,81.7M121.7,85.3Q122.1,83.9 122.7,82.4M148.6,132.5Q150.5,134.4 152.0,136.6M172.3,202.7Q182.9,201.2 192.6,196.9M127.6,107.2Q127.8,104.8 127.9,102.3M47.6,38.1Q49.3,44.4 49.6,50.9M114.6,154.8Q114.8,155.2 114.9,155.6M62.3,144.7Q64.1,146.2 65.4,148.0M113.6,99.7Q113.4,98.5 113.2,97.3M101.4,110.4Q99.3,111.3 97.1,112.1M105.7,95.5Q106.1,95.4 106.5,95.3M131.5,86.9Q131.5,86.8 131.5,86.7M153.0,176.6Q155.4,177.1 157.6,178.1M262.8,109.5Q270.2,112.8 276.9,117.6M161.8,81.3Q161.9,81.3 162.0,81.3M134.7,87.8Q134.1,88.4 133.3,88.9M138.8,86.5Q139.5,85.1 139.8,83.5M155.2,91.6Q155.7,93.3 156.5,94.8M124.5,85.4Q124.3,84.9 123.9,84.5M52.5,40.0Q54.5,42.8 57.2,44.8M24.2,74.4Q24.4,75.0 24.4,75.5M190.2,90.3Q183.4,87.1 176.0,85.5M278.6,143.0Q277.3,146.1 277.0,149.5M165.2,146.2Q161.5,149.8 156.7,151.8M121.9,110.9Q122.8,111.8 124.0,112.3M109.6,145.2Q105.8,142.6 101.5,141.2M127.0,80.4Q127.5,80.2 127.9,80.2M76.6,134.7Q79.8,136.9 83.5,138.1M137.3,112.3Q136.8,112.1 136.5,111.7M41.6,110.8Q36.7,116.5 31.4,122.0M97.5,167.0Q102.1,165.2 107.0,164.2M156.5,94.8Q157.7,97.5 159.2,100.1M267.6,128.9Q265.7,130.7 264.4,132.9M133.6,84.7Q134.5,85.3 135.3,86.1M227.8,96.5Q231.3,97.9 234.8,99.1M133.6,84.7Q133.2,82.9 132.6,81.1M245.5,51.7Q243.1,48.6 241.5,45.1M119.0,103.1Q120.4,103.1 121.7,102.8M115.2,90.8Q115.9,90.5 116.6,90.3M237.2,36.0Q238.8,40.8 241.5,45.1M89.2,64.5Q89.3,63.3 89.3,62.1M102.8,87.1Q103.7,87.9 104.4,88.8M216.4,155.7Q219.4,148.5 221.5,141.0M105.7,110.9Q103.6,113.0 101.9,115.5M60.1,129.2Q56.3,126.9 52.3,125.0M128.6,85.0Q129.3,84.0 130.3,83.3M29.7,45.8Q35.3,46.0 41.0,45.6M127.9,102.3Q129.1,102.8 130.1,103.6M110.9,160.5Q116.9,161.3 122.7,163.4M282.7,137.6Q281.2,135.7 280.1,133.4M218.1,79.2Q218.8,82.7 219.5,86.2M132.5,112.6Q134.4,111.8 136.5,111.7M140.7,72.7Q139.1,74.3 137.8,76.2M123.8,68.2Q122.8,68.2 121.8,68.3M158.7,76.8Q158.7,78.8 159.3,80.7M237.0,127.2Q237.3,123.9 237.2,120.6M112.6,86.9Q111.3,87.8 109.9,88.4M163.6,114.1Q161.4,114.6 159.5,116.0M66.1,100.9Q62.9,97.8 59.0,95.7M138.1,78.1Q138.0,79.4 137.9,80.7M100.8,73.6Q100.1,72.1 99.9,70.5" stroke="#4a84f6" stroke-width="0.75" opacity="0.9"/><path d="M192.1,43.4Q188.0,49.3 183.3,52.3Q178.7,55.2 176.1,55.6Q173.5,56.0 169.9,57.6Q166.3,59.3 165.1,60.5Q163.8,61.7 162.7,63.8Q161.6,65.9 160.8,65.9Q159.9,65.9 158.8,67.9Q157.6,69.9 156.2,70.5Q154.9,71.1 152.4,72.0Q149.9,72.8 149.8,72.9Q149.8,73.0 147.2,74.7Q144.6,76.4 144.3,76.9Q144.0,77.3 143.4,77.0Q142.9,76.7 142.7,76.8Q142.4,76.9 141.8,76.5Q141.2,76.2 140.9,76.5Q140.7,76.9 139.4,77.5Q138.1,78.1 137.1,79.2Q136.1,80.3 134.4,80.7Q132.6,81.1 131.8,81.6Q131.0,82.1 130.7,82.6Q130.4,83.1 130.3,83.2Q130.3,83.3 129.5,84.2Q128.6,85.0 128.5,84.9Q128.4,84.7 127.7,84.9L127.0,85.0M169.9,114.5Q176.1,110.9 180.1,108.7Q184.1,106.4 186.1,106.2Q188.1,105.9 190.0,106.0Q191.9,106.1 194.9,105.5Q197.9,105.0 198.5,102.3Q199.1,99.6 202.3,99.6Q205.5,99.6 212.9,98.0Q220.4,96.4 224.1,96.5Q227.8,96.5 232.4,95.0Q236.9,93.5 238.4,93.9Q239.9,94.3 241.0,95.4Q242.1,96.5 244.6,98.3Q247.2,100.1 254.0,95.6Q260.9,91.1 265.9,86.6Q270.8,82.1 272.5,82.3L274.2,82.5M241.5,45.1Q237.7,51.3 236.6,54.9Q235.5,58.4 237.1,66.0Q238.8,73.6 239.7,80.9Q240.7,88.2 239.5,90.0Q238.3,91.8 239.1,93.1Q239.9,94.3 241.0,95.4Q242.1,96.5 240.3,98.3Q238.5,100.1 236.3,108.0Q234.2,115.9 235.7,118.2L237.2,120.6M24.2,39.4Q29.7,45.8 31.4,50.8Q33.1,55.8 40.6,57.0Q48.0,58.2 48.6,59.4Q49.2,60.7 49.5,61.5Q49.9,62.3 51.8,66.3Q53.7,70.3 56.0,74.6Q58.3,79.0 59.2,82.2Q60.0,85.5 61.4,86.4Q62.7,87.3 64.7,89.2Q66.7,91.0 67.6,92.4Q68.5,93.7 69.5,95.4Q70.5,97.1 70.7,97.3Q71.0,97.6 72.1,101.8Q73.2,106.0 73.0,109.9Q72.7,113.9 74.0,114.7Q75.2,115.5 77.8,117.6Q80.3,119.6 79.8,122.3Q79.3,125.0 80.0,126.2Q80.7,127.4 80.6,129.7L80.4,132.1M254.1,147.2Q252.7,143.3 248.9,143.3Q245.1,143.3 242.8,144.7Q240.5,146.1 236.9,146.2Q233.4,146.3 227.4,143.7Q221.5,141.0 219.9,140.5Q218.3,140.1 215.0,136.9Q211.7,133.7 210.6,131.9Q209.4,130.0 207.1,131.4Q204.7,132.7 201.1,133.2Q197.4,133.8 196.8,132.7Q196.1,131.7 194.3,131.8Q192.5,131.9 191.2,131.3Q189.9,130.7 186.2,129.4Q182.4,128.2 180.0,128.3Q177.5,128.4 174.4,128.1Q171.2,127.8 169.8,127.1L168.3,126.4M143.9,184.7Q140.4,178.1 140.3,176.5Q140.3,174.9 139.4,174.2Q138.4,173.6 140.2,170.2Q141.9,166.8 138.9,161.7Q136.0,156.6 135.4,156.3Q134.9,156.1 134.6,154.3Q134.4,152.5 132.8,145.4Q131.3,138.3 131.4,131.5Q131.5,124.6 131.7,123.2Q132.0,121.8 132.6,121.3Q133.3,120.9 133.0,119.2Q132.7,117.6 132.2,116.8Q131.7,116.0 131.4,114.4Q131.0,112.9 130.1,110.3Q129.3,107.8 128.4,107.5Q127.6,107.2 127.8,104.8Q127.9,102.3 127.2,102.1Q126.6,101.9 126.7,101.4Q126.9,100.9 126.3,99.9Q125.7,98.8 126.2,97.4Q126.8,96.0 126.2,94.4Q125.7,92.8 125.9,91.1Q126.1,89.4 126.4,88.9Q126.8,88.4 127.0,88.1Q127.2,87.9 127.2,87.6Q127.2,87.3 127.2,86.9Q127.1,86.4 127.1,85.7L127.0,85.0M78.7,179.9Q89.6,170.5 90.2,170.2Q90.8,169.9 94.2,168.5Q97.5,167.0 101.8,164.6Q106.1,162.2 108.5,161.3Q110.9,160.5 116.8,161.9Q122.7,163.4 130.6,168.5Q138.4,173.6 139.4,174.2Q140.3,174.9 144.3,176.1Q148.3,177.3 150.6,178.7L152.9,180.1M253.8,179.5Q255.8,182.8 261.3,181.9Q266.7,181.0 270.5,178.8L274.3,176.7" stroke="#48b4ff" stroke-width="1.1"/><path d="M241.5,45.1Q237.7,51.3 233.3,52.0Q228.9,52.8 225.0,52.6Q221.0,52.4 220.0,55.4Q218.9,58.5 215.4,58.4Q211.9,58.3 208.5,57.9Q205.2,57.5 204.2,57.6Q203.3,57.6 202.1,58.8Q201.0,59.9 198.8,59.5Q196.6,59.1 195.5,59.6Q194.3,60.1 192.0,60.6Q189.7,61.1 185.9,62.2Q182.0,63.3 176.5,64.3Q171.0,65.2 169.9,64.8Q168.7,64.4 167.1,64.0Q165.5,63.5 163.6,64.7Q161.6,65.9 160.8,65.9Q159.9,65.9 158.8,67.9Q157.6,69.9 156.2,70.5Q154.9,71.1 152.4,72.0Q149.9,72.8 149.8,72.9Q149.8,73.0 147.2,74.7Q144.6,76.4 144.3,76.9Q144.0,77.3 143.4,77.0Q142.9,76.7 142.7,76.8Q142.4,76.9 141.8,76.5Q141.2,76.2 140.9,76.5Q140.7,76.9 139.4,77.5Q138.1,78.1 137.1,79.2Q136.1,80.3 134.4,80.7Q132.6,81.1 131.8,81.6Q131.0,82.1 130.7,82.6Q130.4,83.1 130.3,83.2Q130.3,83.3 129.5,84.2Q128.6,85.0 128.5,84.9Q128.4,84.7 127.7,84.9L127.0,85.0M276.8,107.7Q270.6,103.9 266.7,106.7Q262.8,109.5 252.8,111.4Q242.8,113.3 238.5,114.6Q234.2,115.9 232.0,114.7Q229.8,113.6 222.7,112.2Q215.6,110.8 211.4,110.5Q207.2,110.3 205.6,109.6Q203.9,108.9 203.1,108.3Q202.3,107.7 200.1,106.3Q197.9,105.0 194.9,105.5Q191.9,106.1 190.0,106.0Q188.1,105.9 185.7,103.1Q183.3,100.3 179.2,100.0L175.1,99.7M24.7,97.6Q25.3,96.2 31.4,95.1Q37.6,93.9 37.7,92.0Q37.8,90.1 40.5,90.1Q43.2,90.0 44.6,88.1Q45.9,86.3 46.5,85.5Q47.2,84.6 53.6,85.1Q60.0,85.5 61.4,86.4Q62.7,87.3 65.1,87.8Q67.5,88.4 70.2,88.6Q72.9,88.9 75.8,88.3Q78.7,87.7 78.7,87.1Q78.7,86.5 79.3,86.4Q79.9,86.2 81.5,85.2Q83.2,84.1 84.6,84.0Q86.0,83.8 86.7,84.5Q87.5,85.1 88.8,84.8Q90.2,84.4 92.4,85.9Q94.6,87.3 95.4,86.8Q96.1,86.2 98.1,86.6Q100.1,87.0 100.2,87.2Q100.2,87.4 101.5,87.2Q102.8,87.1 103.8,87.2Q104.7,87.4 105.8,87.6Q106.9,87.8 108.4,88.1Q109.9,88.4 111.2,87.7Q112.6,86.9 114.0,86.4Q115.5,85.9 116.4,86.4Q117.3,86.9 117.7,86.7Q118.0,86.5 119.0,86.8Q120.0,87.1 120.7,86.5Q121.4,85.9 121.6,85.6Q121.7,85.3 122.1,85.5Q122.5,85.6 123.4,85.5Q124.3,85.3 124.4,85.3Q124.5,85.4 125.0,84.9Q125.6,84.5 126.3,84.8L127.0,85.0M87.0,16.2Q90.3,18.1 89.9,20.2Q89.6,22.2 93.9,24.9Q98.2,27.6 99.5,36.2Q100.9,44.7 100.4,44.8Q100.0,45.0 100.4,48.9Q100.8,52.8 102.5,55.4Q104.2,57.9 105.6,59.2Q106.9,60.5 108.8,63.3Q110.7,66.0 110.9,66.3Q111.0,66.5 111.8,67.9Q112.6,69.3 112.7,69.8Q112.9,70.3 113.4,72.1Q114.0,73.9 114.4,74.3Q114.8,74.6 114.9,74.9Q115.0,75.1 114.7,75.7Q114.5,76.2 114.8,76.4Q115.0,76.6 115.6,77.0Q116.2,77.3 117.3,78.5Q118.4,79.6 119.7,80.4Q120.9,81.1 121.8,81.8Q122.7,82.4 123.3,83.4Q123.9,84.5 124.7,84.5Q125.6,84.5 126.3,84.8L127.0,85.0M237.2,36.0Q237.9,37.7 237.4,38.3Q236.9,38.8 234.5,40.4Q232.0,41.9 225.6,38.9Q219.3,35.9 213.6,37.2Q207.9,38.5 203.6,38.9Q199.3,39.3 195.7,41.4Q192.1,43.4 190.0,46.4Q188.0,49.3 183.3,52.3Q178.7,55.2 176.1,55.6Q173.5,56.0 169.9,57.6L166.3,59.3M281.6,85.9Q277.3,86.1 275.7,84.3Q274.2,82.5 272.5,82.3Q270.8,82.1 265.9,86.6Q260.9,91.1 254.0,95.6Q247.2,100.1 244.6,98.3Q242.1,96.5 241.0,95.4Q239.9,94.3 238.4,93.9Q236.9,93.5 232.4,95.0Q227.8,96.5 224.1,96.5Q220.4,96.4 212.9,98.0Q205.5,99.6 202.3,99.6Q199.1,99.6 194.5,98.5Q189.9,97.3 189.3,96.8Q188.7,96.3 184.8,95.1Q180.9,93.9 178.8,92.6Q176.7,91.3 175.9,90.9Q175.1,90.4 171.9,88.8Q168.7,87.1 167.3,87.6L165.8,88.2M12.2,50.0Q13.7,52.6 17.7,50.7Q21.7,48.8 27.4,52.3Q33.1,55.8 40.6,57.0Q48.0,58.2 49.8,58.6Q51.6,59.1 54.1,60.7Q56.6,62.2 58.1,63.1Q59.6,64.0 60.0,66.1Q60.5,68.2 66.0,71.2Q71.5,74.1 72.3,73.4Q73.2,72.7 73.4,72.9Q73.7,73.1 75.6,72.7Q77.5,72.3 79.0,73.6Q80.4,74.8 80.7,75.1Q80.9,75.5 83.4,77.5Q85.9,79.6 87.8,79.6Q89.7,79.6 90.5,79.8Q91.2,79.9 92.2,80.5Q93.1,81.0 94.3,80.3Q95.5,79.6 95.5,79.5Q95.6,79.5 96.4,80.0Q97.3,80.5 98.1,80.7Q98.9,80.9 99.5,80.4Q100.0,80.0 101.2,80.6Q102.4,81.2 103.4,81.0Q104.3,80.8 105.3,80.5L106.3,80.3M60.1,129.2Q71.0,124.0 73.1,119.7Q75.2,115.5 78.1,111.7Q81.1,107.9 83.2,104.8Q85.4,101.8 85.3,101.4Q85.3,101.0 87.1,100.3Q88.9,99.6 89.8,99.5Q90.7,99.3 90.7,98.6Q90.8,97.9 92.2,97.6Q93.7,97.4 94.2,97.0Q94.7,96.6 95.7,96.8Q96.6,97.1 98.7,97.7Q100.8,98.3 102.2,97.8Q103.6,97.2 104.7,96.4Q105.7,95.5 106.1,95.4Q106.5,95.3 107.7,94.2Q108.9,93.1 109.6,92.6Q110.4,92.0 112.8,91.4Q115.2,90.8 115.9,90.6Q116.6,90.3 116.7,90.0Q116.9,89.6 117.7,88.8Q118.6,88.1 118.9,88.2Q119.1,88.3 119.6,87.7Q120.0,87.1 120.7,86.5Q121.4,85.9 121.6,85.6Q121.7,85.3 122.1,85.5Q122.5,85.6 123.4,85.5Q124.3,85.3 124.4,85.3Q124.5,85.4 125.0,84.9Q125.6,84.5 126.3,84.8L127.0,85.0M18.8,63.7Q29.7,63.6 30.3,64.6Q30.9,65.7 31.6,67.4Q32.2,69.1 38.1,72.7Q43.9,76.3 46.6,75.7Q49.3,75.0 53.8,77.0Q58.3,79.0 63.1,80.7Q67.9,82.4 68.5,82.9Q69.2,83.3 71.1,86.1Q72.9,88.9 75.8,88.3Q78.7,87.7 79.8,89.4Q81.0,91.1 83.2,91.6Q85.3,92.1 87.1,92.7Q88.9,93.3 90.5,93.4Q92.0,93.4 93.4,95.0Q94.7,96.6 95.7,96.8Q96.6,97.1 98.7,97.7Q100.8,98.3 101.1,99.4Q101.5,100.4 101.6,101.2Q101.7,102.1 102.7,103.0Q103.7,104.0 104.0,105.1Q104.3,106.1 104.9,106.0L105.4,106.0M173.8,40.2Q176.2,46.0 182.1,47.6Q188.0,49.3 190.4,50.9Q192.8,52.6 194.8,55.5Q196.8,58.3 198.5,57.6Q200.2,56.8 201.8,57.2Q203.3,57.6 204.2,57.6Q205.2,57.5 208.5,57.9Q211.9,58.3 215.4,58.4Q218.9,58.5 222.0,59.4Q225.1,60.2 228.2,60.3Q231.4,60.4 235.1,67.0Q238.8,73.6 243.8,79.2Q248.8,84.8 254.8,88.0Q260.9,91.1 261.8,100.3Q262.8,109.5 269.8,113.5L276.9,117.6M42.8,126.5Q52.3,125.0 56.2,127.1Q60.1,129.2 65.5,126.6Q71.0,124.0 71.9,124.4Q72.9,124.8 76.1,124.9Q79.3,125.0 80.0,126.2Q80.7,127.4 82.4,126.6Q84.0,125.8 86.4,124.0Q88.8,122.2 91.4,120.9Q94.1,119.6 95.0,118.6Q95.9,117.6 97.0,117.1Q98.1,116.6 98.2,116.4Q98.3,116.2 100.0,116.7Q101.8,117.3 102.6,117.9Q103.4,118.5 104.1,118.3Q104.8,118.1 106.8,118.1Q108.8,118.0 110.1,118.6Q111.4,119.2 112.0,119.9Q112.5,120.6 114.7,119.3Q116.8,118.0 117.2,117.6Q117.6,117.2 119.5,116.6L121.4,116.0M130.1,21.9Q129.5,21.7 127.7,28.1Q125.8,34.4 127.1,36.0Q128.4,37.6 127.5,40.2Q126.6,42.8 128.3,46.0Q130.1,49.1 130.7,51.3Q131.3,53.5 130.8,54.9Q130.4,56.3 130.6,57.0Q130.9,57.7 130.7,58.0Q130.5,58.3 129.9,58.8Q129.2,59.4 129.3,61.2Q129.5,63.0 128.8,65.6Q128.0,68.3 128.3,69.4Q128.5,70.6 127.8,71.8Q127.0,72.9 126.4,74.5Q125.7,76.0 125.6,76.7Q125.4,77.4 125.8,78.8Q126.1,80.2 126.2,81.2Q126.3,82.2 126.0,82.3Q125.6,82.5 125.2,82.8Q124.8,83.1 125.2,83.8Q125.6,84.5 126.3,84.8L127.0,85.0M207.9,38.5Q203.3,44.6 204.3,51.1Q205.2,57.5 204.5,60.4Q203.8,63.2 204.8,65.4Q205.7,67.6 205.3,69.9Q204.8,72.3 205.7,74.0Q206.5,75.7 205.9,76.6Q205.3,77.5 205.9,82.2Q206.5,86.8 206.0,93.2Q205.5,99.6 205.8,103.5Q206.1,107.3 206.7,108.8Q207.2,110.3 205.9,116.5Q204.5,122.6 202.2,122.8L199.9,122.9M103.4,198.2Q103.7,183.4 102.3,181.4Q100.9,179.5 100.3,177.6Q99.7,175.7 98.6,171.4Q97.5,167.0 101.8,164.6Q106.1,162.2 106.0,157.2Q105.8,152.2 106.6,150.7Q107.4,149.2 107.6,148.7Q107.8,148.2 108.7,146.7Q109.6,145.2 111.1,142.0Q112.6,138.7 112.2,137.0Q111.7,135.3 113.6,131.1Q115.6,127.0 117.4,125.6Q119.2,124.3 122.0,121.4Q124.9,118.6 125.2,118.1Q125.6,117.6 126.0,116.7Q126.4,115.8 126.4,113.6Q126.4,111.4 126.7,111.0Q127.0,110.7 127.3,108.9Q127.6,107.2 127.8,104.8Q127.9,102.3 127.2,102.1Q126.6,101.9 126.7,101.4Q126.9,100.9 126.3,99.9Q125.7,98.8 126.2,97.4Q126.8,96.0 126.2,94.4Q125.7,92.8 125.9,91.1Q126.1,89.4 126.4,88.9Q126.8,88.4 127.0,88.1Q127.2,87.9 127.2,87.6Q127.2,87.3 127.2,86.9Q127.1,86.4 127.1,85.7L127.0,85.0M274.3,176.7Q266.7,181.0 261.3,181.9Q255.8,182.8 254.8,181.1Q253.8,179.5 249.8,179.1Q245.9,178.8 240.8,175.1Q235.7,171.4 231.8,170.1Q228.0,168.7 223.5,167.5Q219.0,166.3 217.0,165.8Q215.1,165.2 211.4,162.8Q207.7,160.3 202.1,153.1Q196.6,145.9 194.0,146.0Q191.4,146.1 189.7,145.8Q188.1,145.4 183.2,142.4L178.3,139.4M80.2,188.7Q79.4,187.7 79.5,187.3Q79.5,186.8 79.1,183.4Q78.7,179.9 84.2,175.2Q89.6,170.5 89.3,168.8Q88.9,167.2 88.4,166.7Q88.0,166.3 89.8,164.3Q91.6,162.2 93.9,157.2Q96.1,152.2 98.3,149.4Q100.5,146.6 101.0,143.9Q101.5,141.2 106.6,138.2Q111.7,135.3 115.9,134.0Q120.1,132.8 121.8,131.2Q123.4,129.6 124.6,128.1Q125.7,126.7 128.6,125.6L131.5,124.6M218.6,215.8Q216.4,208.9 213.4,204.4Q210.4,199.9 209.9,198.0Q209.3,196.2 203.0,192.4Q196.6,188.6 191.0,183.4Q185.3,178.2 186.1,175.6Q186.8,172.9 185.7,172.6Q184.6,172.2 181.9,169.5Q179.3,166.7 176.3,164.7Q173.4,162.7 170.4,156.8Q167.5,150.9 166.7,149.3Q165.9,147.7 161.3,149.8L156.7,151.8M37.6,131.8Q39.3,130.9 41.2,132.1Q43.0,133.4 45.3,136.8Q47.5,140.1 50.3,142.9Q53.1,145.6 53.7,146.4Q54.4,147.2 58.3,146.0Q62.3,144.7 63.9,146.4Q65.4,148.0 67.0,151.4Q68.6,154.8 75.6,155.5Q82.7,156.1 84.3,157.2Q86.0,158.2 88.8,160.2Q91.6,162.2 94.6,164.6Q97.5,167.0 101.8,164.6Q106.1,162.2 108.5,161.3Q110.9,160.5 116.8,161.9Q122.7,163.4 128.4,171.7L134.2,180.0M254.1,147.2Q252.7,143.3 254.6,140.9Q256.5,138.6 259.4,138.5Q262.2,138.4 263.3,135.6Q264.4,132.9 266.0,130.9Q267.6,128.9 272.2,123.2Q276.9,117.6 278.4,116.9L279.9,116.3M167.5,150.9Q177.8,148.2 182.9,146.8Q188.1,145.4 189.7,145.8Q191.4,146.1 194.0,146.0Q196.6,145.9 202.1,153.1Q207.7,160.3 211.4,162.8Q215.1,165.2 217.0,165.8Q219.0,166.3 223.5,167.5Q228.0,168.7 231.8,170.1Q235.7,171.4 240.8,175.1Q245.9,178.8 249.8,179.1L253.8,179.5M217.9,180.7Q220.8,188.5 221.4,191.7Q222.0,194.9 221.9,195.3Q221.9,195.7 223.2,201.5Q224.4,207.3 223.4,210.4Q222.3,213.6 220.5,214.7L218.6,215.8M279.9,116.3Q276.9,117.6 269.8,113.5Q262.8,109.5 252.8,111.4Q242.8,113.3 240.0,116.9Q237.2,120.6 235.1,121.2Q233.0,121.8 232.2,123.3Q231.5,124.9 227.3,125.3L223.2,125.7" stroke="#3398ff" stroke-width="1.1"/><path d="M41.3,14.0Q50.6,16.0 54.1,22.3Q57.6,28.7 58.4,31.1Q59.2,33.4 59.1,36.1Q59.0,38.8 61.2,40.3Q63.4,41.9 66.8,47.1Q70.2,52.4 71.6,53.8Q73.0,55.1 74.3,58.1Q75.5,61.0 79.7,60.9Q83.8,60.9 86.6,61.5Q89.3,62.1 89.8,62.8Q90.3,63.5 91.2,63.7Q92.0,64.0 92.9,64.0Q93.7,64.1 94.5,64.8Q95.3,65.5 96.9,65.9Q98.6,66.4 99.1,67.7Q99.6,69.0 99.8,69.8Q99.9,70.5 102.5,70.9Q105.0,71.3 105.3,71.3Q105.6,71.2 107.6,72.5Q109.6,73.8 109.9,74.5Q110.1,75.2 112.3,75.7Q114.5,76.2 114.8,76.4Q115.0,76.6 115.6,77.0Q116.2,77.3 117.3,78.5Q118.4,79.6 119.7,80.4Q120.9,81.1 121.8,81.8Q122.7,82.4 123.3,83.4Q123.9,84.5 124.7,84.5Q125.6,84.5 126.3,84.8L127.0,85.0M50.6,16.0Q62.3,17.5 68.6,17.5Q74.9,17.5 75.0,18.7Q75.1,19.9 75.7,22.7Q76.3,25.5 79.1,25.9Q82.0,26.4 82.7,26.1Q83.5,25.9 86.1,31.3Q88.7,36.8 88.3,38.6Q87.8,40.4 93.9,42.7Q100.0,45.0 100.4,44.8Q100.9,44.7 103.4,47.1Q105.9,49.5 105.9,49.7Q105.9,49.8 105.7,50.1Q105.4,50.3 106.6,51.9L107.9,53.5M199.1,201.2Q192.6,196.9 194.6,192.8Q196.6,188.6 191.0,183.4Q185.3,178.2 186.1,175.6Q186.8,172.9 185.7,172.6Q184.6,172.2 181.9,169.5Q179.3,166.7 176.3,164.7Q173.4,162.7 170.4,156.8Q167.5,150.9 166.7,149.3Q165.9,147.7 165.6,147.0Q165.2,146.2 162.1,143.2Q159.1,140.2 158.6,138.6Q158.1,137.0 155.4,135.2Q152.7,133.3 150.7,132.9Q148.6,132.5 145.9,130.3Q143.1,128.2 142.3,124.3Q141.5,120.3 141.1,117.3Q140.7,114.2 140.4,113.0Q140.0,111.7 139.4,109.2Q138.8,106.6 139.1,105.8Q139.3,105.0 138.2,103.1Q137.2,101.2 136.2,100.5Q135.3,99.7 135.0,99.1Q134.8,98.6 133.9,96.4Q133.0,94.2 131.7,93.9Q130.5,93.5 130.3,92.9Q130.1,92.3 130.4,92.0Q130.7,91.7 130.3,90.5Q130.0,89.4 129.0,89.1Q128.0,88.8 127.8,88.5Q127.6,88.2 127.4,88.0Q127.2,87.9 127.2,87.6Q127.2,87.3 127.2,86.9Q127.1,86.4 127.1,85.7L127.0,85.0M199.9,122.9Q204.5,122.6 205.9,125.5Q207.3,128.4 208.4,129.2Q209.4,130.0 210.6,131.9Q211.7,133.7 215.0,136.9Q218.3,140.1 219.9,140.5Q221.5,141.0 227.4,143.7Q233.4,146.3 236.9,146.2Q240.5,146.1 242.8,144.7Q245.1,143.3 248.9,143.3Q252.7,143.3 253.4,145.3L254.1,147.2" stroke="#4f78f2" stroke-width="1.15"/><path d="M99.6,16.8Q100.8,18.6 99.5,23.1Q98.2,27.6 99.5,36.2Q100.9,44.7 103.4,47.1Q105.9,49.5 105.9,49.7Q105.9,49.8 107.4,49.8Q108.9,49.8 110.5,51.7Q112.2,53.5 112.3,53.8Q112.4,54.0 113.4,54.7Q114.3,55.3 116.2,56.0Q118.1,56.6 119.4,57.6Q120.8,58.5 120.7,58.6L120.7,58.7M241.5,45.1Q237.7,51.3 233.3,52.0Q228.9,52.8 225.0,52.6Q221.0,52.4 220.0,55.4Q218.9,58.5 215.4,58.4Q211.9,58.3 208.5,57.9Q205.2,57.5 204.2,57.6Q203.3,57.6 202.1,58.8Q201.0,59.9 198.8,59.5Q196.6,59.1 195.5,59.6Q194.3,60.1 192.0,60.6L189.7,61.1M24.7,97.6Q26.6,99.3 33.1,103.1Q39.6,107.0 41.3,106.4Q43.0,105.9 48.1,108.7Q53.2,111.5 56.3,109.5Q59.4,107.5 62.7,104.2Q66.1,100.9 68.3,99.0Q70.5,97.1 70.7,97.3Q71.0,97.6 76.1,96.6Q81.1,95.6 82.9,96.6Q84.7,97.5 86.5,97.4Q88.4,97.3 89.6,97.6L90.8,97.9M16.3,45.3Q21.7,48.8 27.4,52.3Q33.1,55.8 40.6,57.0Q48.0,58.2 49.8,58.6Q51.6,59.1 55.5,58.5Q59.3,57.8 61.0,57.1L62.6,56.3M178.3,139.4Q188.1,145.4 187.6,153.2Q187.1,161.0 193.9,166.5Q200.7,172.0 204.1,175.3Q207.5,178.7 208.5,178.1Q209.4,177.4 213.7,179.0Q217.9,180.7 219.4,184.6L220.8,188.5M220.8,188.5Q227.5,187.3 230.7,185.7Q234.0,184.1 234.8,184.6Q235.6,185.1 241.2,185.7L246.8,186.4M156.1,168.7Q157.6,178.1 161.2,180.8Q164.8,183.4 172.2,180.1L179.5,176.9M173.5,56.0Q178.7,55.2 180.6,56.5Q182.5,57.8 187.7,55.2L192.8,52.6M137.1,24.3Q141.2,33.9 140.6,37.3Q140.0,40.7 138.1,43.8Q136.3,46.9 136.8,48.1L137.3,49.4M107.1,124.4Q115.6,127.0 117.4,125.6Q119.2,124.3 122.5,125.5Q125.7,126.7 128.6,125.6L131.5,124.6" stroke="#6fcf55" stroke-width="1.2"/><path d="M53.7,157.0Q55.2,155.5 59.6,155.9Q63.9,156.2 66.3,155.5L68.6,154.8M21.7,48.8Q33.1,55.8 40.6,57.0L48.0,58.2" stroke="#e8e020" stroke-width="1.2"/><path d="M10.7,43.2Q14.8,42.7 15.6,44.0Q16.3,45.3 19.0,47.0L21.7,48.8M80.4,74.8Q80.9,75.5 83.4,77.5Q85.9,79.6 86.6,80.8Q87.2,82.0 88.4,82.0Q89.7,82.0 90.5,82.4Q91.4,82.7 93.0,85.0Q94.6,87.3 95.8,89.1Q97.0,91.0 98.5,91.3Q100.0,91.7 100.2,91.5L100.4,91.4M100.0,45.0Q100.9,44.7 103.4,47.1Q105.9,49.5 105.9,49.7Q105.9,49.8 105.7,50.1Q105.4,50.3 106.6,51.9L107.9,53.5M157.5,36.2Q159.8,40.6 155.6,42.9Q151.3,45.2 152.3,48.4L153.3,51.6M161.6,57.9Q161.0,60.0 162.4,60.9Q163.8,61.7 164.7,62.6Q165.5,63.5 167.1,64.0L168.7,64.4M163.2,105.2Q162.7,110.7 163.1,112.4Q163.6,114.1 163.7,115.2Q163.8,116.4 162.7,117.5Q161.7,118.7 162.8,121.2L163.8,123.8M125.0,103.8Q125.1,102.9 125.8,102.4Q126.6,101.9 126.7,101.4Q126.9,100.9 127.4,100.7Q127.9,100.4 128.1,100.6Q128.3,100.8 130.4,100.5Q132.4,100.2 133.4,100.4Q134.3,100.7 134.8,100.2Q135.3,99.7 136.2,100.5Q137.2,101.2 139.0,101.1Q140.9,100.9 141.3,101.4L141.7,102.0M176.7,91.3Q180.9,93.9 184.8,95.1Q188.7,96.3 189.0,95.4L189.3,94.5M63.9,156.2Q68.6,154.8 75.5,149.6Q82.3,144.4 82.9,141.2Q83.5,138.1 85.3,137.5Q87.2,136.9 88.2,137.4Q89.2,137.9 91.3,135.7L93.4,133.6M143.1,128.2Q148.6,132.5 150.3,134.5Q152.0,136.6 150.1,143.3Q148.2,150.0 148.8,151.0Q149.5,152.1 150.8,156.1Q152.1,160.1 155.2,162.9Q158.2,165.7 157.2,167.2L156.1,168.7M156.1,168.7Q157.6,178.1 161.2,180.8Q164.8,183.4 167.6,185.8Q170.4,188.1 169.6,190.6Q168.9,193.2 170.6,197.9L172.3,202.7" stroke="#ff6a10" stroke-width="1.3"/><path d="M114.4,84.7 L118.3,80.3 L126.4,77.9 L134.6,77.0 L138.9,81.3 L138.2,87.5 L131.2,92.0 L123.0,91.4 L116.6,88.7 L114.4,84.7 Z" fill="#3f86e6" opacity="0.55" stroke="none"/></g><path d="M7.1,41.9 L11.0,39.8 L15.1,37.4 L21.0,38.0 L24.4,38.9 L27.5,37.5 L30.4,35.5 L30.9,32.4 L33.6,30.1 L33.4,25.4 L36.0,22.9 L35.6,20.0 L38.2,13.9 L38.5,11.4 L42.5,9.3 L43.6,4.3 L47.5,6.8 L44.6,11.1 L48.3,13.8 L51.0,15.9 L54.6,14.2 L60.3,15.4 L65.0,14.9 L69.6,17.0 L73.3,15.5 L78.8,15.5 L81.0,14.2 L85.7,14.1 L89.5,12.3 L93.0,10.6 L96.2,13.5 L99.4,15.4 L103.1,15.6 L108.5,18.6 L110.9,17.9 L116.2,20.7 L119.8,19.5 L120.9,16.2 L124.1,15.2 L126.0,16.1 L130.0,19.4 L131.7,22.0 L137.4,22.4 L141.0,23.5 L145.6,27.0 L147.5,28.4 L150.1,27.8 L155.7,29.0 L158.8,31.5 L160.9,33.9 L161.3,36.9 L164.6,40.8 L164.9,38.4 L168.6,34.5 L169.3,32.4 L170.9,33.8 L176.4,37.0 L177.8,38.1 L181.3,37.6 L187.1,38.6 L192.1,35.3 L194.0,34.8 L199.3,36.0 L201.5,37.9 L205.0,37.3 L207.2,37.7 L210.4,37.0 L214.8,36.2 L217.7,35.4 L222.1,34.3 L227.1,34.5 L229.9,30.2 L234.8,31.6 L236.3,32.4 L240.3,31.7 L240.6,34.4 L243.7,38.2 L242.7,42.3 L245.1,43.8 L243.3,49.1 L244.6,50.8 L248.5,53.5 L249.2,55.2 L252.0,58.9 L253.2,61.6 L256.1,64.1 L259.0,66.1 L261.8,68.7 L266.8,69.5 L269.1,70.4 L270.6,75.5 L271.6,78.5 L273.6,78.9 L278.7,82.4 L279.7,82.0 L284.2,85.8 L286.4,85.9 L285.7,92.2 L281.8,94.7 L280.8,94.8 L276.6,95.7 L276.0,98.2 L276.0,103.0 L278.3,107.2 L283.5,108.8 L283.4,113.4 L284.9,116.9 L282.5,113.6 L281.5,108.4 L283.0,110.9 L283.9,114.6 L281.5,118.6 L281.1,121.2 L281.6,124.5 L284.7,129.5 L288.6,129.8 L292.1,128.0 L294.2,130.5 L295.6,134.2 L293.7,134.3 L287.9,135.4 L286.0,135.8 L283.0,138.1 L282.9,140.8 L285.0,143.2 L285.7,147.5 L281.7,151.5 L278.5,153.2 L280.7,156.8 L279.9,159.5 L277.4,162.5 L273.8,165.1 L274.3,166.8 L275.5,172.5 L278.6,174.4 L278.8,179.5 L277.9,181.9 L273.0,183.0 L271.0,184.0 L267.1,185.5 L264.2,184.7 L259.8,185.8 L258.7,187.8 L255.5,188.2 L251.7,188.5 L248.3,189.7 L242.7,188.8 L238.9,188.1 L237.0,190.0 L232.4,190.4 L230.6,190.5 L226.3,190.9 L225.9,194.5 L224.9,199.1 L223.8,202.7 L224.3,207.3 L227.4,211.1 L226.9,215.1 L224.1,216.6 L221.5,219.9 L219.1,222.4 L215.4,224.4 L212.3,226.9 L208.3,228.0 L205.2,229.0 L203.7,229.3 L200.9,231.6 L198.4,230.5 L195.0,230.7 L190.9,226.9 L187.9,227.9 L184.5,225.3 L183.5,225.7 L179.2,224.2 L176.5,223.0 L173.5,220.0 L170.5,217.0 L169.8,216.1 L167.4,212.1 L163.6,210.1 L163.1,206.5 L161.0,203.8 L162.4,201.8 L161.3,198.9 L159.2,193.4 L159.0,190.6 L157.5,187.9 L158.0,185.0 L156.8,181.8 L153.7,183.1 L150.1,185.7 L149.0,186.1 L144.4,187.8 L142.2,189.6 L143.7,192.9 L141.7,197.5 L136.4,196.7 L131.3,200.2 L125.8,197.3 L123.3,199.2 L119.6,200.8 L114.1,197.9 L108.7,196.0 L105.1,199.7 L102.7,201.7 L98.1,201.1 L96.2,201.3 L93.2,203.2 L90.4,201.8 L84.6,200.7 L82.3,201.3 L78.2,200.8 L78.8,198.1 L79.5,195.8 L78.8,191.2 L78.6,186.1 L77.3,182.8 L72.8,178.8 L71.5,174.7 L70.3,172.6 L65.1,172.8 L60.8,170.2 L59.5,167.8 L57.3,164.4 L53.9,162.8 L51.5,159.2 L50.4,156.6 L51.9,152.9 L52.1,149.1 L50.2,147.3 L47.6,144.0 L45.0,141.8 L43.0,137.9 L37.6,136.0 L36.6,132.3 L33.1,131.0 L31.6,128.1 L27.4,123.8 L28.9,126.8 L33.0,131.2 L34.8,133.2 L37.8,136.0 L36.7,134.5 L34.7,131.0 L31.7,127.8 L29.0,126.2 L28.4,123.1 L26.5,118.1 L27.5,115.3 L26.7,112.4 L28.1,107.7 L27.2,105.2 L23.5,99.7 L25.4,95.5 L23.7,92.4 L21.8,87.5 L21.6,84.5 L22.4,79.2 L21.3,75.2 L18.0,72.2 L15.4,67.5 L15.4,63.1 L12.8,60.9 L10.0,57.2 L10.2,51.6 L10.6,48.9 L9.8,44.1 ZM30.4,35.5 L34.3,36.6 L37.8,38.0 L39.9,39.1 L43.6,41.8 L45.3,44.0 L49.5,42.4 L53.4,40.5 L59.5,39.1 L62.6,42.1 L63.9,45.1 L67.2,50.1 L71.1,45.7 L74.4,47.2 L76.4,48.6 L79.6,50.4 L84.9,51.3 L88.1,54.1 L92.6,52.7 L96.2,52.7 L101.5,54.4 L103.6,57.4 L104.9,60.4 L106.9,63.7 L109.2,65.4 L113.5,67.2 L118.6,64.6 L121.5,63.7M121.5,63.7 L124.3,62.5 L127.7,62.8 L131.7,61.1 L134.1,62.9 L137.9,62.8 L143.1,63.6 L145.3,60.1 L148.9,58.0 L152.0,55.9 L156.9,53.9 L160.0,52.4 L160.0,56.5 L161.6,61.6 L162.8,65.9 L164.0,69.7 L163.1,74.5 L162.4,78.0 L162.6,81.7 L161.8,86.3 L160.9,91.3 L161.2,94.6 L163.3,97.7 L163.6,100.6 L165.3,102.9 L166.0,106.7 L164.4,109.4 L163.2,113.0 L162.6,116.9 L161.6,121.3 L157.9,119.4 L155.3,118.6 L154.2,114.7 L151.9,112.6 L147.9,112.7 L142.6,112.0 L139.1,113.6 L134.5,114.5 L132.1,109.5 L126.0,110.8 L120.8,109.0 L117.4,106.4 L115.3,103.1 L112.4,99.9 L109.9,97.3 L107.5,93.4 L106.5,91.3 L105.8,88.0 L104.0,83.1 L106.4,79.3 L106.8,76.8 L111.2,72.7 L113.6,70.3 L116.5,69.2 L118.6,66.3 L121.5,63.7M114.4,84.7 L118.3,80.3 L121.5,79.2 L126.4,77.9 L129.7,77.0 L134.6,77.0 L138.9,81.3 L138.2,87.5 L135.3,89.0 L131.2,92.0 L127.1,90.7 L123.0,91.4 L120.4,90.9 L116.6,88.7 L114.4,84.7M155.7,29.0 L156.3,32.3 L156.4,36.9 L157.4,41.2 L158.6,45.6 L158.3,47.6 L160.0,52.4M121.5,63.7 L124.5,65.1 L126.9,67.5 L125.1,71.1 L124.1,73.9 L121.6,76.3 L118.3,80.3M139.2,86.5 L143.6,85.5 L147.3,85.0 L150.8,86.2 L155.8,88.7 L157.8,86.4 L161.8,86.3M127.1,92.2 L126.8,95.6 L126.5,100.5 L126.4,103.6 L125.4,107.5 L126.0,110.8M120.8,109.0 L115.3,111.2 L111.7,111.6 L107.9,111.3 L103.3,108.9 L99.8,110.5 L97.3,112.3 L95.6,115.9 L95.6,118.6 L92.5,118.9 L88.5,121.0 L87.2,124.3 L85.5,126.3 L83.8,129.5 L79.9,134.0M161.6,121.3 L163.7,125.7 L164.1,129.6M164.0,116.7 L161.5,121.4 L159.1,124.4 L159.0,127.9 L157.0,131.3 L155.4,134.1 L155.5,139.0 L153.7,142.7 L152.5,146.9 L151.0,151.3 L152.0,155.4 L152.5,159.8 L151.8,162.9 L152.2,166.8 L150.9,170.5 L152.3,174.3 L153.5,178.8 L156.8,181.8M97.2,118.1 L94.5,120.4 L91.1,123.4 L87.0,125.0 L85.1,128.6 L85.2,131.4 L86.6,134.8 L89.8,138.6 L87.1,140.2 L86.7,144.6 L83.8,146.4 L80.2,148.1 L77.7,149.9 L73.6,154.3 L71.8,157.7 L70.9,161.9 L71.4,164.9 L71.1,168.5 L70.3,172.6" stroke="#2b2b2b" stroke-width="1.15" fill="none" stroke-linejoin="round"/><text x="242.0" y="11.4" font-family="Liberation Mono, monospace" font-size="9" fill="#444" textLength="60" transform="rotate(-1.0 242 11.4)" lengthAdjust="spacingAndGlyphs">20/10/2002 09H</text><g><circle cx="279.0" cy="223.6" r="19.599999999999998" fill="none" stroke="#a9cbe8" stroke-width="0.6" stroke-dasharray="1.6 1.4"/><path d="M259.2,221.6 L267.0,221.9 L267.5,220.4 L270.0,220.6 L270.5,221.4 L274.0,220.8 L276.0,221.4 L280.6,221.4 L281.3,212.6 L282.3,212.6 L283.0,221.8 L288.0,222.6 L293.0,223.2 L295.0,222.6 L298.8,223.8 A19.9,19.9 0 1 1 259.2,221.6 Z" fill="#0c64b0"/><text x="264.1" y="234.6" font-family="Liberation Sans, sans-serif" font-weight="700" font-size="9" fill="#fff" textLength="31.2" lengthAdjust="spacingAndGlyphs">PARIF</text><text x="239.3" y="234.4" font-family="Liberation Sans, sans-serif" font-weight="700" font-size="9" fill="#0c64b0" textLength="20.6" lengthAdjust="spacing">AIR</text><polygon points="230.4,228.9 236.0,231.7 230.4,234.7" fill="#0c64b0"/></g></svg><div class="lab" style="left:0px;top:202.3px;width:214.5px;height:42.5px;transform:rotate(-0.4deg);"><span style="left:17.21px;top:10.30px;font-size:22.8px;line-height:22.8px;transform:scaleX(0.9421)">Emissions horaires</span></div></div>
<div class="box" style="left:108px;top:290px;width:323px;height:92px"></div>
<div class="box" style="left:1034px;top:283px;width:426px;height:92px"></div>
<svg class="ov" width="1556" height="844" viewBox="0 0 1556 844">
<line x1="155.30" y1="217.00" x2="172.80" y2="272.55" stroke="#5b9bd5" stroke-width="1.1"/>
<polygon points="176.40,284.00 167.31,274.28 178.28,270.83" fill="#5b9bd5"/>
<line x1="272.50" y1="179.20" x2="272.50" y2="271.10" stroke="#5b9bd5" stroke-width="1.1"/>
<polygon points="272.50,283.10 266.75,271.10 278.25,271.10" fill="#5b9bd5"/>
<line x1="389.00" y1="218.50" x2="363.02" y2="276.26" stroke="#5b9bd5" stroke-width="1.1"/>
<polygon points="358.10,287.20 357.78,273.90 368.27,278.61" fill="#5b9bd5"/>
<line x1="272.50" y1="386.00" x2="272.50" y2="413.00" stroke="#5b9bd5" stroke-width="1.1"/>
<polygon points="272.50,425.00 266.75,413.00 278.25,413.00" fill="#5b9bd5"/>
<line x1="1101.60" y1="216.40" x2="1119.07" y2="271.36" stroke="#5b9bd5" stroke-width="1.1"/>
<polygon points="1122.70,282.80 1113.59,273.10 1124.55,269.62" fill="#5b9bd5"/>
<line x1="1251.70" y1="179.20" x2="1251.70" y2="270.80" stroke="#5b9bd5" stroke-width="1.1"/>
<polygon points="1251.70,282.80 1245.95,270.80 1257.45,270.80" fill="#5b9bd5"/>
<line x1="1397.60" y1="216.40" x2="1381.85" y2="270.48" stroke="#5b9bd5" stroke-width="1.1"/>
<polygon points="1378.50,282.00 1376.33,268.87 1387.38,272.09" fill="#5b9bd5"/>
<path d="M166.10,453.00 L180.10,445.00 L170.90,445.00 Z" fill="#2e75b6"/>
<path d="M166.70,437.80 L178.90,444.70 L170.90,445.00 Z" fill="none" stroke="#2e75b6" stroke-width="0.9" stroke-linejoin="miter"/>
<path d="M166.10,478.90 L180.10,470.90 L170.90,470.90 Z" fill="#2e75b6"/>
<path d="M166.70,463.70 L178.90,470.60 L170.90,470.90 Z" fill="none" stroke="#2e75b6" stroke-width="0.9" stroke-linejoin="miter"/>
<path d="M166.10,504.90 L180.10,496.90 L170.90,496.90 Z" fill="#2e75b6"/>
<path d="M166.70,489.70 L178.90,496.60 L170.90,496.90 Z" fill="none" stroke="#2e75b6" stroke-width="0.9" stroke-linejoin="miter"/>
<path d="M634.20,219.80 L648.20,211.80 L639.00,211.80 Z" fill="#2e75b6"/>
<path d="M634.80,204.60 L647.00,211.50 L639.00,211.80 Z" fill="none" stroke="#2e75b6" stroke-width="0.9" stroke-linejoin="miter"/>
<path d="M634.20,246.80 L648.20,238.80 L639.00,238.80 Z" fill="#2e75b6"/>
<path d="M634.80,231.60 L647.00,238.50 L639.00,238.80 Z" fill="none" stroke="#2e75b6" stroke-width="0.9" stroke-linejoin="miter"/>
<path d="M634.20,273.10 L648.20,265.10 L639.00,265.10 Z" fill="#2e75b6"/>
<path d="M634.80,257.90 L647.00,264.80 L639.00,265.10 Z" fill="none" stroke="#2e75b6" stroke-width="0.9" stroke-linejoin="miter"/>
<path d="M634.20,326.20 L648.20,318.20 L639.00,318.20 Z" fill="#2e75b6"/>
<path d="M634.80,311.00 L647.00,317.90 L639.00,318.20 Z" fill="none" stroke="#2e75b6" stroke-width="0.9" stroke-linejoin="miter"/>
<path d="M634.20,379.10 L648.20,371.10 L639.00,371.10 Z" fill="#2e75b6"/>
<path d="M634.80,363.90 L647.00,370.80 L639.00,371.10 Z" fill="none" stroke="#2e75b6" stroke-width="0.9" stroke-linejoin="miter"/>
<path d="M1120.20,463.90 L1134.20,455.90 L1125.00,455.90 Z" fill="#2e75b6"/>
<path d="M1120.80,448.70 L1133.00,455.60 L1125.00,455.90 Z" fill="none" stroke="#2e75b6" stroke-width="0.9" stroke-linejoin="miter"/>
<path d="M1120.20,490.30 L1134.20,482.30 L1125.00,482.30 Z" fill="#2e75b6"/>
<path d="M1120.80,475.10 L1133.00,482.00 L1125.00,482.30 Z" fill="none" stroke="#2e75b6" stroke-width="0.9" stroke-linejoin="miter"/>
<path d="M1120.20,516.60 L1134.20,508.60 L1125.00,508.60 Z" fill="#2e75b6"/>
<path d="M1120.80,501.40 L1133.00,508.30 L1125.00,508.60 Z" fill="none" stroke="#2e75b6" stroke-width="0.9" stroke-linejoin="miter"/>
<rect x="990" y="30.8" width="14.3" height="2.9" fill="#2e75b6"/>
<rect x="990" y="37.0" width="14.3" height="2.9" fill="#2e75b6"/>
<line x1="1249.70" y1="372.00" x2="1249.70" y2="400.50" stroke="#5b9bd5" stroke-width="1.1"/>
<polygon points="1249.70,412.50 1243.95,400.50 1255.45,400.50" fill="#5b9bd5"/>
</svg>
<div class="t" style="left:201.50px;top:17.00px;font-size:33px;line-height:33px;color:#002060;transform:scaleX(0.8812);-webkit-text-stroke:0.33px currentColor;">ACTIVITÉ</div>
<div class="t b" style="left:521.86px;top:20.00px;font-size:29.0px;line-height:29.0px;color:#2e75b6;transform:scaleX(0.9093);-webkit-text-stroke:0.5px currentColor;-webkit-text-stroke:0.03px currentColor;">X</div>
<div class="t" style="left:583.99px;top:17.00px;font-size:33px;line-height:33px;color:#002060;transform:scaleX(0.8397);-webkit-text-stroke:0.39px currentColor;">FACTEURS</div>
<div class="t" style="left:740.41px;top:17.00px;font-size:33px;line-height:33px;color:#002060;transform:scaleX(0.9043);-webkit-text-stroke:0.29px currentColor;">D’ÉMISSIONS</div>
<div class="t" style="left:1171.06px;top:17.00px;font-size:33px;line-height:33px;color:#002060;transform:scaleX(0.8890);-webkit-text-stroke:0.32px currentColor;">ÉMISSIONS</div>
<div class="t b" style="left:136.53px;top:104.00px;font-size:19.6px;line-height:19.6px;color:#2e75b6;transform:scaleX(0.9682);">Enquêtes</div>
<div class="t b" style="left:226.21px;top:104.00px;font-size:19.6px;line-height:19.6px;color:#2e75b6;transform:scaleX(0.9870);">nationales</div>
<div class="t b" style="left:326.07px;top:104.00px;font-size:19.6px;line-height:19.6px;color:#2e75b6;transform:scaleX(1.1520);">&amp;</div>
<div class="t b" style="left:346.45px;top:104.00px;font-size:19.6px;line-height:19.6px;color:#2e75b6;transform:scaleX(0.9557);">locales</div>
<div class="t" style="left:140.24px;top:130.00px;font-size:19.6px;line-height:19.6px;color:#2e75b6;transform:scaleX(0.9673);">(EGT,</div>
<div class="t" style="left:192.29px;top:130.00px;font-size:19.6px;line-height:19.6px;color:#2e75b6;transform:scaleX(1.0486);">Population</div>
<div class="t" style="left:294.57px;top:130.00px;font-size:19.6px;line-height:19.6px;color:#2e75b6;transform:scaleX(1.1169);">&amp;</div>
<div class="t" style="left:314.43px;top:130.00px;font-size:19.6px;line-height:19.6px;color:#2e75b6;transform:scaleX(0.9592);">Emplois…)</div>
<div class="t b" style="left:88.86px;top:174.00px;font-size:19.6px;line-height:19.6px;color:#2e75b6;transform:scaleX(0.9632);">Comptages</div>
<div class="t" style="left:47.75px;top:200.00px;font-size:19.6px;line-height:19.6px;color:#2e75b6;transform:scaleX(1.0350);">(Ville</div>
<div class="t" style="left:97.29px;top:200.00px;font-size:19.6px;line-height:19.6px;color:#2e75b6;transform:scaleX(1.0288);">de</div>
<div class="t" style="left:124.72px;top:200.00px;font-size:19.6px;line-height:19.6px;color:#2e75b6;transform:scaleX(0.9676);">Paris,</div>
<div class="t" style="left:178.26px;top:200.00px;font-size:19.6px;line-height:19.6px;color:#2e75b6;transform:scaleX(0.9402);">DIRIF)</div>
<div class="t b" style="left:365.35px;top:172.00px;font-size:19.6px;line-height:19.6px;color:#2e75b6;transform:scaleX(0.9542);">Réseau</div>
<div class="t" style="left:305.54px;top:198.00px;font-size:19.6px;line-height:19.6px;color:#2e75b6;transform:scaleX(1.0370);">(10</div>
<div class="t" style="left:339.72px;top:198.00px;font-size:19.6px;line-height:19.6px;color:#2e75b6;transform:scaleX(1.0332);">000</div>
<div class="t" style="left:378.37px;top:198.00px;font-size:19.6px;line-height:19.6px;color:#2e75b6;transform:scaleX(1.0927);">km</div>
<div class="t" style="left:411.02px;top:198.00px;font-size:19.6px;line-height:19.6px;color:#2e75b6;transform:scaleX(1.0037);">de</div>
<div class="t" style="left:438.80px;top:198.00px;font-size:19.6px;line-height:19.6px;color:#2e75b6;transform:scaleX(1.0086);">voies)</div>
<div class="t" style="left:190.59px;top:437.00px;font-size:19.6px;line-height:19.6px;color:#2e75b6;transform:scaleX(1.0461);">Débits</div>
<div class="t" style="left:191.70px;top:463.00px;font-size:19.6px;line-height:19.6px;color:#2e75b6;transform:scaleX(0.9730);">Vitesses</div>
<div class="t" style="left:268.66px;top:463.00px;font-size:19.6px;line-height:19.6px;color:#2e75b6;transform:scaleX(1.0257);">moyennes</div>
<div class="t" style="left:191.64px;top:488.00px;font-size:19.6px;line-height:19.6px;color:#2e75b6;transform:scaleX(0.8621);-webkit-text-stroke:0.36px currentColor;">%</div>
<div class="t" style="left:211.98px;top:488.00px;font-size:19.6px;line-height:19.6px;color:#2e75b6;transform:scaleX(1.0438);">de</div>
<div class="t" style="left:239.21px;top:488.00px;font-size:19.6px;line-height:19.6px;color:#2e75b6;transform:scaleX(1.0620);">moteurs</div>
<div class="t" style="left:319.45px;top:488.00px;font-size:19.6px;line-height:19.6px;color:#2e75b6;transform:scaleX(1.0672);">froids</div>
<div class="t b" style="left:648.67px;top:98.00px;font-size:19.6px;line-height:19.6px;color:#2e75b6;transform:scaleX(1.0172);">Méthodologie</div>
<div class="t b" style="left:782.99px;top:98.00px;font-size:19.6px;line-height:19.6px;color:#2e75b6;transform:scaleX(1.0837);">et</div>
<div class="t b" style="left:806.77px;top:98.00px;font-size:19.6px;line-height:19.6px;color:#2e75b6;transform:scaleX(0.9406);">BDD</div>
<div class="t b" style="left:851.35px;top:98.00px;font-size:19.6px;line-height:19.6px;color:#2e75b6;transform:scaleX(0.9926);">de</div>
<div class="t b" style="left:879.77px;top:98.00px;font-size:19.6px;line-height:19.6px;color:#2e75b6;transform:scaleX(0.7915);-webkit-text-stroke:0.22px currentColor;">FE</div>
<div class="t b" style="left:738.03px;top:125.00px;font-size:19.6px;line-height:19.6px;color:#2e75b6;transform:scaleX(0.8922);-webkit-text-stroke:0.06px currentColor;">COPERT</div>
<div class="t" style="left:705.32px;top:150.00px;font-size:19.6px;line-height:19.6px;color:#2e75b6;transform:scaleX(1.0310);">Dépendant</div>
<div class="t" style="left:809.88px;top:150.00px;font-size:19.6px;line-height:19.6px;color:#2e75b6;transform:scaleX(1.0438);">de</div>
<div class="t" style="left:835.78px;top:150.00px;font-size:19.6px;line-height:19.6px;color:#2e75b6;transform:scaleX(1.7857);">:</div>
<div class="t" style="left:659.60px;top:204.00px;font-size:19.6px;line-height:19.6px;color:#2e75b6;transform:scaleX(0.9977);">Vitesse</div>
<div class="t" style="left:659.27px;top:231.00px;font-size:19.6px;line-height:19.6px;color:#2e75b6;transform:scaleX(1.0228);">Type</div>
<div class="t" style="left:707.59px;top:231.00px;font-size:19.6px;line-height:19.6px;color:#2e75b6;transform:scaleX(1.0338);">de</div>
<div class="t" style="left:735.60px;top:231.00px;font-size:19.6px;line-height:19.6px;color:#2e75b6;transform:scaleX(1.0638);">voirie</div>
<div class="t" style="left:659.20px;top:257.00px;font-size:19.6px;line-height:19.6px;color:#2e75b6;transform:scaleX(1.0208);">Catégorie</div>
<div class="t" style="left:750.60px;top:257.00px;font-size:19.6px;line-height:19.6px;color:#2e75b6;transform:scaleX(1.0238);">de</div>
<div class="t" style="left:778.70px;top:257.00px;font-size:19.6px;line-height:19.6px;color:#2e75b6;transform:scaleX(1.0060);">véhicules</div>
<div class="t" style="left:865.63px;top:257.00px;font-size:19.6px;line-height:19.6px;color:#2e75b6;transform:scaleX(0.9729);">(VL,</div>
<div class="t" style="left:658.91px;top:283.00px;font-size:19.6px;line-height:19.6px;color:#2e75b6;transform:scaleX(0.9145);-webkit-text-stroke:0.27px currentColor;">PL,</div>
<div class="t" style="left:689.95px;top:283.00px;font-size:19.6px;line-height:19.6px;color:#2e75b6;transform:scaleX(0.9694);">2R)</div>
<div class="t" style="left:659.47px;top:310.00px;font-size:19.6px;line-height:19.6px;color:#2e75b6;transform:scaleX(1.0131);">Type</div>
<div class="t" style="left:707.50px;top:310.00px;font-size:19.6px;line-height:19.6px;color:#2e75b6;transform:scaleX(1.0238);">de</div>
<div class="t" style="left:735.60px;top:310.00px;font-size:19.6px;line-height:19.6px;color:#2e75b6;transform:scaleX(1.0060);">véhicules</div>
<div class="t" style="left:822.74px;top:310.00px;font-size:19.6px;line-height:19.6px;color:#2e75b6;transform:scaleX(1.0428);">(normes</div>
<div class="t" style="left:659.34px;top:336.00px;font-size:19.6px;line-height:19.6px;color:#2e75b6;transform:scaleX(1.0847);">et</div>
<div class="t" style="left:683.02px;top:336.00px;font-size:19.6px;line-height:19.6px;color:#2e75b6;transform:scaleX(0.9792);">puissances)</div>
<div class="t" style="left:659.55px;top:363.00px;font-size:19.6px;line-height:19.6px;color:#2e75b6;transform:scaleX(1.0645);">Température</div>
<div class="t" style="left:781.76px;top:363.00px;font-size:19.6px;line-height:19.6px;color:#2e75b6;transform:scaleX(1.0568);">ambiante</div>
<div class="t b" style="left:1178.80px;top:92.00px;font-size:19.6px;line-height:19.6px;color:#2e75b6;transform:scaleX(0.9164);-webkit-text-stroke:0.02px currentColor;">Parcs</div>
<div class="t b" style="left:1231.97px;top:92.00px;font-size:19.6px;line-height:19.6px;color:#2e75b6;transform:scaleX(1.0173);">roulant</div>
<div class="t b" style="left:1304.00px;top:92.00px;font-size:19.6px;line-height:19.6px;color:#2e75b6;transform:scaleX(1.1198);">&amp;</div>
<div class="t b" style="left:1183.78px;top:118.00px;font-size:19.6px;line-height:19.6px;color:#2e75b6;transform:scaleX(0.9793);">technologique</div>
<div class="t" style="left:1148.72px;top:144.00px;font-size:19.6px;line-height:19.6px;color:#2e75b6;transform:scaleX(1.0593);">(Ville</div>
<div class="t" style="left:1199.08px;top:144.00px;font-size:19.6px;line-height:19.6px;color:#2e75b6;transform:scaleX(1.0438);">de</div>
<div class="t" style="left:1226.82px;top:144.00px;font-size:19.6px;line-height:19.6px;color:#2e75b6;transform:scaleX(0.9676);">Paris,</div>
<div class="t" style="left:1280.50px;top:144.00px;font-size:19.6px;line-height:19.6px;color:#2e75b6;transform:scaleX(0.9211);-webkit-text-stroke:0.26px currentColor;">CITEPA)</div>
<div class="t b" style="left:1070.54px;top:167.00px;font-size:19.6px;line-height:19.6px;color:#2e75b6;transform:scaleX(1.0032);">Activité</div>
<div class="t" style="left:1031.55px;top:192.00px;font-size:19.6px;line-height:19.6px;color:#2e75b6;transform:scaleX(1.0348);">(Débits</div>
<div class="t" style="left:1100.14px;top:192.00px;font-size:19.6px;line-height:19.6px;color:#2e75b6;transform:scaleX(1.0373);">horaires)</div>
<div class="t b" style="left:1396.71px;top:163.00px;font-size:19.6px;line-height:19.6px;color:#2e75b6;transform:scaleX(0.8309);-webkit-text-stroke:0.16px currentColor;">FE</div>
<div class="t" style="left:1342.85px;top:189.00px;font-size:19.6px;line-height:19.6px;color:#2e75b6;transform:scaleX(0.9555);">(BDD</div>
<div class="t" style="left:1393.23px;top:189.00px;font-size:19.6px;line-height:19.6px;color:#2e75b6;transform:scaleX(0.8857);-webkit-text-stroke:0.32px currentColor;">COPERT)</div>
<div class="t b" style="left:1118.61px;top:422.00px;font-size:19.6px;line-height:19.6px;color:#2e75b6;transform:scaleX(0.9142);-webkit-text-stroke:0.03px currentColor;">Emissions</div>
<div class="t b" style="left:1212.54px;top:422.00px;font-size:19.6px;line-height:19.6px;color:#2e75b6;transform:scaleX(0.9666);">liées</div>
<div class="t b" style="left:1259.06px;top:422.00px;font-size:19.6px;line-height:19.6px;color:#2e75b6;transform:scaleX(0.9758);">à</div>
<div class="t b" style="left:1273.42px;top:422.00px;font-size:19.6px;line-height:19.6px;color:#2e75b6;transform:scaleX(1.5689);">:</div>
<div class="t" style="left:1144.98px;top:448.00px;font-size:19.6px;line-height:19.6px;color:#2e75b6;transform:scaleX(1.0396);">Combustion</div>
<div class="t" style="left:1258.40px;top:448.00px;font-size:19.6px;line-height:19.6px;color:#2e75b6;transform:scaleX(0.9934);">(Chaud,</div>
<div class="t" style="left:1332.14px;top:448.00px;font-size:19.6px;line-height:19.6px;color:#2e75b6;transform:scaleX(1.1109);">froid)</div>
<div class="t" style="left:1144.80px;top:474.00px;font-size:19.6px;line-height:19.6px;color:#2e75b6;transform:scaleX(1.0414);">Evaporation</div>
<div class="t" style="left:1258.81px;top:474.00px;font-size:19.6px;line-height:19.6px;color:#2e75b6;transform:scaleX(0.9904);">(COVNM)</div>
<div class="t" style="left:1145.80px;top:500.00px;font-size:19.6px;line-height:19.6px;color:#2e75b6;transform:scaleX(1.0208);">Abrasion</div>
<div class="t" style="left:1230.01px;top:500.00px;font-size:19.6px;line-height:19.6px;color:#2e75b6;transform:scaleX(0.9836);">(Pneus,</div>
<div class="t" style="left:1300.85px;top:500.00px;font-size:19.6px;line-height:19.6px;color:#2e75b6;transform:scaleX(1.0627);">freins,</div>
<div class="t" style="left:1361.11px;top:500.00px;font-size:19.6px;line-height:19.6px;color:#2e75b6;transform:scaleX(1.0654);">routes)</div>
<div class="t" style="left:164.03px;top:306.00px;font-size:29px;line-height:29px;color:#fff;transform:scaleX(1.0640);">Modèle</div>
<div class="t" style="left:271.80px;top:306.00px;font-size:29px;line-height:29px;color:#fff;transform:scaleX(1.0311);">de</div>
<div class="t" style="left:311.88px;top:306.00px;font-size:29px;line-height:29px;color:#fff;transform:scaleX(1.0785);">trafic</div>
<div class="t" style="left:123.48px;top:344.00px;font-size:29px;line-height:29px;color:#fff;transform:scaleX(1.0425);">horaire</div>
<div class="t" style="left:224.29px;top:344.00px;font-size:29px;line-height:29px;color:#fff;transform:scaleX(1.0426);">statique</div>
<div class="t" style="left:335.88px;top:344.00px;font-size:29px;line-height:29px;color:#fff;transform:scaleX(1.4138);">:</div>
<div class="t" style="left:352.90px;top:344.00px;font-size:29px;line-height:29px;color:#fff;transform:scaleX(0.8727);-webkit-text-stroke:0.34px currentColor;">AELG</div>
<div class="t" style="left:1048.72px;top:298.00px;font-size:29px;line-height:29px;color:#fff;transform:scaleX(1.0673);">Modèle</div>
<div class="t" style="left:1157.37px;top:298.00px;font-size:29px;line-height:29px;color:#fff;transform:scaleX(0.9881);">d’émissions</div>
<div class="t" style="left:1313.88px;top:298.00px;font-size:29px;line-height:29px;color:#fff;transform:scaleX(1.0472);">routières</div>
<div class="t" style="left:1437.27px;top:298.00px;font-size:29px;line-height:29px;color:#fff;transform:scaleX(1.7931);">:</div>
<div class="t" style="left:1128.17px;top:336.00px;font-size:29px;line-height:29px;color:#fff;transform:scaleX(0.9221);-webkit-text-stroke:0.26px currentColor;">HEAVEN</div>
<div class="t" style="left:1242.77px;top:336.00px;font-size:29px;line-height:29px;color:#fff;transform:scaleX(0.9660);">Emissions</div>
</body></html>
